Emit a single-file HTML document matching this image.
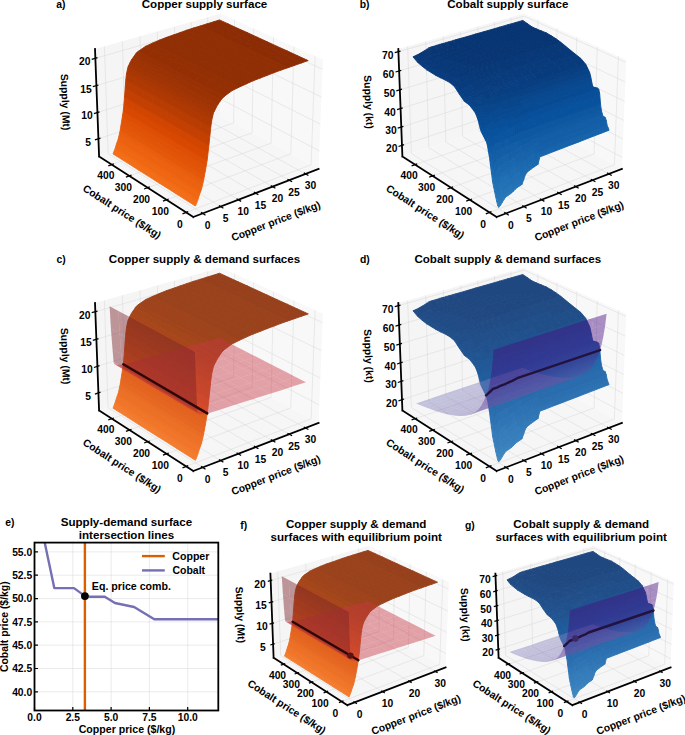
<!DOCTYPE html>
<html><head><meta charset="utf-8"><style>
html,body{margin:0;padding:0;background:#fff}
svg{display:block}
.gr{fill:none;stroke:#d2d2d2;stroke-width:4.3}
circle{fill:#000}
.ax{fill:none;stroke:#000;stroke-width:18;stroke-linecap:square}
.tk{fill:none;stroke:#000;stroke-width:13}
.tl{font-size:10.3px}
.al{font-size:10.4px}
text{font-family:"Liberation Sans",sans-serif;font-weight:bold;text-anchor:middle;fill:#000}
[class^=p]{fill-opacity:.45}
.eq{fill:none;stroke:#000;stroke-width:24;stroke-linecap:round;stroke-linejoin:round}
.p0{fill:#c73742}
.p1{fill:#b4313b}
.p2{fill:#a12c35}
.p3{fill:#8e272f}
.p4{fill:#7b2228}
.o0{fill:#f87f2c;stroke:#f87f2c}
.b0{fill:#5ba3d0;stroke:#5ba3d0}
.O0{fill:#f88b40;stroke:#f88b40}
.B0{fill:#6aabd4;stroke:#6aabd4}
.v0{fill:#b6b6d8;fill-opacity:.45}
.o1{fill:#f77b28;stroke:#f77b28}
.b1{fill:#57a0ce;stroke:#57a0ce}
.O1{fill:#f7873d;stroke:#f7873d}
.B1{fill:#67a9d2;stroke:#67a9d2}
.v1{fill:#b2b2d5;fill-opacity:.45}
.o2{fill:#f67824;stroke:#f67824}
.b2{fill:#539ecd;stroke:#539ecd}
.O2{fill:#f68539;stroke:#f68539}
.B2{fill:#63a7d1;stroke:#63a7d1}
.v2{fill:#aeadd3;fill-opacity:.45}
.o3{fill:#f57520;stroke:#f57520}
.b3{fill:#4f9bcb;stroke:#4f9bcb}
.O3{fill:#f58235;stroke:#f58235}
.B3{fill:#60a4cf;stroke:#60a4cf}
.v3{fill:#aba9d0;fill-opacity:.45}
.o4{fill:#f4711c;stroke:#f4711c}
.b4{fill:#4b98ca;stroke:#4b98ca}
.O4{fill:#f47e32;stroke:#f47e32}
.B4{fill:#5ca1ce;stroke:#5ca1ce}
.v4{fill:#a7a4ce;fill-opacity:.45}
.o5{fill:#f36e19;stroke:#f36e19}
.b5{fill:#4896c8;stroke:#4896c8}
.O5{fill:#f37c2f;stroke:#f37c2f}
.B5{fill:#59a0cd;stroke:#59a0cd}
.v5{fill:#a3a0cb;fill-opacity:.45}
.o6{fill:#f26b15;stroke:#f26b15}
.b6{fill:#4493c7;stroke:#4493c7}
.O6{fill:#f2792c;stroke:#f2792c}
.B6{fill:#569dcc;stroke:#569dcc}
.v6{fill:#9f9cc9;fill-opacity:.45}
.o7{fill:#f06712;stroke:#f06712}
.b7{fill:#4090c5;stroke:#4090c5}
.O7{fill:#f17529;stroke:#f17529}
.B7{fill:#529aca;stroke:#529aca}
.v7{fill:#9d99c7;fill-opacity:.45}
.o8{fill:#ee6410;stroke:#ee6410}
.b8{fill:#3d8dc4;stroke:#3d8dc4}
.O8{fill:#ef7327;stroke:#ef7327}
.B8{fill:#5098c9;stroke:#5098c9}
.v8{fill:#9995c6;fill-opacity:.45}
.o9{fill:#eb610f;stroke:#eb610f}
.b9{fill:#3a8ac2;stroke:#3a8ac2}
.O9{fill:#ec7026;stroke:#ec7026}
.B9{fill:#4d95c7;stroke:#4d95c7}
.v9{fill:#9591c4;fill-opacity:.45}
.o10{fill:#e95e0d;stroke:#e95e0d}
.b10{fill:#3787c0;stroke:#3787c0}
.O10{fill:#ea6d24;stroke:#ea6d24}
.B10{fill:#4a92c5;stroke:#4a92c5}
.v10{fill:#918ec2;fill-opacity:.45}
.o11{fill:#e75b0b;stroke:#e75b0b}
.b11{fill:#3484bf;stroke:#3484bf}
.O11{fill:#e86a22;stroke:#e86a22}
.B11{fill:#478fc4;stroke:#478fc4}
.v11{fill:#8e8ac0;fill-opacity:.45}
.o12{fill:#e4580a;stroke:#e4580a}
.b12{fill:#3181bd;stroke:#3181bd}
.O12{fill:#e66822;stroke:#e66822}
.B12{fill:#458dc3;stroke:#458dc3}
.v12{fill:#8a86bf;fill-opacity:.45}
.o13{fill:#e25508;stroke:#e25508}
.b13{fill:#2e7ebc;stroke:#2e7ebc}
.O13{fill:#e46520;stroke:#e46520}
.B13{fill:#428ac2;stroke:#428ac2}
.v13{fill:#8683bd;fill-opacity:.45}
.o14{fill:#e05206;stroke:#e05206}
.b14{fill:#2b7bba;stroke:#2b7bba}
.O14{fill:#e2621e;stroke:#e2621e}
.B14{fill:#3f87c0;stroke:#3f87c0}
.v14{fill:#827fbb;fill-opacity:.45}
.o15{fill:#de4e05;stroke:#de4e05}
.b15{fill:#2777b8;stroke:#2777b8}
.O15{fill:#e05f1d;stroke:#e05f1d}
.B15{fill:#3c84be;stroke:#3c84be}
.v15{fill:#7f7bb9;fill-opacity:.45}
.o16{fill:#db4b03;stroke:#db4b03}
.b16{fill:#2474b7;stroke:#2474b7}
.O16{fill:#de5c1b;stroke:#de5c1b}
.B16{fill:#3981bd;stroke:#3981bd}
.v16{fill:#7c75b6;fill-opacity:.45}
.o17{fill:#d94801;stroke:#d94801}
.b17{fill:#2171b5;stroke:#2171b5}
.O17{fill:#dc591a;stroke:#dc591a}
.B17{fill:#367ebc;stroke:#367ebc}
.v17{fill:#7970b3;fill-opacity:.45}
.o18{fill:#d64701;stroke:#d64701}
.b18{fill:#206fb4;stroke:#206fb4}
.O18{fill:#d9581a;stroke:#d9581a}
.B18{fill:#357cbb;stroke:#357cbb}
.v18{fill:#776ab0;fill-opacity:.45}
.o19{fill:#d14501;stroke:#d14501}
.b19{fill:#1d6cb1;stroke:#1d6cb1}
.O19{fill:#d5571a;stroke:#d5571a}
.B19{fill:#337ab8;stroke:#337ab8}
.v19{fill:#7465ad;fill-opacity:.45}
.o20{fill:#cd4401;stroke:#cd4401}
.b20{fill:#1b69af;stroke:#1b69af}
.O20{fill:#d1561a;stroke:#d1561a}
.B20{fill:#3177b6;stroke:#3177b6}
.v20{fill:#715faa;fill-opacity:.45}
.o21{fill:#c84202;stroke:#c84202}
.b21{fill:#1966ad;stroke:#1966ad}
.O21{fill:#cd541a;stroke:#cd541a}
.B21{fill:#2f74b4;stroke:#2f74b4}
.v21{fill:#6e5aa8;fill-opacity:.45}
.o22{fill:#c34002;stroke:#c34002}
.b22{fill:#1663aa;stroke:#1663aa}
.O22{fill:#c8521a;stroke:#c8521a}
.B22{fill:#2c72b2;stroke:#2c72b2}
.v22{fill:#6c54a5;fill-opacity:.45}
.o23{fill:#be3f02;stroke:#be3f02}
.b23{fill:#1460a8;stroke:#1460a8}
.O23{fill:#c4511a;stroke:#c4511a}
.B23{fill:#2b6fb0;stroke:#2b6fb0}
.v23{fill:#6950a3;fill-opacity:.45}
.o24{fill:#b93d02;stroke:#b93d02}
.b24{fill:#125da6;stroke:#125da6}
.O24{fill:#bf501a;stroke:#bf501a}
.B24{fill:#296cae;stroke:#296cae}
.v24{fill:#674ba0;fill-opacity:.45}
.o25{fill:#b53b02;stroke:#b53b02}
.b25{fill:#0f5aa3;stroke:#0f5aa3}
.O25{fill:#bc4e1a;stroke:#bc4e1a}
.B25{fill:#266aab;stroke:#266aab}
.v25{fill:#64459e;fill-opacity:.45}
.o26{fill:#b03903;stroke:#b03903}
.b26{fill:#0d57a1;stroke:#0d57a1}
.O26{fill:#b74c1b;stroke:#b74c1b}
.B26{fill:#2467aa;stroke:#2467aa}
.v26{fill:#61409b;fill-opacity:.45}
.o27{fill:#ab3803;stroke:#ab3803}
.b27{fill:#0a549e;stroke:#0a549e}
.O27{fill:#b24b1b;stroke:#b24b1b}
.B27{fill:#2264a7;stroke:#2264a7}
.v27{fill:#5e3b98;fill-opacity:.45}
.o28{fill:#a63603;stroke:#a63603}
.b28{fill:#08519c;stroke:#08519c}
.O28{fill:#ae491b;stroke:#ae491b}
.B28{fill:#2062a5;stroke:#2062a5}
.v28{fill:#5c3696;fill-opacity:.45}
.o29{fill:#a23503;stroke:#a23503}
.b29{fill:#084e98;stroke:#084e98}
.O29{fill:#aa481b;stroke:#aa481b}
.B29{fill:#205fa1;stroke:#205fa1}
.v29{fill:#593093;fill-opacity:.45}
.o30{fill:#9f3303;stroke:#9f3303}
.b30{fill:#084b93;stroke:#084b93}
.O30{fill:#a8461b;stroke:#a8461b}
.B30{fill:#205c9d;stroke:#205c9d}
.v30{fill:#562b91;fill-opacity:.45}
.o31{fill:#9b3203;stroke:#9b3203}
.b31{fill:#08488e;stroke:#08488e}
.O31{fill:#a4461b;stroke:#a4461b}
.B31{fill:#205998;stroke:#205998}
.v31{fill:#53268f;fill-opacity:.45}
.o32{fill:#973003;stroke:#973003}
.b32{fill:#08458a;stroke:#08458a}
.O32{fill:#a0441b;stroke:#a0441b}
.B32{fill:#205795;stroke:#205795}
.v32{fill:#51218c;fill-opacity:.45}
.o33{fill:#942f03;stroke:#942f03}
.b33{fill:#084285;stroke:#084285}
.O33{fill:#9e431b;stroke:#9e431b}
.B33{fill:#205490;stroke:#205490}
.v33{fill:#4e1c8a;fill-opacity:.45}
.o34{fill:#902e04;stroke:#902e04}
.b34{fill:#083e81;stroke:#083e81}
.O34{fill:#9a421c;stroke:#9a421c}
.B34{fill:#20508d;stroke:#20508d}
.v34{fill:#4c1788;fill-opacity:.45}
.o35{fill:#8c2c04;stroke:#8c2c04}
.b35{fill:#083b7c;stroke:#083b7c}
.O35{fill:#97401c;stroke:#97401c}
.B35{fill:#204e88;stroke:#204e88}
.v35{fill:#491285;fill-opacity:.45}
.o36{fill:#892b04;stroke:#892b04}
.b36{fill:#083877;stroke:#083877}
.O36{fill:#943f1c;stroke:#943f1c}
.B36{fill:#204b84;stroke:#204b84}
.v36{fill:#460d83;fill-opacity:.45}
.o37{fill:#852904;stroke:#852904}
.b37{fill:#083573;stroke:#083573}
.O37{fill:#903e1c;stroke:#903e1c}
.B37{fill:#204880;stroke:#204880}
.v37{fill:#440981;fill-opacity:.45}
.o38{fill:#812804;stroke:#812804}
.b38{fill:#08326e;stroke:#08326e}
.O38{fill:#8d3d1c;stroke:#8d3d1c}
.B38{fill:#20467c;stroke:#20467c}
.v38{fill:#41047f;fill-opacity:.45}
.o39{fill:#7f2704;stroke:#7f2704}
.b39{fill:#08306b;stroke:#08306b}
.O39{fill:#8b3c1c;stroke:#8b3c1c}
.B39{fill:#204479;stroke:#204479}
.v39{fill:#3f007d;fill-opacity:.45}
[class^=o],[class^=b],[class^=O],[class^=B]{stroke-width:9;stroke-linejoin:round}
</style></head><body>
<svg width="685" height="735" viewBox="0 0 685 735">
<rect width="685" height="735" fill="#fff"/>
<g transform="scale(.1)">
<path fill="#f8f8f8" d="M3186 1689l-982-531 4-1022 1021 462z"/>
<path fill="#f5f5f5" d="M991 1565l1213-407 4-1022-1258 354z"/>
<path fill="#f6f6f6" d="M1933 2170l1253-481-982-531-1213 407z"/>
<path class="gr" d="M2027 2134l-946-599-37-1071M2206 2065l-951-588-31-1064M2382 1997l-957-577-25-1057M2555 1931l-963-568-18-1049M2725 1866l-968-558-12-1042M2892 1802l-974-548-6-1035M3055 1739l-978-538 0-1028M3151 563l-40 1085-1250 476M2940 467l-32 1072-1242 459M2735 374l-24 1058-1234 445M2537 285l-16 1044-1227 431M2346 198l-9 1032-1219 416M984 1388l1221-399 988 520M974 1125l1232-386 997 503M964 856l1243-372 1007 486M953 583l1255-359 1017 468"/>
<path class="ax" d="M3186 1689l-1253 481M991 1565l942 605M991 1565l-41-1075"/>
<path class="tk" d="M2010 2123l45 29M2190 2055l44 27M2366 1987l45 27M2539 1921l45 27M2708 1856l46 26M2875 1792l46 26M3038 1729l46 26M1882 2116l-57 22M1687 1990l-58 22M1498 1869l-57 21M1315 1752l-56 20M1139 1639l-56 20M1005 1381l-56 18M995 1118l-56 18M985 850l-57 17M975 577l-58 17"/>
<path class="o35" d="M2222 262l66-20-93-43-65 21zM2156 283l66-21-92-42-65 20zM2090 304l66-21-91-43-66 21zM2316 305l65-20-93-43-66 20z"/>
<path class="o34" d="M2023 325l67-21-91-43-67 20z"/>
<path class="o35" d="M2250 327l66-22-94-43-66 21z"/>
<path class="o34" d="M1956 347l67-22-91-44-67 22z"/>
<path class="o35" d="M2183 348l67-21-94-44-66 21zM2411 349l66-21-96-43-65 20z"/>
<path class="o34" d="M1889 371l67-24-91-44-67 24zM2116 369l67-21-93-44-67 21z"/>
<path class="o35" d="M2345 371l66-22-95-44-66 22z"/>
<path class="o5" d="M1216 1593l8-20-86-54-8 20zM1224 1573l8-20-86-54-8 20z"/>
<path class="o6" d="M1232 1553l8-25-86-53-8 24z"/>
<path class="o7" d="M1240 1528l8-26-86-54-8 27z"/>
<path class="o34" d="M1820 395l69-24-91-44-68 24z"/>
<path class="o7" d="M1248 1502l8-26-86-53-8 25z"/>
<path class="o8" d="M1256 1476l9-21-86-53-9 21z"/>
<path class="o9" d="M1265 1455l8-28-87-53-7 28z"/>
<path class="o34" d="M2049 392l67-23-93-44-67 22z"/>
<path class="o9" d="M1273 1427l8-35-87-53-8 35z"/>
<path class="o10" d="M1281 1392l8-37-87-53-8 37z"/>
<path class="o35" d="M2278 392l67-21-95-44-67 21z"/>
<path class="o12" d="M1289 1355l7-45-87-52-7 44z"/>
<path class="o34" d="M1752 419l68-24-90-44-69 24z"/>
<path class="o35" d="M2508 394l66-21-97-45-66 21z"/>
<path class="o13" d="M1296 1310l8-46-87-52-8 46z"/>
<path class="o34" d="M1981 416l68-24-93-45-67 24z"/>
<path class="o14" d="M1304 1264l7-49-87-52-7 49z"/>
<path class="o34" d="M2211 414l67-22-95-44-67 21z"/>
<path class="o15" d="M1311 1215l8-50-87-51-8 49z"/>
<path class="o34" d="M1683 448l69-29-91-44-68 27z"/>
<path class="o35" d="M2441 416l67-22-97-45-66 22z"/>
<path class="o5" d="M1303 1648l8-20-87-55-8 20zM1311 1628l8-21-87-54-8 20z"/>
<path class="o6" d="M1319 1607l9-24-88-55-8 25z"/>
<path class="o17" d="M1319 1165l7-69-87-51-7 69z"/>
<path class="o7" d="M1328 1583l8-27-88-54-8 26z"/>
<path class="o34" d="M1913 441l68-25-92-45-69 24z"/>
<path class="o7" d="M1336 1556l8-26-88-54-8 26z"/>
<path class="o8" d="M1344 1530l8-21-87-54-9 21z"/>
<path class="o9" d="M1352 1509l9-28-88-54-8 28z"/>
<path class="o34" d="M2143 437l68-23-95-45-67 23z"/>
<path class="o9" d="M1361 1481l8-36-88-53-8 35z"/>
<path class="o19" d="M1326 1096l7-75-88-50-6 74z"/>
<path class="o34" d="M1613 478l70-30-90-46-70 30z"/>
<path class="o10" d="M1369 1445l7-37-87-53-8 37z"/>
<path class="o35" d="M2374 438l67-22-96-45-67 21z"/>
<path class="o12" d="M1376 1408l8-45-88-53-7 45z"/>
<path class="o34" d="M1844 465l69-24-93-46-68 24z"/>
<path class="o35" d="M2606 440l66-22-98-45-66 21z"/>
<path class="o22" d="M1333 1021l7-91-88-50-7 91z"/>
<path class="o13" d="M1384 1363l8-47-88-52-8 46z"/>
<path class="o34" d="M2075 462l68-25-94-45-68 24z"/>
<path class="o33" d="M1544 510l69-32-90-46-69 32z"/>
<path class="o14" d="M1392 1316l8-49-89-52-7 49z"/>
<path class="o34" d="M2307 460l67-22-96-46-67 22z"/>
<path class="o15" d="M1400 1267l8-50-89-52-8 50z"/>
<path class="o24" d="M1340 930l6-82-88-49-6 81z"/>
<path class="o34" d="M1775 494l69-29-92-46-69 29z"/>
<path class="o35" d="M2539 462l67-22-98-46-67 22z"/>
<path class="o5" d="M1391 1704l9-20-89-56-8 20zM1400 1684l8-21-89-56-8 21z"/>
<path class="o6" d="M1408 1663l8-25-88-55-9 24z"/>
<path class="o17" d="M1408 1217l7-70-89-51-7 69z"/>
<path class="o7" d="M1416 1638l9-27-89-55-8 27z"/>
<path class="o33" d="M1474 559l70-49-90-46-70 49z"/>
<path class="o34" d="M2007 487l68-25-94-46-68 25z"/>
<path class="o26" d="M1346 848l8-61-89-48-7 60z"/>
<path class="o7" d="M1425 1611l8-26-89-55-8 26z"/>
<path class="o8" d="M1433 1585l8-22-89-54-8 21z"/>
<path class="o9" d="M1441 1563l9-28-89-54-9 28z"/>
<path class="o34" d="M2239 483l68-23-96-46-68 23z"/>
<path class="o32" d="M1465 567l9-8-90-46-8 7z"/>
<path class="o27" d="M1354 787l8-39-89-48-8 39z"/>
<path class="o9" d="M1450 1535l8-35-89-55-8 36z"/>
<path class="o32" d="M1456 575l9-8-89-47-9 8z"/>
<path class="o19" d="M1415 1147l7-75-89-51-7 75z"/>
<path class="o32" d="M1447 583l9-8-89-47-9 8z"/>
<path class="o34" d="M1705 524l70-30-92-46-70 30z"/>
<path class="o32" d="M1439 596l8-13-89-47-8 13z"/>
<path class="o28" d="M1362 748l8-34-89-48-8 34z"/>
<path class="o10" d="M1458 1500l8-38-90-54-7 37z"/>
<path class="o31" d="M1430 608l9-12-89-47-9 12zM1421 621l9-13-89-47-9 13z"/>
<path class="o35" d="M2472 484l67-22-98-46-67 22z"/>
<path class="o31" d="M1413 633l8-12-89-47-8 12z"/>
<path class="o29" d="M1370 714l8-18-88-48-9 18zM1378 696l9-18-89-47-8 17z"/>
<path class="o31" d="M1404 646l9-13-89-47-9 12z"/>
<path class="o30" d="M1387 678l9-16-89-47-9 16zM1396 662l8-16-89-48-8 17z"/>
<path class="o12" d="M1466 1462l8-46-90-53-8 45z"/>
<path class="o34" d="M1937 512l70-25-94-46-69 24z"/>
<path class="o35" d="M2706 486l66-22-100-46-66 22z"/>
<path class="o22" d="M1422 1072l7-92-89-50-7 91z"/>
<path class="o13" d="M1474 1416l8-46-90-54-8 47z"/>
<path class="o34" d="M2171 508l68-25-96-46-68 25z"/>
<path class="o33" d="M1635 556l70-32-92-46-69 32z"/>
<path class="o14" d="M1482 1370l8-50-90-53-8 49z"/>
<path class="o34" d="M2405 506l67-22-98-46-67 22z"/>
<path class="o15" d="M1490 1320l8-50-90-53-8 50z"/>
<path class="o24" d="M1429 980l7-82-90-50-6 82z"/>
<path class="o34" d="M1868 540l69-28-93-47-69 29z"/>
<path class="o35" d="M2639 508l67-22-100-46-67 22z"/>
<path class="o5" d="M1481 1761l9-21-90-56-9 20zM1490 1740l8-21-90-56-8 21z"/>
<path class="o6" d="M1498 1719l9-24-91-57-8 25z"/>
<path class="o17" d="M1498 1270l7-71-90-52-7 70z"/>
<path class="o7" d="M1507 1695l8-28-90-56-9 27z"/>
<path class="o33" d="M1564 607l71-51-91-46-70 49z"/>
<path class="o34" d="M2102 533l69-25-96-46-68 25z"/>
<path class="o26" d="M1436 898l8-61-90-50-8 61z"/>
<path class="o7" d="M1515 1667l8-26-90-56-8 26z"/>
<path class="o8" d="M1523 1641l9-22-91-56-8 22z"/>
<path class="o9" d="M1532 1619l8-28-90-56-9 28z"/>
<path class="o34" d="M2336 530l69-24-98-46-68 23z"/>
<path class="o32" d="M1556 615l8-8-90-48-9 8z"/>
<path class="o27" d="M1444 837l8-40-90-49-8 39z"/>
<path class="o9" d="M1540 1591l9-36-91-55-8 35z"/>
<path class="o32" d="M1547 623l9-8-91-48-9 8z"/>
<path class="o19" d="M1505 1199l8-76-91-51-7 75z"/>
<path class="o32" d="M1538 631l9-8-91-48-9 8z"/>
<path class="o34" d="M1798 571l70-31-93-46-70 30z"/>
<path class="o32" d="M1529 644l9-13-91-48-8 13z"/>
<path class="o28" d="M1452 797l8-35-90-48-8 34z"/>
<path class="o10" d="M1549 1555l8-38-91-55-8 38z"/>
<path class="o31" d="M1521 656l8-12-90-48-9 12zM1512 669l9-13-91-48-9 13z"/>
<path class="o35" d="M2572 531l67-23-100-46-67 22z"/>
<path class="o31" d="M1503 681l9-12-91-48-8 12z"/>
<path class="o29" d="M1460 762l9-17-91-49-8 18zM1469 745l8-18-90-49-9 18z"/>
<path class="o31" d="M1495 694l8-13-90-48-9 13z"/>
<path class="o30" d="M1477 727l9-17-90-48-9 16zM1486 710l9-16-91-48-8 16z"/>
<path class="o12" d="M1557 1517l8-46-91-55-8 46z"/>
<path class="o34" d="M2033 559l69-26-95-46-70 25z"/>
<path class="o35" d="M2807 533l67-23-102-46-66 22z"/>
<path class="o22" d="M1513 1123l7-92-91-51-7 92z"/>
<path class="o13" d="M1565 1471l8-47-91-54-8 46z"/>
<path class="o34" d="M2268 556l68-26-97-47-68 25z"/>
<path class="o33" d="M1727 604l71-33-93-47-70 32z"/>
<path class="o14" d="M1573 1424l8-50-91-54-8 50z"/>
<path class="o34" d="M2504 554l68-23-100-47-67 22z"/>
<path class="o15" d="M1581 1374l8-50-91-54-8 50z"/>
<path class="o24" d="M1520 1031l7-83-91-50-7 82z"/>
<path class="o34" d="M1963 588l70-29-96-47-69 28z"/>
<path class="o35" d="M2740 556l67-23-101-47-67 22z"/>
<path class="o5" d="M1573 1819l8-21-91-58-9 21zM1581 1798l9-21-92-58-8 21z"/>
<path class="o6" d="M1590 1777l8-25-91-57-9 24z"/>
<path class="o17" d="M1589 1324l8-71-92-54-7 71z"/>
<path class="o7" d="M1598 1752l9-28-92-57-8 28z"/>
<path class="o33" d="M1657 655l70-51-92-48-71 51z"/>
<path class="o34" d="M2199 581l69-25-97-48-69 25z"/>
<path class="o26" d="M1527 948l8-61-91-50-8 61z"/>
<path class="o7" d="M1607 1724l8-26-92-57-8 26z"/>
<path class="o8" d="M1615 1698l9-22-92-57-9 22z"/>
<path class="o9" d="M1624 1676l8-29-92-56-8 28z"/>
<path class="o34" d="M2435 578l69-24-99-48-69 24z"/>
<path class="o32" d="M1648 663l9-8-93-48-8 8z"/>
<path class="o27" d="M1535 887l8-40-91-50-8 40z"/>
<path class="o9" d="M1632 1647l9-36-92-56-9 36z"/>
<path class="o32" d="M1639 671l9-8-92-48-9 8z"/>
<path class="o19" d="M1597 1253l8-77-92-53-8 76z"/>
<path class="o32" d="M1630 679l9-8-92-48-9 8z"/>
<path class="o34" d="M1892 619l71-31-95-48-70 31z"/>
<path class="o32" d="M1622 692l8-13-92-48-9 13z"/>
<path class="o28" d="M1543 847l9-35-92-50-8 35z"/>
<path class="o10" d="M1641 1611l8-38-92-56-8 38z"/>
<path class="o31" d="M1613 705l9-13-93-48-8 12zM1604 718l9-13-92-49-9 13z"/>
<path class="o35" d="M2673 579l67-23-101-48-67 23z"/>
<path class="o31" d="M1595 730l9-12-92-49-9 12z"/>
<path class="o29" d="M1552 812l8-18-91-49-9 17zM1560 794l9-18-92-49-8 18z"/>
<path class="o31" d="M1586 743l9-13-92-49-8 13z"/>
<path class="o30" d="M1569 776l9-16-92-50-9 17zM1578 760l8-17-91-49-9 16z"/>
<path class="o12" d="M1649 1573l9-46-93-56-8 46z"/>
<path class="o34" d="M2129 607l70-26-97-48-69 26z"/>
<path class="o35" d="M2910 581l67-23-103-48-67 23z"/>
<path class="o22" d="M1605 1176l7-93-92-52-7 92z"/>
<path class="o13" d="M1658 1527l8-48-93-55-8 47z"/>
<path class="o34" d="M2367 604l68-26-99-48-68 26z"/>
<path class="o33" d="M1822 653l70-34-94-48-71 33z"/>
<path class="o14" d="M1666 1479l8-50-93-55-8 50z"/>
<path class="o34" d="M2605 602l68-23-101-48-68 23z"/>
<path class="o15" d="M1674 1429l8-51-93-54-8 50z"/>
<path class="o24" d="M1612 1083l8-83-93-52-7 83z"/>
<path class="o34" d="M2059 636l70-29-96-48-70 29z"/>
<path class="o35" d="M2843 604l67-23-103-48-67 23z"/>
<path class="o5" d="M1666 1877l8-21-93-58-8 21zM1674 1856l9-21-93-58-9 21z"/>
<path class="o6" d="M1683 1835l9-25-94-58-8 25z"/>
<path class="o17" d="M1682 1378l8-71-93-54-8 71z"/>
<path class="o7" d="M1692 1810l8-28-93-58-9 28z"/>
<path class="o33" d="M1751 704l71-51-95-49-70 51z"/>
<path class="o34" d="M2297 629l70-25-99-48-69 25z"/>
<path class="o26" d="M1620 1000l8-62-93-51-8 61z"/>
<path class="o7" d="M1700 1782l9-27-94-57-8 26z"/>
<path class="o8" d="M1709 1755l9-22-94-57-9 22z"/>
<path class="o9" d="M1718 1733l8-28-94-58-8 29z"/>
<path class="o34" d="M2536 626l69-24-101-48-69 24z"/>
<path class="o32" d="M1742 712l9-8-94-49-9 8z"/>
<path class="o27" d="M1628 938l8-40-93-51-8 40z"/>
<path class="o9" d="M1726 1705l9-37-94-57-9 36z"/>
<path class="o32" d="M1733 720l9-8-94-49-9 8z"/>
<path class="o19" d="M1690 1307l8-78-93-53-8 77z"/>
<path class="o32" d="M1724 729l9-9-94-49-9 8z"/>
<path class="o34" d="M1989 668l70-32-96-48-71 31z"/>
<path class="o32" d="M1715 742l9-13-94-50-8 13z"/>
<path class="o28" d="M1636 898l9-36-93-50-9 35z"/>
<path class="o10" d="M1735 1668l8-38-94-57-8 38z"/>
<path class="o31" d="M1706 754l9-12-93-50-9 13zM1698 767l8-13-93-49-9 13z"/>
<path class="o35" d="M2776 627l67-23-103-48-67 23z"/>
<path class="o31" d="M1689 780l9-13-94-49-9 12z"/>
<path class="o29" d="M1645 862l9-18-94-50-8 18zM1654 844l8-18-93-50-9 18z"/>
<path class="o31" d="M1680 793l9-13-94-50-9 13z"/>
<path class="o30" d="M1662 826l9-16-93-50-9 16zM1671 810l9-17-94-50-8 17z"/>
<path class="o12" d="M1743 1630l9-47-94-56-9 46z"/>
<path class="o34" d="M2228 656l69-27-98-48-70 26z"/>
<path class="o35" d="M3015 629l67-23-105-48-67 23z"/>
<path class="o22" d="M1698 1229l8-93-94-53-7 93z"/>
<path class="o13" d="M1752 1583l8-47-94-57-8 48z"/>
<path class="o34" d="M2467 652l69-26-101-48-68 26z"/>
<path class="o33" d="M1918 702l71-34-97-49-70 34z"/>
<path class="o14" d="M1760 1536l9-51-95-56-8 50z"/>
<path class="o34" d="M2707 651l69-24-103-48-68 23z"/>
<path class="o15" d="M1769 1485l8-51-95-56-8 51z"/>
<path class="o24" d="M1706 1136l8-84-94-52-8 83z"/>
<path class="o34" d="M2157 686l71-30-99-49-70 29z"/>
<path class="o35" d="M2948 653l67-24-105-48-67 23z"/>
<path class="o5" d="M1760 1937l9-21-95-60-8 21zM1769 1916l9-21-95-60-9 21z"/>
<path class="o6" d="M1778 1895l9-26-95-59-9 25z"/>
<path class="o17" d="M1777 1434l8-72-95-55-8 71z"/>
<path class="o7" d="M1787 1869l8-28-95-59-8 28z"/>
<path class="o33" d="M1846 754l72-52-96-49-71 51z"/>
<path class="o34" d="M2398 679l69-27-100-48-70 25z"/>
<path class="o26" d="M1714 1052l8-63-94-51-8 62z"/>
<path class="o7" d="M1795 1841l9-27-95-59-9 27z"/>
<path class="o8" d="M1804 1814l9-22-95-59-9 22z"/>
<path class="o9" d="M1813 1792l9-29-96-58-8 28z"/>
<path class="o34" d="M2639 676l68-25-102-49-69 24z"/>
<path class="o32" d="M1837 762l9-8-95-50-9 8z"/>
<path class="o27" d="M1722 989l9-40-95-51-8 40z"/>
<path class="o9" d="M1822 1763l8-37-95-58-9 37z"/>
<path class="o32" d="M1828 770l9-8-95-50-9 8z"/>
<path class="o19" d="M1785 1362l9-78-96-55-8 78z"/>
<path class="o32" d="M1820 779l8-9-95-50-9 9z"/>
<path class="o34" d="M2086 718l71-32-98-50-70 32z"/>
<path class="o32" d="M1811 792l9-13-96-50-9 13z"/>
<path class="o28" d="M1731 949l9-35-95-52-9 36z"/>
<path class="o10" d="M1830 1726l9-38-96-58-8 38z"/>
<path class="o31" d="M1802 805l9-13-96-50-9 12zM1793 818l9-13-96-51-8 13z"/>
<path class="o35" d="M2880 677l68-24-105-49-67 23z"/>
<path class="o31" d="M1784 831l9-13-95-51-9 13z"/>
<path class="o29" d="M1740 914l8-19-94-51-9 18zM1748 895l9-18-95-51-8 18z"/>
<path class="o31" d="M1775 843l9-12-95-51-9 13z"/>
<path class="o30" d="M1757 877l9-17-95-50-9 16zM1766 860l9-17-95-50-9 17z"/>
<path class="o12" d="M1839 1688l9-47-96-58-9 47z"/>
<path class="o34" d="M2328 705l70-26-101-50-69 27z"/>
<path class="o22" d="M1794 1284l8-94-96-54-8 93z"/>
<path class="o13" d="M1848 1641l8-48-96-57-8 47z"/>
<path class="o34" d="M2569 702l70-26-103-50-69 26z"/>
<path class="o33" d="M2015 752l71-34-97-50-71 34z"/>
<path class="o14" d="M1856 1593l9-52-96-56-9 51z"/>
<path class="o34" d="M2812 700l68-23-104-50-69 24z"/>
<path class="o15" d="M1865 1541l8-51-96-56-8 51z"/>
<path class="o24" d="M1802 1190l8-85-96-53-8 84z"/>
<path class="o34" d="M2257 736l71-31-100-49-71 30z"/>
<path class="o5" d="M1856 1998l9-21-96-61-9 21zM1865 1977l9-22-96-60-9 21z"/>
<path class="o6" d="M1874 1955l9-26-96-60-9 26z"/>
<path class="o17" d="M1873 1490l9-73-97-55-8 72z"/>
<path class="o7" d="M1883 1929l9-28-97-60-8 28z"/>
<path class="o33" d="M1944 804l71-52-97-50-72 52z"/>
<path class="o34" d="M2500 729l69-27-102-50-69 27z"/>
<path class="o26" d="M1810 1105l8-63-96-53-8 63z"/>
<path class="o7" d="M1892 1901l9-27-97-60-9 27z"/>
<path class="o8" d="M1901 1874l9-22-97-60-9 22z"/>
<path class="o9" d="M1910 1852l8-30-96-59-9 29z"/>
<path class="o34" d="M2743 726l69-26-105-49-68 25z"/>
<path class="o32" d="M1935 813l9-9-98-50-9 8z"/>
<path class="o27" d="M1818 1042l9-40-96-53-9 40z"/>
<path class="o9" d="M1918 1822l9-37-97-59-8 37z"/>
<path class="o32" d="M1926 821l9-8-98-51-9 8z"/>
<path class="o19" d="M1882 1417l8-78-96-55-9 78z"/>
<path class="o32" d="M1917 830l9-9-98-51-8 9z"/>
<path class="o34" d="M2186 768l71-32-100-50-71 32z"/>
<path class="o32" d="M1908 843l9-13-97-51-9 13z"/>
<path class="o28" d="M1827 1002l9-36-96-52-9 35z"/>
<path class="o10" d="M1927 1785l9-39-97-58-9 38z"/>
<path class="o31" d="M1899 856l9-13-97-51-9 13zM1890 869l9-13-97-51-9 13zM1881 882l9-13-97-51-9 13z"/>
<path class="o29" d="M1836 966l9-19-97-52-8 19zM1845 947l9-18-97-52-9 18z"/>
<path class="o31" d="M1872 895l9-13-97-51-9 12z"/>
<path class="o30" d="M1854 929l9-17-97-52-9 17zM1863 912l9-17-97-52-9 17z"/>
<path class="o12" d="M1936 1746l9-47-97-58-9 47z"/>
<path class="o34" d="M2429 756l71-27-102-50-70 26z"/>
<path class="o22" d="M1890 1339l9-95-97-54-8 94z"/>
<path class="o13" d="M1945 1699l9-48-98-58-8 48z"/>
<path class="o34" d="M2673 753l70-27-104-50-70 26z"/>
<path class="o33" d="M2114 803l72-35-100-50-71 34z"/>
<path class="o14" d="M1954 1651l9-52-98-58-9 52z"/>
<path class="o15" d="M1963 1599l8-52-98-57-8 51z"/>
<path class="o24" d="M1899 1244l8-85-97-54-8 85z"/>
<path class="o34" d="M2359 787l70-31-101-51-71 31z"/>
<path class="o5" d="M1954 2060l9-22-98-61-9 21zM1963 2038l9-21-98-62-9 22z"/>
<path class="o6" d="M1972 2017l9-26-98-62-9 26z"/>
<path class="o17" d="M1971 1547l9-73-98-57-9 73z"/>
<path class="o7" d="M1981 1991l9-29-98-61-9 28z"/>
<path class="o33" d="M2042 856l72-53-99-51-71 52z"/>
<path class="o34" d="M2603 780l70-27-104-51-69 27z"/>
<path class="o26" d="M1907 1159l9-63-98-54-8 63z"/>
<path class="o7" d="M1990 1962l9-27-98-61-9 27z"/>
<path class="o8" d="M1999 1935l9-23-98-60-9 22z"/>
<path class="o9" d="M2008 1912l9-29-99-61-8 30z"/>
<path class="o32" d="M2033 865l9-9-98-52-9 9z"/>
<path class="o27" d="M1916 1096l9-41-98-53-9 40z"/>
<path class="o9" d="M2017 1883l9-37-99-61-9 37z"/>
<path class="o32" d="M2024 873l9-8-98-52-9 8z"/>
<path class="o19" d="M1980 1474l9-78-99-57-8 78z"/>
<path class="o32" d="M2015 882l9-9-98-52-9 9z"/>
<path class="o34" d="M2287 820l72-33-102-51-71 32z"/>
<path class="o32" d="M2006 895l9-13-98-52-9 13z"/>
<path class="o28" d="M1925 1055l9-36-98-53-9 36z"/>
<path class="o10" d="M2026 1846l9-40-99-60-9 39z"/>
<path class="o31" d="M1997 908l9-13-98-52-9 13zM1988 921l9-13-98-52-9 13zM1979 934l9-13-98-52-9 13z"/>
<path class="o29" d="M1934 1019l9-19-98-53-9 19zM1943 1000l9-18-98-53-9 18z"/>
<path class="o31" d="M1970 948l9-14-98-52-9 13z"/>
<path class="o30" d="M1952 982l9-17-98-53-9 17zM1961 965l9-17-98-53-9 17z"/>
<path class="o12" d="M2035 1806l9-47-99-60-9 47z"/>
<path class="o34" d="M2533 807l70-27-103-51-71 27z"/>
<path class="o22" d="M1989 1396l9-96-99-56-9 95z"/>
<path class="o13" d="M2044 1759l9-49-99-59-9 48z"/>
<path class="o33" d="M2215 855l72-35-101-52-72 35z"/>
<path class="o14" d="M2053 1710l9-52-99-59-9 52z"/>
<path class="o15" d="M2062 1658l9-52-100-59-8 52z"/>
<path class="o24" d="M1998 1300l9-86-100-55-8 85z"/>
<path class="o34" d="M2462 839l71-32-104-51-70 31z"/>
<path class="o17" d="M2071 1606l9-74-100-58-9 73z"/>
<path class="o33" d="M2143 908l72-53-101-52-72 53z"/>
<path class="o26" d="M2007 1214l9-64-100-54-9 63z"/>
<path class="o32" d="M2134 917l9-9-101-52-9 9z"/>
<path class="o27" d="M2016 1150l9-41-100-54-9 41z"/>
<path class="o32" d="M2125 926l9-9-101-52-9 8z"/>
<path class="o19" d="M2080 1532l9-79-100-57-9 78z"/>
<path class="o32" d="M2116 934l9-8-101-53-9 9z"/>
<path class="o34" d="M2390 872l72-33-103-52-72 33z"/>
<path class="o32" d="M2107 948l9-14-101-52-9 13z"/>
<path class="o28" d="M2025 1109l9-36-100-54-9 36z"/>
<path class="o31" d="M2098 961l9-13-101-53-9 13zM2088 974l10-13-101-53-9 13zM2079 988l9-14-100-53-9 13z"/>
<path class="o29" d="M2034 1073l9-19-100-54-9 19zM2043 1054l9-18-100-54-9 18z"/>
<path class="o31" d="M2070 1001l9-13-100-54-9 14z"/>
<path class="o30" d="M2052 1036l9-18-100-53-9 17zM2061 1018l9-17-100-53-9 17z"/>
<path class="o22" d="M2089 1453l10-96-101-57-9 96z"/>
<path class="o33" d="M2318 908l72-36-103-52-72 35z"/>
<path class="o24" d="M2099 1357l9-87-101-56-9 86z"/>
<path class="o33" d="M2245 962l73-54-103-53-72 53z"/>
<path class="o26" d="M2108 1270l9-64-101-56-9 64z"/>
<path class="o32" d="M2236 971l9-9-102-54-9 9z"/>
<path class="o27" d="M2117 1206l9-41-101-56-9 41z"/>
<path class="o32" d="M2227 979l9-8-102-54-9 9zM2218 988l9-9-102-53-9 8zM2209 1002l9-14-102-54-9 14z"/>
<path class="o28" d="M2126 1165l9-37-101-55-9 36z"/>
<path class="o31" d="M2200 1015l9-13-102-54-9 13zM2190 1028l10-13-102-54-10 13zM2181 1042l9-14-102-54-9 14z"/>
<path class="o29" d="M2135 1128l10-19-102-55-9 19zM2145 1109l9-19-102-54-9 18z"/>
<path class="o31" d="M2172 1055l9-13-102-54-9 13z"/>
<path class="o30" d="M2154 1090l9-17-102-55-9 18zM2163 1073l9-18-102-54-9 17z"/>

</g>
<text class="tl" x="207.6" y="229.2">0</text>
<text class="tl" x="225.5" y="222.2">5</text>
<text class="tl" x="243.2" y="215.4">10</text>
<text class="tl" x="260.5" y="208.6">15</text>
<text class="tl" x="277.4" y="202">20</text>
<text class="tl" x="294.1" y="195.5">25</text>
<text class="tl" x="310.4" y="189.2">30</text>
<text class="al" x="277.1" y="224.4" transform="rotate(-21 277.1 224.4)">Copper price ($/kg)</text>
<text class="tl" x="179.8" y="227.5">0</text>
<text class="tl" x="160.3" y="214.8">100</text>
<text class="tl" x="141.5" y="202.5">200</text>
<text class="tl" x="123.3" y="190.7">300</text>
<text class="tl" x="105.8" y="179.2">400</text>
<text class="al" x="120.1" y="214.7" transform="rotate(-327.3 120.1 214.7)">Cobalt price ($/kg)</text>
<text class="tl" x="88.1" y="145.7">5</text>
<text class="tl" x="87" y="119.4">10</text>
<text class="tl" x="85.9" y="92.6">15</text>
<text class="tl" x="84.7" y="65.3">20</text>
<text class="al" x="61.8" y="102.2" transform="rotate(-272.2 61.8 102.2)">Supply (Mt)</text>
<g transform="scale(.1)">
<path fill="#f8f8f8" d="M6219 1689l-982-531 4-1022 1021 462z"/>
<path fill="#f5f5f5" d="M4024 1565l1213-407 4-1022-1258 354z"/>
<path fill="#f6f6f6" d="M4966 2170l1253-481-982-531-1213 407z"/>
<path class="gr" d="M5060 2134l-946-599-37-1071M5239 2065l-951-588-31-1064M5415 1997l-957-577-25-1057M5588 1931l-963-568-18-1049M5758 1866l-968-558-12-1042M5925 1802l-974-548-6-1035M6088 1739l-978-538 0-1028M6184 563l-40 1085-1250 476M5973 467l-32 1072-1242 459M5768 374l-24 1058-1234 445M5570 285l-16 1044-1227 431M5379 198l-9 1032-1219 416M4020 1453l1217-402 986 524M4013 1271l1225-393 992 512M4006 1086l1233-384 999 501M3999 899l1241-375 1005 489M3991 709l1249-365 1013 476M3984 517l1257-356 1020 464"/>
<path class="ax" d="M6219 1689l-1253 481M4024 1565l942 605M4024 1565l-41-1075"/>
<path class="tk" d="M5043 2123l45 29M5223 2055l44 27M5399 1987l45 27M5572 1921l45 27M5741 1856l46 26M5908 1792l46 26M6071 1729l46 26M4915 2116l-57 22M4720 1990l-58 22M4531 1869l-57 21M4348 1752l-56 20M4172 1639l-56 20M4041 1446l-56 19M4034 1264l-57 18M4027 1079l-57 18M4020 892l-57 17M4013 703l-58 17M4005 511l-58 16"/>
<path class="b37" d="M5197 260l78-23-47-33-77 23zM5244 293l78-23-47-33-78 23zM5119 282l78-22-46-33-78 22zM5291 314l78-23-47-21-78 23zM5166 316l78-23-47-33-78 22zM5040 305l79-23-46-33-79 23zM5338 333l78-23-47-19-78 23zM5213 337l78-23-47-21-78 23zM5087 339l79-23-47-34-79 23zM4961 329l79-24-46-33-79 23zM5386 353l78-24-48-19-78 23zM5260 357l78-24-47-19-78 23zM5134 361l79-24-47-21-79 23zM5007 362l80-23-47-34-79 24zM4881 352l80-23-46-34-80 23zM5435 382l78-24-49-29-78 24zM5308 377l78-24-48-20-78 24zM5181 381l79-24-47-20-79 24zM5054 384l80-23-47-22-80 23zM4927 386l80-24-46-33-80 23zM4800 376l81-24-46-34-81 23zM5483 412l78-24-48-30-78 24zM5356 406l79-24-49-29-78 24zM5228 401l80-24-48-20-79 24zM5101 404l80-23-47-20-80 23zM4974 408l80-24-47-22-80 24zM4846 410l81-24-46-34-81 24zM4718 399l82-23-46-35-81 24zM5532 448l78-24-49-36-78 24zM5404 436l79-24-48-30-79 24zM5276 430l80-24-48-29-80 24zM5148 425l80-24-47-20-80 23zM5020 429l81-25-47-20-80 24zM4892 432l82-24-47-22-81 24zM4764 434l82-24-46-34-82 23zM4636 423l82-24-45-34-82 23z"/>
<path class="b36" d="M5581 489l78-25-49-40-78 24z"/>
<path class="b37" d="M5453 472l79-24-49-36-79 24zM4619 428l17-5-45-35-18 5zM5325 460l79-24-48-30-80 24zM5196 454l80-24-48-29-80 24zM5068 449l80-24-47-21-81 25zM4939 453l81-24-46-21-82 24zM4811 457l81-25-46-22-82 24zM4601 434l18-6-46-35-17 5zM4682 458l82-24-46-35-82 24zM4584 439l17-5-45-36-18 6z"/>
<path class="b36" d="M5630 530l79-24-50-42-78 25z"/>
<path class="b37" d="M4567 446l17-7-46-35-17 5z"/>
<path class="b36" d="M5502 513l79-24-49-41-79 24z"/>
<path class="b37" d="M4549 452l18-6-46-37-18 5zM4665 463l17-5-46-35-17 5zM5373 496l80-24-49-36-79 24zM4531 457l18-5-46-38-17 5zM5245 485l80-25-49-30-80 24zM4647 468l18-5-46-35-18 6zM5116 479l80-25-48-29-80 24zM4987 473l81-24-48-20-81 24zM4857 477l82-24-47-21-81 25zM4728 481l83-24-47-23-82 24zM4514 462l17-5-45-38-18 5zM4630 473l17-5-46-34-17 5z"/>
<path class="b36" d="M5680 570l79-24-50-40-79 24z"/>
<path class="b37" d="M4496 468l18-6-46-38-17 5zM4612 482l18-9-46-34-17 7z"/>
<path class="b36" d="M5551 555l79-25-49-41-79 24z"/>
<path class="b37" d="M4479 473l17-5-45-39-18 5zM4595 487l17-5-45-36-18 6z"/>
<path class="b36" d="M5422 538l80-25-49-41-80 24z"/>
<path class="b37" d="M4711 486l17-5-46-23-17 5zM4461 479l18-6-46-39-18 5zM4577 492l18-5-46-35-18 5zM5293 521l80-25-48-36-80 25zM4693 492l18-6-46-23-18 5zM5164 510l81-25-49-31-80 25zM4443 485l18-6-46-40-17 5zM4560 498l17-6-46-35-17 5zM5034 503l82-24-48-30-81 24zM4904 498l83-25-48-20-82 24zM4775 502l82-25-46-20-83 24zM4676 497l17-5-46-24-17 5z"/>
<path class="b35" d="M5731 610l78-25-50-39-79 24z"/>
<path class="b37" d="M4426 492l17-7-45-41-18 5zM4542 503l18-5-46-36-18 6zM4658 507l18-10-46-24-18 9z"/>
<path class="b36" d="M5601 596l79-26-50-40-79 25z"/>
<path class="b37" d="M4408 499l18-7-46-43-18 5zM4524 509l18-6-46-35-17 5zM4641 513l17-6-46-25-17 5z"/>
<path class="b36" d="M5472 580l79-25-49-42-80 25z"/>
<path class="b37" d="M4390 505l18-6-46-45-17 6zM4507 515l17-6-45-36-18 6zM4757 507l18-5-47-21-17 5z"/>
<path class="b36" d="M5342 562l80-24-49-42-80 25z"/>
<path class="b37" d="M4623 518l18-5-46-26-18 5zM4372 510l18-5-45-45-18 5zM5212 546l81-25-48-36-81 25zM4489 521l18-6-46-36-18 6zM4740 513l17-6-46-21-18 6zM4606 524l17-6-46-26-17 6zM5082 534l82-24-48-31-82 24z"/>
<path class="b35" d="M5781 670l78-25-50-60-78 25z"/>
<path class="b37" d="M4354 516l18-6-45-45-18 5zM4952 528l82-25-47-30-83 25zM4471 528l18-7-46-36-17 7zM4822 523l82-25-47-21-82 25zM4722 518l18-5-47-21-17 5zM4588 530l18-6-46-26-18 5z"/>
<path class="b35" d="M5651 635l80-25-51-40-79 26z"/>
<path class="b37" d="M4337 524l17-8-45-46-18 7zM4454 536l17-8-45-36-18 7z"/>
<path class="b30" d="M5848 887l78-26-9-45-78 25zM5858 898l78-26-10-11-78 26z"/>
<path class="b37" d="M4705 529l17-11-46-21-18 10z"/>
<path class="b24" d="M5955 1193l77-28-9-26-78 28z"/>
<path class="b34" d="M5790 691l79-25-10-21-78 25z"/>
<path class="b25" d="M5945 1167l78-28-10-39-78 28z"/>
<path class="b36" d="M5521 621l80-25-50-41-79 25z"/>
<path class="b37" d="M4570 535l18-5-46-27-18 6z"/>
<path class="b34" d="M5800 712l79-25-10-21-79 25z"/>
<path class="b31" d="M5839 841l78-25-9-46-79 25z"/>
<path class="b37" d="M4319 535l18-11-46-47-18 12z"/>
<path class="b24" d="M5965 1199l78-29-11-5-77 28z"/>
<path class="b37" d="M4436 542l18-6-46-37-18 6z"/>
<path class="b30" d="M5868 901l79-26-11-3-78 26z"/>
<path class="b33" d="M5810 734l79-26-10-21-79 25z"/>
<path class="b37" d="M4687 535l18-6-47-22-17 6z"/>
<path class="b26" d="M5935 1128l78-28-8-60-78 27z"/>
<path class="b32" d="M5829 795l79-25-10-41-78 26z"/>
<path class="b36" d="M5391 605l81-25-50-42-80 24z"/>
<path class="b33" d="M5820 755l78-26-9-21-79 26z"/>
<path class="b37" d="M4553 541l17-6-46-26-17 6z"/>
<path class="b22" d="M6004 1308l78-29-10-24-78 29z"/>
<path class="b37" d="M4301 547l18-12-46-46-17 11z"/>
<path class="b22" d="M6014 1332l77-30-9-23-78 29z"/>
<path class="b24" d="M5975 1204l78-29-10-5-78 29z"/>
<path class="b23" d="M5994 1284l78-29-9-48-78 29z"/>
<path class="b37" d="M4418 548l18-6-46-37-18 5z"/>
<path class="b30" d="M5879 903l78-26-10-2-79 26z"/>
<path class="b37" d="M4804 528l18-5-47-21-18 5z"/>
<path class="b36" d="M5261 588l81-26-49-41-81 25z"/>
<path class="b37" d="M4670 541l17-6-46-22-18 5z"/>
<path class="b24" d="M5985 1236l78-29-10-32-78 29z"/>
<path class="b37" d="M4283 558l18-11-45-47-18 11zM4535 548l18-7-46-26-18 6zM5131 571l81-25-48-36-82 24zM4400 553l18-5-46-38-18 6z"/>
<path class="b30" d="M5889 906l78-26-10-3-78 26z"/>
<path class="b37" d="M4265 569l18-11-45-47-18 11zM4787 534l17-6-47-21-17 6zM4652 546l18-5-47-23-17 6z"/>
<path class="b28" d="M5927 1067l78-27-8-101-78 26z"/>
<path class="b37" d="M5000 560l82-26-48-31-82 25zM4517 557l18-9-46-27-18 7z"/>
<path class="b35" d="M5701 696l80-26-50-60-80 25z"/>
<path class="b37" d="M4869 553l83-25-48-30-82 25zM4382 562l18-9-46-37-17 8zM4248 580l17-11-45-47-18 10z"/>
<path class="b30" d="M5900 909l78-27-11-2-78 26z"/>
<path class="b37" d="M4769 539l18-5-47-21-18 5zM4634 552l18-6-46-22-18 6zM4499 566l18-9-46-29-17 8z"/>
<path class="b35" d="M5571 661l80-26-50-39-80 25z"/>
<path class="b37" d="M4364 573l18-11-45-38-18 11z"/>
<path class="b36" d="M4230 590l18-10-46-48-18 11z"/>
<path class="b30" d="M5769 913l79-26-9-46-79 26zM5910 920l78-27-10-11-78 27zM5779 924l79-26-10-11-79 26z"/>
<path class="b29" d="M5919 965l78-26-9-46-78 27z"/>
<path class="b37" d="M4752 551l17-12-47-21-17 11z"/>
<path class="b24" d="M5876 1222l79-29-10-26-79 28z"/>
<path class="b37" d="M4617 558l17-6-46-22-18 5z"/>
<path class="b34" d="M5711 717l79-26-9-21-80 26z"/>
<path class="b37" d="M4482 572l17-6-45-30-18 6z"/>
<path class="b25" d="M5866 1195l79-28-10-39-78 27z"/>
<path class="b35" d="M5441 647l80-26-49-41-81 25z"/>
<path class="b37" d="M4347 584l17-11-45-38-18 12z"/>
<path class="b34" d="M5721 738l79-26-10-21-79 26z"/>
<path class="b31" d="M5760 867l79-26-10-46-79 26z"/>
<path class="b36" d="M4212 601l18-11-46-47-18 8z"/>
<path class="b24" d="M5886 1227l79-28-10-6-79 29z"/>
<path class="b30" d="M5789 927l79-26-10-3-79 26z"/>
<path class="b33" d="M5731 759l79-25-10-22-79 26z"/>
<path class="b37" d="M4734 557l18-6-47-22-18 6z"/>
<path class="b26" d="M5857 1155l78-27-8-61-79 27z"/>
<path class="b32" d="M5750 821l79-26-9-40-79 25z"/>
<path class="b37" d="M4599 564l18-6-47-23-17 6z"/>
<path class="b36" d="M5310 630l81-25-49-43-81 26z"/>
<path class="b33" d="M5741 780l79-25-10-21-79 25z"/>
<path class="b37" d="M4464 578l18-6-46-30-18 6z"/>
<path class="b22" d="M5925 1338l79-30-10-24-78 30z"/>
<path class="b36" d="M4329 596l18-12-46-37-18 11zM4194 612l18-11-46-50-18 9z"/>
<path class="b22" d="M5935 1362l79-30-10-24-79 30z"/>
<path class="b23" d="M5916 1314l78-30-9-48-79 29z"/>
<path class="b24" d="M5897 1233l78-29-10-5-79 28z"/>
<path class="b37" d="M4852 559l17-6-47-30-18 5z"/>
<path class="b30" d="M5800 930l79-27-11-2-79 26z"/>
<path class="b37" d="M4716 563l18-6-47-22-17 6z"/>
<path class="b36" d="M5179 613l82-25-49-42-81 25z"/>
<path class="b24" d="M5906 1265l79-29-10-32-78 29z"/>
<path class="b36" d="M4311 607l18-11-46-38-18 11z"/>
<path class="b37" d="M4581 571l18-7-46-23-18 7zM4446 584l18-6-46-30-18 5z"/>
<path class="b36" d="M4176 623l18-11-46-52-18 8z"/>
<path class="b37" d="M5048 596l83-25-49-37-82 26zM4834 564l18-5-48-31-17 6z"/>
<path class="b30" d="M5810 932l79-26-10-3-79 27z"/>
<path class="b37" d="M4699 569l17-6-46-22-18 5z"/>
<path class="b36" d="M4293 617l18-10-46-38-17 11z"/>
<path class="b37" d="M4563 581l18-10-46-23-18 9z"/>
<path class="b28" d="M5848 1094l79-27-8-102-79 27z"/>
<path class="b37" d="M4428 593l18-9-46-31-18 9zM4917 585l83-25-48-32-83 25z"/>
<path class="b35" d="M5622 722l79-26-50-61-80 26z"/>
<path class="b36" d="M4275 628l18-11-45-37-18 10z"/>
<path class="b37" d="M4816 569l18-5-47-30-18 5zM4545 591l18-10-46-24-18 9zM4681 575l18-6-47-23-18 6z"/>
<path class="b30" d="M5821 935l79-26-11-3-79 26z"/>
<path class="b36" d="M4410 604l18-11-46-31-18 11z"/>
<path class="b35" d="M5491 687l80-26-50-40-80 26z"/>
<path class="b36" d="M4257 639l18-11-45-38-18 11z"/>
<path class="b37" d="M4799 580l17-11-47-30-17 12z"/>
<path class="b30" d="M5690 939l79-26-9-46-80 26zM5831 946l79-26-10-11-79 26z"/>
<path class="b36" d="M4392 616l18-12-46-31-17 11z"/>
<path class="b37" d="M4528 597l17-6-46-25-17 6z"/>
<path class="b30" d="M5700 951l79-27-10-11-79 26z"/>
<path class="b29" d="M5840 992l79-27-9-45-79 26z"/>
<path class="b37" d="M4663 581l18-6-47-23-17 6z"/>
<path class="b24" d="M5797 1250l79-28-10-27-79 28z"/>
<path class="b34" d="M5631 743l80-26-10-21-79 26z"/>
<path class="b25" d="M5787 1223l79-28-9-40-79 28z"/>
<path class="b35" d="M5360 672l81-25-50-42-81 25z"/>
<path class="b36" d="M4239 651l18-12-45-38-18 11z"/>
<path class="b34" d="M5641 764l80-26-10-21-80 26z"/>
<path class="b31" d="M5680 893l80-26-10-46-79 26z"/>
<path class="b24" d="M5807 1256l79-29-10-5-79 28z"/>
<path class="b37" d="M4781 586l18-6-47-29-18 6z"/>
<path class="b36" d="M4374 628l18-12-45-32-18 12z"/>
<path class="b30" d="M5710 954l79-27-10-3-79 27z"/>
<path class="b33" d="M5651 785l80-26-10-21-80 26z"/>
<path class="b37" d="M4510 603l18-6-46-25-18 6zM4645 587l18-6-46-23-18 6z"/>
<path class="b26" d="M5778 1183l79-28-9-61-79 27z"/>
<path class="b32" d="M5671 847l79-26-9-41-80 26z"/>
<path class="b36" d="M5228 655l82-25-49-42-82 25z"/>
<path class="b33" d="M5661 806l80-26-10-21-80 26z"/>
<path class="b22" d="M5846 1368l79-30-9-24-79 30z"/>
<path class="b36" d="M4221 662l18-11-45-39-18 11z"/>
<path class="b37" d="M4899 590l18-5-48-32-17 6z"/>
<path class="b22" d="M5856 1393l79-31-10-24-79 30z"/>
<path class="b23" d="M5837 1344l79-30-10-49-79 29z"/>
<path class="b24" d="M5818 1262l79-29-11-6-79 29z"/>
<path class="b36" d="M4356 639l18-11-45-32-18 11z"/>
<path class="b37" d="M4763 592l18-6-47-29-18 6z"/>
<path class="b30" d="M5720 956l80-26-11-3-79 27z"/>
<path class="b24" d="M5827 1294l79-29-9-32-79 29z"/>
<path class="b37" d="M4492 609l18-6-46-25-18 6z"/>
<path class="b36" d="M5097 638l82-25-48-42-83 25z"/>
<path class="b37" d="M4628 595l17-8-46-23-18 7zM4882 596l17-6-47-31-18 5z"/>
<path class="b36" d="M4338 649l18-10-45-32-18 10z"/>
<path class="b37" d="M4746 598l17-6-47-29-17 6zM4965 621l83-25-48-36-83 25z"/>
<path class="b30" d="M5731 959l79-27-10-2-80 26z"/>
<path class="b37" d="M4610 605l18-10-47-24-18 10z"/>
<path class="b36" d="M4474 618l18-9-46-25-18 9z"/>
<path class="b28" d="M5769 1121l79-27-8-102-79 27z"/>
<path class="b36" d="M4320 660l18-11-45-32-18 11z"/>
<path class="b35" d="M5541 748l81-26-51-61-80 26z"/>
<path class="b37" d="M4864 601l18-5-48-32-18 5zM4728 604l18-6-47-29-18 6z"/>
<path class="b36" d="M4456 630l18-12-46-25-18 11z"/>
<path class="b37" d="M4592 616l18-11-47-24-18 10z"/>
<path class="b30" d="M5741 962l80-27-11-3-79 27z"/>
<path class="b36" d="M4303 672l17-12-45-32-18 11z"/>
<path class="b37" d="M4846 610l18-9-48-32-17 11z"/>
<path class="b35" d="M5410 713l81-26-50-40-81 25z"/>
<path class="b36" d="M4438 642l18-12-46-26-18 12z"/>
<path class="b37" d="M4574 622l18-6-47-25-17 6zM4710 610l18-6-47-29-18 6z"/>
<path class="b35" d="M4285 685l18-13-46-33-18 12z"/>
<path class="b30" d="M5751 973l80-27-10-11-80 27zM5609 965l81-26-10-46-80 26z"/>
<path class="b29" d="M5761 1019l79-27-9-46-80 27z"/>
<path class="b30" d="M5619 977l81-26-10-12-81 26z"/>
<path class="b24" d="M5717 1279l80-29-10-27-80 29z"/>
<path class="b34" d="M5551 769l80-26-9-21-81 26z"/>
<path class="b25" d="M5707 1252l80-29-9-40-80 28z"/>
<path class="b35" d="M5278 698l82-26-50-42-82 25z"/>
<path class="b37" d="M4829 616l17-6-47-30-18 6z"/>
<path class="b36" d="M4420 654l18-12-46-26-18 12z"/>
<path class="b34" d="M5561 790l80-26-10-21-80 26z"/>
<path class="b31" d="M5600 919l80-26-9-46-81 26z"/>
<path class="b24" d="M5727 1286l80-30-10-6-80 29z"/>
<path class="b35" d="M4267 698l18-13-46-34-18 11z"/>
<path class="b37" d="M4947 627l18-6-48-36-18 5zM4556 628l18-6-46-25-18 6zM4692 616l18-6-47-29-18 6z"/>
<path class="b30" d="M5630 980l80-26-10-3-81 26z"/>
<path class="b33" d="M5571 811l80-26-10-21-80 26z"/>
<path class="b26" d="M5698 1211l80-28-9-62-80 28z"/>
<path class="b32" d="M5590 873l81-26-10-41-80 26z"/>
<path class="b36" d="M5146 681l82-26-49-42-82 25z"/>
<path class="b22" d="M5767 1399l79-31-9-24-80 30z"/>
<path class="b33" d="M5581 832l80-26-10-21-80 26z"/>
<path class="b36" d="M4402 665l18-11-46-26-18 11z"/>
<path class="b37" d="M4811 622l18-6-48-30-18 6z"/>
<path class="b22" d="M5777 1424l79-31-10-25-79 31z"/>
<path class="b23" d="M5757 1374l80-30-10-50-80 30z"/>
<path class="b24" d="M5738 1292l80-30-11-6-80 30z"/>
<path class="b36" d="M4538 634l18-6-46-25-18 6z"/>
<path class="b37" d="M4675 623l17-7-47-29-17 8zM4930 632l17-5-48-37-17 6z"/>
<path class="b30" d="M5640 983l80-27-10-2-80 26z"/>
<path class="b24" d="M5747 1324l80-30-9-32-80 30z"/>
<path class="b36" d="M5014 664l83-26-49-42-83 25zM4384 675l18-10-46-26-18 10z"/>
<path class="b37" d="M4793 627l18-5-48-30-17 6zM4657 633l18-10-47-28-18 10z"/>
<path class="b36" d="M4520 643l18-9-46-25-18 9z"/>
<path class="b37" d="M4912 638l18-6-48-36-18 5z"/>
<path class="b36" d="M4366 687l18-12-46-26-18 11z"/>
<path class="b30" d="M5650 986l81-27-11-3-80 27z"/>
<path class="b28" d="M5689 1149l80-28-8-102-81 27z"/>
<path class="b35" d="M5460 774l81-26-50-61-81 26z"/>
<path class="b37" d="M4776 633l17-6-47-29-18 6zM4639 642l18-9-47-28-18 11z"/>
<path class="b36" d="M4502 655l18-12-46-25-18 12zM4348 699l18-12-46-27-17 12z"/>
<path class="b37" d="M4895 644l17-6-48-37-18 9z"/>
<path class="b30" d="M5661 989l80-27-10-3-81 27z"/>
<path class="b36" d="M4484 668l18-13-46-25-18 12z"/>
<path class="b37" d="M4758 639l18-6-48-29-18 6z"/>
<path class="b35" d="M5328 739l82-26-50-41-82 26zM4330 713l18-14-45-27-18 13z"/>
<path class="b36" d="M4621 649l18-7-47-26-18 6z"/>
<path class="b37" d="M4877 650l18-6-49-34-17 6z"/>
<path class="b30" d="M5671 1001l80-28-10-11-80 27zM5528 992l81-27-9-46-81 27z"/>
<path class="b29" d="M5680 1046l81-27-10-46-80 28z"/>
<path class="b30" d="M5538 1004l81-27-10-12-81 27z"/>
<path class="b36" d="M4996 669l18-5-49-43-18 6z"/>
<path class="b24" d="M5637 1308l80-29-10-27-80 29z"/>
<path class="b34" d="M5470 795l81-26-10-21-81 26z"/>
<path class="b36" d="M4466 680l18-12-46-26-18 12z"/>
<path class="b25" d="M5627 1281l80-29-9-41-81 29z"/>
<path class="b35" d="M4312 726l18-13-45-28-18 13zM5195 725l83-27-50-43-82 26z"/>
<path class="b37" d="M4740 645l18-6-48-29-18 6z"/>
<path class="b34" d="M5480 816l81-26-10-21-81 26z"/>
<path class="b24" d="M5647 1315l80-29-10-7-80 29z"/>
<path class="b36" d="M4603 655l18-6-47-27-18 6z"/>
<path class="b31" d="M5519 946l81-27-10-46-81 27z"/>
<path class="b30" d="M5549 1007l81-27-11-3-81 27z"/>
<path class="b33" d="M5489 838l82-27-10-21-81 26z"/>
<path class="b37" d="M4859 655l18-5-48-34-18 6z"/>
<path class="b36" d="M4448 691l18-11-46-26-18 11zM4978 675l18-6-49-42-17 5z"/>
<path class="b26" d="M5617 1240l81-29-9-62-81 28z"/>
<path class="b22" d="M5686 1430l81-31-10-25-81 30z"/>
<path class="b32" d="M5509 900l81-27-9-41-82 27z"/>
<path class="b36" d="M5063 707l83-26-49-43-83 26z"/>
<path class="b33" d="M5499 859l82-27-10-21-82 27z"/>
<path class="b22" d="M5696 1454l81-30-10-25-81 31z"/>
<path class="b23" d="M5676 1404l81-30-10-50-80 30z"/>
<path class="b24" d="M5657 1322l81-30-11-6-80 29z"/>
<path class="b37" d="M4722 652l18-7-48-29-17 7z"/>
<path class="b36" d="M4585 661l18-6-47-27-18 6zM4430 702l18-11-46-26-18 10z"/>
<path class="b24" d="M5667 1354l80-30-9-32-81 30z"/>
<path class="b30" d="M5559 1010l81-27-10-3-81 27z"/>
<path class="b37" d="M4841 661l18-6-48-33-18 5z"/>
<path class="b36" d="M4961 680l17-5-48-43-18 6z"/>
<path class="b37" d="M4704 660l18-8-47-29-18 10z"/>
<path class="b36" d="M4567 670l18-9-47-27-18 9zM4412 713l18-11-46-27-18 12z"/>
<path class="b30" d="M5569 1013l81-27-10-3-81 27z"/>
<path class="b37" d="M4823 666l18-5-48-34-17 6z"/>
<path class="b36" d="M4943 686l18-6-49-42-17 6z"/>
<path class="b28" d="M5608 1177l81-28-9-103-81 27z"/>
<path class="b35" d="M5378 800l82-26-50-61-82 26z"/>
<path class="b37" d="M4686 669l18-9-47-27-18 9z"/>
<path class="b36" d="M4549 682l18-12-47-27-18 12z"/>
<path class="b35" d="M4394 726l18-13-46-26-18 12z"/>
<path class="b30" d="M5579 1016l82-27-11-3-81 27z"/>
<path class="b37" d="M4806 672l17-6-47-33-18 6z"/>
<path class="b36" d="M5045 713l18-6-49-43-18 5zM4531 694l18-12-47-27-18 13zM4925 691l18-5-48-42-18 6z"/>
<path class="b35" d="M4376 740l18-14-46-27-18 14z"/>
<path class="b36" d="M4668 675l18-6-47-27-18 7z"/>
<path class="b35" d="M5245 765l83-26-50-41-83 27z"/>
<path class="b30" d="M5590 1028l81-27-10-12-82 27z"/>
<path class="b29" d="M5599 1073l81-27-9-45-81 27z"/>
<path class="b30" d="M5447 1019l81-27-9-46-82 27z"/>
<path class="b35" d="M4358 754l18-14-46-27-18 13z"/>
<path class="b30" d="M5457 1031l81-27-10-12-81 27z"/>
<path class="b36" d="M4513 706l18-12-47-26-18 12z"/>
<path class="b24" d="M5555 1338l82-30-10-27-82 29z"/>
<path class="b37" d="M4788 677l18-5-48-33-18 6z"/>
<path class="b34" d="M5388 822l82-27-10-21-82 26z"/>
<path class="b25" d="M5545 1310l82-29-10-41-81 28z"/>
<path class="b36" d="M5027 718l18-5-49-44-18 6z"/>
<path class="b35" d="M5112 751l83-26-49-44-83 26z"/>
<path class="b36" d="M4907 697l18-6-48-41-18 5zM4650 681l18-6-47-26-18 6z"/>
<path class="b24" d="M5566 1345l81-30-10-7-82 30z"/>
<path class="b34" d="M5398 843l82-27-10-21-82 27z"/>
<path class="b31" d="M5437 973l82-27-10-46-82 27z"/>
<path class="b36" d="M4495 717l18-11-47-26-18 11z"/>
<path class="b33" d="M5407 864l82-26-9-22-82 27z"/>
<path class="b30" d="M5467 1035l82-28-11-3-81 27z"/>
<path class="b22" d="M5605 1461l81-31-10-26-81 31z"/>
<path class="b26" d="M5536 1268l81-28-9-63-82 28z"/>
<path class="b37" d="M4770 684l18-7-48-32-18 7z"/>
<path class="b32" d="M5427 927l82-27-10-41-82 26z"/>
<path class="b33" d="M5417 885l82-26-10-21-82 26z"/>
<path class="b22" d="M5615 1486l81-32-10-24-81 31z"/>
<path class="b36" d="M5010 724l17-6-49-43-17 5zM4890 702l17-5-48-42-18 6z"/>
<path class="b23" d="M5595 1435l81-31-9-50-81 31z"/>
<path class="b36" d="M4632 687l18-6-47-26-18 6z"/>
<path class="b24" d="M5576 1352l81-30-10-7-81 30z"/>
<path class="b36" d="M4477 727l18-10-47-26-18 11z"/>
<path class="b24" d="M5586 1385l81-31-10-32-81 30z"/>
<path class="b30" d="M5477 1038l82-28-10-3-82 28z"/>
<path class="b36" d="M4752 691l18-7-48-32-18 8zM4992 729l18-5-49-44-18 6zM4614 695l18-8-47-26-18 9zM4872 708l18-6-49-41-18 5zM4459 739l18-12-47-25-18 11z"/>
<path class="b30" d="M5487 1041l82-28-10-3-82 28z"/>
<path class="b36" d="M4734 697l18-6-48-31-18 9z"/>
<path class="b28" d="M5526 1205l82-28-9-104-82 28z"/>
<path class="b36" d="M4596 707l18-12-47-25-18 12z"/>
<path class="b35" d="M4441 751l18-12-47-26-18 13zM5094 757l18-6-49-44-18 6z"/>
<path class="b34" d="M5295 827l83-27-50-61-83 26z"/>
<path class="b36" d="M4974 734l18-5-49-43-18 5zM4854 713l18-5-49-42-17 6z"/>
<path class="b30" d="M5498 1044l81-28-10-3-82 28z"/>
<path class="b36" d="M4578 719l18-12-47-25-18 12z"/>
<path class="b35" d="M4423 765l18-14-47-25-18 14z"/>
<path class="b36" d="M4716 703l18-6-48-28-18 6z"/>
<path class="b35" d="M5076 762l18-5-49-44-18 5z"/>
<path class="b36" d="M4956 740l18-6-49-43-18 6z"/>
<path class="b35" d="M5161 792l84-27-50-40-83 26z"/>
<path class="b36" d="M4836 719l18-6-48-41-18 5z"/>
<path class="b35" d="M4404 777l19-12-47-25-18 14z"/>
<path class="b36" d="M4560 731l18-12-47-25-18 12z"/>
<path class="b30" d="M5508 1056l82-28-11-12-81 28z"/>
<path class="b29" d="M5517 1101l82-28-9-45-82 28z"/>
<path class="b30" d="M5364 1046l83-27-10-46-83 27z"/>
<path class="b24" d="M5473 1367l82-29-10-28-82 29z"/>
<path class="b30" d="M5374 1058l83-27-10-12-83 27z"/>
<path class="b36" d="M4698 709l18-6-48-28-18 6z"/>
<path class="b34" d="M5305 848l83-26-10-22-83 27z"/>
<path class="b25" d="M5463 1339l82-29-9-42-82 29z"/>
<path class="b35" d="M5059 768l17-6-49-44-17 6z"/>
<path class="b24" d="M5484 1375l82-30-11-7-82 29z"/>
<path class="b36" d="M4938 745l18-5-49-43-17 5zM4818 725l18-6-48-42-18 7z"/>
<path class="b34" d="M5315 870l83-27-10-21-83 26z"/>
<path class="b31" d="M5354 1000l83-27-10-46-82 27z"/>
<path class="b36" d="M4542 742l18-11-47-25-18 11z"/>
<path class="b33" d="M5325 891l82-27-9-21-83 27z"/>
<path class="b30" d="M5384 1062l83-27-10-4-83 27z"/>
<path class="b22" d="M5523 1492l82-31-10-26-82 31z"/>
<path class="b26" d="M5454 1297l82-29-10-63-82 28z"/>
<path class="b36" d="M4680 715l18-6-48-28-18 6z"/>
<path class="b32" d="M5345 954l82-27-10-42-82 27z"/>
<path class="b22" d="M5533 1517l82-31-10-25-82 31z"/>
<path class="b33" d="M5335 912l82-27-10-21-82 27z"/>
<path class="b23" d="M5513 1466l82-31-9-50-82 30z"/>
<path class="b35" d="M5041 782l18-14-49-44-18 5z"/>
<path class="b24" d="M5494 1382l82-30-10-7-82 30z"/>
<path class="b36" d="M4524 752l18-10-47-25-18 10zM4800 731l18-6-48-41-18 7zM4921 751l17-6-48-43-18 6z"/>
<path class="b24" d="M5504 1415l82-30-10-33-82 30z"/>
<path class="b30" d="M5395 1065l82-27-10-3-83 27z"/>
<path class="b36" d="M4662 723l18-8-48-28-18 8z"/>
<path class="b35" d="M5023 789l18-7-49-53-18 5z"/>
<path class="b36" d="M4506 764l18-12-47-25-18 12z"/>
<path class="b35" d="M5144 798l17-6-49-41-18 6z"/>
<path class="b36" d="M4782 738l18-7-48-40-18 6zM4903 756l18-5-49-43-18 5z"/>
<path class="b30" d="M5405 1069l82-28-10-3-82 27z"/>
<path class="b36" d="M4644 735l18-12-48-28-18 12z"/>
<path class="b35" d="M4488 775l18-11-47-25-18 12z"/>
<path class="b28" d="M5444 1233l82-28-9-104-82 28z"/>
<path class="b34" d="M5211 854l84-27-50-62-84 27z"/>
<path class="b35" d="M5005 795l18-6-49-55-18 6zM5126 803l18-5-50-41-18 5z"/>
<path class="b36" d="M4764 744l18-6-48-41-18 6zM4885 762l18-6-49-43-18 6zM4626 746l18-11-48-28-18 12z"/>
<path class="b35" d="M4469 788l19-13-47-24-18 14z"/>
<path class="b30" d="M5415 1072l83-28-11-3-82 28z"/>
<path class="b35" d="M4988 802l17-7-49-55-18 5zM5108 809l18-6-50-41-17 6z"/>
<path class="b36" d="M4746 749l18-5-48-41-18 6zM4608 757l18-11-48-27-18 12zM4867 768l18-6-49-43-18 6z"/>
<path class="b35" d="M4451 800l18-12-46-23-19 12z"/>
<path class="b30" d="M5425 1084l83-28-10-12-83 28z"/>
<path class="b29" d="M5435 1129l82-28-9-45-83 28z"/>
<path class="b24" d="M5391 1397l82-30-10-28-82 29z"/>
<path class="b30" d="M5281 1073l83-27-10-46-83 27zM5291 1086l83-28-10-12-83 27z"/>
<path class="b34" d="M5221 875l84-27-10-21-84 27z"/>
<path class="b25" d="M5381 1368l82-29-9-42-83 29z"/>
<path class="b35" d="M4970 808l18-6-50-57-17 6z"/>
<path class="b24" d="M5401 1405l83-30-11-8-82 30z"/>
<path class="b35" d="M5091 822l17-13-49-41-18 14z"/>
<path class="b36" d="M4589 768l19-11-48-26-18 11z"/>
<path class="b34" d="M5231 897l84-27-10-22-84 27z"/>
<path class="b31" d="M5271 1027l83-27-9-46-84 27z"/>
<path class="b36" d="M4728 756l18-7-48-40-18 6zM4849 775l18-7-49-43-18 6z"/>
<path class="b33" d="M5241 918l84-27-10-21-84 27z"/>
<path class="b30" d="M5301 1090l83-28-10-4-83 28z"/>
<path class="b22" d="M5441 1523l82-31-10-26-82 31z"/>
<path class="b26" d="M5371 1326l83-29-10-64-83 29z"/>
<path class="b21" d="M5451 1549l82-32-10-25-82 31z"/>
<path class="b32" d="M5261 981l84-27-10-42-84 27z"/>
<path class="b33" d="M5251 939l84-27-10-21-84 27z"/>
<path class="b23" d="M5431 1497l82-31-9-51-83 31z"/>
<path class="b34" d="M5194 860l17-6-50-62-17 6z"/>
<path class="b36" d="M4571 779l18-11-47-26-18 10z"/>
<path class="b35" d="M5073 828l18-6-50-40-18 7z"/>
<path class="b24" d="M5411 1412l83-30-10-7-83 30z"/>
<path class="b35" d="M4952 815l18-7-49-57-18 5z"/>
<path class="b36" d="M4710 764l18-8-48-41-18 8zM4831 783l18-8-49-44-18 7z"/>
<path class="b24" d="M5421 1446l83-31-10-33-83 30z"/>
<path class="b30" d="M5311 1093l84-28-11-3-83 28z"/>
<path class="b36" d="M4553 789l18-10-47-27-18 12z"/>
<path class="b34" d="M5176 865l18-5-50-62-18 5z"/>
<path class="b35" d="M5055 835l18-7-50-39-18 6zM4934 821l18-6-49-59-18 6z"/>
<path class="b36" d="M4692 775l18-11-48-41-18 12zM4813 789l18-6-49-45-18 6z"/>
<path class="b30" d="M5322 1097l83-28-10-4-84 28z"/>
<path class="b24" d="M5373 1403l18-6-10-29-18 7z"/>
<path class="b35" d="M4535 800l18-11-47-25-18 11z"/>
<path class="b30" d="M5263 1079l18-6-10-46-17 6zM5274 1091l17-5-10-13-18 6z"/>
<path class="b34" d="M5204 881l17-6-10-21-17 6z"/>
<path class="b25" d="M5363 1375l18-7-10-42-18 6z"/>
<path class="b28" d="M5361 1262l83-29-9-104-83 28z"/>
<path class="b36" d="M4674 786l18-11-48-40-18 11z"/>
<path class="b35" d="M5037 841l18-6-50-40-17 7z"/>
<path class="b34" d="M5158 871l18-6-50-62-18 6z"/>
<path class="b24" d="M5383 1411l18-6-10-8-18 6z"/>
<path class="b35" d="M4916 830l18-9-49-59-18 6z"/>
<path class="b34" d="M5214 902l17-5-10-22-17 6z"/>
<path class="b31" d="M5254 1033l17-6-10-46-17 5z"/>
<path class="b36" d="M4795 795l18-6-49-45-18 5z"/>
<path class="b35" d="M4517 813l18-13-47-25-19 13z"/>
<path class="b33" d="M5224 924l17-6-10-21-17 5z"/>
<path class="b22" d="M5423 1530l18-7-10-26-18 7z"/>
<path class="b30" d="M5284 1096l17-6-10-4-17 5zM5332 1100l83-28-10-3-83 28z"/>
<path class="b24" d="M5356 1410l17-7-10-28-17 6z"/>
<path class="b21" d="M5433 1556l18-7-10-26-18 7z"/>
<path class="b30" d="M5246 1085l17-6-9-46-18 5z"/>
<path class="b26" d="M5353 1332l18-6-10-64-17 6z"/>
<path class="b30" d="M5256 1097l18-6-11-12-17 6z"/>
<path class="b32" d="M5244 986l17-5-10-42-17 6z"/>
<path class="b36" d="M4656 797l18-11-48-40-18 11z"/>
<path class="b33" d="M5234 945l17-6-10-21-17 6z"/>
<path class="b23" d="M5413 1504l18-7-10-51-18 7z"/>
<path class="b34" d="M5186 887l18-6-10-21-18 5z"/>
<path class="b25" d="M5346 1381l17-6-10-43-17 6z"/>
<path class="b24" d="M5394 1419l17-7-10-7-18 6z"/>
<path class="b34" d="M5141 880l17-9-50-62-17 13z"/>
<path class="b35" d="M5019 847l18-6-49-39-18 6zM4898 843l18-13-49-62-18 7z"/>
<path class="b24" d="M5366 1418l17-7-10-8-17 7z"/>
<path class="b34" d="M5196 908l18-6-10-21-18 6z"/>
<path class="b35" d="M4498 826l19-13-48-25-18 12z"/>
<path class="b31" d="M5236 1038l18-5-10-47-18 6z"/>
<path class="b24" d="M5403 1453l18-7-10-34-17 7z"/>
<path class="b36" d="M4777 802l18-7-49-46-18 7z"/>
<path class="b30" d="M5342 1112l83-28-10-12-83 28z"/>
<path class="b33" d="M5206 930l18-6-10-22-18 6z"/>
<path class="b22" d="M5406 1537l17-7-10-26-17 7z"/>
<path class="b30" d="M5294 1099l17-6-10-3-17 6z"/>
<path class="b29" d="M5352 1157l83-28-10-45-83 28z"/>
<path class="b30" d="M5266 1101l18-5-10-5-18 6z"/>
<path class="b36" d="M4637 808l19-11-48-40-19 11z"/>
<path class="b24" d="M5338 1416l18-6-10-29-18 6z"/>
<path class="b21" d="M5416 1562l17-6-10-26-17 7z"/>
<path class="b30" d="M5228 1090l18-5-10-47-18 6z"/>
<path class="b26" d="M5336 1338l17-6-9-64-18 6z"/>
<path class="b30" d="M5238 1103l18-6-10-12-18 5z"/>
<path class="b32" d="M5226 992l18-6-10-41-18 6z"/>
<path class="b23" d="M5396 1511l17-7-10-51-17 6z"/>
<path class="b33" d="M5216 951l18-6-10-21-18 6z"/>
<path class="b34" d="M5168 893l18-6-10-22-18 6zM5123 886l18-6-50-58-18 6z"/>
<path class="b25" d="M5328 1387l18-6-10-43-18 6z"/>
<path class="b35" d="M4880 857l18-14-49-68-18 8z"/>
<path class="b24" d="M5376 1425l18-6-11-8-17 7z"/>
<path class="b35" d="M5001 854l18-7-49-39-18 7z"/>
<path class="b20" d="M5352 1626l18-12-10-31-18 11zM5362 1655l18-12-10-29-18 12z"/>
<path class="b24" d="M5348 1424l18-6-10-8-18 6z"/>
<path class="b34" d="M5178 914l18-6-10-21-18 6z"/>
<path class="b24" d="M5320 1448l18-32-10-29-18 20zM5386 1459l17-6-9-34-18 6z"/>
<path class="b31" d="M5218 1044l18-6-10-46-18 6z"/>
<path class="b36" d="M4759 811l18-9-49-46-18 8z"/>
<path class="b21" d="M5370 1614l18-71-10-26-18 66z"/>
<path class="b36" d="M4619 819l18-11-48-40-18 11z"/>
<path class="b21" d="M5380 1643l18-74-10-26-18 71z"/>
<path class="b24" d="M5330 1468l18-44-10-8-18 32z"/>
<path class="b22" d="M5388 1543l18-6-10-26-18 6z"/>
<path class="b33" d="M5188 935l18-5-10-22-18 6z"/>
<path class="b30" d="M5304 1102l18-5-11-4-17 6zM5276 1105l18-6-10-3-18 5zM5248 1107l18-6-10-4-18 6z"/>
<path class="b21" d="M5342 1594l18-11-10-58-17 11zM5398 1569l18-7-10-25-18 6z"/>
<path class="b25" d="M5310 1407l18-20-10-43-18 12z"/>
<path class="b26" d="M5318 1344l18-6-10-64-18 6z"/>
<path class="b28" d="M5344 1268l17-6-9-105-18 6z"/>
<path class="b22" d="M5360 1583l18-66-10-51-18 59z"/>
<path class="b35" d="M4862 864l18-7-49-74-18 6z"/>
<path class="b32" d="M5208 998l18-6-10-41-18 6z"/>
<path class="b34" d="M5151 900l17-7-10-22-17 9z"/>
<path class="b23" d="M5378 1517l18-6-10-52-18 7z"/>
<path class="b33" d="M5198 957l18-6-10-21-18 5z"/>
<path class="b34" d="M5105 892l18-6-50-58-18 7z"/>
<path class="b23" d="M5313 1478l17-10-10-20-17 8z"/>
<path class="b20" d="M5345 1667l17-12-10-29-17 12zM5335 1638l17-12-10-32-17 11z"/>
<path class="b24" d="M5303 1456l17-8-10-41-17 7z"/>
<path class="b31" d="M5210 1084l18 6-10-46-17-3z"/>
<path class="b24" d="M5358 1432l18-7-10-7-18 6z"/>
<path class="b30" d="M5221 1101l17 2-10-13-18-6z"/>
<path class="b35" d="M4983 860l18-6-49-39-18 6z"/>
<path class="b23" d="M5340 1485l18-53-10-8-18 44z"/>
<path class="b36" d="M4740 822l19-11-49-47-18 11z"/>
<path class="b34" d="M5161 920l17-6-10-21-17 7z"/>
<path class="b35" d="M4601 829l18-10-48-40-18 10z"/>
<path class="b23" d="M5323 1495l17-10-10-17-17 10zM5368 1466l18-7-10-34-18 7z"/>
<path class="b22" d="M5333 1536l17-11-10-40-17 10z"/>
<path class="b23" d="M5350 1525l18-59-10-34-18 53z"/>
<path class="b31" d="M5201 1041l17 3-10-46-17 0z"/>
<path class="b21" d="M5325 1605l17-11-9-58-18 11z"/>
<path class="b25" d="M5293 1414l17-7-10-51-17 7z"/>
<path class="b30" d="M5314 1106l18-6-10-3-18 5zM5286 1108l18-6-10-3-18 6z"/>
<path class="b33" d="M5171 940l17-5-10-21-17 6z"/>
<path class="b30" d="M5258 1111l18-6-10-4-18 6zM5231 1111l17-4-10-4-17-2z"/>
<path class="b20" d="M5327 1679l18-12-10-29-18 12zM5317 1650l18-12-10-33-18 12z"/>
<path class="b26" d="M5300 1356l18-12-10-64-17 6z"/>
<path class="b35" d="M4844 871l18-7-49-75-18 6z"/>
<path class="b28" d="M5326 1274l18-6-10-105-17 6z"/>
<path class="b23" d="M5295 1487l18-9-10-22-18 8z"/>
<path class="b34" d="M5133 906l18-6-10-20-18 6zM5087 898l18-6-50-57-18 6z"/>
<path class="b24" d="M5285 1464l18-8-10-42-18 7z"/>
<path class="b33" d="M5181 960l17-3-10-22-17 5z"/>
<path class="b32" d="M5191 998l17 0-10-41-17 3z"/>
<path class="b35" d="M4965 869l18-9-49-39-18 9z"/>
<path class="b36" d="M4722 833l18-11-48-47-18 11z"/>
<path class="b35" d="M4583 840l18-11-48-40-18 11z"/>
<path class="b31" d="M5193 1089l17-5-9-43-18 5z"/>
<path class="b30" d="M5203 1106l18-5-11-17-17 5z"/>
<path class="b34" d="M5143 926l18-6-10-20-18 6z"/>
<path class="b23" d="M5305 1505l18-10-10-17-18 9z"/>
<path class="b22" d="M5315 1547l18-11-10-41-18 10z"/>
<path class="b21" d="M5307 1617l18-12-10-58-18 11z"/>
<path class="b30" d="M5324 1118l18-6-10-12-18 6z"/>
<path class="b19" d="M5309 1693l18-14-10-29-18 14z"/>
<path class="b29" d="M5334 1163l18-6-10-45-18 6z"/>
<path class="b20" d="M5299 1664l18-14-10-33-18 13z"/>
<path class="b25" d="M5275 1421l18-7-10-51-18 6z"/>
<path class="b30" d="M5296 1112l18-6-10-4-18 6zM5269 1114l17-6-10-3-18 6z"/>
<path class="b33" d="M5153 945l18-5-10-20-18 6z"/>
<path class="b30" d="M5241 1118l17-7-10-4-17 4z"/>
<path class="b32" d="M5183 1046l18-5-10-43-18 5z"/>
<path class="b26" d="M5283 1363l17-7-9-70-18 5z"/>
<path class="b23" d="M5277 1497l18-10-10-23-18 8z"/>
<path class="b35" d="M4826 878l18-7-49-76-18 7zM4947 881l18-12-49-39-18 13z"/>
<path class="b30" d="M5213 1117l18-6-10-10-18 5z"/>
<path class="b28" d="M5308 1280l18-6-9-105-18 6z"/>
<path class="b35" d="M4704 845l18-12-48-47-18 11z"/>
<path class="b34" d="M5115 912l18-6-10-20-18 6z"/>
<path class="b24" d="M5267 1472l18-8-10-43-18 7z"/>
<path class="b35" d="M4564 854l19-14-48-40-18 13z"/>
<path class="b34" d="M5069 904l18-6-50-57-18 6z"/>
<path class="b33" d="M5163 965l18-5-10-20-18 5z"/>
<path class="b32" d="M5173 1003l18-5-10-38-18 5z"/>
<path class="b22" d="M5297 1558l18-11-10-42-18 11z"/>
<path class="b23" d="M5287 1516l18-11-10-18-18 10z"/>
<path class="b21" d="M5289 1630l18-13-10-59-17 12z"/>
<path class="b34" d="M5125 931l18-5-10-20-18 6z"/>
<path class="b19" d="M5292 1706l17-13-10-29-17 13z"/>
<path class="b31" d="M5175 1094l18-5-10-43-18 5z"/>
<path class="b30" d="M5185 1111l18-5-10-17-18 5z"/>
<path class="b20" d="M5282 1677l17-13-10-34-17 12z"/>
<path class="b30" d="M5307 1124l17-6-10-12-18 6z"/>
<path class="b29" d="M5317 1169l17-6-10-45-17 6z"/>
<path class="b34" d="M4929 894l18-13-49-38-18 14z"/>
<path class="b25" d="M5257 1428l18-7-10-52-18 6z"/>
<path class="b30" d="M5251 1124l18-10-11-3-17 7zM5279 1118l17-6-10-4-17 6z"/>
<path class="b35" d="M4546 867l18-13-47-41-19 13zM4686 857l18-12-48-48-19 11z"/>
<path class="b33" d="M5135 951l18-6-10-19-18 5z"/>
<path class="b30" d="M5223 1124l18-6-10-7-18 6z"/>
<path class="b23" d="M5260 1507l17-10-10-25-17 9z"/>
<path class="b35" d="M4808 888l18-10-49-76-18 9z"/>
<path class="b32" d="M5165 1051l18-5-10-43-18 6z"/>
<path class="b26" d="M5265 1369l18-6-10-72-18 6z"/>
<path class="b17" d="M5220 1844l18-51-10-31-18 51z"/>
<path class="b28" d="M5291 1286l17-6-9-105-18 8z"/>
<path class="b17" d="M5203 1855l17-11-10-31-17 12z"/>
<path class="b24" d="M5250 1481l17-9-10-44-17 7z"/>
<path class="b34" d="M5097 918l18-6-10-20-18 6z"/>
<path class="b30" d="M5195 1123l18-6-10-11-18 5z"/>
<path class="b34" d="M5051 910l18-6-50-57-18 7z"/>
<path class="b22" d="M5280 1570l17-12-10-42-17 11z"/>
<path class="b21" d="M5272 1642l17-12-9-60-18 12z"/>
<path class="b23" d="M5270 1527l17-11-10-19-17 10z"/>
<path class="b18" d="M5210 1813l18-51-10-39-18 47z"/>
<path class="b19" d="M5274 1719l18-13-10-29-18 13z"/>
<path class="b33" d="M5145 971l18-6-10-20-18 6z"/>
<path class="b20" d="M5264 1690l18-13-10-35-18 12z"/>
<path class="b32" d="M5155 1009l18-6-10-38-18 6z"/>
<path class="b17" d="M5193 1825l17-12-10-43-17 12z"/>
<path class="b33" d="M5107 937l18-6-10-19-18 6z"/>
<path class="b30" d="M5167 1117l18-6-10-17-18 4z"/>
<path class="b31" d="M5157 1098l18-4-10-43-18 5z"/>
<path class="b34" d="M4911 901l18-7-49-37-18 7z"/>
<path class="b18" d="M5238 1793l18-49-10-30-18 48z"/>
<path class="b35" d="M4668 867l18-10-49-49-18 11z"/>
<path class="b30" d="M5289 1130l18-6-11-12-17 6z"/>
<path class="b29" d="M5299 1175l18-6-10-45-18 6z"/>
<path class="b30" d="M5261 1130l18-12-10-4-18 10z"/>
<path class="b35" d="M4790 900l18-12-49-77-19 11z"/>
<path class="b30" d="M5233 1130l18-6-10-6-18 6z"/>
<path class="b19" d="M5256 1744l18-25-10-29-18 24zM5228 1762l18-48-10-37-18 46z"/>
<path class="b25" d="M5240 1435l17-7-10-53-17 6z"/>
<path class="b23" d="M5242 1517l18-10-10-26-18 8z"/>
<path class="b19" d="M5246 1714l18-24-10-36-18 23z"/>
<path class="b16" d="M5185 1867l18-12-10-30-18 12z"/>
<path class="b33" d="M5117 957l18-6-10-20-18 6z"/>
<path class="b30" d="M5205 1130l18-6-10-7-18 6z"/>
<path class="b21" d="M5254 1654l18-12-10-60-18 12z"/>
<path class="b22" d="M5262 1582l18-12-10-43-18 11z"/>
<path class="b32" d="M5147 1056l18-5-10-42-18 5z"/>
<path class="b26" d="M5247 1375l18-6-10-72-17 6z"/>
<path class="b19" d="M5200 1770l18-47-10-62-18 47z"/>
<path class="b24" d="M5232 1489l18-8-10-46-18 7z"/>
<path class="b22" d="M5252 1538l18-11-10-20-18 10z"/>
<path class="b28" d="M5273 1291l18-5-10-103-18 7z"/>
<path class="b34" d="M5079 924l18-6-10-20-18 6zM5033 916l18-6-50-56-18 6z"/>
<path class="b30" d="M5177 1128l18-5-10-12-18 6z"/>
<path class="b17" d="M5175 1837l18-12-10-43-18 11z"/>
<path class="b18" d="M5183 1782l17-12-10-62-17 12z"/>
<path class="b33" d="M5127 977l18-6-10-20-18 6z"/>
<path class="b32" d="M5137 1014l18-5-10-38-18 6z"/>
<path class="b33" d="M5089 943l18-6-10-19-18 6z"/>
<path class="b20" d="M5218 1723l18-46-10-60-18 44z"/>
<path class="b35" d="M4649 877l19-10-49-48-18 10z"/>
<path class="b20" d="M5236 1677l18-23-10-60-18 23z"/>
<path class="b30" d="M5271 1143l18-13-10-12-18 12z"/>
<path class="b35" d="M4772 911l18-11-50-78-18 11z"/>
<path class="b34" d="M4893 908l18-7-49-37-18 7z"/>
<path class="b30" d="M5149 1122l18-5-10-19-18 5z"/>
<path class="b31" d="M5139 1103l18-5-10-42-18 5z"/>
<path class="b29" d="M5281 1183l18-8-10-45-18 13z"/>
<path class="b30" d="M5243 1137l18-7-10-6-18 6z"/>
<path class="b16" d="M5167 1879l18-12-10-30-18 12z"/>
<path class="b23" d="M5224 1527l18-10-10-28-18 8z"/>
<path class="b30" d="M5215 1136l18-6-10-6-18 6z"/>
<path class="b22" d="M5244 1594l18-12-10-44-18 12z"/>
<path class="b25" d="M5222 1442l18-7-10-54-18 6z"/>
<path class="b33" d="M5099 963l18-6-10-20-18 6z"/>
<path class="b22" d="M5234 1550l18-12-10-21-18 10z"/>
<path class="b30" d="M5187 1136l18-6-10-7-18 5z"/>
<path class="b17" d="M5157 1849l18-12-10-44-18 13z"/>
<path class="b18" d="M5165 1793l18-11-10-62-18 12z"/>
<path class="b24" d="M5214 1497l18-8-10-47-18 7z"/>
<path class="b26" d="M5230 1381l17-6-9-72-18 5z"/>
<path class="b32" d="M5129 1061l18-5-10-42-18 5z"/>
<path class="b20" d="M5190 1708l18-47-10-51-18 43z"/>
<path class="b34" d="M5015 925l18-9-50-56-18 9z"/>
<path class="b28" d="M5255 1297l18-6-10-101-17 6z"/>
<path class="b34" d="M5061 930l18-6-10-20-18 6z"/>
<path class="b30" d="M5159 1134l18-6-10-11-18 5z"/>
<path class="b20" d="M5173 1720l17-12-10-55-17 11z"/>
<path class="b33" d="M5109 982l18-5-10-20-18 6z"/>
<path class="b35" d="M4631 894l18-17-48-48-18 11z"/>
<path class="b32" d="M5119 1019l18-5-10-37-18 5z"/>
<path class="b35" d="M4753 923l19-12-50-78-18 12z"/>
<path class="b16" d="M5149 1897l18-18-10-30-18 18z"/>
<path class="b22" d="M5226 1617l18-23-10-44-18 20z"/>
<path class="b30" d="M5253 1150l18-7-10-13-18 7z"/>
<path class="b21" d="M5208 1661l18-44-10-47-18 40z"/>
<path class="b23" d="M5206 1544l18-17-10-30-18 14z"/>
<path class="b33" d="M5071 949l18-6-10-19-18 6z"/>
<path class="b34" d="M4875 916l18-8-49-37-18 7z"/>
<path class="b22" d="M5216 1570l18-20-10-23-18 17z"/>
<path class="b29" d="M5263 1190l18-7-10-40-18 7z"/>
<path class="b21" d="M5180 1653l18-43-10-33-18 34z"/>
<path class="b17" d="M5139 1867l18-18-10-43-18 17z"/>
<path class="b30" d="M5132 1127l17-5-10-19-18 5z"/>
<path class="b31" d="M5121 1108l18-5-10-42-18 5z"/>
<path class="b30" d="M5225 1143l18-6-10-7-18 6z"/>
<path class="b18" d="M5147 1806l18-13-10-61-18 13z"/>
<path class="b22" d="M5198 1610l18-40-10-26-18 33z"/>
<path class="b30" d="M5198 1143l17-7-10-6-18 6z"/>
<path class="b25" d="M5204 1449l18-7-10-55-18 6z"/>
<path class="b23" d="M5196 1511l18-14-10-48-18 11z"/>
<path class="b33" d="M5081 968l18-5-10-20-18 6z"/>
<path class="b34" d="M4997 936l18-11-50-56-18 12z"/>
<path class="b35" d="M4613 918l18-24-48-54-19 14z"/>
<path class="b22" d="M5188 1577l18-33-10-33-18 22z"/>
<path class="b30" d="M5170 1142l17-6-10-8-18 6z"/>
<path class="b21" d="M5163 1664l17-11-10-42-17 11z"/>
<path class="b16" d="M5131 1914l18-17-10-30-18 17z"/>
<path class="b26" d="M5212 1387l18-6-10-73-18 6z"/>
<path class="b19" d="M5155 1732l18-12-10-56-18 11z"/>
<path class="b32" d="M5111 1066l18-5-10-42-18 6z"/>
<path class="b34" d="M5043 936l18-6-10-20-18 6z"/>
<path class="b28" d="M5238 1303l17-6-9-101-18 6z"/>
<path class="b22" d="M5170 1611l18-34-10-44-18 21z"/>
<path class="b34" d="M4735 935l18-12-49-78-18 12z"/>
<path class="b30" d="M5142 1140l17-6-10-12-17 5z"/>
<path class="b17" d="M5121 1884l18-17-10-44-18 16z"/>
<path class="b33" d="M5091 988l18-6-10-19-18 5z"/>
<path class="b32" d="M5101 1025l18-6-10-37-18 6z"/>
<path class="b34" d="M4595 944l18-26-49-64-18 13z"/>
<path class="b30" d="M5236 1156l17-6-10-13-18 6z"/>
<path class="b34" d="M4857 925l18-9-49-38-18 10z"/>
<path class="b18" d="M5129 1823l18-17-10-61-18 18z"/>
<path class="b33" d="M5053 955l18-6-10-19-18 6z"/>
<path class="b23" d="M5178 1533l18-22-10-51-18 15z"/>
<path class="b16" d="M5113 1932l18-18-10-30-18 18z"/>
<path class="b29" d="M5246 1196l17-6-10-40-17 6z"/>
<path class="b30" d="M5208 1150l17-7-10-7-17 7z"/>
<path class="b22" d="M5153 1622l17-11-10-57-17 9z"/>
<path class="b30" d="M5114 1132l18-5-11-19-17 4z"/>
<path class="b31" d="M5104 1112l17-4-10-42-18 5z"/>
<path class="b34" d="M4979 946l18-10-50-55-18 13z"/>
<path class="b25" d="M5186 1460l18-11-10-56-18 10z"/>
<path class="b20" d="M5145 1675l18-11-10-42-18 11z"/>
<path class="b30" d="M5180 1149l18-6-11-7-17 6z"/>
<path class="b19" d="M5137 1745l18-13-10-57-18 13z"/>
<path class="b16" d="M5103 1902l18-18-10-45-18 16z"/>
<path class="b33" d="M5063 974l18-6-10-19-18 6z"/>
<path class="b30" d="M5152 1148l18-6-11-8-17 6z"/>
<path class="b34" d="M4717 945l18-10-49-78-18 10zM5025 944l18-8-10-20-18 9z"/>
<path class="b18" d="M5111 1839l18-16-10-60-18 16z"/>
<path class="b26" d="M5194 1393l18-6-10-73-18 5z"/>
<path class="b32" d="M5093 1071l18-5-10-41-18 5z"/>
<path class="b28" d="M5220 1308l18-5-10-101-18 6z"/>
<path class="b23" d="M5160 1554l18-21-10-58-18 12z"/>
<path class="b30" d="M5124 1146l18-6-10-13-18 5z"/>
<path class="b15" d="M5095 1945l18-13-10-30-18 13z"/>
<path class="b34" d="M4839 937l18-12-49-37-18 12z"/>
<path class="b33" d="M5073 993l18-5-10-20-18 6z"/>
<path class="b32" d="M5083 1030l18-5-10-37-18 5z"/>
<path class="b30" d="M5218 1163l18-7-11-13-17 7z"/>
<path class="b33" d="M5035 963l18-8-10-19-18 8z"/>
<path class="b19" d="M5119 1763l18-18-10-57-18 17z"/>
<path class="b21" d="M5135 1633l18-11-10-59-18 10z"/>
<path class="b24" d="M5168 1475l18-15-10-57-18 9z"/>
<path class="b16" d="M5085 1915l18-13-10-47-18 14z"/>
<path class="b20" d="M5127 1688l18-13-10-42-18 13z"/>
<path class="b29" d="M5228 1202l18-6-10-40-18 7z"/>
<path class="b34" d="M4961 953l18-7-50-52-18 7z"/>
<path class="b30" d="M5190 1156l18-6-10-7-18 6zM5096 1139l18-7-10-20-18 8z"/>
<path class="b31" d="M5086 1120l18-8-11-41-17 7z"/>
<path class="b17" d="M5093 1855l18-16-10-60-18 16z"/>
<path class="b30" d="M5162 1155l18-6-10-7-18 6z"/>
<path class="b34" d="M4699 957l18-12-49-78-19 10z"/>
<path class="b23" d="M5143 1563l17-9-10-67-18 9z"/>
<path class="b33" d="M5045 982l18-8-10-19-18 8z"/>
<path class="b34" d="M5007 954l18-10-10-19-18 11z"/>
<path class="b30" d="M5134 1154l18-6-10-8-18 6z"/>
<path class="b26" d="M5176 1403l18-10-10-74-18 15z"/>
<path class="b15" d="M5077 1957l18-12-10-30-18 13z"/>
<path class="b34" d="M4821 948l18-11-49-37-18 11z"/>
<path class="b32" d="M5076 1078l17-7-10-41-18 8z"/>
<path class="b28" d="M5202 1314l18-6-10-100-18 7z"/>
<path class="b19" d="M5101 1779l18-16-10-58-18 15z"/>
<path class="b30" d="M5106 1154l18-8-10-14-18 7z"/>
<path class="b20" d="M5109 1705l18-17-10-42-18 16z"/>
<path class="b33" d="M5055 1001l18-8-10-19-18 8z"/>
<path class="b16" d="M5067 1928l18-13-10-46-18 13z"/>
<path class="b33" d="M5017 972l18-9-10-19-18 10z"/>
<path class="b21" d="M5117 1646l18-13-10-60-18 11z"/>
<path class="b24" d="M5150 1487l18-12-10-63-18 7z"/>
<path class="b32" d="M5065 1038l18-8-10-37-18 8z"/>
<path class="b30" d="M5200 1170l18-7-10-13-18 6z"/>
<path class="b17" d="M5075 1869l18-14-10-60-18 14z"/>
<path class="b34" d="M4680 973l19-16-50-80-18 17zM4943 960l18-7-50-52-18 7z"/>
<path class="b29" d="M5210 1208l18-6-10-39-18 7z"/>
<path class="b30" d="M5172 1163l18-7-10-7-18 6z"/>
<path class="b31" d="M5068 1124l18-4-10-42-18 6z"/>
<path class="b30" d="M5078 1145l18-6-10-19-18 4z"/>
<path class="b34" d="M4989 964l18-10-10-18-18 10z"/>
<path class="b26" d="M5158 1412l18-9-10-69-18 14z"/>
<path class="b23" d="M5125 1573l18-10-11-67-17 8z"/>
<path class="b30" d="M5144 1162l18-7-10-7-18 6z"/>
<path class="b33" d="M5027 990l18-8-10-19-18 9z"/>
<path class="b15" d="M5059 1969l18-12-10-29-18 12z"/>
<path class="b19" d="M5083 1795l18-16-10-59-18 15z"/>
<path class="b34" d="M4802 960l19-12-49-37-19 12z"/>
<path class="b30" d="M5116 1163l18-9-10-8-18 8z"/>
<path class="b20" d="M5091 1720l18-15-10-43-18 13z"/>
<path class="b34" d="M4662 994l18-21-49-79-18 24z"/>
<path class="b32" d="M5058 1084l18-6-11-40-18 8z"/>
<path class="b16" d="M5049 1940l18-12-10-46-18 11z"/>
<path class="b21" d="M5099 1662l18-16-10-62-18 14z"/>
<path class="b28" d="M5184 1319l18-5-10-99-18 6z"/>
<path class="b30" d="M5088 1163l18-9-10-15-18 6z"/>
<path class="b17" d="M5057 1882l18-13-10-60-18 14z"/>
<path class="b33" d="M4999 981l18-9-10-18-18 10zM5037 1009l18-8-10-19-18 8z"/>
<path class="b24" d="M5132 1496l18-9-10-68-18 8z"/>
<path class="b32" d="M5047 1046l18-8-10-37-18 8z"/>
<path class="b30" d="M5182 1177l18-7-10-14-18 7z"/>
<path class="b33" d="M4644 1014l18-20-49-76-18 26z"/>
<path class="b15" d="M5041 1992l18-23-10-29-18 23z"/>
<path class="b34" d="M4925 969l18-9-50-52-18 8z"/>
<path class="b18" d="M5065 1809l18-14-10-60-18 14z"/>
<path class="b29" d="M5192 1215l18-7-10-38-18 7z"/>
<path class="b30" d="M5154 1170l18-7-10-8-18 7z"/>
<path class="b14" d="M5023 2023l18-31-10-29-18 33z"/>
<path class="b34" d="M4784 971l18-11-49-37-18 12z"/>
<path class="b23" d="M5107 1584l18-11-10-69-18 12z"/>
<path class="b34" d="M4971 971l18-7-10-18-18 7z"/>
<path class="b14" d="M5005 2054l18-31-10-27-18 35z"/>
<path class="b26" d="M5140 1419l18-7-10-64-18 5z"/>
<path class="b20" d="M5073 1735l18-15-10-45-18 12z"/>
<path class="b33" d="M5009 999l18-9-10-18-18 9z"/>
<path class="b16" d="M5031 1963l18-23-10-47-18 22z"/>
<path class="b30" d="M5060 1152l18-7-10-21-18 4zM5126 1171l18-9-10-8-18 9z"/>
<path class="b31" d="M5050 1128l18-4-10-40-19 5z"/>
<path class="b30" d="M5098 1174l18-11-10-9-18 9z"/>
<path class="b15" d="M4995 2031l18-35-10-48-18 37z"/>
<path class="b13" d="M4987 2075l18-21-10-23-18 25z"/>
<path class="b21" d="M5081 1675l18-13-10-64-18 9z"/>
<path class="b15" d="M5013 1996l18-33-10-48-18 33z"/>
<path class="b17" d="M5039 1893l18-11-10-59-18 12z"/>
<path class="b14" d="M4977 2056l18-25-10-46-18 28z"/>
<path class="b28" d="M5166 1334l18-15-10-98-18 11z"/>
<path class="b32" d="M5039 1089l19-5-11-38-18 7z"/>
<path class="b30" d="M5070 1173l18-10-10-18-18 7z"/>
<path class="b33" d="M5019 1018l18-9-10-19-18 9zM4981 988l18-7-10-17-18 7z"/>
<path class="b24" d="M5115 1504l17-8-10-69-18 8z"/>
<path class="b18" d="M5047 1823l18-14-10-60-18 14z"/>
<path class="b32" d="M5029 1053l18-7-10-37-18 9z"/>
<path class="b30" d="M5164 1183l18-6-10-14-18 7z"/>
<path class="b34" d="M4907 978l18-9-50-53-18 9z"/>
<path class="b20" d="M5055 1749l18-14-10-48-18 15z"/>
<path class="b23" d="M5089 1598l18-14-10-68-18 12z"/>
<path class="b34" d="M4766 981l18-10-49-36-18 10z"/>
<path class="b15" d="M4967 2013l18-28-10-48-18 33z"/>
<path class="b29" d="M5174 1221l18-6-10-38-18 6z"/>
<path class="b30" d="M5136 1180l18-10-10-8-18 9zM5108 1184l18-13-10-8-18 11z"/>
<path class="b17" d="M5021 1915l18-22-10-58-18 21z"/>
<path class="b16" d="M4985 1985l18-37-10-55-18 44z"/>
<path class="b33" d="M4953 978l18-7-10-18-18 7zM4991 1005l18-6-10-18-18 7z"/>
<path class="b30" d="M5080 1185l18-11-10-11-18 10z"/>
<path class="b26" d="M5122 1427l18-8-10-66-18 7z"/>
<path class="b21" d="M5063 1687l18-12-10-68-18 9z"/>
<path class="b30" d="M5042 1159l18-7-10-24-18 7z"/>
<path class="b28" d="M5148 1348l18-14-10-102-18 15z"/>
<path class="b16" d="M5003 1948l18-33-10-59-18 37z"/>
<path class="b31" d="M5032 1135l18-7-11-39-18 7z"/>
<path class="b32" d="M5021 1096l18-7-10-36-18 8z"/>
<path class="b30" d="M5052 1180l18-7-10-21-18 7z"/>
<path class="b18" d="M5029 1835l18-12-10-60-18 11z"/>
<path class="b33" d="M5001 1025l18-7-10-19-18 6z"/>
<path class="b24" d="M5097 1516l18-12-11-69-18 11z"/>
<path class="b33" d="M4963 995l18-7-10-17-18 7z"/>
<path class="b19" d="M5037 1763l18-14-10-47-18 14z"/>
<path class="b32" d="M5011 1061l18-8-10-35-18 7z"/>
<path class="b16" d="M4957 1970l18-33-10-55-18 39z"/>
<path class="b34" d="M4888 989l19-11-50-53-18 12z"/>
<path class="b30" d="M5146 1196l18-13-10-13-18 10z"/>
<path class="b34" d="M4748 992l18-11-49-36-18 12z"/>
<path class="b22" d="M5071 1607l18-9-10-70-19 6z"/>
<path class="b30" d="M5090 1198l18-14-10-10-18 11zM5118 1195l18-15-10-9-18 13z"/>
<path class="b29" d="M5156 1232l18-11-10-38-18 13z"/>
<path class="b17" d="M4975 1937l18-44-10-60-18 49z"/>
<path class="b21" d="M5045 1702l18-15-10-71-18 13z"/>
<path class="b30" d="M5062 1193l18-8-10-12-18 7z"/>
<path class="b27" d="M5130 1353l18-5-10-101-18 14z"/>
<path class="b33" d="M4935 986l18-8-10-18-18 9zM4973 1012l18-7-10-17-18 7z"/>
<path class="b26" d="M5104 1435l18-8-10-67-18 8z"/>
<path class="b18" d="M5011 1856l18-21-10-61-18 20z"/>
<path class="b30" d="M5024 1166l18-7-10-24-19 6z"/>
<path class="b31" d="M5013 1141l19-6-11-39-18 7z"/>
<path class="b17" d="M4993 1893l18-37-10-62-18 39z"/>
<path class="b19" d="M5019 1774l18-11-10-47-18 10z"/>
<path class="b24" d="M5079 1528l18-12-11-70-18 10z"/>
<path class="b29" d="M5128 1214l18-18-10-16-18 15z"/>
<path class="b31" d="M5003 1103l18-7-10-35-18 7z"/>
<path class="b30" d="M5034 1188l18-8-10-21-18 7z"/>
<path class="b17" d="M4947 1921l18-39-10-53-18 42z"/>
<path class="b33" d="M4729 1009l19-17-49-35-19 16zM4983 1032l18-7-10-20-18 7z"/>
<path class="b29" d="M5100 1210l18-15-10-11-18 14z"/>
<path class="b33" d="M4945 1003l18-8-10-17-18 8z"/>
<path class="b34" d="M4870 999l18-10-49-52-18 11z"/>
<path class="b29" d="M5138 1247l18-15-10-36-18 18z"/>
<path class="b32" d="M4993 1068l18-7-10-36-18 7z"/>
<path class="b29" d="M5072 1206l18-8-10-13-18 8z"/>
<path class="b21" d="M5027 1716l18-14-10-73-19 13z"/>
<path class="b22" d="M5053 1616l18-9-11-73-18 5z"/>
<path class="b18" d="M4965 1882l18-49-10-52-18 48z"/>
<path class="b27" d="M5112 1360l18-7-10-92-18 9z"/>
<path class="b33" d="M4917 996l18-10-10-17-18 9z"/>
<path class="b30" d="M5044 1201l18-8-10-13-18 8z"/>
<path class="b26" d="M5086 1446l18-11-10-67-18 11z"/>
<path class="b33" d="M4711 1030l18-21-49-36-18 21zM4955 1020l18-8-10-17-18 8z"/>
<path class="b29" d="M5110 1231l18-17-10-19-18 15z"/>
<path class="b19" d="M5001 1794l18-20-10-48-18 17z"/>
<path class="b30" d="M5005 1175l19-9-11-25-18 9z"/>
<path class="b31" d="M4995 1150l18-9-10-38-18 9z"/>
<path class="b29" d="M5120 1261l18-14-10-33-18 17z"/>
<path class="b19" d="M4983 1833l18-39-10-51-18 38z"/>
<path class="b29" d="M5082 1219l18-9-10-12-18 8z"/>
<path class="b24" d="M5060 1534l19-6-11-72-18 4z"/>
<path class="b33" d="M4852 1011l18-12-49-51-19 12z"/>
<path class="b31" d="M4985 1112l18-9-10-35-18 9z"/>
<path class="b30" d="M5016 1197l18-9-10-22-19 9z"/>
<path class="b18" d="M4937 1871l18-42-11-66-18 58z"/>
<path class="b33" d="M4927 1013l18-10-10-17-18 10zM4965 1041l18-9-10-20-18 8zM4693 1050l18-20-49-36-18 20z"/>
<path class="b21" d="M5009 1726l18-10-11-74-18 8z"/>
<path class="b32" d="M4975 1077l18-9-10-36-18 9z"/>
<path class="b29" d="M5054 1214l18-8-10-13-18 8z"/>
<path class="b22" d="M5035 1629l18-13-11-77-18 13z"/>
<path class="b33" d="M4898 1005l19-9-10-18-19 11z"/>
<path class="b25" d="M5068 1456l18-10-10-67-18 10z"/>
<path class="b29" d="M5092 1240l18-9-10-21-18 9z"/>
<path class="b27" d="M5094 1368l18-8-10-90-18 8z"/>
<path class="b29" d="M5026 1210l18-9-10-13-18 9z"/>
<path class="b33" d="M4937 1030l18-10-10-17-18 10z"/>
<path class="b30" d="M4987 1186l18-11-10-25-18 9z"/>
<path class="b29" d="M5102 1270l18-9-10-30-18 9z"/>
<path class="b31" d="M4977 1159l18-9-10-38-18 10z"/>
<path class="b19" d="M4955 1829l18-48-11-80-18 62z"/>
<path class="b33" d="M4834 1023l18-12-50-51-18 11z"/>
<path class="b31" d="M4967 1122l18-10-10-35-18 10z"/>
<path class="b30" d="M4997 1207l19-10-11-22-18 11z"/>
<path class="b29" d="M5064 1227l18-8-10-13-18 8z"/>
<path class="b33" d="M4908 1022l19-9-10-17-19 9zM4947 1052l18-11-10-21-18 10z"/>
<path class="b20" d="M4991 1743l18-17-11-76-18 11z"/>
<path class="b22" d="M5016 1642l19-13-11-77-18 14z"/>
<path class="b24" d="M5042 1539l18-5-10-74-18 4z"/>
<path class="b32" d="M4957 1087l18-10-10-36-18 11z"/>
<path class="b29" d="M5036 1224l18-10-10-13-18 9z"/>
<path class="b20" d="M4973 1781l18-38-11-82-18 40z"/>
<path class="b33" d="M4880 1015l18-10-10-16-18 10z"/>
<path class="b29" d="M5007 1221l19-11-10-13-19 10z"/>
<path class="b27" d="M5076 1379l18-11-10-90-18 11z"/>
<path class="b29" d="M5074 1249l18-9-10-21-18 8z"/>
<path class="b33" d="M4918 1039l19-9-10-17-19 9z"/>
<path class="b25" d="M5050 1460l18-4-10-67-18 2z"/>
<path class="b19" d="M4926 1821l18-58-10-86-18 63z"/>
<path class="b29" d="M5084 1278l18-8-10-30-18 9z"/>
<path class="b30" d="M4969 1192l18-6-10-27-18 6z"/>
<path class="b33" d="M4815 1032l19-9-50-52-18 10z"/>
<path class="b31" d="M4959 1165l18-6-10-37-18 6z"/>
<path class="b29" d="M5046 1237l18-10-10-13-18 10z"/>
<path class="b31" d="M4949 1128l18-6-10-35-18 7z"/>
<path class="b33" d="M4890 1031l18-9-10-17-18 10z"/>
<path class="b30" d="M4979 1214l18-7-10-21-18 6z"/>
<path class="b32" d="M4929 1060l18-8-10-22-19 9z"/>
<path class="b22" d="M4998 1650l18-8-10-76-18 6z"/>
<path class="b32" d="M4939 1094l18-7-10-35-18 8z"/>
<path class="b24" d="M5024 1552l18-13-10-75-18 12z"/>
<path class="b29" d="M5018 1235l18-11-10-14-19 11z"/>
<path class="b33" d="M4862 1027l18-12-10-16-18 12z"/>
<path class="b27" d="M5058 1389l18-10-10-90-18 15z"/>
<path class="b29" d="M5056 1260l18-11-10-22-18 10zM4989 1228l18-7-10-14-18 7z"/>
<path class="b33" d="M4900 1048l18-9-10-17-18 9z"/>
<path class="b28" d="M5066 1289l18-11-10-29-18 11z"/>
<path class="b33" d="M4797 1042l18-10-49-51-18 11z"/>
<path class="b26" d="M5032 1464l18-4-10-69-18 3z"/>
<path class="b21" d="M4944 1763l18-62-10-86-18 62z"/>
<path class="b30" d="M4951 1199l18-7-10-27-18 6z"/>
<path class="b31" d="M4941 1171l18-6-10-37-18 7z"/>
<path class="b29" d="M5028 1249l18-12-10-13-18 11z"/>
<path class="b33" d="M4872 1043l18-12-10-16-18 12z"/>
<path class="b24" d="M5006 1566l18-14-10-76-18 13z"/>
<path class="b32" d="M4910 1069l19-9-11-21-18 9z"/>
<path class="b31" d="M4931 1135l18-7-10-34-19 8z"/>
<path class="b30" d="M4961 1221l18-7-10-22-18 7z"/>
<path class="b22" d="M4980 1661l18-11-10-78-18 5z"/>
<path class="b32" d="M4920 1102l19-8-10-34-19 9z"/>
<path class="b33" d="M4844 1039l18-12-10-16-18 12z"/>
<path class="b29" d="M4999 1242l19-7-11-14-18 7zM5038 1273l18-13-10-23-18 12z"/>
<path class="b27" d="M5040 1391l18-2-10-85-18 6z"/>
<path class="b33" d="M4779 1060l18-18-49-50-19 17zM4882 1059l18-11-10-17-18 12z"/>
<path class="b22" d="M4962 1701l18-40-10-84-18 38z"/>
<path class="b28" d="M5048 1304l18-15-10-29-18 13z"/>
<path class="b29" d="M4971 1236l18-8-10-14-18 7z"/>
<path class="b33" d="M4854 1055l18-12-10-16-18 12z"/>
<path class="b30" d="M4933 1210l18-11-10-28-18 11z"/>
<path class="b29" d="M5009 1257l19-8-10-14-19 7z"/>
<path class="b21" d="M4916 1740l18-63-11-86-18 67z"/>
<path class="b26" d="M5014 1476l18-12-10-70-18 11z"/>
<path class="b31" d="M4923 1182l18-11-10-36-19 11z"/>
<path class="b32" d="M4892 1081l18-12-10-21-18 11z"/>
<path class="b24" d="M4988 1572l18-6-10-77-18 5z"/>
<path class="b33" d="M4761 1086l18-26-50-51-18 21z"/>
<path class="b31" d="M4912 1146l19-11-11-33-18 12z"/>
<path class="b30" d="M4943 1232l18-11-10-22-18 11z"/>
<path class="b32" d="M4902 1114l18-12-10-33-18 12z"/>
<path class="b33" d="M4825 1048l19-9-10-16-19 9z"/>
<path class="b29" d="M4981 1250l18-8-10-14-18 8zM5020 1280l18-7-10-24-19 8z"/>
<path class="b32" d="M4864 1071l18-12-10-16-18 12zM4742 1112l19-26-50-56-18 20z"/>
<path class="b28" d="M5030 1310l18-6-10-31-18 7z"/>
<path class="b29" d="M4953 1247l18-11-10-15-18 11z"/>
<path class="b27" d="M5022 1394l18-3-10-81-18 6z"/>
<path class="b33" d="M4835 1063l19-8-10-16-19 9z"/>
<path class="b30" d="M4914 1223l19-13-10-28-19 12z"/>
<path class="b25" d="M4996 1489l18-13-10-71-18 14z"/>
<path class="b30" d="M4904 1194l19-12-11-36-18 12z"/>
<path class="b32" d="M4874 1094l18-13-10-22-18 12z"/>
<path class="b31" d="M4894 1158l18-12-10-32-18 12z"/>
<path class="b29" d="M4991 1265l18-8-10-15-18 8zM4925 1244l18-12-10-22-19 13z"/>
<path class="b32" d="M4884 1126l18-12-10-33-18 13z"/>
<path class="b33" d="M4807 1057l18-9-10-16-18 10z"/>
<path class="b23" d="M4934 1677l18-62-11-86-18 62z"/>
<path class="b24" d="M4970 1577l18-5-10-78-19 1z"/>
<path class="b29" d="M4963 1262l18-12-10-14-18 11z"/>
<path class="b32" d="M4845 1079l19-8-10-16-19 8z"/>
<path class="b29" d="M5001 1288l19-8-11-23-18 8zM4935 1259l18-12-10-15-18 12z"/>
<path class="b28" d="M5012 1316l18-6-10-30-19 8z"/>
<path class="b27" d="M5004 1405l18-11-10-78-19 16z"/>
<path class="b30" d="M4896 1229l18-6-10-29-18 6z"/>
<path class="b33" d="M4817 1072l18-9-10-15-18 9z"/>
<path class="b30" d="M4886 1200l18-6-10-36-18 7z"/>
<path class="b25" d="M4978 1494l18-5-10-70-19 4z"/>
<path class="b24" d="M4952 1615l18-38-11-82-18 34z"/>
<path class="b32" d="M4855 1102l19-8-10-23-19 8z"/>
<path class="b31" d="M4876 1165l18-7-10-32-18 8z"/>
<path class="b29" d="M4973 1276l18-11-10-15-18 12z"/>
<path class="b33" d="M4789 1075l18-18-10-15-18 18z"/>
<path class="b32" d="M4866 1134l18-8-10-32-19 8z"/>
<path class="b29" d="M4906 1250l19-6-11-21-18 6z"/>
<path class="b23" d="M4905 1658l18-67-10-74-18 59z"/>
<path class="b29" d="M4945 1274l18-12-10-15-18 12z"/>
<path class="b32" d="M4827 1087l18-8-10-16-18 9zM4771 1101l18-26-10-15-18 26z"/>
<path class="b29" d="M4983 1300l18-12-10-23-18 11z"/>
<path class="b27" d="M4986 1419l18-14-11-73-18 16z"/>
<path class="b29" d="M4916 1266l19-7-10-15-19 6z"/>
<path class="b32" d="M4799 1090l18-18-10-15-18 18z"/>
<path class="b28" d="M4993 1332l19-16-11-28-18 12z"/>
<path class="b32" d="M4752 1127l19-26-10-15-19 26z"/>
<path class="b29" d="M4955 1289l18-13-10-14-18 12z"/>
<path class="b32" d="M4837 1110l18-8-10-23-18 8z"/>
<path class="b30" d="M4878 1235l18-6-10-29-18 5zM4868 1205l18-5-10-35-19 5z"/>
<path class="b31" d="M4857 1170l19-5-10-31-19 6z"/>
<path class="b32" d="M4847 1140l19-6-11-32-18 8zM4780 1116l19-26-10-15-18 26z"/>
<path class="b25" d="M4959 1495l19-1-11-71-18 0z"/>
<path class="b29" d="M4888 1257l18-7-10-21-18 6zM4813 1319l18-42-10-37-18 50zM4926 1281l19-7-10-15-19 7z"/>
<path class="b24" d="M4923 1591l18-62-10-71-18 59z"/>
<path class="b32" d="M4809 1106l18-19-10-15-18 18z"/>
<path class="b28" d="M4823 1339l19-39-11-23-18 42z"/>
<path class="b32" d="M4762 1149l18-33-9-15-19 26z"/>
<path class="b28" d="M4965 1313l18-13-10-24-18 13z"/>
<path class="b29" d="M4803 1290l18-50-10-39-18 49z"/>
<path class="b28" d="M4975 1348l18-16-10-32-18 13z"/>
<path class="b27" d="M4967 1423l19-4-11-71-18 6z"/>
<path class="b29" d="M4842 1300l18-36-11-33-18 46z"/>
<path class="b30" d="M4860 1264l18-29-10-30-19 26z"/>
<path class="b32" d="M4791 1140l18-34-10-16-19 26z"/>
<path class="b29" d="M4898 1273l18-7-10-16-18 7z"/>
<path class="b30" d="M4831 1277l18-46-10-34-18 43z"/>
<path class="b31" d="M4773 1179l18-39-11-24-18 33z"/>
<path class="b30" d="M4793 1250l18-49-10-31-18 39z"/>
<path class="b32" d="M4819 1133l18-23-10-23-18 19z"/>
<path class="b28" d="M4834 1360l18-41-10-19-19 39z"/>
<path class="b24" d="M4895 1576l18-59-11-67-18 65z"/>
<path class="b30" d="M4849 1231l19-26-11-35-18 27z"/>
<path class="b31" d="M4783 1209l18-39-10-30-18 39z"/>
<path class="b25" d="M4941 1529l18-34-10-72-18 35z"/>
<path class="b31" d="M4839 1197l18-27-10-30-18 23zM4829 1163l18-23-10-30-18 23z"/>
<path class="b29" d="M4870 1281l18-24-10-22-18 29zM4937 1296l18-7-10-15-19 7z"/>
<path class="b30" d="M4821 1240l18-43-10-34-18 38z"/>
<path class="b31" d="M4801 1170l18-37-10-27-18 34z"/>
<path class="b29" d="M4852 1319l18-38-10-17-18 36z"/>
<path class="b31" d="M4811 1201l18-38-10-30-18 37z"/>
<path class="b28" d="M4844 1380l18-42-10-19-18 41z"/>
<path class="b29" d="M4908 1289l18-8-10-15-18 7z"/>
<path class="b28" d="M4947 1319l18-6-10-24-18 7z"/>
<path class="b29" d="M4880 1298l18-25-10-16-18 24z"/>
<path class="b28" d="M4957 1354l18-6-10-35-18 6zM4862 1338l18-40-10-17-18 38z"/>
<path class="b27" d="M4854 1401l18-44-10-19-18 42zM4949 1423l18 0-10-69-18 4z"/>
<path class="b26" d="M4913 1517l18-59-11-66-18 58z"/>
<path class="b29" d="M4918 1305l19-9-11-15-18 8z"/>
<path class="b26" d="M4884 1515l18-65-10-49-18 52z"/>
<path class="b29" d="M4890 1315l18-26-10-16-18 25z"/>
<path class="b28" d="M4872 1357l18-42-10-17-18 40z"/>
<path class="b27" d="M4864 1419l18-41-10-21-18 44zM4931 1458l18-35-10-65-19 34z"/>
<path class="b26" d="M4874 1453l18-52-10-23-18 41z"/>
<path class="b28" d="M4928 1327l19-8-10-23-19 9zM4882 1378l18-44-10-19-18 42zM4939 1358l18-4-10-35-19 8zM4900 1334l18-29-10-16-18 26z"/>
<path class="b27" d="M4902 1450l18-58-10-36-18 45zM4892 1401l18-45-10-22-18 44z"/>
<path class="b28" d="M4910 1356l18-29-10-22-18 29zM4920 1392l19-34-11-31-18 29z"/>

</g>
<text class="tl" x="510.9" y="229.2">0</text>
<text class="tl" x="528.8" y="222.2">5</text>
<text class="tl" x="546.5" y="215.4">10</text>
<text class="tl" x="563.8" y="208.6">15</text>
<text class="tl" x="580.7" y="202">20</text>
<text class="tl" x="597.4" y="195.5">25</text>
<text class="tl" x="613.7" y="189.2">30</text>
<text class="al" x="580.4" y="224.4" transform="rotate(-21 580.4 224.4)">Copper price ($/kg)</text>
<text class="tl" x="483.1" y="227.5">0</text>
<text class="tl" x="463.6" y="214.8">100</text>
<text class="tl" x="444.8" y="202.5">200</text>
<text class="tl" x="426.6" y="190.7">300</text>
<text class="tl" x="409.1" y="179.2">400</text>
<text class="al" x="423.4" y="214.7" transform="rotate(-327.3 423.4 214.7)">Cobalt price ($/kg)</text>
<text class="tl" x="391.7" y="152.2">20</text>
<text class="tl" x="390.9" y="134">30</text>
<text class="tl" x="390.1" y="115.5">40</text>
<text class="tl" x="389.4" y="96.8">50</text>
<text class="tl" x="388.6" y="77.8">60</text>
<text class="tl" x="387.8" y="58.6">70</text>
<text class="al" x="365.1" y="102.2" transform="rotate(-272.2 365.1 102.2)">Supply (kt)</text>
<g transform="scale(.1)">
<path fill="#f8f8f8" d="M3186 4229l-982-531 4-1022 1021 462z"/>
<path fill="#f5f5f5" d="M991 4106l1213-408 4-1022-1258 354z"/>
<path fill="#f6f6f6" d="M1933 4710l1253-481-982-531-1213 408z"/>
<path class="gr" d="M2027 4674l-946-599-37-1071M2206 4605l-951-588-31-1064M2382 4538l-957-578-25-1056M2555 4471l-963-567-18-1049M2725 4406l-968-557-12-1042M2892 4342l-974-548-6-1034M3055 4279l-978-538 0-1028M3151 3103l-40 1086-1250 475M2940 3007l-32 1072-1242 460M2735 2915l-24 1058-1234 444M2537 2825l-16 1045-1227 430M2346 2739l-9 1031-1219 417M984 3929l1221-399 988 520M974 3663l1232-385 997 503M964 3393l1243-373 1007 486M953 3117l1255-359 1017 468"/>
<path class="ax" d="M3186 4229l-1253 481M991 4106l942 604M991 4106l-41-1076"/>
<path class="tk" d="M2010 4664l45 28M2190 4595l44 28M2366 4528l45 27M2539 4461l45 27M2708 4396l46 27M2875 4333l46 25M3038 4270l46 25M1882 4656l-57 22M1687 4531l-58 21M1498 4410l-57 20M1315 4293l-56 20M1139 4180l-56 19M1005 3922l-56 19M995 3657l-56 18M985 3386l-57 17M975 3111l-58 16"/>
<path class="O35" d="M2222 2795l66-20-93-43-65 21zM2157 2816l65-21-92-42-65 20zM2090 2837l67-21-92-43-66 21zM2316 2839l66-21-94-43-66 20z"/>
<path class="O34" d="M2023 2858l67-21-91-43-67 20z"/>
<path class="O35" d="M2250 2860l66-21-94-44-65 21z"/>
<path class="O34" d="M1956 2880l67-22-91-44-67 23z"/>
<path class="O35" d="M2183 2881l67-21-93-44-67 21zM2411 2883l66-22-95-43-66 21z"/>
<path class="O34" d="M1889 2904l67-24-91-43-67 23zM2116 2902l67-21-93-44-67 21z"/>
<path class="O5" d="M1216 4136l8-20-86-54-8 20z"/>
<path class="O35" d="M2345 2904l66-21-95-44-66 21z"/>
<path class="O5" d="M1224 4116l8-21-86-54-8 21z"/>
<path class="O6" d="M1232 4095l8-24-86-54-8 24z"/>
<path class="O7" d="M1240 4071l8-27-86-54-8 27zM1248 4044l8-26-86-54-8 26z"/>
<path class="O34" d="M1820 2928l69-24-91-44-68 24z"/>
<path class="O8" d="M1256 4018l9-22-86-53-9 21z"/>
<path class="O9" d="M1265 3996l8-28-86-53-8 28zM1273 3968l8-35-87-53-7 35z"/>
<path class="O34" d="M2049 2925l67-23-93-44-67 22z"/>
<path class="O10" d="M1281 3933l8-38-87-52-8 37z"/>
<path class="O35" d="M2278 2925l67-21-95-44-67 21z"/>
<path class="O12" d="M1289 3895l7-45-87-52-7 45z"/>
<path class="O34" d="M1752 2953l68-25-90-44-69 24z"/>
<path class="O35" d="M2508 2927l66-21-97-45-66 22z"/>
<path class="O13" d="M1296 3850l8-46-87-52-8 46z"/>
<path class="O34" d="M1981 2949l68-24-93-45-67 24z"/>
<path class="O14" d="M1304 3804l7-50-87-51-7 49z"/>
<path class="O34" d="M2211 2947l67-22-95-44-67 21z"/>
<path class="O15" d="M1311 3754l8-50-87-51-8 50z"/>
<path class="O34" d="M1683 2981l69-28-91-45-68 28z"/>
<path class="O5" d="M1303 4191l8-21-87-54-8 20z"/>
<path class="O35" d="M2441 2949l67-22-97-44-66 21z"/>
<path class="O5" d="M1311 4170l8-20-87-55-8 21z"/>
<path class="O6" d="M1319 4150l9-25-88-54-8 24z"/>
<path class="O7" d="M1328 4125l8-27-88-54-8 27z"/>
<path class="O17" d="M1319 3704l7-70-87-50-7 69z"/>
<path class="O7" d="M1336 4098l8-26-88-54-8 26z"/>
<path class="O34" d="M1913 2974l68-25-92-45-69 24z"/>
<path class="O8" d="M1344 4072l8-22-87-54-9 22z"/>
<path class="O9" d="M1352 4050l9-28-88-54-8 28zM1361 4022l8-36-88-53-8 35z"/>
<path class="O34" d="M2143 2970l68-23-95-45-67 23z"/>
<path class="O19" d="M1326 3634l7-76-88-50-6 76z"/>
<path class="O10" d="M1369 3986l7-37-87-54-8 38z"/>
<path class="O34" d="M1613 3011l70-30-90-45-70 29z"/>
<path class="O35" d="M2374 2971l67-22-96-45-67 21z"/>
<path class="O12" d="M1376 3949l8-46-88-53-7 45z"/>
<path class="O34" d="M1844 2998l69-24-93-46-68 25z"/>
<path class="O35" d="M2606 2973l66-22-98-45-66 21z"/>
<path class="O13" d="M1384 3903l8-47-88-52-8 46z"/>
<path class="O22" d="M1333 3558l6-91-88-50-6 91z"/>
<path class="O34" d="M2075 2995l68-25-94-45-68 24z"/>
<path class="O14" d="M1392 3856l8-50-89-52-7 50z"/>
<path class="O33" d="M1543 3043l70-32-90-46-69 32z"/>
<path class="O34" d="M2307 2993l67-22-96-46-67 22z"/>
<path class="O15" d="M1400 3806l7-50-88-52-8 50z"/>
<path class="O24" d="M1339 3467l7-83-88-49-7 82z"/>
<path class="O34" d="M1775 3027l69-29-92-45-69 28z"/>
<path class="O5" d="M1391 4247l9-21-89-56-8 21z"/>
<path class="O35" d="M2539 2995l67-22-98-46-67 22z"/>
<path class="O5" d="M1400 4226l8-21-89-55-8 20z"/>
<path class="O6" d="M1408 4205l8-24-88-56-9 25z"/>
<path class="O7" d="M1416 4181l9-28-89-55-8 27z"/>
<path class="O17" d="M1407 3756l8-70-89-52-7 70z"/>
<path class="O33" d="M1473 3093l70-50-89-46-70 49z"/>
<path class="O7" d="M1425 4153l8-26-89-55-8 26z"/>
<path class="O34" d="M2007 3020l68-25-94-46-68 25z"/>
<path class="O26" d="M1346 3384l8-61-89-49-7 61z"/>
<path class="O8" d="M1433 4127l8-22-89-55-8 22z"/>
<path class="O9" d="M1441 4105l9-28-89-55-9 28zM1450 4077l8-36-89-55-8 36z"/>
<path class="O34" d="M2239 3016l68-23-96-46-68 23z"/>
<path class="O27" d="M1354 3323l8-40-89-48-8 39z"/>
<path class="O32" d="M1465 3101l8-8-89-47-9 8z"/>
<path class="O19" d="M1415 3686l7-77-89-51-7 76z"/>
<path class="O32" d="M1456 3109l9-8-90-47-8 8zM1447 3117l9-8-89-47-9 8z"/>
<path class="O10" d="M1458 4041l8-38-90-54-7 37z"/>
<path class="O34" d="M1705 3057l70-30-92-46-70 30z"/>
<path class="O32" d="M1439 3130l8-13-89-47-9 13z"/>
<path class="O28" d="M1362 3283l8-35-89-48-8 35z"/>
<path class="O31" d="M1430 3142l9-12-90-47-8 12zM1421 3155l9-13-89-47-9 13zM1413 3168l8-13-89-47-8 12z"/>
<path class="O35" d="M2472 3017l67-22-98-46-67 22z"/>
<path class="O29" d="M1370 3248l8-17-88-48-9 17zM1378 3231l9-18-89-48-8 18z"/>
<path class="O31" d="M1404 3180l9-12-89-48-9 13z"/>
<path class="O30" d="M1387 3213l8-16-88-48-9 16zM1395 3197l9-17-89-47-8 16z"/>
<path class="O12" d="M1466 4003l8-46-90-54-8 46z"/>
<path class="O34" d="M1937 3045l70-25-94-46-69 24z"/>
<path class="O35" d="M2706 3019l66-22-100-46-66 22z"/>
<path class="O13" d="M1474 3957l8-47-90-54-8 47z"/>
<path class="O22" d="M1422 3609l7-92-90-50-6 91z"/>
<path class="O34" d="M2171 3041l68-25-96-46-68 25z"/>
<path class="O14" d="M1482 3910l8-51-90-53-8 50z"/>
<path class="O33" d="M1635 3090l70-33-92-46-70 32z"/>
<path class="O34" d="M2405 3039l67-22-98-46-67 22z"/>
<path class="O15" d="M1490 3859l8-50-91-53-7 50z"/>
<path class="O24" d="M1429 3517l7-83-90-50-7 83z"/>
<path class="O34" d="M1868 3074l69-29-93-47-69 29z"/>
<path class="O5" d="M1481 4304l9-21-90-57-9 21z"/>
<path class="O35" d="M2639 3041l67-22-100-46-67 22z"/>
<path class="O5" d="M1490 4283l8-21-90-57-8 21z"/>
<path class="O6" d="M1498 4262l9-25-91-56-8 24z"/>
<path class="O7" d="M1507 4237l8-28-90-56-9 28z"/>
<path class="O17" d="M1498 3809l7-71-90-52-8 70z"/>
<path class="O33" d="M1564 3140l71-50-92-47-70 50z"/>
<path class="O7" d="M1515 4209l8-26-90-56-8 26z"/>
<path class="O34" d="M2102 3067l69-26-96-46-68 25z"/>
<path class="O26" d="M1436 3434l8-62-90-49-8 61z"/>
<path class="O8" d="M1523 4183l9-22-91-56-8 22z"/>
<path class="O9" d="M1532 4161l8-29-90-55-9 28zM1540 4132l9-36-91-55-8 36z"/>
<path class="O34" d="M2337 3063l68-24-98-46-68 23z"/>
<path class="O27" d="M1444 3372l8-40-90-49-8 40z"/>
<path class="O32" d="M1556 3148l8-8-91-47-8 8z"/>
<path class="O19" d="M1505 3738l8-77-91-52-7 77z"/>
<path class="O32" d="M1547 3157l9-9-91-47-9 8zM1538 3165l9-8-91-48-9 8z"/>
<path class="O10" d="M1549 4096l8-38-91-55-8 38z"/>
<path class="O34" d="M1798 3105l70-31-93-47-70 30z"/>
<path class="O32" d="M1529 3178l9-13-91-48-8 13z"/>
<path class="O28" d="M1452 3332l8-35-90-49-8 35z"/>
<path class="O31" d="M1521 3190l8-12-90-48-9 12zM1512 3203l9-13-91-48-9 13zM1503 3216l9-13-91-48-8 13z"/>
<path class="O35" d="M2572 3064l67-23-100-46-67 22z"/>
<path class="O29" d="M1460 3297l9-18-91-48-8 17zM1469 3279l8-18-90-48-9 18z"/>
<path class="O31" d="M1494 3228l9-12-90-48-9 12z"/>
<path class="O30" d="M1477 3261l9-16-91-48-8 16zM1486 3245l8-17-90-48-9 17z"/>
<path class="O12" d="M1557 4058l8-47-91-54-8 46z"/>
<path class="O34" d="M2033 3092l69-25-95-47-70 25z"/>
<path class="O35" d="M2807 3066l67-23-102-46-66 22z"/>
<path class="O13" d="M1565 4011l8-47-91-54-8 47z"/>
<path class="O22" d="M1513 3661l7-93-91-51-7 92z"/>
<path class="O34" d="M2268 3089l69-26-98-47-68 25z"/>
<path class="O14" d="M1573 3964l8-51-91-54-8 51z"/>
<path class="O33" d="M1727 3138l71-33-93-48-70 33z"/>
<path class="O34" d="M2504 3087l68-23-100-47-67 22z"/>
<path class="O15" d="M1581 3913l8-50-91-54-8 50z"/>
<path class="O24" d="M1520 3568l7-83-91-51-7 83z"/>
<path class="O34" d="M1963 3121l70-29-96-47-69 29z"/>
<path class="O5" d="M1573 4362l8-22-91-57-9 21z"/>
<path class="O35" d="M2740 3089l67-23-101-47-67 22z"/>
<path class="O5" d="M1581 4340l9-21-92-57-8 21z"/>
<path class="O6" d="M1590 4319l8-25-91-57-9 25z"/>
<path class="O7" d="M1598 4294l9-28-92-57-8 28z"/>
<path class="O17" d="M1589 3863l8-72-92-53-7 71z"/>
<path class="O33" d="M1657 3188l70-50-92-48-71 50z"/>
<path class="O7" d="M1607 4266l8-27-92-56-8 26z"/>
<path class="O34" d="M2199 3114l69-25-97-48-69 26z"/>
<path class="O26" d="M1527 3485l8-63-91-50-8 62z"/>
<path class="O8" d="M1615 4239l9-22-92-56-9 22z"/>
<path class="O9" d="M1624 4217l8-28-92-57-8 29zM1632 4189l9-37-92-56-9 36z"/>
<path class="O34" d="M2436 3111l68-24-99-48-68 24z"/>
<path class="O27" d="M1535 3422l8-40-91-50-8 40z"/>
<path class="O32" d="M1648 3197l9-9-93-48-8 8z"/>
<path class="O19" d="M1597 3791l8-77-92-53-8 77z"/>
<path class="O32" d="M1639 3205l9-8-92-49-9 9zM1630 3213l9-8-92-48-9 8z"/>
<path class="O10" d="M1641 4152l8-38-92-56-8 38z"/>
<path class="O34" d="M1892 3153l71-32-95-47-70 31z"/>
<path class="O32" d="M1621 3226l9-13-92-48-9 13z"/>
<path class="O28" d="M1543 3382l9-35-92-50-8 35z"/>
<path class="O31" d="M1613 3239l8-13-92-48-8 12zM1604 3252l9-13-92-49-9 13zM1595 3264l9-12-92-49-9 13z"/>
<path class="O35" d="M2673 3111l67-22-101-48-67 23z"/>
<path class="O29" d="M1552 3347l8-18-91-50-9 18zM1560 3329l9-18-92-50-8 18z"/>
<path class="O31" d="M1586 3277l9-13-92-48-9 12z"/>
<path class="O30" d="M1569 3311l9-17-92-49-9 16zM1578 3294l8-17-92-49-8 17z"/>
<path class="O12" d="M1649 4114l9-47-93-56-8 47z"/>
<path class="O34" d="M2129 3140l70-26-97-47-69 25z"/>
<path class="O35" d="M2911 3114l66-23-103-48-67 23z"/>
<path class="O13" d="M1658 4067l8-48-93-55-8 47z"/>
<path class="O22" d="M1605 3714l7-94-92-52-7 93z"/>
<path class="O34" d="M2367 3137l69-26-99-48-69 26z"/>
<path class="O14" d="M1666 4019l8-51-93-55-8 51z"/>
<path class="O33" d="M1822 3186l70-33-94-48-71 33z"/>
<path class="O34" d="M2605 3135l68-24-101-47-68 23z"/>
<path class="O15" d="M1674 3968l8-51-93-54-8 50z"/>
<path class="O24" d="M1612 3620l8-84-93-51-7 83z"/>
<path class="O34" d="M2059 3170l70-30-96-48-70 29z"/>
<path class="O5" d="M1666 4420l8-21-93-59-8 22z"/>
<path class="O35" d="M2843 3137l68-23-104-48-67 23z"/>
<path class="O5" d="M1674 4399l9-21-93-59-9 21z"/>
<path class="O6" d="M1683 4378l9-26-94-58-8 25z"/>
<path class="O7" d="M1692 4352l8-28-93-58-9 28z"/>
<path class="O17" d="M1682 3917l8-72-93-54-8 72z"/>
<path class="O33" d="M1751 3237l71-51-95-48-70 50z"/>
<path class="O7" d="M1700 4324l9-27-94-58-8 27z"/>
<path class="O34" d="M2297 3162l70-25-99-48-69 25z"/>
<path class="O26" d="M1620 3536l8-63-93-51-8 63z"/>
<path class="O8" d="M1709 4297l9-22-94-58-9 22z"/>
<path class="O9" d="M1718 4275l8-29-94-57-8 28zM1726 4246l9-37-94-57-9 37z"/>
<path class="O34" d="M2536 3159l69-24-101-48-68 24z"/>
<path class="O27" d="M1628 3473l8-40-93-51-8 40z"/>
<path class="O32" d="M1742 3246l9-9-94-49-9 9z"/>
<path class="O19" d="M1690 3845l8-78-93-53-8 77z"/>
<path class="O32" d="M1733 3254l9-8-94-49-9 8zM1724 3262l9-8-94-49-9 8z"/>
<path class="O10" d="M1735 4209l8-39-94-56-8 38z"/>
<path class="O34" d="M1989 3201l70-31-96-49-71 32z"/>
<path class="O32" d="M1715 3275l9-13-94-49-9 13z"/>
<path class="O28" d="M1636 3433l9-36-93-50-9 35z"/>
<path class="O31" d="M1706 3288l9-13-94-49-8 13zM1698 3301l8-13-93-49-9 13zM1689 3314l9-13-94-49-9 12z"/>
<path class="O35" d="M2776 3160l67-23-103-48-67 22z"/>
<path class="O29" d="M1645 3397l8-18-93-50-8 18zM1653 3379l9-18-93-50-9 18z"/>
<path class="O31" d="M1680 3327l9-13-94-50-9 13z"/>
<path class="O30" d="M1662 3361l9-17-93-50-9 17zM1671 3344l9-17-94-50-8 17z"/>
<path class="O12" d="M1743 4170l9-47-94-56-9 47z"/>
<path class="O34" d="M2228 3189l69-27-98-48-70 26z"/>
<path class="O35" d="M3016 3162l67-23-106-48-66 23z"/>
<path class="O13" d="M1752 4123l8-47-94-57-8 48z"/>
<path class="O22" d="M1698 3767l8-94-94-53-7 94z"/>
<path class="O34" d="M2467 3185l69-26-100-48-69 26z"/>
<path class="O14" d="M1760 4076l9-52-95-56-8 51z"/>
<path class="O33" d="M1918 3235l71-34-97-48-70 33z"/>
<path class="O34" d="M2708 3183l68-23-103-49-68 24z"/>
<path class="O15" d="M1769 4024l8-51-95-56-8 51z"/>
<path class="O24" d="M1706 3673l8-85-94-52-8 84z"/>
<path class="O34" d="M2157 3219l71-30-99-49-70 30z"/>
<path class="O5" d="M1760 4480l9-21-95-60-8 21z"/>
<path class="O35" d="M2948 3186l68-24-105-48-68 23z"/>
<path class="O5" d="M1769 4459l9-22-95-59-9 21z"/>
<path class="O6" d="M1778 4437l9-25-95-60-9 26z"/>
<path class="O7" d="M1787 4412l8-29-95-59-8 28z"/>
<path class="O17" d="M1777 3973l8-73-95-55-8 72z"/>
<path class="O33" d="M1846 3287l72-52-96-49-71 51z"/>
<path class="O7" d="M1795 4383l9-27-95-59-9 27z"/>
<path class="O34" d="M2398 3212l69-27-100-48-70 25z"/>
<path class="O26" d="M1714 3588l8-63-94-52-8 63z"/>
<path class="O8" d="M1804 4356l9-22-95-59-9 22z"/>
<path class="O9" d="M1813 4334l9-30-96-58-8 29zM1822 4304l8-37-95-58-9 37z"/>
<path class="O34" d="M2639 3208l69-25-103-48-69 24z"/>
<path class="O27" d="M1722 3525l9-41-95-51-8 40z"/>
<path class="O32" d="M1837 3296l9-9-95-50-9 9z"/>
<path class="O19" d="M1785 3900l9-78-96-55-8 78z"/>
<path class="O32" d="M1828 3304l9-8-95-50-9 8zM1819 3313l9-9-95-50-9 8z"/>
<path class="O10" d="M1830 4267l9-39-96-58-8 39z"/>
<path class="O34" d="M2086 3251l71-32-98-49-70 31z"/>
<path class="O32" d="M1811 3326l8-13-95-51-9 13z"/>
<path class="O28" d="M1731 3484l9-36-95-51-9 36z"/>
<path class="O31" d="M1802 3339l9-13-96-51-9 13zM1793 3352l9-13-96-51-8 13zM1784 3365l9-13-95-51-9 13z"/>
<path class="O35" d="M2880 3209l68-23-105-49-67 23z"/>
<path class="O29" d="M1740 3448l8-18-95-51-8 18zM1748 3430l9-18-95-51-9 18z"/>
<path class="O31" d="M1775 3378l9-13-95-51-9 13z"/>
<path class="O30" d="M1757 3412l9-17-95-51-9 17zM1766 3395l9-17-95-51-9 17z"/>
<path class="O12" d="M1839 4228l9-47-96-58-9 47z"/>
<path class="O34" d="M2328 3238l70-26-101-50-69 27z"/>
<path class="O13" d="M1848 4181l8-48-96-57-8 47z"/>
<path class="O22" d="M1794 3822l8-96-96-53-8 94z"/>
<path class="O34" d="M2569 3235l70-27-103-49-69 26z"/>
<path class="O14" d="M1856 4133l9-52-96-57-9 52z"/>
<path class="O33" d="M2015 3285l71-34-97-50-71 34z"/>
<path class="O34" d="M2812 3233l68-24-104-49-68 23z"/>
<path class="O15" d="M1865 4081l8-52-96-56-8 51z"/>
<path class="O24" d="M1802 3726l8-85-96-53-8 85z"/>
<path class="O34" d="M2257 3269l71-31-100-49-71 30z"/>
<path class="O5" d="M1856 4541l9-22-96-60-9 21zM1865 4519l9-21-96-61-9 22z"/>
<path class="O6" d="M1874 4498l9-26-96-60-9 25z"/>
<path class="O7" d="M1883 4472l9-29-97-60-8 29z"/>
<path class="O17" d="M1873 4029l9-73-97-56-8 73z"/>
<path class="O33" d="M1943 3338l72-53-97-50-72 52z"/>
<path class="O7" d="M1892 4443l9-27-97-60-9 27z"/>
<path class="O34" d="M2500 3262l69-27-102-50-69 27z"/>
<path class="O26" d="M1810 3641l8-63-96-53-8 63z"/>
<path class="O8" d="M1901 4416l9-23-97-59-9 22z"/>
<path class="O9" d="M1910 4393l8-29-96-60-9 30zM1918 4364l9-37-97-60-8 37z"/>
<path class="O34" d="M2743 3259l69-26-104-50-69 25z"/>
<path class="O27" d="M1818 3578l9-41-96-53-9 41z"/>
<path class="O32" d="M1935 3346l8-8-97-51-9 9z"/>
<path class="O19" d="M1882 3956l8-79-96-55-9 78z"/>
<path class="O32" d="M1926 3355l9-9-98-50-9 8zM1917 3363l9-8-98-51-9 9z"/>
<path class="O10" d="M1927 4327l9-40-97-59-9 39z"/>
<path class="O34" d="M2186 3301l71-32-100-50-71 32z"/>
<path class="O32" d="M1908 3377l9-14-98-50-8 13z"/>
<path class="O28" d="M1827 3537l9-37-96-52-9 36z"/>
<path class="O31" d="M1899 3390l9-13-97-51-9 13zM1890 3403l9-13-97-51-9 13zM1881 3416l9-13-97-51-9 13z"/>
<path class="O29" d="M1836 3500l9-18-97-52-8 18zM1845 3482l9-18-97-52-9 18z"/>
<path class="O31" d="M1872 3429l9-13-97-51-9 13z"/>
<path class="O30" d="M1854 3464l9-18-97-51-9 17zM1863 3446l9-17-97-51-9 17z"/>
<path class="O12" d="M1936 4287l9-48-97-58-9 47z"/>
<path class="O34" d="M2429 3289l71-27-102-50-70 26z"/>
<path class="O13" d="M1945 4239l9-48-98-58-8 48z"/>
<path class="O22" d="M1890 3877l9-96-97-55-8 96z"/>
<path class="O34" d="M2674 3285l69-26-104-51-70 27z"/>
<path class="O14" d="M1954 4191l9-52-98-58-9 52z"/>
<path class="O33" d="M2114 3336l72-35-100-50-71 34z"/>
<path class="O15" d="M1963 4139l8-53-98-57-8 52z"/>
<path class="O24" d="M1899 3781l8-86-97-54-8 85z"/>
<path class="O34" d="M2359 3320l70-31-101-51-71 31z"/>
<path class="O5" d="M1954 4603l9-22-98-62-9 22zM1963 4581l9-22-98-61-9 21z"/>
<path class="O6" d="M1972 4559l9-26-98-61-9 26z"/>
<path class="O7" d="M1981 4533l9-29-98-61-9 29z"/>
<path class="O17" d="M1971 4086l9-73-98-57-9 73z"/>
<path class="O33" d="M2042 3389l72-53-99-51-72 53z"/>
<path class="O7" d="M1990 4504l9-27-98-61-9 27z"/>
<path class="O34" d="M2604 3313l70-28-105-50-69 27z"/>
<path class="O26" d="M1907 3695l9-64-98-53-8 63z"/>
<path class="O8" d="M1999 4477l9-23-98-61-9 23z"/>
<path class="O9" d="M2008 4454l9-30-99-60-8 29zM2017 4424l9-37-99-60-9 37z"/>
<path class="O27" d="M1916 3631l9-41-98-53-9 41z"/>
<path class="O32" d="M2033 3398l9-9-99-51-8 8z"/>
<path class="O19" d="M1980 4013l9-80-99-56-8 79z"/>
<path class="O32" d="M2024 3407l9-9-98-52-9 9zM2015 3415l9-8-98-52-9 8z"/>
<path class="O10" d="M2026 4387l9-40-99-60-9 40z"/>
<path class="O34" d="M2287 3353l72-33-102-51-71 32z"/>
<path class="O32" d="M2006 3429l9-14-98-52-9 14z"/>
<path class="O28" d="M1925 3590l9-37-98-53-9 37z"/>
<path class="O31" d="M1997 3442l9-13-98-52-9 13zM1988 3455l9-13-98-52-9 13zM1979 3468l9-13-98-52-9 13z"/>
<path class="O29" d="M1934 3553l9-18-98-53-9 18zM1943 3535l9-19-98-52-9 18z"/>
<path class="O31" d="M1970 3482l9-14-98-52-9 13z"/>
<path class="O30" d="M1952 3516l9-17-98-53-9 18zM1961 3499l9-17-98-53-9 17z"/>
<path class="O12" d="M2035 4347l9-48-99-60-9 48z"/>
<path class="O34" d="M2533 3340l71-27-104-51-71 27z"/>
<path class="O13" d="M2044 4299l9-49-99-59-9 48z"/>
<path class="O22" d="M1989 3933l9-96-99-56-9 96z"/>
<path class="O14" d="M2053 4250l9-53-99-58-9 52z"/>
<path class="O33" d="M2215 3388l72-35-101-52-72 35z"/>
<path class="O15" d="M2062 4197l9-52-100-59-8 53z"/>
<path class="O24" d="M1998 3837l9-87-100-55-8 86z"/>
<path class="O34" d="M2462 3371l71-31-104-51-70 31z"/>
<path class="O17" d="M2071 4145l9-74-100-58-9 73z"/>
<path class="O33" d="M2143 3442l72-54-101-52-72 53z"/>
<path class="O26" d="M2007 3750l9-64-100-55-9 64z"/>
<path class="O27" d="M2016 3686l9-42-100-54-9 41z"/>
<path class="O32" d="M2134 3451l9-9-101-53-9 9z"/>
<path class="O19" d="M2080 4071l9-80-100-58-9 80z"/>
<path class="O32" d="M2125 3459l9-8-101-53-9 9zM2116 3468l9-9-101-52-9 8z"/>
<path class="O34" d="M2390 3405l72-34-103-51-72 33z"/>
<path class="O32" d="M2107 3481l9-13-101-53-9 14z"/>
<path class="O28" d="M2025 3644l9-37-100-54-9 37z"/>
<path class="O31" d="M2098 3495l9-14-101-52-9 13zM2088 3508l10-13-101-53-9 13zM2079 3522l9-14-100-53-9 13z"/>
<path class="O29" d="M2034 3607l9-18-100-54-9 18zM2043 3589l9-19-100-54-9 19z"/>
<path class="O31" d="M2070 3535l9-13-100-54-9 14z"/>
<path class="O30" d="M2052 3570l9-18-100-53-9 17zM2061 3552l9-17-100-53-9 17z"/>
<path class="O22" d="M2089 3991l10-98-101-56-9 96z"/>
<path class="O33" d="M2318 3441l72-36-103-52-72 35z"/>
<path class="O24" d="M2099 3893l9-87-101-56-9 87z"/>
<path class="O33" d="M2245 3495l73-54-103-53-72 54z"/>
<path class="O26" d="M2108 3806l9-65-101-55-9 64z"/>
<path class="O27" d="M2117 3741l9-41-101-56-9 42z"/>
<path class="O32" d="M2236 3504l9-9-102-53-9 9zM2227 3513l9-9-102-53-9 8zM2218 3522l9-9-102-54-9 9zM2209 3535l9-13-102-54-9 13z"/>
<path class="O28" d="M2126 3700l9-38-101-55-9 37z"/>
<path class="O31" d="M2200 3549l9-14-102-54-9 14zM2191 3562l9-13-102-54-10 13zM2181 3576l10-14-103-54-9 14z"/>
<path class="O29" d="M2135 3662l10-19-102-54-9 18zM2145 3643l9-19-102-54-9 19z"/>
<path class="O31" d="M2172 3589l9-13-102-54-9 13z"/>
<path class="O30" d="M2154 3624l9-17-102-55-9 18zM2163 3607l9-18-102-54-9 17z"/>
<path class="p0" d="M2168 3457l115-32-90-47-115 32z"/>
<path class="p0" d="M2051 3490l117-33-90-47-117 33z"/>
<path class="p0" d="M2259 3505l116-33-92-47-115 32z"/>
<path class="p0" d="M1932 3524l119-34-90-47-118 33z"/>
<path class="p0" d="M2142 3539l117-34-91-48-117 33z"/>
<path class="p0" d="M2352 3553l116-34-93-47-116 33z"/>
<path class="p0" d="M1813 3558l119-34-89-48-119 33z"/>
<path class="p0" d="M2023 3573l119-34-91-49-119 34z"/>
<path class="p0" d="M2234 3588l118-35-93-48-117 34z"/>
<path class="p0" d="M2446 3602l117-34-95-49-116 34z"/>
<path class="p0" d="M1691 3592l122-34-89-49-121 34z"/>
<path class="p0" d="M1903 3607l120-34-91-49-119 34z"/>
<path class="p0" d="M2115 3622l119-34-92-49-119 34z"/>
<path class="p0" d="M2328 3637l118-35-94-49-118 35z"/>
<path class="p0" d="M2542 3652l117-35-96-49-117 34z"/>
<path class="p0" d="M1568 3627l123-35-88-49-123 34z"/>
<path class="p0" d="M1781 3642l122-35-90-49-122 34z"/>
<path class="p0" d="M1995 3657l120-35-92-49-120 34z"/>
<path class="p0" d="M2209 3673l119-36-94-49-119 34z"/>
<path class="p0" d="M2424 3688l118-36-96-50-118 35z"/>
<path class="p0" d="M1443 3662l125-35-88-50-124 35z"/>
<path class="p0" d="M2639 3703l117-35-97-51-117 35z"/>
<path class="p0" d="M1657 3678l124-36-90-50-123 35z"/>
<path class="p0" d="M1872 3693l123-36-92-50-122 35z"/>
<path class="p0" d="M2088 3708l121-35-94-51-120 35z"/>
<path class="p0" d="M2304 3724l120-36-96-51-119 36z"/>
<path class="p0" d="M1317 3698l126-36-87-50-126 35z"/>
<path class="p0" d="M2521 3739l118-36-97-51-118 36z"/>
<path class="p0" d="M1532 3714l125-36-89-51-125 35z"/>
<path class="p0" d="M2738 3755l118-37-100-50-117 35z"/>
<path class="p0" d="M1748 3729l124-36-91-51-124 36z"/>
<path class="p0" d="M1965 3745l123-37-93-51-123 36z"/>
<path class="p0" d="M1245 3699l72-1-87-51-72 1z"/>
<path class="p0" d="M2183 3760l121-36-95-51-121 35z"/>
<path class="p0" d="M2401 3776l120-37-97-51-120 36z"/>
<path class="p0" d="M1406 3750l126-36-89-52-126 36z"/>
<path class="p0" d="M1229 3691l16 8-87-51-16-8z"/>
<path class="p0" d="M2619 3791l119-36-99-52-118 36z"/>
<path class="p1" d="M1223 3671l6 20-87-51-6-20z"/>
<path class="p0" d="M1623 3766l125-37-91-51-125 36z"/>
<path class="p0" d="M2839 3807l117-37-100-52-118 37z"/>
<path class="p0" d="M1841 3781l124-36-93-52-124 36z"/>
<path class="p4" d="M1212 3543l11 128-87-51-11-127z"/>
<path class="p0" d="M2060 3797l123-37-95-52-123 37z"/>
<path class="p0" d="M1334 3752l72-2-89-52-72 1z"/>
<path class="p0" d="M2279 3813l122-37-97-52-121 36z"/>
<path class="p0" d="M2499 3829l120-38-98-52-120 37z"/>
<path class="p0" d="M1496 3803l127-37-91-52-126 36z"/>
<path class="p0" d="M1317 3743l17 9-89-53-16-8z"/>
<path class="p0" d="M2720 3845l119-38-101-52-119 36z"/>
<path class="p1" d="M1311 3723l6 20-88-52-6-20z"/>
<path class="p0" d="M1715 3819l126-38-93-52-125 37z"/>
<path class="p4" d="M1197 3337l15 206-87-50-16-205z"/>
<path class="p0" d="M2941 3861l118-38-103-53-117 37z"/>
<path class="p0" d="M1935 3835l125-38-95-52-124 36z"/>
<path class="p4" d="M1301 3594l10 129-88-52-11-128z"/>
<path class="p0" d="M2156 3851l123-38-96-53-123 37z"/>
<path class="p0" d="M1424 3804l72-1-90-53-72 2z"/>
<path class="p0" d="M2377 3866l122-37-98-53-122 37z"/>
<path class="p0" d="M2599 3883l121-38-101-54-120 38z"/>
<path class="p0" d="M1587 3856l128-37-92-53-127 37z"/>
<path class="p0" d="M1407 3796l17 8-90-52-17-9z"/>
<path class="p0" d="M2822 3899l119-38-102-54-119 38z"/>
<path class="p1" d="M1401 3776l6 20-90-53-6-20z"/>
<path class="p0" d="M1809 3872l126-37-94-54-126 38z"/>
<path class="p4" d="M1184 3109l13 228-88-49-13-226z"/>
<path class="p4" d="M1287 3386l14 208-89-51-15-206z"/>
<path class="p0" d="M2031 3889l125-38-96-54-125 38z"/>
<path class="p4" d="M1391 3646l10 130-90-53-10-129z"/>
<path class="p0" d="M2253 3905l124-39-98-53-123 38z"/>
<path class="p0" d="M1515 3858l72-2-91-53-72 1z"/>
<path class="p0" d="M2477 3921l122-38-100-54-122 37z"/>
<path class="p0" d="M2701 3937l121-38-102-54-121 38z"/>
<path class="p0" d="M1680 3911l129-39-94-53-128 37z"/>
<path class="p0" d="M1499 3850l16 8-91-54-17-8z"/>
<path class="p1" d="M1493 3830l6 20-92-54-6-20z"/>
<path class="p0" d="M1904 3927l127-38-96-54-126 37z"/>
<path class="p4" d="M1274 3158l13 228-90-49-13-228z"/>
<path class="p4" d="M1378 3437l13 209-90-52-14-208z"/>
<path class="p0" d="M2128 3944l125-39-97-54-125 38z"/>
<path class="p4" d="M1483 3699l10 131-92-54-10-130z"/>
<path class="p0" d="M2352 3960l125-39-100-55-124 39z"/>
<path class="p0" d="M1608 3913l72-2-93-55-72 2z"/>
<path class="p0" d="M2578 3976l123-39-102-54-122 38z"/>
<path class="p0" d="M1775 3966l129-39-95-55-129 39z"/>
<path class="p0" d="M1592 3905l16 8-93-55-16-8z"/>
<path class="p1" d="M1586 3884l6 21-93-55-6-20z"/>
<path class="p0" d="M2001 3983l127-39-97-55-127 38z"/>
<path class="p4" d="M1366 3207l12 230-91-51-13-228z"/>
<path class="p4" d="M1470 3489l13 210-92-53-13-209z"/>
<path class="p0" d="M2227 3999l125-39-99-55-125 39z"/>
<path class="p4" d="M1576 3753l10 131-93-54-10-131z"/>
<path class="p0" d="M2453 4016l125-40-101-55-125 39z"/>
<path class="p0" d="M1703 3969l72-3-95-55-72 2z"/>
<path class="p0" d="M1872 4023l129-40-97-56-129 39z"/>
<path class="p0" d="M1686 3960l17 9-95-56-16-8z"/>
<path class="p1" d="M1680 3940l6 20-94-55-6-21z"/>
<path class="p0" d="M2099 4039l128-40-99-55-127 39z"/>
<path class="p4" d="M1459 3257l11 232-92-52-12-230z"/>
<path class="p4" d="M1564 3541l12 212-93-54-13-210z"/>
<path class="p0" d="M2327 4056l126-40-101-56-125 39z"/>
<path class="p4" d="M1671 3808l9 132-94-56-10-131z"/>
<path class="p0" d="M1799 4025l73-2-97-57-72 3z"/>
<path class="p0" d="M1970 4080l129-41-98-56-129 40z"/>
<path class="p0" d="M1782 4017l17 8-96-56-17-9z"/>
<path class="p1" d="M1777 3996l5 21-96-57-6-20z"/>
<path class="p0" d="M2199 4097l128-41-100-57-128 40z"/>
<path class="p4" d="M1554 3308l10 233-94-52-11-232z"/>
<path class="p4" d="M1660 3594l11 214-95-55-12-212z"/>
<path class="p4" d="M1768 3863l9 133-97-56-9-132z"/>
<path class="p0" d="M1897 4083l73-3-98-57-73 2z"/>
<path class="p0" d="M2069 4138l130-41-100-58-129 41z"/>
<path class="p0" d="M1880 4075l17 8-98-58-17-8z"/>
<path class="p1" d="M1875 4054l5 21-98-58-5-21z"/>
<path class="p4" d="M1650 3359l10 235-96-53-10-233z"/>
<path class="p4" d="M1757 3649l11 214-97-55-11-214z"/>
<path class="p4" d="M1866 3920l9 134-98-58-9-133z"/>
<path class="p0" d="M1996 4142l73-4-99-58-73 3z"/>
<path class="p0" d="M1980 4133l16 9-99-59-17-8z"/>
<path class="p1" d="M1974 4113l6 20-100-58-5-21z"/>
<path class="p4" d="M1748 3412l9 237-97-55-10-235z"/>
<path class="p4" d="M1856 3704l10 216-98-57-11-214z"/>
<path class="p4" d="M1966 3978l8 135-99-59-9-134z"/>
<path class="p4" d="M1848 3466l8 238-99-55-9-237z"/>
<path class="p4" d="M1957 3760l9 218-100-58-10-216z"/>
<path class="p4" d="M1949 3520l8 240-101-56-8-238z"/><path class="eq" style="stroke:#2e0808" d="M2073 4134l-840-491"/>
</g>
<text class="tl" x="207.6" y="483.3">0</text>
<text class="tl" x="225.5" y="476.3">5</text>
<text class="tl" x="243.2" y="469.4">10</text>
<text class="tl" x="260.5" y="462.7">15</text>
<text class="tl" x="277.4" y="456.1">20</text>
<text class="tl" x="294.1" y="449.6">25</text>
<text class="tl" x="310.4" y="443.2">30</text>
<text class="al" x="277.1" y="478.4" transform="rotate(-21 277.1 478.4)">Copper price ($/kg)</text>
<text class="tl" x="179.8" y="481.6">0</text>
<text class="tl" x="160.3" y="468.9">100</text>
<text class="tl" x="141.5" y="456.6">200</text>
<text class="tl" x="123.3" y="444.7">300</text>
<text class="tl" x="105.8" y="433.3">400</text>
<text class="al" x="120.1" y="468.8" transform="rotate(-327.3 120.1 468.8)">Cobalt price ($/kg)</text>
<text class="tl" x="88.1" y="399.8">5</text>
<text class="tl" x="87" y="373.3">10</text>
<text class="tl" x="85.9" y="346.2">15</text>
<text class="tl" x="84.7" y="318.6">20</text>
<text class="al" x="61.8" y="356.2" transform="rotate(-272.2 61.8 356.2)">Supply (Mt)</text>
<g transform="scale(.1)">
<path fill="#f8f8f8" d="M6219 4229l-982-531 4-1022 1021 462z"/>
<path fill="#f5f5f5" d="M4024 4106l1213-408 4-1022-1258 354z"/>
<path fill="#f6f6f6" d="M4966 4710l1253-481-982-531-1213 408z"/>
<path class="gr" d="M5060 4674l-946-599-37-1071M5239 4605l-951-588-31-1064M5415 4538l-957-578-25-1056M5588 4471l-963-567-18-1049M5758 4406l-968-557-12-1042M5925 4342l-974-548-6-1034M6088 4279l-978-538 0-1028M6184 3103l-40 1086-1250 475M5973 3007l-32 1072-1242 460M5768 2915l-24 1058-1234 444M5570 2825l-16 1045-1227 430M5379 2739l-9 1031-1219 417M4020 3997l1217-402 986 524M4013 3814l1225-393 992 512M4006 3628l1233-384 999 501M3999 3440l1241-374 1005 488M3991 3250l1249-365 1013 476M3984 3057l1257-356 1020 464"/>
<path class="ax" d="M6219 4229l-1253 481M4024 4106l942 604M4024 4106l-41-1076"/>
<path class="tk" d="M5043 4664l45 28M5223 4595l44 28M5399 4528l45 27M5572 4461l45 27M5741 4396l46 27M5908 4333l46 25M6071 4270l46 25M4915 4656l-57 22M4720 4531l-58 21M4531 4410l-57 20M4348 4293l-56 20M4172 4180l-56 19M4041 3990l-56 19M4034 3807l-56 18M4027 3622l-57 18M4020 3434l-57 17M4013 3244l-58 17M4005 3051l-58 16"/>
<path class="B37" d="M5197 2800l78-23-47-32-77 22zM5244 2833l78-23-47-33-78 23zM5119 2823l78-23-46-33-78 22zM5291 2854l78-23-47-21-78 23zM5166 2856l78-23-47-33-78 23zM5040 2846l79-23-46-34-79 23zM5338 2874l78-24-47-19-78 23zM5213 2878l78-24-47-21-78 23zM5087 2879l79-23-47-33-79 23zM4961 2869l79-23-46-34-79 23zM5386 2893l78-23-48-20-78 24zM5260 2897l78-23-47-20-78 24zM5134 2901l79-23-47-22-79 23zM5007 2903l80-24-47-33-79 23zM4881 2892l80-23-46-34-80 23zM5435 2922l78-24-49-28-78 23zM5308 2917l78-24-48-19-78 23zM5181 2921l79-24-47-19-79 23zM5054 2925l80-24-47-22-80 24zM4927 2926l80-23-46-34-80 23zM4800 2916l81-24-46-34-81 23zM5483 2953l78-24-48-31-78 24zM5356 2946l79-24-49-29-78 24zM5228 2941l80-24-48-20-79 24zM5101 2945l80-24-47-20-80 24zM4974 2949l80-24-47-22-80 23zM4846 2950l81-24-46-34-81 24zM4718 2940l82-24-46-35-81 24zM5532 2988l78-24-49-35-78 24zM5404 2977l79-24-48-31-79 24zM5276 2970l80-24-48-29-80 24zM5148 2965l80-24-47-20-80 24zM5020 2969l81-24-47-20-80 24zM4892 2973l82-24-47-23-81 24zM4764 2974l82-24-46-34-82 24zM4636 2964l82-24-45-35-82 24z"/>
<path class="B36" d="M5581 3029l78-24-49-41-78 24z"/>
<path class="B37" d="M5453 3012l79-24-49-35-79 24zM4619 2969l17-5-45-35-18 5zM5325 3001l79-24-48-31-80 24zM5196 2994l80-24-48-29-80 24zM5068 2989l80-24-47-20-81 24zM4939 2993l81-24-46-20-82 24zM4811 2997l81-24-46-23-82 24zM4601 2974l18-5-46-35-17 5zM4682 2998l82-24-46-34-82 24zM4584 2979l17-5-45-35-18 5z"/>
<path class="B36" d="M5630 3071l79-25-50-41-78 24z"/>
<path class="B37" d="M4566 2987l18-8-46-35-17 5z"/>
<path class="B36" d="M5502 3054l79-25-49-41-79 24z"/>
<path class="B37" d="M4549 2992l17-5-45-38-18 5zM4665 3003l17-5-46-34-17 5zM5373 3037l80-25-49-35-79 24zM4531 2997l18-5-46-38-17 5zM5245 3025l80-24-49-31-80 24zM4647 3009l18-6-46-34-18 5zM5116 3019l80-25-48-29-80 24zM4987 3014l81-25-48-20-81 24zM4857 3018l82-25-47-20-81 24zM4728 3022l83-25-47-23-82 24zM4514 3003l17-6-45-38-18 5zM4630 3014l17-5-46-35-17 5z"/>
<path class="B36" d="M5680 3111l79-25-50-40-79 25z"/>
<path class="B37" d="M4496 3008l18-5-46-39-17 5zM4612 3022l18-8-46-35-18 8z"/>
<path class="B36" d="M5551 3095l79-24-49-42-79 25z"/>
<path class="B37" d="M4479 3014l17-6-45-39-18 5zM4595 3027l17-5-46-35-17 5z"/>
<path class="B36" d="M5422 3078l80-24-49-42-80 25z"/>
<path class="B37" d="M4711 3027l17-5-46-24-17 5zM4461 3019l18-5-46-40-18 5zM4577 3033l18-6-46-35-18 5zM5293 3061l80-24-48-36-80 24zM4693 3032l18-5-46-24-18 6zM5164 3050l81-25-49-31-80 25zM4443 3025l18-6-46-40-17 5zM4560 3038l17-5-46-36-17 6zM5034 3044l82-25-48-30-81 25zM4904 3039l83-25-48-21-82 25zM4775 3042l82-24-46-21-83 25zM4676 3037l17-5-46-23-17 5z"/>
<path class="B35" d="M5731 3151l78-26-50-39-79 25z"/>
<path class="B37" d="M4426 3032l17-7-45-41-18 6zM4542 3044l18-6-46-35-18 5zM4658 3047l18-10-46-23-18 8z"/>
<path class="B36" d="M5601 3136l79-25-50-40-79 24z"/>
<path class="B37" d="M4408 3040l18-8-46-42-18 5zM4524 3049l18-5-46-36-17 6z"/>
<path class="B36" d="M5472 3120l79-25-49-41-80 24z"/>
<path class="B37" d="M4641 3053l17-6-46-25-17 5zM4390 3045l18-5-46-45-17 5zM4507 3055l17-6-45-35-18 5zM4757 3048l18-6-47-20-17 5z"/>
<path class="B36" d="M5342 3103l80-25-49-41-80 24z"/>
<path class="B37" d="M4623 3059l18-6-46-26-18 6zM4372 3051l18-6-45-45-18 5zM5212 3086l81-25-48-36-81 25zM4489 3061l18-6-46-36-18 6zM4740 3053l17-5-46-21-18 5zM4606 3064l17-5-46-26-17 5z"/>
<path class="B35" d="M5781 3211l78-25-50-61-78 26z"/>
<path class="B37" d="M5082 3075l82-25-48-31-82 25zM4354 3056l18-5-45-46-18 5zM4952 3069l82-25-47-30-83 25zM4471 3069l18-8-46-36-17 7zM4822 3063l82-24-47-21-82 24zM4722 3058l18-5-47-21-17 5zM4588 3070l18-6-46-26-18 6z"/>
<path class="B35" d="M5651 3176l80-25-51-40-79 25z"/>
<path class="B37" d="M4337 3064l17-8-45-46-18 8zM4454 3077l17-8-45-37-18 8z"/>
<path class="B30" d="M5848 3429l78-26-9-46-78 26zM5858 3440l78-26-10-11-78 26z"/>
<path class="B24" d="M5955 3736l77-28-9-26-78 28z"/>
<path class="B37" d="M4705 3069l17-11-46-21-18 10z"/>
<path class="B25" d="M5945 3710l78-28-10-39-78 27z"/>
<path class="B34" d="M5790 3232l79-25-10-21-78 25z"/>
<path class="B36" d="M5521 3162l80-26-50-41-79 25z"/>
<path class="B37" d="M4570 3076l18-6-46-26-18 5z"/>
<path class="B34" d="M5800 3253l79-25-10-21-79 25z"/>
<path class="B31" d="M5839 3383l78-26-9-46-79 26z"/>
<path class="B24" d="M5965 3741l78-28-11-5-77 28z"/>
<path class="B37" d="M4319 3076l18-12-46-46-18 11z"/>
<path class="B30" d="M5868 3442l79-26-11-2-78 26z"/>
<path class="B37" d="M4436 3082l18-5-46-37-18 5z"/>
<path class="B33" d="M5810 3275l79-26-10-21-79 25z"/>
<path class="B37" d="M4687 3075l18-6-47-22-17 6z"/>
<path class="B26" d="M5935 3670l78-27-8-61-78 27z"/>
<path class="B32" d="M5829 3337l79-26-10-41-78 26z"/>
<path class="B33" d="M5820 3296l78-26-9-21-79 26z"/>
<path class="B36" d="M5391 3145l81-25-50-42-80 25z"/>
<path class="B22" d="M6004 3851l77-29-9-24-78 29z"/>
<path class="B37" d="M4553 3082l17-6-46-27-17 6zM4301 3087l18-11-46-47-17 11z"/>
<path class="B22" d="M6014 3875l77-29-10-24-77 29z"/>
<path class="B24" d="M5975 3747l78-29-10-5-78 28z"/>
<path class="B23" d="M5994 3827l78-29-9-49-78 29z"/>
<path class="B37" d="M4418 3088l18-6-46-37-18 6z"/>
<path class="B30" d="M5879 3445l78-26-10-3-79 26z"/>
<path class="B37" d="M4804 3069l18-6-47-21-18 6z"/>
<path class="B24" d="M5985 3778l78-29-10-31-78 29z"/>
<path class="B36" d="M5261 3128l81-25-49-42-81 25z"/>
<path class="B37" d="M4670 3081l17-6-46-22-18 6zM4283 3099l18-12-45-47-18 12zM4535 3089l18-7-46-27-18 6zM5131 3111l81-25-48-36-82 25zM4400 3094l18-6-46-37-18 5z"/>
<path class="B30" d="M5889 3448l78-27-10-2-78 26z"/>
<path class="B37" d="M4265 3110l18-11-45-47-18 10zM4787 3074l17-5-47-21-17 5zM4652 3087l18-6-47-22-17 5z"/>
<path class="B28" d="M5927 3609l78-27-8-102-78 27z"/>
<path class="B35" d="M5701 3237l80-26-50-60-80 25z"/>
<path class="B37" d="M5000 3100l82-25-48-31-82 25zM4517 3097l18-8-46-28-18 8zM4869 3094l83-25-48-30-82 24zM4382 3102l18-8-46-38-17 8zM4248 3120l17-10-45-48-18 11z"/>
<path class="B30" d="M5900 3450l78-26-11-3-78 27z"/>
<path class="B37" d="M4769 3079l18-5-47-21-18 5zM4634 3093l18-6-46-23-18 6zM4499 3107l18-10-46-28-17 8z"/>
<path class="B35" d="M5571 3202l80-26-50-40-80 26z"/>
<path class="B37" d="M4364 3113l18-11-45-38-18 12z"/>
<path class="B36" d="M4230 3131l18-11-46-47-18 10z"/>
<path class="B30" d="M5769 3454l79-25-9-46-79 25zM5910 3461l78-26-10-11-78 26zM5779 3466l79-26-10-11-79 25z"/>
<path class="B29" d="M5919 3507l78-27-9-45-78 26z"/>
<path class="B37" d="M4752 3092l17-13-47-21-17 11z"/>
<path class="B24" d="M5876 3764l79-28-10-26-79 28z"/>
<path class="B37" d="M4617 3099l17-6-46-23-18 6z"/>
<path class="B25" d="M5866 3738l79-28-10-40-78 28z"/>
<path class="B34" d="M5711 3258l79-26-9-21-80 26z"/>
<path class="B37" d="M4482 3113l17-6-45-30-18 5z"/>
<path class="B35" d="M5441 3187l80-25-49-42-81 25z"/>
<path class="B34" d="M5721 3279l79-26-10-21-79 26z"/>
<path class="B37" d="M4347 3125l17-12-45-37-18 11z"/>
<path class="B31" d="M5760 3408l79-25-10-46-79 25z"/>
<path class="B24" d="M5886 3770l79-29-10-5-79 28z"/>
<path class="B36" d="M4212 3141l18-10-46-48-18 9z"/>
<path class="B30" d="M5789 3469l79-27-10-2-79 26z"/>
<path class="B33" d="M5731 3300l79-25-10-22-79 26z"/>
<path class="B37" d="M4734 3098l18-6-47-23-18 6z"/>
<path class="B26" d="M5857 3698l78-28-8-61-79 27z"/>
<path class="B32" d="M5750 3362l79-25-9-41-79 25z"/>
<path class="B33" d="M5741 3321l79-25-10-21-79 25z"/>
<path class="B36" d="M5310 3170l81-25-49-42-81 25z"/>
<path class="B37" d="M4599 3105l18-6-47-23-17 6z"/>
<path class="B22" d="M5925 3881l79-30-10-24-78 30z"/>
<path class="B37" d="M4464 3118l18-5-46-31-18 6z"/>
<path class="B36" d="M4329 3136l18-11-46-38-18 12z"/>
<path class="B22" d="M5935 3906l79-31-10-24-79 30z"/>
<path class="B36" d="M4194 3152l18-11-46-49-18 8z"/>
<path class="B23" d="M5916 3857l78-30-9-49-79 30z"/>
<path class="B24" d="M5897 3776l78-29-10-6-79 29z"/>
<path class="B37" d="M4852 3099l17-5-47-31-18 6z"/>
<path class="B30" d="M5800 3471l79-26-11-3-79 27z"/>
<path class="B37" d="M4716 3103l18-5-47-23-17 6z"/>
<path class="B24" d="M5906 3808l79-30-10-31-78 29z"/>
<path class="B36" d="M5179 3153l82-25-49-42-81 25zM4311 3147l18-11-46-37-18 11z"/>
<path class="B37" d="M4581 3112l18-7-46-23-18 7zM4446 3125l18-7-46-30-18 6z"/>
<path class="B36" d="M4176 3163l18-11-46-52-18 8z"/>
<path class="B37" d="M5048 3136l83-25-49-36-82 25zM4834 3104l18-5-48-30-17 5z"/>
<path class="B30" d="M5810 3474l79-26-10-3-79 26z"/>
<path class="B37" d="M4699 3109l17-6-46-22-18 6z"/>
<path class="B36" d="M4293 3158l18-11-46-37-17 10z"/>
<path class="B37" d="M4563 3121l18-9-46-23-18 8z"/>
<path class="B28" d="M5848 3636l79-27-8-102-79 27z"/>
<path class="B37" d="M4428 3133l18-8-46-31-18 8z"/>
<path class="B35" d="M5622 3263l79-26-50-61-80 26z"/>
<path class="B37" d="M4917 3125l83-25-48-31-83 25z"/>
<path class="B36" d="M4275 3168l18-10-45-38-18 11z"/>
<path class="B37" d="M4816 3110l18-6-47-30-18 5z"/>
<path class="B30" d="M5821 3477l79-27-11-2-79 26z"/>
<path class="B37" d="M4545 3131l18-10-46-24-18 10zM4681 3115l18-6-47-22-18 6z"/>
<path class="B36" d="M4410 3145l18-12-46-31-18 11z"/>
<path class="B35" d="M5491 3227l80-25-50-40-80 25z"/>
<path class="B36" d="M4257 3180l18-12-45-37-18 10z"/>
<path class="B37" d="M4799 3121l17-11-47-31-17 13z"/>
<path class="B30" d="M5831 3488l79-27-10-11-79 27zM5689 3481l80-27-9-46-80 27zM5700 3492l79-26-10-12-80 27z"/>
<path class="B29" d="M5840 3534l79-27-9-46-79 27z"/>
<path class="B36" d="M4392 3157l18-12-46-32-17 12z"/>
<path class="B37" d="M4528 3137l17-6-46-24-17 6z"/>
<path class="B24" d="M5797 3793l79-29-10-26-79 28z"/>
<path class="B37" d="M4663 3122l18-7-47-22-17 6z"/>
<path class="B25" d="M5787 3766l79-28-9-40-79 28z"/>
<path class="B34" d="M5631 3284l80-26-10-21-79 26z"/>
<path class="B35" d="M5360 3213l81-26-50-42-81 25z"/>
<path class="B36" d="M4239 3192l18-12-45-39-18 11z"/>
<path class="B34" d="M5641 3305l80-26-10-21-80 26z"/>
<path class="B24" d="M5807 3799l79-29-10-6-79 29z"/>
<path class="B31" d="M5680 3435l80-27-10-46-79 26z"/>
<path class="B37" d="M4781 3127l18-6-47-29-18 6z"/>
<path class="B36" d="M4374 3168l18-11-45-32-18 11z"/>
<path class="B30" d="M5710 3495l79-26-10-3-79 26z"/>
<path class="B33" d="M5651 3326l80-26-10-21-80 26z"/>
<path class="B37" d="M4510 3143l18-6-46-24-18 5z"/>
<path class="B26" d="M5778 3726l79-28-9-62-79 28z"/>
<path class="B37" d="M4645 3128l18-6-46-23-18 6z"/>
<path class="B32" d="M5671 3388l79-26-9-41-80 26z"/>
<path class="B22" d="M5846 3911l79-30-9-24-80 30z"/>
<path class="B36" d="M5228 3196l82-26-49-42-82 25z"/>
<path class="B33" d="M5661 3347l80-26-10-21-80 26z"/>
<path class="B36" d="M4221 3203l18-11-45-40-18 11z"/>
<path class="B37" d="M4899 3131l18-6-48-31-17 5z"/>
<path class="B22" d="M5856 3936l79-30-10-25-79 30z"/>
<path class="B23" d="M5836 3887l80-30-10-49-79 29z"/>
<path class="B24" d="M5818 3805l79-29-11-6-79 29z"/>
<path class="B36" d="M4356 3179l18-11-45-32-18 11z"/>
<path class="B37" d="M4763 3132l18-5-47-29-18 5z"/>
<path class="B30" d="M5720 3498l80-27-11-2-79 26z"/>
<path class="B24" d="M5827 3837l79-29-9-32-79 29z"/>
<path class="B37" d="M4492 3150l18-7-46-25-18 7z"/>
<path class="B36" d="M5097 3179l82-26-48-42-83 25z"/>
<path class="B37" d="M4628 3135l17-7-46-23-18 7zM4882 3136l17-5-47-32-18 5z"/>
<path class="B36" d="M4338 3190l18-11-45-32-18 11z"/>
<path class="B37" d="M4746 3138l17-6-47-29-17 6zM4965 3162l83-26-48-36-83 25z"/>
<path class="B30" d="M5731 3501l79-27-10-3-80 27z"/>
<path class="B37" d="M4610 3145l18-10-47-23-18 9z"/>
<path class="B36" d="M4474 3158l18-8-46-25-18 8z"/>
<path class="B28" d="M5769 3664l79-28-8-102-80 27z"/>
<path class="B36" d="M4320 3201l18-11-45-32-18 10z"/>
<path class="B35" d="M5541 3289l81-26-51-61-80 25z"/>
<path class="B37" d="M4864 3141l18-5-48-32-18 6zM4728 3144l18-6-47-29-18 6z"/>
<path class="B36" d="M4456 3170l18-12-46-25-18 12z"/>
<path class="B37" d="M4592 3156l18-11-47-24-18 10z"/>
<path class="B30" d="M5741 3504l80-27-11-3-79 27z"/>
<path class="B36" d="M4303 3213l17-12-45-33-18 12z"/>
<path class="B37" d="M4846 3151l18-10-48-31-17 11z"/>
<path class="B35" d="M5410 3253l81-26-50-40-81 26z"/>
<path class="B36" d="M4438 3182l18-12-46-25-18 12z"/>
<path class="B37" d="M4574 3162l18-6-47-25-17 6zM4710 3150l18-6-47-29-18 7z"/>
<path class="B35" d="M4285 3226l18-13-46-33-18 12z"/>
<path class="B30" d="M5751 3515l80-27-10-11-80 27zM5609 3507l80-26-9-46-80 26z"/>
<path class="B29" d="M5760 3561l80-27-9-46-80 27z"/>
<path class="B30" d="M5619 3519l81-27-11-11-80 26z"/>
<path class="B24" d="M5717 3822l80-29-10-27-80 28z"/>
<path class="B25" d="M5707 3794l80-28-9-40-80 28z"/>
<path class="B34" d="M5551 3310l80-26-9-21-81 26z"/>
<path class="B35" d="M5278 3239l82-26-50-43-82 26z"/>
<path class="B37" d="M4829 3156l17-5-47-30-18 6z"/>
<path class="B36" d="M4420 3194l18-12-46-25-18 11z"/>
<path class="B24" d="M5727 3828l80-29-10-6-80 29z"/>
<path class="B34" d="M5561 3331l80-26-10-21-80 26z"/>
<path class="B31" d="M5600 3461l80-26-9-47-81 27z"/>
<path class="B35" d="M4267 3238l18-12-46-34-18 11z"/>
<path class="B37" d="M4947 3167l18-5-48-37-18 6zM4556 3168l18-6-46-25-18 6z"/>
<path class="B30" d="M5630 3522l80-27-10-3-81 27z"/>
<path class="B37" d="M4692 3156l18-6-47-28-18 6z"/>
<path class="B33" d="M5571 3352l80-26-10-21-80 26z"/>
<path class="B26" d="M5698 3754l80-28-9-62-80 27z"/>
<path class="B22" d="M5767 3942l79-31-10-24-79 30z"/>
<path class="B32" d="M5590 3415l81-27-10-41-80 27z"/>
<path class="B36" d="M5146 3222l82-26-49-43-82 26z"/>
<path class="B33" d="M5581 3374l80-27-10-21-80 26z"/>
<path class="B36" d="M4402 3205l18-11-46-26-18 11z"/>
<path class="B22" d="M5777 3967l79-31-10-25-79 31z"/>
<path class="B37" d="M4811 3162l18-6-48-29-18 5z"/>
<path class="B23" d="M5757 3917l79-30-9-50-80 30z"/>
<path class="B24" d="M5738 3835l80-30-11-6-80 29z"/>
<path class="B36" d="M4538 3175l18-7-46-25-18 7z"/>
<path class="B37" d="M4675 3163l17-7-47-28-17 7zM4930 3173l17-6-48-36-17 5z"/>
<path class="B24" d="M5747 3867l80-30-9-32-80 30z"/>
<path class="B30" d="M5640 3525l80-27-10-3-80 27z"/>
<path class="B36" d="M5014 3204l83-25-49-43-83 26zM4384 3216l18-11-46-26-18 11z"/>
<path class="B37" d="M4793 3168l18-6-48-30-17 6zM4657 3173l18-10-47-28-18 10z"/>
<path class="B36" d="M4520 3184l18-9-46-25-18 8z"/>
<path class="B37" d="M4912 3178l18-5-48-37-18 5z"/>
<path class="B36" d="M4366 3227l18-11-46-26-18 11z"/>
<path class="B30" d="M5650 3528l81-27-11-3-80 27z"/>
<path class="B28" d="M5689 3691l80-27-9-103-80 27z"/>
<path class="B35" d="M5460 3315l81-26-50-62-81 26z"/>
<path class="B37" d="M4776 3174l17-6-47-30-18 6zM4639 3183l18-10-47-28-18 11z"/>
<path class="B36" d="M4502 3196l18-12-46-26-18 12zM4348 3240l18-13-46-26-17 12z"/>
<path class="B37" d="M4895 3184l17-6-48-37-18 10z"/>
<path class="B30" d="M5661 3531l80-27-10-3-81 27z"/>
<path class="B36" d="M4484 3208l18-12-46-26-18 12z"/>
<path class="B35" d="M5328 3280l82-27-50-40-82 26z"/>
<path class="B37" d="M4758 3179l18-5-48-30-18 6z"/>
<path class="B35" d="M4330 3253l18-13-45-27-18 13z"/>
<path class="B36" d="M4621 3189l18-6-47-27-18 6z"/>
<path class="B30" d="M5671 3542l80-27-10-11-80 27z"/>
<path class="B37" d="M4877 3190l18-6-49-33-17 5z"/>
<path class="B30" d="M5528 3533l81-26-9-46-81 26z"/>
<path class="B29" d="M5680 3588l80-27-9-46-80 27z"/>
<path class="B30" d="M5538 3545l81-26-10-12-81 26z"/>
<path class="B24" d="M5637 3851l80-29-10-28-80 29z"/>
<path class="B36" d="M4996 3210l18-6-49-42-18 5z"/>
<path class="B25" d="M5627 3823l80-29-9-40-81 28z"/>
<path class="B34" d="M5470 3336l81-26-10-21-81 26z"/>
<path class="B36" d="M4466 3220l18-12-46-26-18 12z"/>
<path class="B35" d="M4312 3266l18-13-45-27-18 12zM5195 3265l83-26-50-43-82 26z"/>
<path class="B24" d="M5647 3858l80-30-10-6-80 29z"/>
<path class="B34" d="M5480 3357l81-26-10-21-81 26z"/>
<path class="B37" d="M4740 3185l18-6-48-29-18 6z"/>
<path class="B31" d="M5519 3487l81-26-10-46-81 26z"/>
<path class="B36" d="M4603 3195l18-6-47-27-18 6z"/>
<path class="B30" d="M5549 3549l81-27-11-3-81 26z"/>
<path class="B33" d="M5489 3379l82-27-10-21-81 26z"/>
<path class="B37" d="M4859 3196l18-6-48-34-18 6z"/>
<path class="B22" d="M5686 3973l81-31-10-25-81 30z"/>
<path class="B26" d="M5617 3782l81-28-9-63-81 28z"/>
<path class="B36" d="M4448 3231l18-11-46-26-18 11zM4978 3215l18-5-49-43-17 6z"/>
<path class="B32" d="M5509 3441l81-26-9-41-82 26z"/>
<path class="B36" d="M5063 3248l83-26-49-43-83 25z"/>
<path class="B33" d="M5499 3400l82-26-10-22-82 27z"/>
<path class="B22" d="M5696 3998l81-31-10-25-81 31z"/>
<path class="B23" d="M5676 3947l81-30-10-50-80 30z"/>
<path class="B24" d="M5657 3864l81-29-11-7-80 30z"/>
<path class="B37" d="M4722 3192l18-7-48-29-17 7z"/>
<path class="B36" d="M4585 3201l18-6-47-27-18 7z"/>
<path class="B24" d="M5667 3897l80-30-9-32-81 29z"/>
<path class="B30" d="M5559 3552l81-27-10-3-81 27z"/>
<path class="B36" d="M4430 3242l18-11-46-26-18 11z"/>
<path class="B37" d="M4841 3201l18-5-48-34-18 6z"/>
<path class="B36" d="M4961 3221l17-6-48-42-18 5z"/>
<path class="B37" d="M4704 3201l18-9-47-29-18 10z"/>
<path class="B36" d="M4567 3210l18-9-47-26-18 9zM4412 3254l18-12-46-26-18 11z"/>
<path class="B30" d="M5569 3555l81-27-10-3-81 27z"/>
<path class="B37" d="M4823 3207l18-6-48-33-17 6z"/>
<path class="B28" d="M5608 3719l81-28-9-103-81 27z"/>
<path class="B36" d="M4943 3226l18-5-49-43-17 6z"/>
<path class="B35" d="M5378 3341l82-26-50-62-82 27z"/>
<path class="B37" d="M4686 3209l18-8-47-28-18 10z"/>
<path class="B36" d="M4549 3222l18-12-47-26-18 12z"/>
<path class="B35" d="M4394 3267l18-13-46-27-18 13z"/>
<path class="B30" d="M5579 3558l82-27-11-3-81 27z"/>
<path class="B37" d="M4806 3212l17-5-47-33-18 5z"/>
<path class="B36" d="M5045 3253l18-5-49-44-18 6zM4531 3234l18-12-47-26-18 12zM4925 3232l18-6-48-42-18 6z"/>
<path class="B35" d="M4376 3281l18-14-46-27-18 13z"/>
<path class="B36" d="M4668 3215l18-6-47-26-18 6z"/>
<path class="B35" d="M5245 3306l83-26-50-41-83 26z"/>
<path class="B30" d="M5590 3570l81-28-10-11-82 27z"/>
<path class="B29" d="M5599 3615l81-27-9-46-81 28z"/>
<path class="B30" d="M5447 3560l81-27-9-46-82 27z"/>
<path class="B24" d="M5555 3880l82-29-10-28-82 29z"/>
<path class="B30" d="M5457 3572l81-27-10-12-81 27z"/>
<path class="B35" d="M4358 3294l18-13-46-28-18 13z"/>
<path class="B36" d="M4513 3246l18-12-47-26-18 12z"/>
<path class="B37" d="M4788 3218l18-6-48-33-18 6z"/>
<path class="B25" d="M5545 3852l82-29-10-41-81 29z"/>
<path class="B34" d="M5388 3363l82-27-10-21-82 26z"/>
<path class="B36" d="M5027 3259l18-6-49-43-18 5z"/>
<path class="B35" d="M5112 3292l83-27-49-43-83 26z"/>
<path class="B36" d="M4907 3237l18-5-48-42-18 6zM4650 3221l18-6-47-26-18 6z"/>
<path class="B24" d="M5565 3887l82-29-10-7-82 29z"/>
<path class="B34" d="M5398 3384l82-27-10-21-82 27z"/>
<path class="B31" d="M5437 3514l82-27-10-46-82 27z"/>
<path class="B30" d="M5467 3576l82-27-11-4-81 27z"/>
<path class="B36" d="M4495 3257l18-11-47-26-18 11z"/>
<path class="B33" d="M5407 3405l82-26-9-22-82 27z"/>
<path class="B22" d="M5605 4004l81-31-10-26-81 31z"/>
<path class="B26" d="M5536 3811l81-29-9-63-82 28z"/>
<path class="B32" d="M5427 3468l82-27-10-41-82 27z"/>
<path class="B37" d="M4770 3224l18-6-48-33-18 7z"/>
<path class="B22" d="M5615 4029l81-31-10-25-81 31z"/>
<path class="B33" d="M5417 3427l82-27-10-21-82 26z"/>
<path class="B23" d="M5595 3978l81-31-9-50-81 30z"/>
<path class="B36" d="M5010 3264l17-5-49-44-17 6zM4890 3243l17-6-48-41-18 5z"/>
<path class="B24" d="M5576 3894l81-30-10-6-82 29z"/>
<path class="B36" d="M4632 3227l18-6-47-26-18 6zM4477 3268l18-11-47-26-18 11z"/>
<path class="B24" d="M5586 3927l81-30-10-33-81 30z"/>
<path class="B30" d="M5477 3579l82-27-10-3-82 27z"/>
<path class="B36" d="M4752 3231l18-7-48-32-18 9zM4992 3269l18-5-49-43-18 5zM4614 3236l18-9-47-26-18 9zM4872 3248l18-5-49-42-18 6zM4459 3280l18-12-47-26-18 12z"/>
<path class="B30" d="M5487 3583l82-28-10-3-82 27z"/>
<path class="B36" d="M4734 3238l18-7-48-30-18 8z"/>
<path class="B28" d="M5526 3747l82-28-9-104-82 28z"/>
<path class="B36" d="M4596 3248l18-12-47-26-18 12z"/>
<path class="B34" d="M5295 3368l83-27-50-61-83 26z"/>
<path class="B35" d="M4441 3292l18-12-47-26-18 13zM5094 3297l18-5-49-44-18 5z"/>
<path class="B36" d="M4974 3275l18-6-49-43-18 6zM4854 3254l18-6-49-41-17 5z"/>
<path class="B30" d="M5498 3586l81-28-10-3-82 28z"/>
<path class="B36" d="M4578 3259l18-11-47-26-18 12z"/>
<path class="B35" d="M4423 3305l18-13-47-25-18 14z"/>
<path class="B36" d="M4716 3244l18-6-48-29-18 6z"/>
<path class="B35" d="M5076 3303l18-6-49-44-18 6zM5161 3333l84-27-50-41-83 27z"/>
<path class="B36" d="M4956 3280l18-5-49-43-18 5zM4836 3259l18-5-48-42-18 6z"/>
<path class="B35" d="M4404 3318l19-13-47-24-18 13z"/>
<path class="B36" d="M4560 3271l18-12-47-25-18 12z"/>
<path class="B30" d="M5508 3597l82-27-11-12-81 28z"/>
<path class="B24" d="M5473 3910l82-30-10-28-82 29z"/>
<path class="B29" d="M5517 3643l82-28-9-45-82 27z"/>
<path class="B30" d="M5364 3587l83-27-10-46-83 27zM5374 3600l83-28-10-12-83 27z"/>
<path class="B36" d="M4698 3250l18-6-48-29-18 6z"/>
<path class="B25" d="M5463 3881l82-29-9-41-82 28z"/>
<path class="B34" d="M5305 3389l83-26-10-22-83 27z"/>
<path class="B35" d="M5059 3309l17-6-49-44-17 5z"/>
<path class="B24" d="M5484 3917l81-30-10-7-82 30z"/>
<path class="B36" d="M4938 3286l18-6-49-43-17 6z"/>
<path class="B34" d="M5315 3411l83-27-10-21-83 26z"/>
<path class="B36" d="M4818 3265l18-6-48-41-18 6z"/>
<path class="B31" d="M5354 3541l83-27-10-46-82 27z"/>
<path class="B36" d="M4542 3282l18-11-47-25-18 11z"/>
<path class="B30" d="M5384 3604l83-28-10-4-83 28z"/>
<path class="B33" d="M5325 3432l82-27-9-21-83 27z"/>
<path class="B22" d="M5523 4035l82-31-10-26-82 31z"/>
<path class="B26" d="M5454 3839l82-28-10-64-82 28z"/>
<path class="B22" d="M5533 4060l82-31-10-25-82 31z"/>
<path class="B32" d="M5345 3495l82-27-10-41-82 26z"/>
<path class="B36" d="M4680 3256l18-6-48-29-18 6z"/>
<path class="B33" d="M5335 3453l82-26-10-22-82 27z"/>
<path class="B23" d="M5513 4009l82-31-9-51-82 31z"/>
<path class="B24" d="M5494 3925l82-31-11-7-81 30z"/>
<path class="B35" d="M5041 3323l18-14-49-45-18 5z"/>
<path class="B36" d="M4524 3293l18-11-47-25-18 11zM4800 3272l18-7-48-41-18 7zM4921 3291l17-5-48-43-18 5z"/>
<path class="B24" d="M5504 3958l82-31-10-33-82 31z"/>
<path class="B30" d="M5395 3607l82-28-10-3-83 28z"/>
<path class="B36" d="M4662 3264l18-8-48-29-18 9z"/>
<path class="B35" d="M5023 3329l18-6-49-54-18 6z"/>
<path class="B36" d="M4506 3304l18-11-47-25-18 12z"/>
<path class="B35" d="M5144 3338l17-5-49-41-18 5z"/>
<path class="B36" d="M4782 3278l18-6-48-41-18 7zM4903 3297l18-6-49-43-18 6z"/>
<path class="B30" d="M5405 3610l82-27-10-4-82 28z"/>
<path class="B36" d="M4644 3275l18-11-48-28-18 12z"/>
<path class="B35" d="M4488 3316l18-12-47-24-18 12z"/>
<path class="B28" d="M5444 3775l82-28-9-104-82 28z"/>
<path class="B34" d="M5211 3395l84-27-50-62-84 27z"/>
<path class="B35" d="M5005 3336l18-7-49-54-18 5zM5126 3344l18-6-50-41-18 6z"/>
<path class="B36" d="M4764 3284l18-6-48-40-18 6zM4885 3302l18-5-49-43-18 5zM4626 3286l18-11-48-27-18 11z"/>
<path class="B35" d="M4469 3329l19-13-47-24-18 13z"/>
<path class="B30" d="M5415 3614l83-28-11-3-82 27z"/>
<path class="B35" d="M4988 3342l17-6-49-56-18 6zM5108 3350l18-6-50-41-17 6z"/>
<path class="B36" d="M4746 3290l18-6-48-40-18 6zM4608 3298l18-12-48-27-18 12zM4867 3309l18-7-49-43-18 6z"/>
<path class="B35" d="M4451 3340l18-11-46-24-19 13z"/>
<path class="B30" d="M5425 3625l83-28-10-11-83 28z"/>
<path class="B24" d="M5391 3940l82-30-10-29-82 30z"/>
<path class="B29" d="M5435 3671l82-28-9-46-83 28z"/>
<path class="B30" d="M5281 3615l83-28-10-46-83 27zM5291 3627l83-27-10-13-83 28z"/>
<path class="B25" d="M5381 3911l82-30-9-42-83 29z"/>
<path class="B34" d="M5221 3416l84-27-10-21-84 27z"/>
<path class="B24" d="M5401 3948l83-31-11-7-82 30z"/>
<path class="B35" d="M4970 3349l18-7-50-56-17 5zM5091 3363l17-13-49-41-18 14z"/>
<path class="B36" d="M4589 3309l19-11-48-27-18 11z"/>
<path class="B34" d="M5231 3438l84-27-10-22-84 27z"/>
<path class="B31" d="M5271 3568l83-27-9-46-84 27z"/>
<path class="B36" d="M4728 3296l18-6-48-40-18 6zM4849 3316l18-7-49-44-18 7z"/>
<path class="B22" d="M5441 4067l82-32-10-26-82 31z"/>
<path class="B33" d="M5241 3459l84-27-10-21-84 27z"/>
<path class="B30" d="M5301 3631l83-27-10-4-83 27z"/>
<path class="B21" d="M5451 4092l82-32-10-25-82 32z"/>
<path class="B26" d="M5371 3868l83-29-10-64-83 29z"/>
<path class="B32" d="M5261 3522l84-27-10-42-84 28z"/>
<path class="B23" d="M5431 4040l82-31-9-51-83 31z"/>
<path class="B33" d="M5251 3481l84-28-10-21-84 27z"/>
<path class="B24" d="M5411 3955l83-30-10-8-83 31z"/>
<path class="B34" d="M5194 3401l17-6-50-62-17 5z"/>
<path class="B36" d="M4571 3319l18-10-47-27-18 11z"/>
<path class="B35" d="M5073 3369l18-6-50-40-18 6zM4952 3355l18-6-49-58-18 6z"/>
<path class="B36" d="M4710 3304l18-8-48-40-18 8z"/>
<path class="B24" d="M5421 3989l83-31-10-33-83 30z"/>
<path class="B36" d="M4831 3323l18-7-49-44-18 6z"/>
<path class="B30" d="M5311 3635l84-28-11-3-83 27z"/>
<path class="B36" d="M4553 3330l18-11-47-26-18 11z"/>
<path class="B34" d="M5176 3406l18-5-50-63-18 6z"/>
<path class="B35" d="M5055 3375l18-6-50-40-18 7zM4934 3362l18-7-49-58-18 5z"/>
<path class="B36" d="M4692 3315l18-11-48-40-18 11zM4813 3329l18-6-49-45-18 6z"/>
<path class="B24" d="M5373 3946l18-6-10-29-18 6z"/>
<path class="B30" d="M5322 3638l83-28-10-3-84 28zM5263 3620l18-5-10-47-17 6zM5274 3633l17-6-10-12-18 5z"/>
<path class="B35" d="M4535 3341l18-11-47-26-18 12z"/>
<path class="B25" d="M5363 3917l18-6-10-43-18 7z"/>
<path class="B28" d="M5361 3804l83-29-9-104-83 28z"/>
<path class="B34" d="M5204 3422l17-6-10-21-17 6z"/>
<path class="B36" d="M4674 3326l18-11-48-40-18 11z"/>
<path class="B24" d="M5383 3954l18-6-10-8-18 6z"/>
<path class="B35" d="M5037 3382l18-7-50-39-17 6z"/>
<path class="B34" d="M5158 3412l18-6-50-62-18 6z"/>
<path class="B35" d="M4916 3371l18-9-49-60-18 7z"/>
<path class="B34" d="M5214 3443l17-5-10-22-17 6z"/>
<path class="B31" d="M5254 3574l17-6-10-46-17 6z"/>
<path class="B36" d="M4795 3336l18-7-49-45-18 6z"/>
<path class="B22" d="M5423 4073l18-6-10-27-18 7z"/>
<path class="B35" d="M4517 3354l18-13-47-25-19 13z"/>
<path class="B33" d="M5224 3465l17-6-10-21-17 5z"/>
<path class="B30" d="M5284 3637l17-6-10-4-17 6z"/>
<path class="B24" d="M5356 3953l17-7-10-29-17 6z"/>
<path class="B21" d="M5433 4099l18-7-10-25-18 6z"/>
<path class="B30" d="M5332 3642l83-28-10-4-83 28z"/>
<path class="B26" d="M5353 3875l18-7-10-64-17 6z"/>
<path class="B30" d="M5246 3626l17-6-9-46-18 6zM5256 3639l18-6-11-13-17 6z"/>
<path class="B23" d="M5413 4047l18-7-10-51-18 6z"/>
<path class="B32" d="M5244 3528l17-6-10-41-17 5z"/>
<path class="B25" d="M5346 3923l17-6-10-42-17 6z"/>
<path class="B36" d="M4656 3338l18-12-48-40-18 12z"/>
<path class="B33" d="M5234 3486l17-5-10-22-17 6z"/>
<path class="B34" d="M5186 3428l18-6-10-21-18 5z"/>
<path class="B24" d="M5393 3962l18-7-10-7-18 6z"/>
<path class="B34" d="M5141 3421l17-9-50-62-17 13z"/>
<path class="B35" d="M5019 3388l18-6-49-40-18 7z"/>
<path class="B24" d="M5366 3961l17-7-10-8-17 7z"/>
<path class="B35" d="M4898 3384l18-13-49-62-18 7z"/>
<path class="B34" d="M5196 3449l18-6-10-21-18 6z"/>
<path class="B35" d="M4498 3367l19-13-48-25-18 11z"/>
<path class="B24" d="M5403 3995l18-6-10-34-18 7z"/>
<path class="B31" d="M5236 3580l18-6-10-46-18 6z"/>
<path class="B36" d="M4777 3343l18-7-49-46-18 6z"/>
<path class="B22" d="M5406 4080l17-7-10-26-17 7z"/>
<path class="B30" d="M5342 3653l83-28-10-11-83 28zM5294 3641l17-6-10-4-17 6z"/>
<path class="B33" d="M5206 3471l18-6-10-22-18 6z"/>
<path class="B29" d="M5352 3699l83-28-10-46-83 28z"/>
<path class="B30" d="M5266 3643l18-6-10-4-18 6z"/>
<path class="B24" d="M5338 3959l18-6-10-30-18 7z"/>
<path class="B21" d="M5416 4105l17-6-10-26-17 7z"/>
<path class="B36" d="M4637 3349l19-11-48-40-19 11z"/>
<path class="B26" d="M5336 3881l17-6-9-65-18 6z"/>
<path class="B30" d="M5228 3632l18-6-10-46-18 6zM5238 3645l18-6-10-13-18 6z"/>
<path class="B23" d="M5396 4054l17-7-10-52-17 7z"/>
<path class="B32" d="M5226 3534l18-6-10-42-18 6z"/>
<path class="B25" d="M5328 3930l18-7-10-42-18 6z"/>
<path class="B33" d="M5216 3492l18-6-10-21-18 6z"/>
<path class="B34" d="M5168 3433l18-5-10-22-18 6zM5123 3427l18-6-50-58-18 6z"/>
<path class="B24" d="M5376 3968l17-6-10-8-17 7z"/>
<path class="B35" d="M4880 3397l18-13-49-68-18 7z"/>
<path class="B20" d="M5352 4170l18-12-10-32-18 11zM5362 4198l18-12-10-28-18 12z"/>
<path class="B35" d="M5001 3395l18-7-49-39-18 6z"/>
<path class="B24" d="M5348 3967l18-6-10-8-18 6z"/>
<path class="B34" d="M5178 3455l18-6-10-21-18 5z"/>
<path class="B24" d="M5320 3991l18-32-10-29-18 20zM5386 4002l17-7-10-33-17 6z"/>
<path class="B21" d="M5370 4158l18-71-10-27-18 66z"/>
<path class="B31" d="M5218 3586l18-6-10-46-18 5z"/>
<path class="B36" d="M4759 3352l18-9-49-47-18 8z"/>
<path class="B21" d="M5380 4186l18-74-10-25-18 71z"/>
<path class="B22" d="M5388 4087l18-7-10-26-18 6z"/>
<path class="B24" d="M5330 4011l18-44-10-8-18 32z"/>
<path class="B36" d="M4619 3359l18-10-48-40-18 10z"/>
<path class="B30" d="M5304 3644l18-6-11-3-17 6zM5276 3647l18-6-10-4-18 6z"/>
<path class="B33" d="M5188 3476l18-5-10-22-18 6z"/>
<path class="B30" d="M5248 3649l18-6-10-4-18 6z"/>
<path class="B21" d="M5342 4137l18-11-10-58-17 11zM5398 4112l18-7-10-25-18 7z"/>
<path class="B25" d="M5310 3950l18-20-10-43-18 12z"/>
<path class="B26" d="M5318 3887l18-6-10-65-18 6z"/>
<path class="B22" d="M5360 4126l18-66-10-51-18 59z"/>
<path class="B28" d="M5344 3810l17-6-9-105-18 6z"/>
<path class="B23" d="M5378 4060l18-6-10-52-18 7z"/>
<path class="B20" d="M5345 4210l17-12-10-28-17 11z"/>
<path class="B35" d="M4862 3404l18-7-49-74-18 6z"/>
<path class="B23" d="M5313 4020l17-9-10-20-17 8z"/>
<path class="B20" d="M5335 4181l17-11-10-33-17 12z"/>
<path class="B32" d="M5208 3539l18-5-10-42-18 6z"/>
<path class="B34" d="M5151 3441l17-8-10-21-17 9z"/>
<path class="B24" d="M5303 3999l17-8-10-41-17 7z"/>
<path class="B33" d="M5198 3498l18-6-10-21-18 5z"/>
<path class="B34" d="M5105 3433l18-6-50-58-18 6z"/>
<path class="B24" d="M5358 3975l18-7-10-7-18 6z"/>
<path class="B31" d="M5210 3625l18 7-10-46-17-4z"/>
<path class="B30" d="M5221 3642l17 3-10-13-18-7z"/>
<path class="B35" d="M4983 3401l18-6-49-40-18 7z"/>
<path class="B23" d="M5340 4028l18-53-10-8-18 44z"/>
<path class="B34" d="M5161 3461l17-6-10-22-17 8z"/>
<path class="B36" d="M4740 3362l19-10-49-48-18 11z"/>
<path class="B23" d="M5323 4038l17-10-10-17-17 9zM5368 4009l18-7-10-34-18 7z"/>
<path class="B35" d="M4601 3369l18-10-48-40-18 11z"/>
<path class="B22" d="M5333 4079l17-11-10-40-17 10z"/>
<path class="B23" d="M5350 4068l18-59-10-34-18 53z"/>
<path class="B21" d="M5325 4149l17-12-9-58-18 11z"/>
<path class="B25" d="M5293 3957l17-7-10-51-17 6z"/>
<path class="B31" d="M5201 3582l17 4-10-47-17 0z"/>
<path class="B30" d="M5314 3648l18-6-10-4-18 6zM5286 3650l18-6-10-3-18 6zM5258 3652l18-5-10-4-18 6z"/>
<path class="B33" d="M5171 3481l17-5-10-21-17 6z"/>
<path class="B20" d="M5327 4223l18-13-10-29-18 13zM5317 4194l18-13-10-32-18 12z"/>
<path class="B30" d="M5231 3653l17-4-10-4-17-3z"/>
<path class="B26" d="M5300 3899l18-12-10-65-17 6z"/>
<path class="B23" d="M5295 4030l18-10-10-21-18 8z"/>
<path class="B28" d="M5326 3816l18-6-10-105-17 6z"/>
<path class="B35" d="M4844 3411l18-7-49-75-18 7z"/>
<path class="B34" d="M5133 3447l18-6-10-20-18 6z"/>
<path class="B24" d="M5285 4007l18-8-10-42-18 7z"/>
<path class="B34" d="M5087 3439l18-6-50-58-18 7z"/>
<path class="B32" d="M5191 3539l17 0-10-41-17 3z"/>
<path class="B33" d="M5181 3501l17-3-10-22-17 5z"/>
<path class="B35" d="M4965 3410l18-9-49-39-18 9z"/>
<path class="B36" d="M4722 3373l18-11-48-47-18 11z"/>
<path class="B35" d="M4583 3381l18-12-48-39-18 11z"/>
<path class="B23" d="M5305 4048l18-10-10-18-18 10z"/>
<path class="B22" d="M5315 4090l18-11-10-41-18 10z"/>
<path class="B30" d="M5203 3648l18-6-11-17-17 5z"/>
<path class="B31" d="M5193 3630l17-5-9-43-18 5z"/>
<path class="B34" d="M5143 3467l18-6-10-20-18 6z"/>
<path class="B21" d="M5307 4161l18-12-10-59-18 11z"/>
<path class="B19" d="M5309 4236l18-13-10-29-18 13z"/>
<path class="B30" d="M5324 3659l18-6-10-11-18 6z"/>
<path class="B20" d="M5299 4207l18-13-10-33-18 12z"/>
<path class="B29" d="M5334 3705l18-6-10-46-18 6z"/>
<path class="B25" d="M5275 3964l18-7-10-52-18 6z"/>
<path class="B30" d="M5296 3653l18-5-10-4-18 6zM5269 3656l17-6-10-3-18 5zM5241 3659l17-7-10-3-17 4z"/>
<path class="B33" d="M5153 3487l18-6-10-20-18 6z"/>
<path class="B32" d="M5183 3587l18-5-10-43-18 6z"/>
<path class="B26" d="M5283 3905l17-6-9-71-18 6z"/>
<path class="B23" d="M5277 4039l18-9-10-23-18 8z"/>
<path class="B35" d="M4826 3419l18-8-49-75-18 7zM4947 3422l18-12-49-39-18 13z"/>
<path class="B28" d="M5308 3822l18-6-9-105-18 6z"/>
<path class="B24" d="M5267 4015l18-8-10-43-18 7z"/>
<path class="B30" d="M5213 3658l18-5-10-11-18 6z"/>
<path class="B34" d="M5115 3453l18-6-10-20-18 6z"/>
<path class="B35" d="M4704 3386l18-13-48-47-18 12z"/>
<path class="B34" d="M5069 3445l18-6-50-57-18 6z"/>
<path class="B35" d="M4564 3395l19-14-48-40-18 13z"/>
<path class="B33" d="M5163 3506l18-5-10-20-18 6z"/>
<path class="B22" d="M5297 4101l18-11-10-42-18 11z"/>
<path class="B23" d="M5287 4059l18-11-10-18-18 9z"/>
<path class="B32" d="M5173 3545l18-6-10-38-18 5z"/>
<path class="B21" d="M5289 4173l18-12-10-60-17 12z"/>
<path class="B19" d="M5292 4250l17-14-10-29-17 13z"/>
<path class="B20" d="M5282 4220l17-13-10-34-17 12z"/>
<path class="B34" d="M5125 3472l18-5-10-20-18 6z"/>
<path class="B30" d="M5185 3653l18-5-10-18-18 5z"/>
<path class="B31" d="M5175 3635l18-5-10-43-18 5z"/>
<path class="B30" d="M5307 3665l17-6-10-11-18 5z"/>
<path class="B29" d="M5317 3711l17-6-10-46-17 6z"/>
<path class="B25" d="M5257 3971l18-7-10-53-18 6z"/>
<path class="B34" d="M4929 3435l18-13-49-38-18 13z"/>
<path class="B30" d="M5251 3665l18-9-11-4-17 7zM5279 3659l17-6-10-3-17 6z"/>
<path class="B23" d="M5260 4049l17-10-10-24-17 9z"/>
<path class="B30" d="M5223 3665l18-6-10-6-18 5z"/>
<path class="B33" d="M5135 3492l18-5-10-20-18 5z"/>
<path class="B35" d="M4546 3408l18-13-47-41-19 13zM4686 3397l18-11-48-48-19 11z"/>
<path class="B17" d="M5220 4388l18-52-10-30-18 51z"/>
<path class="B26" d="M5265 3911l18-6-10-71-18 5z"/>
<path class="B35" d="M4808 3429l18-10-49-76-18 9z"/>
<path class="B32" d="M5165 3592l18-5-10-42-18 5z"/>
<path class="B17" d="M5203 4400l17-12-10-31-18 12z"/>
<path class="B24" d="M5250 4024l17-9-10-44-17 7z"/>
<path class="B28" d="M5291 3828l17-6-9-105-18 8z"/>
<path class="B30" d="M5195 3664l18-6-10-10-18 5z"/>
<path class="B22" d="M5280 4113l17-12-10-42-17 11z"/>
<path class="B21" d="M5272 4185l17-12-9-60-18 12z"/>
<path class="B34" d="M5097 3459l18-6-10-20-18 6z"/>
<path class="B18" d="M5210 4357l18-51-10-40-18 48z"/>
<path class="B23" d="M5270 4070l17-11-10-20-17 10z"/>
<path class="B34" d="M5051 3451l18-6-50-57-18 7z"/>
<path class="B19" d="M5274 4263l18-13-10-30-18 13z"/>
<path class="B20" d="M5264 4233l18-13-10-35-18 13z"/>
<path class="B17" d="M5192 4369l18-12-10-43-17 11z"/>
<path class="B33" d="M5145 3512l18-6-10-19-18 5z"/>
<path class="B32" d="M5155 3550l18-5-10-39-18 6z"/>
<path class="B33" d="M5107 3478l18-6-10-19-18 6z"/>
<path class="B30" d="M5167 3658l18-5-10-18-18 5z"/>
<path class="B31" d="M5157 3640l18-5-10-43-18 5z"/>
<path class="B18" d="M5238 4336l18-49-10-29-18 48z"/>
<path class="B34" d="M4911 3442l18-7-49-38-18 7z"/>
<path class="B30" d="M5289 3671l18-6-11-12-17 6z"/>
<path class="B19" d="M5256 4287l18-24-10-30-18 25zM5228 4306l18-48-10-37-18 45z"/>
<path class="B35" d="M4668 3407l18-10-49-48-18 10z"/>
<path class="B29" d="M5299 3717l18-6-10-46-18 6z"/>
<path class="B25" d="M5240 3978l17-7-10-54-17 7z"/>
<path class="B23" d="M5242 4059l18-10-10-25-18 8z"/>
<path class="B30" d="M5261 3672l18-13-10-3-18 9zM5233 3672l18-7-10-6-18 6z"/>
<path class="B16" d="M5185 4412l18-12-11-31-17 12z"/>
<path class="B19" d="M5246 4258l18-25-10-35-18 23z"/>
<path class="B35" d="M4790 3441l18-12-49-77-19 10z"/>
<path class="B21" d="M5254 4198l18-13-10-60-18 12z"/>
<path class="B30" d="M5205 3671l18-6-10-7-18 6z"/>
<path class="B33" d="M5117 3498l18-6-10-20-18 6z"/>
<path class="B22" d="M5262 4125l18-12-10-43-18 11z"/>
<path class="B19" d="M5200 4314l18-48-10-61-18 47z"/>
<path class="B26" d="M5247 3917l18-6-10-72-17 6z"/>
<path class="B24" d="M5232 4032l18-8-10-46-18 7z"/>
<path class="B22" d="M5252 4081l18-11-10-21-18 10z"/>
<path class="B32" d="M5147 3597l18-5-10-42-18 5z"/>
<path class="B17" d="M5175 4381l17-12-9-44-18 12z"/>
<path class="B28" d="M5273 3834l18-6-10-103-18 6z"/>
<path class="B18" d="M5183 4325l17-11-10-62-17 12z"/>
<path class="B34" d="M5079 3465l18-6-10-20-18 6z"/>
<path class="B30" d="M5177 3670l18-6-10-11-18 5z"/>
<path class="B34" d="M5033 3457l18-6-50-56-18 6z"/>
<path class="B33" d="M5127 3518l18-6-10-20-18 6z"/>
<path class="B32" d="M5137 3555l18-5-10-38-18 6z"/>
<path class="B20" d="M5218 4266l18-45-10-61-18 45zM5236 4221l18-23-10-61-18 23z"/>
<path class="B33" d="M5089 3484l18-6-10-19-18 6z"/>
<path class="B30" d="M5271 3685l18-14-10-12-18 13z"/>
<path class="B35" d="M4649 3418l19-11-49-48-18 10z"/>
<path class="B16" d="M5167 4424l18-12-10-31-18 12z"/>
<path class="B30" d="M5149 3663l18-5-10-18-18 5z"/>
<path class="B31" d="M5139 3645l18-5-10-43-18 5z"/>
<path class="B35" d="M4772 3452l18-11-50-79-18 11z"/>
<path class="B34" d="M4893 3449l18-7-49-38-18 7z"/>
<path class="B23" d="M5224 4069l18-10-10-27-18 8z"/>
<path class="B29" d="M5281 3725l18-8-10-46-18 14z"/>
<path class="B30" d="M5243 3678l18-6-10-7-18 7z"/>
<path class="B22" d="M5244 4137l18-12-10-44-18 12z"/>
<path class="B25" d="M5222 3985l18-7-10-54-18 5z"/>
<path class="B30" d="M5215 3678l18-6-10-7-18 6z"/>
<path class="B22" d="M5234 4093l18-12-10-22-18 10z"/>
<path class="B17" d="M5157 4393l18-12-10-44-18 12z"/>
<path class="B18" d="M5165 4337l18-12-10-61-18 12z"/>
<path class="B33" d="M5099 3504l18-6-10-20-18 6z"/>
<path class="B30" d="M5187 3677l18-6-10-7-18 6z"/>
<path class="B24" d="M5214 4040l18-8-10-47-18 6z"/>
<path class="B20" d="M5190 4252l18-47-10-52-18 43z"/>
<path class="B26" d="M5230 3924l17-7-9-72-18 5z"/>
<path class="B32" d="M5129 3602l18-5-10-42-18 6z"/>
<path class="B28" d="M5255 3839l18-5-10-103-17 7z"/>
<path class="B34" d="M5015 3466l18-9-50-56-18 9zM5061 3470l18-5-10-20-18 6z"/>
<path class="B30" d="M5159 3676l18-6-10-12-18 5z"/>
<path class="B20" d="M5173 4264l17-12-10-56-17 11z"/>
<path class="B16" d="M5149 4441l18-17-10-31-18 18z"/>
<path class="B33" d="M5109 3523l18-5-10-20-18 6z"/>
<path class="B35" d="M4631 3434l18-16-48-49-18 12z"/>
<path class="B22" d="M5226 4160l18-23-10-44-18 20z"/>
<path class="B32" d="M5119 3561l18-6-10-37-18 5z"/>
<path class="B21" d="M5208 4205l18-45-10-47-18 40z"/>
<path class="B35" d="M4753 3464l19-12-50-79-18 13z"/>
<path class="B23" d="M5206 4087l18-18-10-29-18 14z"/>
<path class="B30" d="M5253 3691l18-6-10-13-18 6z"/>
<path class="B33" d="M5071 3490l18-6-10-19-18 5z"/>
<path class="B22" d="M5216 4113l18-20-10-24-18 18z"/>
<path class="B17" d="M5139 4411l18-18-10-44-18 18z"/>
<path class="B21" d="M5180 4196l18-43-10-33-18 35z"/>
<path class="B34" d="M4875 3456l18-7-49-38-18 8z"/>
<path class="B29" d="M5263 3731l18-6-10-40-18 6z"/>
<path class="B30" d="M5132 3668l17-5-10-18-18 4z"/>
<path class="B31" d="M5121 3649l18-4-10-43-18 5z"/>
<path class="B30" d="M5225 3685l18-7-10-6-18 6z"/>
<path class="B18" d="M5147 4349l18-12-10-61-18 13z"/>
<path class="B22" d="M5198 4153l18-40-10-26-18 33z"/>
<path class="B25" d="M5204 3991l18-6-10-56-18 6z"/>
<path class="B30" d="M5198 3684l17-6-10-7-18 6z"/>
<path class="B23" d="M5196 4054l18-14-10-49-18 12z"/>
<path class="B22" d="M5188 4120l18-33-10-33-18 22z"/>
<path class="B21" d="M5163 4207l17-11-10-41-17 11z"/>
<path class="B16" d="M5131 4459l18-18-10-30-18 18z"/>
<path class="B33" d="M5081 3509l18-5-10-20-18 6z"/>
<path class="B30" d="M5170 3683l17-6-10-7-18 6z"/>
<path class="B34" d="M4997 3477l18-11-50-56-18 12z"/>
<path class="B35" d="M4613 3459l18-25-48-53-19 14z"/>
<path class="B19" d="M5155 4276l18-12-10-57-18 12z"/>
<path class="B26" d="M5212 3929l18-5-10-74-18 6z"/>
<path class="B32" d="M5111 3607l18-5-10-41-18 5z"/>
<path class="B22" d="M5170 4155l18-35-10-44-18 21z"/>
<path class="B28" d="M5238 3845l17-6-9-101-18 6z"/>
<path class="B34" d="M5043 3476l18-6-10-19-18 6z"/>
<path class="B17" d="M5121 4429l18-18-10-44-18 16z"/>
<path class="B34" d="M4735 3476l18-12-49-78-18 11z"/>
<path class="B30" d="M5142 3681l17-5-10-13-17 5z"/>
<path class="B33" d="M5091 3529l18-6-10-19-18 5z"/>
<path class="B18" d="M5129 4367l18-18-10-60-18 18z"/>
<path class="B32" d="M5101 3566l18-5-10-38-18 6z"/>
<path class="B30" d="M5236 3698l17-7-10-13-18 7z"/>
<path class="B34" d="M4595 3485l18-26-49-64-18 13zM4857 3466l18-10-49-37-18 10z"/>
<path class="B16" d="M5113 4476l18-17-10-30-18 17z"/>
<path class="B23" d="M5178 4076l18-22-10-51-18 14z"/>
<path class="B33" d="M5053 3496l18-6-10-20-18 6z"/>
<path class="B29" d="M5246 3738l17-7-10-40-17 7z"/>
<path class="B22" d="M5153 4166l17-11-10-58-17 10z"/>
<path class="B30" d="M5208 3691l17-6-10-7-17 6z"/>
<path class="B25" d="M5186 4003l18-12-10-56-18 10z"/>
<path class="B30" d="M5114 3674l18-6-11-19-17 5z"/>
<path class="B20" d="M5145 4219l18-12-10-41-18 10z"/>
<path class="B31" d="M5104 3654l17-5-10-42-18 5z"/>
<path class="B34" d="M4979 3487l18-10-50-55-18 13z"/>
<path class="B16" d="M5103 4446l18-17-10-46-18 16z"/>
<path class="B19" d="M5137 4289l18-13-10-57-18 12z"/>
<path class="B30" d="M5180 3691l18-7-11-7-17 6z"/>
<path class="B33" d="M5063 3515l18-6-10-19-18 6z"/>
<path class="B30" d="M5152 3689l18-6-11-7-17 5z"/>
<path class="B18" d="M5111 4383l18-16-10-60-18 16z"/>
<path class="B34" d="M4717 3486l18-10-49-79-18 10z"/>
<path class="B26" d="M5194 3935l18-6-10-73-18 5z"/>
<path class="B34" d="M5025 3485l18-9-10-19-18 9z"/>
<path class="B23" d="M5160 4097l18-21-10-59-18 13z"/>
<path class="B28" d="M5220 3850l18-5-10-101-18 6z"/>
<path class="B32" d="M5093 3612l18-5-10-41-18 5z"/>
<path class="B15" d="M5095 4489l18-13-10-30-18 14z"/>
<path class="B30" d="M5124 3687l18-6-10-13-18 6z"/>
<path class="B34" d="M4839 3478l18-12-49-37-18 12z"/>
<path class="B33" d="M5073 3534l18-5-10-20-18 6z"/>
<path class="B30" d="M5218 3705l18-7-11-13-17 6z"/>
<path class="B32" d="M5083 3571l18-5-10-37-18 5z"/>
<path class="B16" d="M5085 4460l18-14-10-47-18 14z"/>
<path class="B19" d="M5119 4307l18-18-10-58-18 18z"/>
<path class="B21" d="M5135 4176l18-10-10-59-18 9z"/>
<path class="B33" d="M5035 3504l18-8-10-20-18 9z"/>
<path class="B24" d="M5168 4017l18-14-10-58-18 10z"/>
<path class="B20" d="M5127 4231l18-12-10-43-18 13z"/>
<path class="B29" d="M5228 3744l18-6-10-40-18 7z"/>
<path class="B34" d="M4961 3494l18-7-50-52-18 7z"/>
<path class="B17" d="M5093 4399l18-16-10-60-18 16z"/>
<path class="B30" d="M5190 3698l18-7-10-7-18 7zM5096 3680l18-6-10-20-18 7z"/>
<path class="B31" d="M5086 3661l18-7-11-42-17 7z"/>
<path class="B30" d="M5162 3697l18-6-10-8-18 6z"/>
<path class="B34" d="M4699 3498l18-12-49-79-19 11z"/>
<path class="B23" d="M5143 4107l17-10-10-67-18 9z"/>
<path class="B33" d="M5045 3523l18-8-10-19-18 8z"/>
<path class="B15" d="M5077 4501l18-12-10-29-18 12z"/>
<path class="B34" d="M5007 3495l18-10-10-19-18 11z"/>
<path class="B26" d="M5176 3945l18-10-10-74-18 15z"/>
<path class="B30" d="M5134 3695l18-6-10-8-18 6z"/>
<path class="B19" d="M5101 4323l18-16-10-58-18 15z"/>
<path class="B34" d="M4821 3489l18-11-49-37-18 11z"/>
<path class="B32" d="M5076 3619l17-7-10-41-18 8z"/>
<path class="B28" d="M5202 3856l18-6-10-100-18 6z"/>
<path class="B30" d="M5106 3696l18-9-10-13-18 6z"/>
<path class="B20" d="M5109 4249l18-18-10-42-18 16z"/>
<path class="B16" d="M5067 4472l18-12-10-47-18 13z"/>
<path class="B21" d="M5117 4189l18-13-10-60-18 11z"/>
<path class="B17" d="M5075 4413l18-14-10-60-18 14z"/>
<path class="B33" d="M5055 3542l18-8-10-19-18 8z"/>
<path class="B24" d="M5150 4030l18-13-10-62-18 7z"/>
<path class="B33" d="M5017 3513l18-9-10-19-18 10z"/>
<path class="B30" d="M5200 3712l18-7-10-14-18 7z"/>
<path class="B32" d="M5065 3579l18-8-10-37-18 8z"/>
<path class="B34" d="M4680 3515l19-17-50-80-18 16z"/>
<path class="B29" d="M5210 3750l18-6-10-39-18 7z"/>
<path class="B34" d="M4943 3501l18-7-50-52-18 7z"/>
<path class="B30" d="M5172 3705l18-7-10-7-18 6zM5078 3687l18-7-10-19-18 5z"/>
<path class="B31" d="M5068 3666l18-5-10-42-18 6z"/>
<path class="B15" d="M5059 4513l18-12-10-29-18 12z"/>
<path class="B26" d="M5158 3955l18-10-10-69-18 14z"/>
<path class="B23" d="M5125 4116l18-9-11-68-17 8z"/>
<path class="B19" d="M5083 4339l18-16-10-59-18 15z"/>
<path class="B34" d="M4989 3505l18-10-10-18-18 10z"/>
<path class="B30" d="M5144 3703l18-6-10-8-18 6z"/>
<path class="B33" d="M5027 3531l18-8-10-19-18 9z"/>
<path class="B20" d="M5091 4264l18-15-10-44-18 13z"/>
<path class="B34" d="M4802 3501l19-12-49-37-19 12z"/>
<path class="B30" d="M5116 3704l18-9-10-8-18 9z"/>
<path class="B16" d="M5049 4484l18-12-10-46-18 11z"/>
<path class="B34" d="M4662 3535l18-20-49-81-18 25z"/>
<path class="B32" d="M5058 3625l18-6-11-40-18 8z"/>
<path class="B21" d="M5099 4205l18-16-10-62-18 14z"/>
<path class="B17" d="M5057 4426l18-13-10-60-18 14z"/>
<path class="B28" d="M5184 3861l18-5-10-100-18 7z"/>
<path class="B30" d="M5088 3705l18-9-10-16-18 7z"/>
<path class="B24" d="M5132 4039l18-9-10-68-18 8z"/>
<path class="B33" d="M5037 3550l18-8-10-19-18 8zM4999 3522l18-9-10-18-18 10z"/>
<path class="B15" d="M5041 4537l18-24-10-29-18 24z"/>
<path class="B32" d="M5047 3587l18-8-10-37-18 8z"/>
<path class="B30" d="M5182 3718l18-6-10-14-18 7z"/>
<path class="B33" d="M4644 3555l18-20-49-76-18 26z"/>
<path class="B18" d="M5065 4353l18-14-10-60-18 14z"/>
<path class="B34" d="M4925 3509l18-8-50-52-18 7z"/>
<path class="B14" d="M5023 4568l18-31-10-29-18 33z"/>
<path class="B29" d="M5192 3756l18-6-10-38-18 6z"/>
<path class="B14" d="M5005 4598l18-30-10-27-18 34z"/>
<path class="B23" d="M5107 4127l18-11-10-69-18 12z"/>
<path class="B20" d="M5073 4279l18-15-10-46-18 13z"/>
<path class="B16" d="M5031 4508l18-24-10-47-18 22z"/>
<path class="B30" d="M5154 3711l18-6-10-8-18 6z"/>
<path class="B26" d="M5140 3962l18-7-10-65-18 5z"/>
<path class="B34" d="M4784 3512l18-11-49-37-18 12zM4971 3512l18-7-10-18-18 7z"/>
<path class="B33" d="M5009 3540l18-9-10-18-18 9z"/>
<path class="B30" d="M5126 3713l18-10-10-8-18 9zM5060 3693l18-6-10-21-18 3z"/>
<path class="B31" d="M5050 3669l18-3-10-41-19 5z"/>
<path class="B13" d="M4987 4619l18-21-10-23-18 25z"/>
<path class="B15" d="M4995 4575l18-34-10-49-18 37z"/>
<path class="B30" d="M5098 3716l18-12-10-8-18 9z"/>
<path class="B21" d="M5081 4218l18-13-10-64-18 9z"/>
<path class="B15" d="M5013 4541l18-33-10-49-18 33z"/>
<path class="B14" d="M4977 4600l18-25-10-46-18 28z"/>
<path class="B17" d="M5039 4437l18-11-10-59-18 11z"/>
<path class="B28" d="M5166 3876l18-15-10-98-18 11z"/>
<path class="B32" d="M5039 3630l19-5-11-38-18 8z"/>
<path class="B30" d="M5070 3715l18-10-10-18-18 6z"/>
<path class="B33" d="M5019 3559l18-9-10-19-18 9z"/>
<path class="B18" d="M5047 4367l18-14-10-60-18 14z"/>
<path class="B33" d="M4981 3529l18-7-10-17-18 7z"/>
<path class="B24" d="M5115 4047l17-8-10-69-18 7z"/>
<path class="B32" d="M5029 3595l18-8-10-37-18 9z"/>
<path class="B20" d="M5055 4293l18-14-10-48-18 14z"/>
<path class="B30" d="M5164 3725l18-7-10-13-18 6z"/>
<path class="B23" d="M5089 4141l18-14-10-68-18 12z"/>
<path class="B15" d="M4967 4557l18-28-10-48-18 33z"/>
<path class="B34" d="M4907 3519l18-10-50-53-18 10z"/>
<path class="B16" d="M4985 4529l18-37-10-55-18 44z"/>
<path class="B17" d="M5021 4459l18-22-10-59-18 22z"/>
<path class="B34" d="M4766 3522l18-10-49-36-18 10z"/>
<path class="B29" d="M5174 3763l18-7-10-38-18 7z"/>
<path class="B30" d="M5136 3722l18-11-10-8-18 10zM5108 3726l18-13-10-9-18 12zM5080 3727l18-11-10-11-18 10z"/>
<path class="B26" d="M5122 3970l18-8-10-67-18 8z"/>
<path class="B33" d="M4953 3519l18-7-10-18-18 7zM4991 3547l18-7-10-18-18 7z"/>
<path class="B21" d="M5063 4231l18-13-10-68-18 9z"/>
<path class="B16" d="M5003 4492l18-33-10-59-18 37z"/>
<path class="B28" d="M5148 3890l18-14-10-102-18 15z"/>
<path class="B30" d="M5042 3700l18-7-10-24-18 7z"/>
<path class="B31" d="M5032 3676l18-7-11-39-18 7z"/>
<path class="B18" d="M5029 4378l18-11-10-60-18 11z"/>
<path class="B32" d="M5021 3637l18-7-10-35-18 7z"/>
<path class="B30" d="M5052 3722l18-7-10-22-18 7z"/>
<path class="B19" d="M5037 4307l18-14-10-48-18 15z"/>
<path class="B24" d="M5097 4059l18-12-11-70-18 11z"/>
<path class="B33" d="M5001 3566l18-7-10-19-18 7z"/>
<path class="B16" d="M4957 4514l18-33-10-55-18 39z"/>
<path class="B33" d="M4963 3536l18-7-10-17-18 7z"/>
<path class="B32" d="M5011 3602l18-7-10-36-18 7z"/>
<path class="B30" d="M5146 3738l18-13-10-14-18 11z"/>
<path class="B34" d="M4888 3530l19-11-50-53-18 12z"/>
<path class="B22" d="M5071 4150l18-9-10-70-19 6z"/>
<path class="B34" d="M4748 3533l18-11-49-36-18 12z"/>
<path class="B30" d="M5090 3740l18-14-10-10-18 11zM5118 3737l18-15-10-9-18 13z"/>
<path class="B17" d="M4975 4481l18-44-10-60-18 49z"/>
<path class="B29" d="M5156 3774l18-11-10-38-18 13z"/>
<path class="B21" d="M5045 4245l18-14-10-72-18 13z"/>
<path class="B27" d="M5130 3895l18-5-10-101-18 14z"/>
<path class="B30" d="M5062 3735l18-8-10-12-18 7z"/>
<path class="B26" d="M5104 3977l18-7-10-67-18 7z"/>
<path class="B33" d="M4935 3527l18-8-10-18-18 8z"/>
<path class="B18" d="M5011 4400l18-22-10-60-18 20z"/>
<path class="B33" d="M4973 3553l18-6-10-18-18 7z"/>
<path class="B30" d="M5024 3708l18-8-10-24-19 7z"/>
<path class="B31" d="M5013 3683l19-7-11-39-18 8z"/>
<path class="B17" d="M4993 4437l18-37-10-62-18 39z"/>
<path class="B19" d="M5019 4318l18-11-10-47-18 10z"/>
<path class="B24" d="M5079 4071l18-12-11-71-18 11z"/>
<path class="B17" d="M4947 4465l18-39-10-53-18 42z"/>
<path class="B29" d="M5128 3756l18-18-10-16-18 15z"/>
<path class="B31" d="M5003 3645l18-8-10-35-18 7z"/>
<path class="B30" d="M5034 3730l18-8-10-22-18 8z"/>
<path class="B33" d="M4729 3550l19-17-49-35-19 17z"/>
<path class="B29" d="M5100 3752l18-15-10-11-18 14z"/>
<path class="B33" d="M4983 3573l18-7-10-19-18 6zM4945 3544l18-8-10-17-18 8z"/>
<path class="B34" d="M4870 3540l18-10-49-52-18 11z"/>
<path class="B29" d="M5138 3789l18-15-10-36-18 18z"/>
<path class="B32" d="M4993 3609l18-7-10-36-18 7z"/>
<path class="B21" d="M5027 4260l18-15-10-73-19 14z"/>
<path class="B29" d="M5072 3748l18-8-10-13-18 8z"/>
<path class="B22" d="M5053 4159l18-9-11-73-18 5z"/>
<path class="B18" d="M4965 4426l18-49-10-52-18 48z"/>
<path class="B27" d="M5112 3903l18-8-10-92-18 9z"/>
<path class="B30" d="M5044 3743l18-8-10-13-18 8z"/>
<path class="B26" d="M5086 3988l18-11-10-67-18 11z"/>
<path class="B33" d="M4917 3537l18-10-10-18-18 10z"/>
<path class="B19" d="M5001 4338l18-20-10-48-18 16z"/>
<path class="B33" d="M4711 3571l18-21-49-35-18 20zM4955 3561l18-8-10-17-18 8z"/>
<path class="B29" d="M5110 3773l18-17-10-19-18 15z"/>
<path class="B30" d="M5005 3717l19-9-11-25-18 8z"/>
<path class="B31" d="M4995 3691l18-8-10-38-18 9z"/>
<path class="B19" d="M4983 4377l18-39-10-52-18 39z"/>
<path class="B29" d="M5120 3803l18-14-10-33-18 17z"/>
<path class="B24" d="M5060 4077l19-6-11-72-18 4z"/>
<path class="B18" d="M4937 4415l18-42-11-67-18 59z"/>
<path class="B29" d="M5082 3761l18-9-10-12-18 8z"/>
<path class="B33" d="M4852 3552l18-12-49-51-19 12z"/>
<path class="B30" d="M5016 3739l18-9-10-22-19 9z"/>
<path class="B31" d="M4985 3654l18-9-10-36-18 9z"/>
<path class="B33" d="M4927 3554l18-10-10-17-18 10z"/>
<path class="B21" d="M5009 4270l18-10-11-74-18 7z"/>
<path class="B33" d="M4965 3583l18-10-10-20-18 8zM4693 3591l18-20-49-36-18 20z"/>
<path class="B32" d="M4975 3618l18-9-10-36-18 10z"/>
<path class="B22" d="M5035 4172l18-13-11-77-18 13z"/>
<path class="B29" d="M5054 3756l18-8-10-13-18 8z"/>
<path class="B25" d="M5068 3999l18-11-10-67-18 10z"/>
<path class="B33" d="M4898 3546l19-9-10-18-19 11z"/>
<path class="B29" d="M5092 3782l18-9-10-21-18 9z"/>
<path class="B27" d="M5094 3910l18-7-10-91-18 8z"/>
<path class="B29" d="M5026 3752l18-9-10-13-18 9z"/>
<path class="B33" d="M4937 3571l18-10-10-17-18 10z"/>
<path class="B30" d="M4987 3727l18-10-10-26-18 10z"/>
<path class="B29" d="M5102 3812l18-9-10-30-18 9z"/>
<path class="B19" d="M4955 4373l18-48-11-81-18 62z"/>
<path class="B31" d="M4977 3701l18-10-10-37-18 9z"/>
<path class="B33" d="M4834 3564l18-12-50-51-18 11z"/>
<path class="B29" d="M5064 3769l18-8-10-13-18 8z"/>
<path class="B30" d="M4997 3749l19-10-11-22-18 10z"/>
<path class="B31" d="M4967 3663l18-9-10-36-18 10z"/>
<path class="B20" d="M4991 4286l18-16-11-77-18 11z"/>
<path class="B33" d="M4908 3563l19-9-10-17-19 9z"/>
<path class="B22" d="M5016 4186l19-14-11-77-18 14z"/>
<path class="B33" d="M4947 3593l18-10-10-22-18 10z"/>
<path class="B24" d="M5042 4082l18-5-10-74-18 4z"/>
<path class="B32" d="M4957 3628l18-10-10-35-18 10z"/>
<path class="B29" d="M5036 3765l18-9-10-13-18 9z"/>
<path class="B20" d="M4973 4325l18-39-11-82-18 40z"/>
<path class="B33" d="M4880 3556l18-10-10-16-18 10z"/>
<path class="B27" d="M5076 3921l18-11-10-90-18 11z"/>
<path class="B29" d="M5007 3763l19-11-10-13-19 10zM5074 3791l18-9-10-21-18 8z"/>
<path class="B25" d="M5050 4003l18-4-10-68-18 3z"/>
<path class="B33" d="M4918 3580l19-9-10-17-19 9z"/>
<path class="B19" d="M4926 4365l18-59-10-85-18 62z"/>
<path class="B29" d="M5084 3820l18-8-10-30-18 9z"/>
<path class="B30" d="M4969 3734l18-7-10-26-18 5z"/>
<path class="B33" d="M4815 3573l19-9-50-52-18 10z"/>
<path class="B31" d="M4959 3706l18-5-10-38-18 6z"/>
<path class="B29" d="M5046 3779l18-10-10-13-18 9z"/>
<path class="B30" d="M4979 3756l18-7-10-22-18 7z"/>
<path class="B22" d="M4998 4193l18-7-10-77-18 6z"/>
<path class="B31" d="M4949 3669l18-6-10-35-18 7z"/>
<path class="B33" d="M4890 3572l18-9-10-17-18 10z"/>
<path class="B32" d="M4929 3602l18-9-10-22-19 9z"/>
<path class="B24" d="M5024 4095l18-13-10-75-18 11z"/>
<path class="B32" d="M4939 3635l18-7-10-35-18 9z"/>
<path class="B29" d="M5018 3777l18-12-10-13-19 11z"/>
<path class="B33" d="M4862 3568l18-12-10-16-18 12z"/>
<path class="B27" d="M5058 3931l18-10-10-90-18 15z"/>
<path class="B29" d="M5056 3802l18-11-10-22-18 10zM4989 3770l18-7-10-14-18 7z"/>
<path class="B33" d="M4900 3589l18-9-10-17-18 9z"/>
<path class="B28" d="M5066 3831l18-11-10-29-18 11z"/>
<path class="B33" d="M4797 3583l18-10-49-51-18 11z"/>
<path class="B21" d="M4944 4306l18-62-10-86-18 63z"/>
<path class="B26" d="M5032 4007l18-4-10-69-18 2z"/>
<path class="B30" d="M4951 3740l18-6-10-28-18 6z"/>
<path class="B29" d="M5028 3791l18-12-10-14-18 12z"/>
<path class="B31" d="M4941 3712l18-6-10-37-18 7z"/>
<path class="B33" d="M4872 3584l18-12-10-16-18 12z"/>
<path class="B24" d="M5006 4109l18-14-10-77-18 13z"/>
<path class="B32" d="M4910 3610l19-8-11-22-18 9z"/>
<path class="B30" d="M4961 3763l18-7-10-22-18 6z"/>
<path class="B31" d="M4931 3676l18-7-10-34-19 8z"/>
<path class="B22" d="M4980 4204l18-11-10-78-18 4z"/>
<path class="B32" d="M4920 3643l19-8-10-33-19 8z"/>
<path class="B29" d="M4999 3784l19-7-11-14-18 7z"/>
<path class="B33" d="M4844 3580l18-12-10-16-18 12z"/>
<path class="B29" d="M5038 3814l18-12-10-23-18 12z"/>
<path class="B27" d="M5040 3934l18-3-10-85-18 6z"/>
<path class="B22" d="M4962 4244l18-40-10-85-18 39z"/>
<path class="B33" d="M4779 3601l18-18-49-50-19 17zM4882 3600l18-11-10-17-18 12z"/>
<path class="B28" d="M5048 3846l18-15-10-29-18 12z"/>
<path class="B29" d="M4971 3778l18-8-10-14-18 7z"/>
<path class="B33" d="M4854 3596l18-12-10-16-18 12z"/>
<path class="B21" d="M4916 4283l18-62-11-87-18 67z"/>
<path class="B30" d="M4933 3752l18-12-10-28-18 11z"/>
<path class="B29" d="M5009 3799l19-8-10-14-19 7z"/>
<path class="B26" d="M5014 4018l18-11-10-71-18 12z"/>
<path class="B31" d="M4923 3723l18-11-10-36-19 11z"/>
<path class="B24" d="M4988 4115l18-6-10-78-18 5z"/>
<path class="B32" d="M4892 3623l18-13-10-21-18 11z"/>
<path class="B33" d="M4761 3627l18-26-50-51-18 21z"/>
<path class="B31" d="M4912 3687l19-11-11-33-18 12z"/>
<path class="B30" d="M4943 3774l18-11-10-23-18 12z"/>
<path class="B32" d="M4902 3655l18-12-10-33-18 13z"/>
<path class="B33" d="M4825 3589l19-9-10-16-19 9z"/>
<path class="B29" d="M4981 3792l18-8-10-14-18 8zM5020 3822l18-8-10-23-19 8z"/>
<path class="B32" d="M4864 3612l18-12-10-16-18 12zM4742 3653l19-26-50-56-18 20z"/>
<path class="B28" d="M5030 3852l18-6-10-32-18 8z"/>
<path class="B29" d="M4953 3789l18-11-10-15-18 11z"/>
<path class="B27" d="M5022 3936l18-2-10-82-18 6z"/>
<path class="B25" d="M4996 4031l18-13-10-70-18 14z"/>
<path class="B30" d="M4915 3764l18-12-10-29-19 12z"/>
<path class="B33" d="M4835 3605l19-9-10-16-19 9z"/>
<path class="B30" d="M4904 3735l19-12-11-36-18 13z"/>
<path class="B32" d="M4874 3635l18-12-10-23-18 12z"/>
<path class="B29" d="M4991 3807l18-8-10-15-18 8z"/>
<path class="B31" d="M4894 3700l18-13-10-32-18 13z"/>
<path class="B29" d="M4925 3785l18-11-10-22-18 12z"/>
<path class="B32" d="M4884 3668l18-13-10-32-18 12z"/>
<path class="B23" d="M4934 4221l18-63-11-87-18 63z"/>
<path class="B33" d="M4807 3598l18-9-10-16-18 10z"/>
<path class="B24" d="M4970 4119l18-4-10-79-19 2z"/>
<path class="B29" d="M4963 3803l18-11-10-14-18 11z"/>
<path class="B32" d="M4845 3620l19-8-10-16-19 9z"/>
<path class="B29" d="M5001 3829l19-7-11-23-18 8zM4935 3800l18-11-10-15-18 11z"/>
<path class="B28" d="M5012 3858l18-6-10-30-19 7z"/>
<path class="B27" d="M5004 3948l18-12-10-78-19 16z"/>
<path class="B30" d="M4896 3771l19-7-11-29-18 7z"/>
<path class="B24" d="M4952 4158l18-39-11-81-18 33z"/>
<path class="B25" d="M4978 4036l18-5-10-69-19 4z"/>
<path class="B33" d="M4817 3613l18-8-10-16-18 9z"/>
<path class="B30" d="M4886 3742l18-7-10-35-18 7z"/>
<path class="B32" d="M4855 3644l19-9-10-23-19 8z"/>
<path class="B29" d="M4973 3818l18-11-10-15-18 11z"/>
<path class="B31" d="M4876 3707l18-7-10-32-18 7z"/>
<path class="B33" d="M4789 3617l18-19-10-15-18 18z"/>
<path class="B23" d="M4905 4201l18-67-10-75-18 60z"/>
<path class="B32" d="M4866 3675l18-7-10-33-19 9z"/>
<path class="B29" d="M4906 3792l19-7-10-21-19 7zM4945 3815l18-12-10-14-18 11z"/>
<path class="B32" d="M4827 3629l18-9-10-15-18 8z"/>
<path class="B29" d="M4983 3841l18-12-10-22-18 11z"/>
<path class="B32" d="M4771 3642l18-25-10-16-18 26z"/>
<path class="B27" d="M4986 3962l18-14-11-74-18 17z"/>
<path class="B29" d="M4916 3807l19-7-10-15-19 7z"/>
<path class="B28" d="M4993 3874l19-16-11-29-18 12z"/>
<path class="B32" d="M4799 3632l18-19-10-15-18 19zM4752 3669l19-27-10-15-19 26z"/>
<path class="B29" d="M4955 3831l18-13-10-15-18 12z"/>
<path class="B30" d="M4878 3777l18-6-10-29-18 5z"/>
<path class="B32" d="M4837 3651l18-7-10-24-18 9z"/>
<path class="B30" d="M4868 3747l18-5-10-35-19 5z"/>
<path class="B31" d="M4857 3712l19-5-10-32-19 6z"/>
<path class="B32" d="M4847 3681l19-6-11-31-18 7z"/>
<path class="B25" d="M4959 4038l19-2-11-70-18-1z"/>
<path class="B32" d="M4781 3657l18-25-10-15-18 25z"/>
<path class="B29" d="M4888 3799l18-7-10-21-18 6zM4813 3861l18-42-10-38-18 51z"/>
<path class="B24" d="M4923 4134l18-63-10-71-18 59z"/>
<path class="B29" d="M4926 3823l19-8-10-15-19 7z"/>
<path class="B32" d="M4809 3647l18-18-10-16-18 19z"/>
<path class="B28" d="M4823 3881l19-39-11-23-18 42zM4965 3854l18-13-10-23-18 13z"/>
<path class="B32" d="M4762 3690l19-33-10-15-19 27z"/>
<path class="B29" d="M4803 3832l18-51-10-38-18 48z"/>
<path class="B28" d="M4975 3891l18-17-10-33-18 13z"/>
<path class="B27" d="M4967 3966l19-4-11-71-18 5z"/>
<path class="B29" d="M4842 3842l18-36-11-34-18 47z"/>
<path class="B30" d="M4860 3806l18-29-10-30-19 25z"/>
<path class="B29" d="M4898 3815l18-8-10-15-18 7z"/>
<path class="B32" d="M4791 3682l18-35-10-15-18 25z"/>
<path class="B30" d="M4831 3819l18-47-10-34-18 43zM4793 3791l18-48-10-32-18 39z"/>
<path class="B31" d="M4773 3720l18-38-10-25-19 33z"/>
<path class="B24" d="M4895 4119l18-60-11-66-18 64z"/>
<path class="B28" d="M4834 3902l18-41-10-19-19 39z"/>
<path class="B32" d="M4819 3675l18-24-10-22-18 18z"/>
<path class="B30" d="M4849 3772l19-25-11-35-18 26z"/>
<path class="B31" d="M4783 3750l18-39-10-29-18 38z"/>
<path class="B25" d="M4941 4071l18-33-10-73-18 35z"/>
<path class="B31" d="M4839 3738l18-26-10-31-18 24z"/>
<path class="B29" d="M4870 3823l18-24-10-22-18 29zM4937 3838l18-7-10-16-19 8z"/>
<path class="B31" d="M4829 3705l18-24-10-30-18 24z"/>
<path class="B30" d="M4821 3781l18-43-10-33-18 38z"/>
<path class="B29" d="M4852 3861l18-38-10-17-18 36z"/>
<path class="B31" d="M4801 3711l18-36-10-28-18 35zM4811 3743l18-38-10-30-18 36z"/>
<path class="B28" d="M4844 3922l18-42-10-19-18 41z"/>
<path class="B29" d="M4908 3831l18-8-10-16-18 8z"/>
<path class="B28" d="M4947 3861l18-7-10-23-18 7z"/>
<path class="B29" d="M4880 3840l18-25-10-16-18 24z"/>
<path class="B28" d="M4957 3896l18-5-10-37-18 7zM4862 3880l18-40-10-17-18 38z"/>
<path class="B27" d="M4854 3943l18-44-10-19-18 42zM4949 3965l18 1-10-70-18 4z"/>
<path class="B26" d="M4913 4059l18-59-11-66-18 59zM4884 4057l18-64-10-50-18 52z"/>
<path class="B29" d="M4918 3847l19-9-11-15-18 8zM4890 3857l18-26-10-16-18 25z"/>
<path class="B28" d="M4872 3899l18-42-10-17-18 40z"/>
<path class="B27" d="M4864 3961l18-41-10-21-18 44zM4931 4000l18-35-10-65-19 34z"/>
<path class="B26" d="M4874 3995l18-52-10-23-18 41z"/>
<path class="B28" d="M4928 3869l19-8-10-23-19 9zM4882 3920l18-44-10-19-18 42zM4939 3900l18-4-10-35-19 8zM4900 3876l18-29-10-16-18 26z"/>
<path class="B27" d="M4902 3993l18-59-10-36-18 45zM4892 3943l18-45-10-22-18 44z"/>
<path class="B28" d="M4910 3898l18-29-10-22-18 29zM4920 3934l19-34-11-31-18 29z"/>
<path class="v13" d="M5143 3736l127-42-45-16-127 42z"/>
<path class="v13" d="M5188 3752l127-43-45-15-127 42z"/>
<path class="v13" d="M5014 3780l129-44-45-16-128 43z"/>
<path class="v14" d="M5234 3767l127-44-46-14-127 43z"/>
<path class="v13" d="M5059 3795l129-43-45-16-129 44z"/>
<path class="v14" d="M5280 3780l127-43-46-14-127 44z"/>
<path class="v13" d="M4884 3823l130-43-44-17-130 44z"/>
<path class="v14" d="M5105 3810l129-43-46-15-129 43z"/>
<path class="v15" d="M5326 3793l128-44-47-12-127 43z"/>
<path class="v13" d="M4929 3840l130-45-45-15-130 43z"/>
<path class="v14" d="M5150 3824l130-44-46-13-129 43z"/>
<path class="v13" d="M4752 3868l132-45-44-16-132 44z"/>
<path class="v15" d="M5373 3804l128-44-47-11-128 44z"/>
<path class="v14" d="M4974 3855l131-45-46-15-130 45z"/>
<path class="v15" d="M5196 3837l130-44-46-13-130 44z"/>
<path class="v13" d="M4796 3884l133-44-45-17-132 45z"/>
<path class="v16" d="M5420 3813l128-44-47-9-128 44z"/>
<path class="v14" d="M5019 3869l131-45-45-14-131 45z"/>
<path class="v13" d="M4618 3913l134-45-44-17-134 45z"/>
<path class="v15" d="M5243 3849l130-45-47-11-130 44z"/>
<path class="v14" d="M4841 3900l133-45-45-15-133 44z"/>
<path class="v16" d="M5468 3821l128-45-48-7-128 44z"/>
<path class="v15" d="M5065 3882l131-45-46-13-131 45z"/>
<path class="v13" d="M4662 3930l134-46-44-16-134 45z"/>
<path class="v16" d="M5290 3858l130-45-47-9-130 45z"/>
<path class="v14" d="M4886 3914l133-45-45-14-133 45z"/>
<path class="v13" d="M4482 3959l136-46-44-17-136 45z"/>
<path class="v17" d="M5516 3825l129-45-49-4-128 45z"/>
<path class="v15" d="M5111 3894l132-45-47-12-131 45z"/>
<path class="v14" d="M4706 3945l135-45-45-16-134 46z"/>
<path class="v16" d="M5337 3866l131-45-48-8-130 45z"/>
<path class="v15" d="M4932 3928l133-46-46-13-133 45z"/>
<path class="v13" d="M4526 3976l136-46-44-17-136 46z"/>
<path class="v16" d="M5158 3904l132-46-47-9-132 45z"/>
<path class="v18" d="M5565 3825l129-45-49 0-129 45z"/>
<path class="v14" d="M4751 3960l135-46-45-14-135 45z"/>
<path class="v13" d="M4344 4005l138-46-44-18-137 46z"/>
<path class="v17" d="M5385 3870l131-45-48-4-131 45z"/>
<path class="v15" d="M4978 3940l133-46-46-12-133 46z"/>
<path class="v14" d="M4570 3992l136-47-44-15-136 46z"/>
<path class="v16" d="M5205 3912l132-46-47-8-132 46z"/>
<path class="v15" d="M4797 3974l135-46-46-14-135 46z"/>
<path class="v19" d="M5614 3821l129-45-49 4-129 45z"/>
<path class="v13" d="M4388 4022l138-46-44-17-138 46z"/>
<path class="v16" d="M5024 3950l134-46-47-10-133 46z"/>
<path class="v18" d="M5434 3871l131-46-49 0-131 45z"/>
<path class="v14" d="M4615 4007l136-47-45-15-136 47z"/>
<path class="v13" d="M4204 4052l140-47-43-18-140 47z"/>
<path class="v17" d="M5253 3916l132-46-48-4-132 46z"/>
<path class="v15" d="M4842 3986l136-46-46-12-135 46z"/>
<path class="v14" d="M4432 4039l138-47-44-16-138 46z"/>
<path class="v20" d="M5664 3810l130-46-51 12-129 45z"/>
<path class="v16" d="M5071 3958l134-46-47-8-134 46z"/>
<path class="v15" d="M4660 4021l137-47-46-14-136 47z"/>
<path class="v19" d="M5483 3867l131-46-49 4-131 46z"/>
<path class="v13" d="M4248 4070l140-48-44-17-140 47z"/>
<path class="v16" d="M4888 3997l136-47-46-10-136 46z"/>
<path class="v18" d="M5301 3917l133-46-49-1-132 46z"/>
<path class="v14" d="M4476 4054l139-47-45-15-138 47z"/>
<path class="v21" d="M5715 3787l130-45-51 22-130 46z"/>
<path class="v17" d="M5118 3963l135-47-48-4-134 46z"/>
<path class="v15" d="M4705 4034l137-48-45-12-137 47z"/>
<path class="v14" d="M4291 4086l141-47-44-17-140 48z"/>
<path class="v20" d="M5532 3856l132-46-50 11-131 46z"/>
<path class="v16" d="M4935 4005l136-47-47-8-136 47z"/>
<path class="v15" d="M4521 4069l139-48-45-14-139 47z"/>
<path class="v19" d="M5350 3914l133-47-49 4-133 46z"/>
<path class="v22" d="M5724 3781l130-45-9 6-130 45z"/>
<path class="v22" d="M5734 3774l130-46-10 8-130 45z"/>
<path class="v16" d="M4751 4045l137-48-46-11-137 48z"/>
<path class="v18" d="M5166 3964l135-47-48-1-135 47z"/>
<path class="v14" d="M4335 4102l141-48-44-15-141 47z"/>
<path class="v23" d="M5743 3765l131-45-10 8-130 46z"/>
<path class="v23" d="M5753 3756l130-45-9 9-131 45z"/>
<path class="v21" d="M5583 3833l132-46-51 23-132 46z"/>
<path class="v17" d="M4982 4010l136-47-47-5-136 47z"/>
<path class="v15" d="M4566 4082l139-48-45-13-139 48z"/>
<path class="v24" d="M5763 3746l130-45-10 10-130 45z"/>
<path class="v20" d="M5399 3903l133-47-49 11-133 47z"/>
<path class="v24" d="M5772 3735l131-45-10 11-130 45z"/>
<path class="v16" d="M4797 4053l138-48-47-8-137 48z"/>
<path class="v15" d="M4380 4117l141-48-45-15-141 48z"/>
<path class="v19" d="M5214 3961l136-47-49 3-135 47z"/>
<path class="v22" d="M5592 3827l132-46-9 6-132 46z"/>
<path class="v25" d="M5782 3723l131-46-10 13-131 45z"/>
<path class="v22" d="M5602 3820l132-46-10 7-132 46z"/>
<path class="v16" d="M4611 4093l140-48-46-11-139 48z"/>
<path class="v25" d="M5792 3709l131-46-10 14-131 46z"/>
<path class="v18" d="M5029 4012l137-48-48-1-136 47z"/>
<path class="v23" d="M5611 3812l132-47-9 9-132 46z"/>
<path class="v26" d="M5802 3693l131-45-10 15-131 46z"/>
<path class="v23" d="M5621 3802l132-46-10 9-132 47z"/>
<path class="v21" d="M5449 3880l134-47-51 23-133 47z"/>
<path class="v17" d="M4844 4058l138-48-47-5-138 48z"/>
<path class="v15" d="M4424 4130l142-48-45-13-141 48z"/>
<path class="v27" d="M5812 3675l131-45-10 18-131 45z"/>
<path class="v24" d="M5630 3792l133-46-10 10-132 46z"/>
<path class="v20" d="M5263 3950l136-47-49 11-136 47z"/>
<path class="v24" d="M5640 3781l132-46-9 11-133 46z"/>
<path class="v28" d="M5822 3656l131-46-10 20-131 45z"/>
<path class="v16" d="M4657 4102l140-49-46-8-140 48z"/>
<path class="v19" d="M5077 4009l137-48-48 3-137 48z"/>
<path class="v22" d="M5458 3874l134-47-9 6-134 47z"/>
<path class="v25" d="M5649 3769l133-46-10 12-132 46z"/>
<path class="v28" d="M5832 3633l132-45-11 22-131 46z"/>
<path class="v22" d="M5467 3867l135-47-10 7-134 47z"/>
<path class="v16" d="M4469 4142l142-49-45-11-142 48z"/>
<path class="v25" d="M5659 3755l133-46-10 14-133 46z"/>
<path class="v18" d="M4891 4060l138-48-47-2-138 48z"/>
<path class="v23" d="M5477 3858l134-46-9 8-135 47z"/>
<path class="v29" d="M5842 3612l132-45-10 21-132 45z"/>
<path class="v26" d="M5669 3739l133-46-10 16-133 46z"/>
<path class="v23" d="M5486 3849l135-47-10 10-134 46z"/>
<path class="v21" d="M5313 3928l136-48-50 23-136 47z"/>
<path class="v30" d="M5852 3592l132-45-10 20-132 45z"/>
<path class="v17" d="M4703 4107l141-49-47-5-140 49z"/>
<path class="v27" d="M5679 3721l133-46-10 18-133 46z"/>
<path class="v24" d="M5496 3839l134-47-9 10-135 47z"/>
<path class="v20" d="M5126 3998l137-48-49 11-137 48z"/>
<path class="v31" d="M5863 3568l132-45-11 24-132 45z"/>
<path class="v24" d="M5505 3828l135-47-10 11-134 47z"/>
<path class="v28" d="M5689 3702l133-46-10 19-133 46z"/>
<path class="v16" d="M4515 4151l142-49-46-9-142 49z"/>
<path class="v19" d="M4938 4057l139-48-48 3-138 48z"/>
<path class="v22" d="M5322 3921l136-47-9 6-136 48z"/>
<path class="v25" d="M5515 3815l134-46-9 12-135 47z"/>
<path class="v32" d="M5873 3530l133-45-11 38-132 45z"/>
<path class="v28" d="M5699 3679l133-46-10 23-133 46z"/>
<path class="v22" d="M5331 3914l136-47-9 7-136 47z"/>
<path class="v25" d="M5524 3801l135-46-10 14-134 46z"/>
<path class="v18" d="M4750 4110l141-50-47-2-141 49z"/>
<path class="v23" d="M5340 3906l137-48-10 9-136 47z"/>
<path class="v29" d="M5709 3657l133-45-10 21-133 46z"/>
<path class="v34" d="M5884 3486l133-44-11 43-133 45z"/>
<path class="v26" d="M5534 3786l135-47-10 16-135 46z"/>
<path class="v23" d="M5350 3897l136-48-9 9-137 48z"/>
<path class="v21" d="M5175 3976l138-48-50 22-137 48z"/>
<path class="v30" d="M5719 3638l133-46-10 20-133 45z"/>
<path class="v17" d="M4561 4157l142-50-46-5-142 49z"/>
<path class="v27" d="M5544 3768l135-47-10 18-135 47z"/>
<path class="v24" d="M5359 3887l137-48-10 10-136 48z"/>
<path class="v20" d="M4986 4047l140-49-49 11-139 48z"/>
<path class="v35" d="M5896 3433l132-44-11 53-133 44z"/>
<path class="v31" d="M5729 3613l134-45-11 24-133 46z"/>
<path class="v24" d="M5369 3875l136-47-9 11-137 48z"/>
<path class="v28" d="M5553 3748l136-46-10 19-135 47z"/>
<path class="v19" d="M4797 4107l141-50-47 3-141 50z"/>
<path class="v22" d="M5184 3970l138-49-9 7-138 48z"/>
<path class="v25" d="M5378 3863l137-48-10 13-136 47z"/>
<path class="v32" d="M5739 3575l134-45-10 38-134 45z"/>
<path class="v28" d="M5563 3726l136-47-10 23-136 46z"/>
<path class="v36" d="M5907 3369l133-44-12 64-132 44z"/>
<path class="v22" d="M5193 3962l138-48-9 7-138 49z"/>
<path class="v25" d="M5387 3849l137-48-9 14-137 48z"/>
<path class="v18" d="M4607 4159l143-49-47-3-142 50z"/>
<path class="v23" d="M5202 3954l138-48-9 8-138 48z"/>
<path class="v29" d="M5573 3704l136-47-10 22-136 47z"/>
<path class="v34" d="M5750 3531l134-45-11 44-134 45z"/>
<path class="v26" d="M5397 3833l137-47-10 15-137 48z"/>
<path class="v23" d="M5211 3945l139-48-10 9-138 48z"/>
<path class="v21" d="M5035 4025l140-49-49 22-140 49z"/>
<path class="v30" d="M5583 3684l136-46-10 19-136 47z"/>
<path class="v36" d="M5919 3287l134-43-13 81-133 44z"/>
<path class="v27" d="M5407 3815l137-47-10 18-137 47z"/>
<path class="v24" d="M5221 3935l138-48-9 10-139 48z"/>
<path class="v20" d="M4845 4096l141-49-48 10-141 50z"/>
<path class="v35" d="M5761 3478l135-45-12 53-134 45z"/>
<path class="v31" d="M5593 3659l136-46-10 25-136 46z"/>
<path class="v24" d="M5230 3924l139-49-10 12-138 48z"/>
<path class="v28" d="M5416 3795l137-47-9 20-137 47z"/>
<path class="v19" d="M4654 4157l143-50-47 3-143 49z"/>
<path class="v22" d="M5044 4019l140-49-9 6-140 49z"/>
<path class="v25" d="M5239 3911l139-48-9 12-139 49z"/>
<path class="v32" d="M5603 3621l136-46-10 38-136 46z"/>
<path class="v28" d="M5426 3773l137-47-10 22-137 47z"/>
<path class="v36" d="M5772 3413l135-44-11 64-135 45z"/>
<path class="v22" d="M5053 4011l140-49-9 8-140 49z"/>
<path class="v36" d="M5932 3180l134-43-13 107-134 43z"/>
<path class="v25" d="M5249 3897l138-48-9 14-139 48z"/>
<path class="v23" d="M5062 4003l140-49-9 8-140 49z"/>
<path class="v29" d="M5436 3751l137-47-10 22-137 47z"/>
<path class="v34" d="M5614 3577l136-46-11 44-136 46z"/>
<path class="v26" d="M5258 3881l139-48-10 16-138 48z"/>
<path class="v23" d="M5071 3994l140-49-9 9-140 49z"/>
<path class="v21" d="M4893 4075l142-50-49 22-141 49z"/>
<path class="v30" d="M5445 3731l138-47-10 20-137 47z"/>
<path class="v36" d="M5784 3331l135-44-12 82-135 44z"/>
<path class="v27" d="M5267 3863l140-48-10 18-139 48z"/>
<path class="v24" d="M5080 3984l141-49-10 10-140 49z"/>
<path class="v20" d="M4701 4147l144-51-48 11-143 50z"/>
<path class="v35" d="M5624 3524l137-46-11 53-136 46z"/>
<path class="v31" d="M5455 3706l138-47-10 25-138 47z"/>
<path class="v24" d="M5089 3972l141-48-9 11-141 49z"/>
<path class="v28" d="M5277 3843l139-48-9 20-140 48z"/>
<path class="v22" d="M4902 4068l142-49-9 6-142 50z"/>
<path class="v25" d="M5098 3960l141-49-9 13-141 48z"/>
<path class="v32" d="M5465 3668l138-47-10 38-138 47z"/>
<path class="v28" d="M5286 3821l140-48-10 22-139 48z"/>
<path class="v36" d="M5635 3458l137-45-11 65-137 46z"/>
<path class="v22" d="M4911 4061l142-50-9 8-142 49z"/>
<path class="v36" d="M5796 3223l136-43-13 107-135 44z"/>
<path class="v25" d="M5108 3946l141-49-10 14-141 49z"/>
<path class="v23" d="M4919 4053l143-50-9 8-142 50z"/>
<path class="v29" d="M5296 3799l140-48-10 22-140 48z"/>
<path class="v34" d="M5475 3624l139-47-11 44-138 47z"/>
<path class="v26" d="M5117 3930l141-49-9 16-141 49z"/>
<path class="v23" d="M4928 4044l143-50-9 9-143 50z"/>
<path class="v21" d="M4748 4125l145-50-48 21-144 51z"/>
<path class="v30" d="M5305 3779l140-48-9 20-140 48z"/>
<path class="v36" d="M5646 3376l138-45-12 82-137 45z"/>
<path class="v27" d="M5126 3912l141-49-9 18-141 49z"/>
<path class="v24" d="M4937 4033l143-49-9 10-143 50z"/>
<path class="v35" d="M5485 3570l139-46-10 53-139 47z"/>
<path class="v31" d="M5315 3754l140-48-10 25-140 48z"/>
<path class="v24" d="M4946 4022l143-50-9 12-143 49z"/>
<path class="v28" d="M5135 3892l142-49-10 20-141 49z"/>
<path class="v22" d="M4757 4119l145-51-9 7-145 50z"/>
<path class="v25" d="M4956 4009l142-49-9 12-143 50z"/>
<path class="v32" d="M5325 3716l140-48-10 38-140 48z"/>
<path class="v28" d="M5145 3869l141-48-9 22-142 49z"/>
<path class="v36" d="M5496 3504l139-46-11 66-139 46z"/>
<path class="v22" d="M4766 4111l145-50-9 7-145 51z"/>
<path class="v36" d="M5658 3268l138-45-12 108-138 45z"/>
<path class="v25" d="M4965 3995l143-49-10 14-142 49z"/>
<path class="v23" d="M4775 4103l144-50-8 8-145 50z"/>
<path class="v29" d="M5154 3847l142-48-10 22-141 48z"/>
<path class="v34" d="M5335 3671l140-47-10 44-140 48z"/>
<path class="v26" d="M4974 3979l143-49-9 16-143 49z"/>
<path class="v23" d="M4784 4094l144-50-9 9-144 50z"/>
<path class="v30" d="M5164 3827l141-48-9 20-142 48z"/>
<path class="v36" d="M5507 3421l139-45-11 82-139 46z"/>
<path class="v27" d="M4983 3962l143-50-9 18-143 49z"/>
<path class="v24" d="M4793 4084l144-51-9 11-144 50z"/>
<path class="v35" d="M5345 3617l140-47-10 54-140 47z"/>
<path class="v31" d="M5173 3802l142-48-10 25-141 48z"/>
<path class="v24" d="M4802 4072l144-50-9 11-144 51z"/>
<path class="v28" d="M4992 3941l143-49-9 20-143 50z"/>
<path class="v25" d="M4810 4060l146-51-10 13-144 50z"/>
<path class="v32" d="M5182 3764l143-48-10 38-142 48z"/>
<path class="v28" d="M5001 3918l144-49-10 23-143 49z"/>
<path class="v36" d="M5355 3551l141-47-11 66-140 47z"/>
<path class="v36" d="M5518 3312l140-44-12 108-139 45z"/>
<path class="v25" d="M4819 4046l146-51-9 14-146 51z"/>
<path class="v29" d="M5010 3896l144-49-9 22-144 49z"/>
<path class="v34" d="M5192 3719l143-48-10 45-143 48z"/>
<path class="v26" d="M4828 4030l146-51-9 16-146 51z"/>
<path class="v30" d="M5019 3876l145-49-10 20-144 49z"/>
<path class="v36" d="M5365 3467l142-46-11 83-141 47z"/>
<path class="v27" d="M4837 4012l146-50-9 17-146 51z"/>
<path class="v35" d="M5202 3665l143-48-10 54-143 48z"/>
<path class="v31" d="M5029 3851l144-49-9 25-145 49z"/>
<path class="v28" d="M4846 3992l146-51-9 21-146 50z"/>
<path class="v32" d="M5038 3813l144-49-9 38-144 49z"/>
<path class="v28" d="M4855 3969l146-51-9 23-146 51z"/>
<path class="v36" d="M5211 3598l144-47-10 66-143 48z"/>
<path class="v36" d="M5376 3358l142-46-11 109-142 46z"/>
<path class="v29" d="M4864 3946l146-50-9 22-146 51z"/>
<path class="v34" d="M5047 3768l145-49-10 45-144 49z"/>
<path class="v30" d="M4873 3926l146-50-9 20-146 50z"/>
<path class="v36" d="M5221 3514l144-47-10 84-144 47z"/>
<path class="v35" d="M5056 3713l146-48-10 54-145 49z"/>
<path class="v31" d="M4882 3901l147-50-10 25-146 50z"/>
<path class="v32" d="M4891 3862l147-49-9 38-147 50z"/>
<path class="v36" d="M5066 3646l145-48-9 67-146 48z"/>
<path class="v36" d="M5231 3404l145-46-11 109-144 47z"/>
<path class="v34" d="M4900 3817l147-49-9 45-147 49z"/>
<path class="v36" d="M5075 3562l146-48-10 84-145 48z"/>
<path class="v35" d="M4909 3762l147-49-9 55-147 49z"/>
<path class="v36" d="M4918 3695l148-49-10 67-147 49z"/>
<path class="v36" d="M5084 3451l147-47-10 110-146 48z"/>
<path class="v36" d="M4927 3610l148-48-9 84-148 49z"/>
<path class="v36" d="M4935 3499l149-48-9 111-148 48z"/><path class="eq" style="stroke:#24123e" d="M4860 3955l36-34 33-32 47-16 28-15 12-5 35-12 25-13 46-19 50-27 829-281"/>
</g>
<text class="tl" x="510.9" y="483.3">0</text>
<text class="tl" x="528.8" y="476.3">5</text>
<text class="tl" x="546.5" y="469.4">10</text>
<text class="tl" x="563.8" y="462.7">15</text>
<text class="tl" x="580.7" y="456.1">20</text>
<text class="tl" x="597.4" y="449.6">25</text>
<text class="tl" x="613.7" y="443.2">30</text>
<text class="al" x="580.4" y="478.4" transform="rotate(-21 580.4 478.4)">Copper price ($/kg)</text>
<text class="tl" x="483.1" y="481.6">0</text>
<text class="tl" x="463.6" y="468.9">100</text>
<text class="tl" x="444.8" y="456.6">200</text>
<text class="tl" x="426.6" y="444.7">300</text>
<text class="tl" x="409.1" y="433.3">400</text>
<text class="al" x="423.4" y="468.8" transform="rotate(-327.3 423.4 468.8)">Cobalt price ($/kg)</text>
<text class="tl" x="391.7" y="406.6">20</text>
<text class="tl" x="390.9" y="388.3">30</text>
<text class="tl" x="390.2" y="369.8">40</text>
<text class="tl" x="389.4" y="351">50</text>
<text class="tl" x="388.6" y="331.9">60</text>
<text class="tl" x="387.8" y="312.7">70</text>
<text class="al" x="365.1" y="356.2" transform="rotate(-272.2 365.1 356.2)">Supply (kt)</text>
<g transform="scale(.1)">
<path fill="#f8f8f8" d="M4456 6675l-770-416 4-801 799 362z"/>
<path fill="#f5f5f5" d="M2736 6578l950-319 4-801-986 278z"/>
<path fill="#f6f6f6" d="M3474 7052l982-377-770-416-950 319z"/>
<path class="gr" d="M3547 7023l-740-469-30-839M3826 6916l-750-452-19-828M4095 6813l-759-436-9-817M4354 6714l-767-422 0-805M4428 5792l-31 851-979 372M4263 5717l-25 840-973 360M4103 5645l-19 829-967 348M3948 5575l-13 818-961 337M3798 5507l-8 808-954 327M2731 6441l956-312 774 407M2723 6233l965-302 781 394M2715 6021l974-292 789 381M2707 5805l983-281 796 367"/>
<path class="ax" d="M4456 6675l-982 377M2736 6578l738 474M2736 6578l-32-842"/>
<path class="tk" d="M3535 7015l34 22M3813 6908l35 22M4082 6806l35 20M4340 6707l36 19M3435 7009l-46 17M3281 6911l-45 17M3133 6816l-44 16M2990 6725l-44 15M2852 6636l-44 15M2747 6436l-44 14M2740 6228l-45 14M2732 6016l-45 13M2723 5800l-45 13"/>
<path class="O35" d="M3701 5553l51-16-72-33-51 16zM3649 5569l52-16-72-33-52 16zM3597 5586l52-17-72-33-52 16zM3774 5587l52-16-74-34-51 16z"/>
<path class="O34" d="M3545 5602l52-16-72-34-52 16z"/>
<path class="O35" d="M3722 5604l52-17-73-34-52 16z"/>
<path class="O34" d="M3492 5620l53-18-72-34-52 17z"/>
<path class="O35" d="M3670 5620l52-16-73-35-52 17zM3849 5621l51-16-74-34-52 16z"/>
<path class="O34" d="M3439 5639l53-19-71-35-53 19zM3618 5637l52-17-73-34-52 16z"/>
<path class="O5" d="M2912 6603l7-16-68-42-6 16z"/>
<path class="O35" d="M3797 5638l52-17-75-34-52 17z"/>
<path class="O5" d="M2919 6587l6-16-67-42-7 16z"/>
<path class="O6" d="M2925 6571l7-19-68-42-6 19z"/>
<path class="O7" d="M2932 6552l6-21-68-42-6 21zM2938 6531l6-21-67-41-7 20z"/>
<path class="O34" d="M3386 5657l53-18-71-35-53 19z"/>
<path class="O8" d="M2944 6510l7-16-68-42-6 17z"/>
<path class="O9" d="M2951 6494l6-22-68-42-6 22zM2957 6472l6-28-68-41-6 27z"/>
<path class="O34" d="M3565 5655l53-18-73-35-53 18z"/>
<path class="O10" d="M2963 6444l6-29-68-41-6 29z"/>
<path class="O35" d="M3745 5655l52-17-75-34-52 16z"/>
<path class="O12" d="M2969 6415l6-36-68-41-6 36z"/>
<path class="O34" d="M3332 5676l54-19-71-34-54 18z"/>
<path class="O35" d="M3924 5657l52-17-76-35-51 16z"/>
<path class="O13" d="M2975 6379l6-36-68-41-6 36z"/>
<path class="O34" d="M3512 5674l53-19-73-35-53 19z"/>
<path class="O14" d="M2981 6343l6-39-68-40-6 38z"/>
<path class="O34" d="M3692 5672l53-17-75-35-52 17z"/>
<path class="O15" d="M2987 6304l6-39-68-40-6 39z"/>
<path class="O34" d="M3278 5699l54-23-71-35-54 22z"/>
<path class="O5" d="M2980 6646l7-16-68-43-7 16z"/>
<path class="O35" d="M3872 5674l52-17-75-36-52 17z"/>
<path class="O5" d="M2987 6630l6-16-68-43-6 16z"/>
<path class="O6" d="M2993 6614l7-19-68-43-7 19z"/>
<path class="O17" d="M2993 6265l6-55-69-40-5 55z"/>
<path class="O7" d="M3000 6595l6-22-68-42-6 21zM3006 6573l7-20-69-43-6 21z"/>
<path class="O34" d="M3458 5693l54-19-73-35-53 18z"/>
<path class="O8" d="M3013 6553l6-17-68-42-7 16z"/>
<path class="O9" d="M3019 6536l7-22-69-42-6 22zM3026 6514l6-28-69-42-6 28z"/>
<path class="O34" d="M3639 5690l53-18-74-35-53 18z"/>
<path class="O19" d="M2999 6210l5-59-69-39-5 58z"/>
<path class="O10" d="M3032 6486l6-30-69-41-6 29z"/>
<path class="O34" d="M3224 5722l54-23-71-36-54 23z"/>
<path class="O35" d="M3820 5691l52-17-75-36-52 17z"/>
<path class="O12" d="M3038 6456l6-35-69-42-6 36z"/>
<path class="O34" d="M3404 5712l54-19-72-36-54 19z"/>
<path class="O35" d="M4001 5692l52-17-77-35-52 17z"/>
<path class="O13" d="M3044 6421l6-37-69-41-6 36z"/>
<path class="O22" d="M3004 6151l5-72-69-39-5 72z"/>
<path class="O34" d="M3585 5710l54-20-74-35-53 19z"/>
<path class="O14" d="M3050 6384l6-39-69-41-6 39z"/>
<path class="O33" d="M3169 5747l55-25-71-36-54 25z"/>
<path class="O34" d="M3767 5708l53-17-75-36-53 17z"/>
<path class="O15" d="M3056 6345l6-39-69-41-6 39z"/>
<path class="O24" d="M3009 6079l6-65-70-38-5 64z"/>
<path class="O34" d="M3350 5735l54-23-72-36-54 23z"/>
<path class="O5" d="M3050 6690l6-16-69-44-7 16z"/>
<path class="O35" d="M3949 5709l52-17-77-35-52 17z"/>
<path class="O5" d="M3056 6674l7-17-70-43-6 16z"/>
<path class="O6" d="M3063 6657l6-19-69-43-7 19z"/>
<path class="O17" d="M3062 6306l6-56-69-40-6 55z"/>
<path class="O7" d="M3069 6638l7-22-70-43-6 22z"/>
<path class="O33" d="M3114 5786l55-39-70-36-55 39z"/>
<path class="O7" d="M3076 6616l6-20-69-43-7 20z"/>
<path class="O34" d="M3532 5729l53-19-73-36-54 19z"/>
<path class="O26" d="M3015 6014l5-48-69-38-6 48z"/>
<path class="O8" d="M3082 6596l7-17-70-43-6 17z"/>
<path class="O9" d="M3089 6579l7-22-70-43-7 22zM3096 6557l6-29-70-42-6 28z"/>
<path class="O34" d="M3714 5726l53-18-75-36-53 18z"/>
<path class="O27" d="M3020 5966l7-30-70-38-6 30z"/>
<path class="O32" d="M3107 5793l7-7-70-36-7 6z"/>
<path class="O19" d="M3068 6250l6-59-70-40-5 59z"/>
<path class="O32" d="M3100 5799l7-6-70-37-6 6zM3094 5805l6-6-69-37-7 7z"/>
<path class="O10" d="M3102 6528l6-29-70-43-6 30z"/>
<path class="O34" d="M3295 5759l55-24-72-36-54 23z"/>
<path class="O32" d="M3087 5815l7-10-70-36-7 9z"/>
<path class="O28" d="M3027 5936l6-28-69-37-7 27z"/>
<path class="O31" d="M3080 5825l7-10-70-37-7 10zM3073 5835l7-10-70-37-6 10zM3067 5845l6-10-69-37-7 10z"/>
<path class="O35" d="M3897 5727l52-18-77-35-52 17z"/>
<path class="O29" d="M3033 5908l7-14-70-37-6 14zM3040 5894l6-14-69-37-7 14z"/>
<path class="O31" d="M3060 5855l7-10-70-37-7 9z"/>
<path class="O30" d="M3046 5880l7-13-70-37-6 13zM3053 5867l7-12-70-38-7 13z"/>
<path class="O12" d="M3108 6499l6-36-70-42-6 35z"/>
<path class="O34" d="M3478 5749l54-20-74-36-54 19z"/>
<path class="O35" d="M4080 5728l52-17-79-36-52 17z"/>
<path class="O13" d="M3114 6463l7-37-71-42-6 37z"/>
<path class="O22" d="M3074 6191l5-73-70-39-5 72z"/>
<path class="O34" d="M3660 5746l54-20-75-36-54 20z"/>
<path class="O14" d="M3121 6426l6-39-71-42-6 39z"/>
<path class="O33" d="M3240 5784l55-25-71-37-55 25z"/>
<path class="O34" d="M3844 5744l53-17-77-36-53 17z"/>
<path class="O15" d="M3127 6387l6-40-71-41-6 39z"/>
<path class="O24" d="M3079 6118l6-65-70-39-6 65z"/>
<path class="O34" d="M3423 5771l55-22-74-37-54 23z"/>
<path class="O5" d="M3120 6734l7-16-71-44-6 16z"/>
<path class="O35" d="M4027 5746l53-18-79-36-52 17z"/>
<path class="O5" d="M3127 6718l7-16-71-45-7 17z"/>
<path class="O6" d="M3134 6702l6-20-71-44-6 19z"/>
<path class="O17" d="M3133 6347l6-56-71-41-6 56z"/>
<path class="O7" d="M3140 6682l7-22-71-44-7 22z"/>
<path class="O33" d="M3185 5823l55-39-71-37-55 39z"/>
<path class="O7" d="M3147 6660l6-20-71-44-6 20z"/>
<path class="O34" d="M3606 5766l54-20-75-36-53 19z"/>
<path class="O26" d="M3085 6053l6-48-71-39-5 48z"/>
<path class="O8" d="M3153 6640l7-17-71-44-7 17z"/>
<path class="O9" d="M3160 6623l7-23-71-43-7 22zM3167 6600l6-28-71-44-6 29z"/>
<path class="O34" d="M3790 5763l54-19-77-36-53 18z"/>
<path class="O27" d="M3091 6005l6-31-70-38-7 30z"/>
<path class="O32" d="M3178 5830l7-7-71-37-7 7z"/>
<path class="O19" d="M3139 6291l6-60-71-40-6 59z"/>
<path class="O32" d="M3172 5836l6-6-71-37-7 6zM3165 5843l7-7-72-37-6 6z"/>
<path class="O10" d="M3173 6572l6-30-71-43-6 29z"/>
<path class="O34" d="M3368 5795l55-24-73-36-55 24z"/>
<path class="O32" d="M3158 5853l7-10-71-38-7 10z"/>
<path class="O28" d="M3097 5974l7-28-71-38-6 28z"/>
<path class="O31" d="M3151 5863l7-10-71-38-7 10zM3144 5872l7-9-71-38-7 10zM3137 5882l7-10-71-37-6 10z"/>
<path class="O35" d="M3975 5764l52-18-78-37-52 18z"/>
<path class="O29" d="M3104 5946l6-14-70-38-7 14zM3110 5932l7-14-71-38-6 14z"/>
<path class="O31" d="M3131 5892l6-10-70-37-7 10z"/>
<path class="O30" d="M3117 5918l7-13-71-38-7 13zM3124 5905l7-13-71-37-7 12z"/>
<path class="O12" d="M3179 6542l7-37-72-42-6 36z"/>
<path class="O34" d="M3552 5785l54-19-74-37-54 20z"/>
<path class="O35" d="M4159 5765l52-18-79-36-52 17z"/>
<path class="O13" d="M3186 6505l6-37-71-42-7 37z"/>
<path class="O22" d="M3145 6231l5-73-71-40-5 73z"/>
<path class="O34" d="M3737 5783l53-20-76-37-54 20z"/>
<path class="O14" d="M3192 6468l6-39-71-42-6 39z"/>
<path class="O33" d="M3313 5821l55-26-73-36-55 25z"/>
<path class="O34" d="M3921 5781l54-17-78-37-53 17z"/>
<path class="O15" d="M3198 6429l7-40-72-42-6 40z"/>
<path class="O24" d="M3150 6158l6-65-71-40-6 65z"/>
<path class="O34" d="M3497 5809l55-24-74-36-55 22z"/>
<path class="O5" d="M3192 6780l7-17-72-45-7 16z"/>
<path class="O35" d="M4107 5783l52-18-79-37-53 18z"/>
<path class="O5" d="M3199 6763l6-16-71-45-7 16z"/>
<path class="O6" d="M3205 6747l7-20-72-45-6 20z"/>
<path class="O17" d="M3205 6389l6-56-72-42-6 56z"/>
<path class="O7" d="M3212 6727l7-22-72-45-7 22z"/>
<path class="O33" d="M3258 5861l55-40-73-37-55 39z"/>
<path class="O7" d="M3219 6705l6-21-72-44-6 20z"/>
<path class="O34" d="M3682 5803l55-20-77-37-54 20z"/>
<path class="O26" d="M3156 6093l6-49-71-39-6 48z"/>
<path class="O8" d="M3225 6684l7-17-72-44-7 17z"/>
<path class="O9" d="M3232 6667l7-23-72-44-7 23zM3239 6644l6-28-72-44-6 28z"/>
<path class="O34" d="M3868 5800l53-19-77-37-54 19z"/>
<path class="O27" d="M3162 6044l7-31-72-39-6 31z"/>
<path class="O32" d="M3251 5868l7-7-73-38-7 7z"/>
<path class="O19" d="M3211 6333l6-61-72-41-6 60z"/>
<path class="O32" d="M3244 5874l7-6-73-38-6 6zM3237 5881l7-7-72-38-7 7z"/>
<path class="O10" d="M3245 6616l7-30-73-44-6 30z"/>
<path class="O34" d="M3442 5833l55-24-74-38-55 24z"/>
<path class="O32" d="M3230 5891l7-10-72-38-7 10z"/>
<path class="O28" d="M3169 6013l6-28-71-39-7 28z"/>
<path class="O31" d="M3223 5901l7-10-72-38-7 10zM3216 5911l7-10-72-38-7 9zM3209 5921l7-10-72-39-7 10z"/>
<path class="O35" d="M4054 5801l53-18-80-37-52 18z"/>
<path class="O29" d="M3175 5985l7-14-72-39-6 14zM3182 5971l7-14-72-39-7 14z"/>
<path class="O31" d="M3203 5931l6-10-72-39-6 10z"/>
<path class="O30" d="M3189 5957l7-13-72-39-7 13zM3196 5944l7-13-72-39-7 13z"/>
<path class="O12" d="M3252 6586l6-37-72-44-7 37z"/>
<path class="O34" d="M3628 5823l54-20-76-37-54 19z"/>
<path class="O35" d="M4240 5803l52-19-81-37-52 18z"/>
<path class="O13" d="M3258 6549l7-37-73-44-6 37z"/>
<path class="O22" d="M3217 6272l6-73-73-41-5 73z"/>
<path class="O34" d="M3814 5821l54-21-78-37-53 20z"/>
<path class="O14" d="M3265 6512l6-40-73-43-6 39z"/>
<path class="O33" d="M3387 5859l55-26-74-38-55 26z"/>
<path class="O34" d="M4000 5819l54-18-79-37-54 17z"/>
<path class="O15" d="M3271 6472l7-40-73-43-7 40z"/>
<path class="O24" d="M3223 6199l6-66-73-40-6 65z"/>
<path class="O34" d="M3573 5846l55-23-76-38-55 24z"/>
<path class="O5" d="M3265 6826l7-17-73-46-7 17z"/>
<path class="O35" d="M4187 5821l53-18-81-38-52 18z"/>
<path class="O5" d="M3272 6809l6-17-73-45-6 16z"/>
<path class="O6" d="M3278 6792l7-19-73-46-7 20z"/>
<path class="O17" d="M3278 6432l6-57-73-42-6 56z"/>
<path class="O7" d="M3285 6773l7-22-73-46-7 22z"/>
<path class="O33" d="M3331 5899l56-40-74-38-55 40z"/>
<path class="O7" d="M3292 6751l7-22-74-45-6 21z"/>
<path class="O34" d="M3760 5841l54-20-77-38-55 20z"/>
<path class="O26" d="M3229 6133l6-49-73-40-6 49z"/>
<path class="O8" d="M3299 6729l6-17-73-45-7 17z"/>
<path class="O9" d="M3305 6712l7-23-73-45-7 23zM3312 6689l7-28-74-45-6 28z"/>
<path class="O34" d="M3947 5838l53-19-79-38-53 19z"/>
<path class="O27" d="M3235 6084l7-31-73-40-7 31z"/>
<path class="O32" d="M3324 5906l7-7-73-38-7 7z"/>
<path class="O19" d="M3284 6375l6-61-73-42-6 61z"/>
<path class="O32" d="M3317 5913l7-7-73-38-7 6zM3310 5919l7-6-73-39-7 7z"/>
<path class="O10" d="M3319 6661l7-31-74-44-7 30z"/>
<path class="O34" d="M3518 5871l55-25-76-37-55 24z"/>
<path class="O32" d="M3304 5929l6-10-73-38-7 10z"/>
<path class="O28" d="M3242 6053l6-28-73-40-6 28z"/>
<path class="O31" d="M3297 5939l7-10-74-38-7 10zM3290 5949l7-10-74-38-7 10zM3283 5960l7-11-74-38-7 10z"/>
<path class="O35" d="M4134 5839l53-18-80-38-53 18z"/>
<path class="O29" d="M3248 6025l7-15-73-39-7 14zM3255 6010l7-14-73-39-7 14z"/>
<path class="O31" d="M3276 5970l7-10-74-39-6 10z"/>
<path class="O30" d="M3262 5996l7-13-73-39-7 13zM3269 5983l7-13-73-39-7 13z"/>
<path class="O12" d="M3326 6630l6-37-74-44-6 37z"/>
<path class="O34" d="M3705 5861l55-20-78-38-54 20z"/>
<path class="O35" d="M4322 5841l53-19-83-38-52 19z"/>
<path class="O13" d="M3332 6593l7-37-74-44-7 37z"/>
<path class="O22" d="M3290 6314l6-74-73-41-6 73z"/>
<path class="O34" d="M3893 5859l54-21-79-38-54 21z"/>
<path class="O14" d="M3339 6556l6-40-74-44-6 40z"/>
<path class="O33" d="M3462 5898l56-27-76-38-55 26z"/>
<path class="O34" d="M4081 5857l53-18-80-38-54 18z"/>
<path class="O15" d="M3345 6516l7-41-74-43-7 40z"/>
<path class="O24" d="M3296 6240l7-66-74-41-6 66z"/>
<path class="O34" d="M3650 5885l55-24-77-38-55 23z"/>
<path class="O5" d="M3339 6873l7-17-74-47-7 17z"/>
<path class="O35" d="M4269 5859l53-18-82-38-53 18z"/>
<path class="O5" d="M3346 6856l7-17-75-47-6 17z"/>
<path class="O6" d="M3353 6839l6-20-74-46-7 19z"/>
<path class="O17" d="M3352 6475l6-57-74-43-6 57z"/>
<path class="O7" d="M3359 6819l7-22-74-46-7 22z"/>
<path class="O33" d="M3406 5939l56-41-75-39-56 40z"/>
<path class="O7" d="M3366 6797l7-21-74-47-7 22z"/>
<path class="O34" d="M3838 5879l55-20-79-38-54 20z"/>
<path class="O26" d="M3303 6174l6-49-74-41-6 49z"/>
<path class="O8" d="M3373 6776l7-18-75-46-6 17z"/>
<path class="O9" d="M3380 6758l7-23-75-46-7 23zM3387 6735l7-29-75-45-7 28z"/>
<path class="O34" d="M4027 5877l54-20-81-38-53 19z"/>
<path class="O27" d="M3309 6125l7-32-74-40-7 31z"/>
<path class="O32" d="M3399 5945l7-6-75-40-7 7z"/>
<path class="O19" d="M3358 6418l7-61-75-43-6 61z"/>
<path class="O32" d="M3392 5952l7-7-75-39-7 7zM3385 5958l7-6-75-39-7 6z"/>
<path class="O10" d="M3394 6706l6-31-74-45-7 31z"/>
<path class="O34" d="M3594 5910l56-25-77-39-55 25z"/>
<path class="O32" d="M3378 5969l7-11-75-39-6 10z"/>
<path class="O28" d="M3316 6093l7-28-75-40-6 28z"/>
<path class="O31" d="M3371 5979l7-10-74-40-7 10zM3364 5989l7-10-74-40-7 10zM3357 5999l7-10-74-40-7 11z"/>
<path class="O35" d="M4216 5878l53-19-82-38-53 18z"/>
<path class="O29" d="M3323 6065l7-15-75-40-7 15zM3330 6050l6-14-74-40-7 14z"/>
<path class="O31" d="M3350 6009l7-10-74-39-7 10z"/>
<path class="O30" d="M3336 6036l7-13-74-40-7 13zM3343 6023l7-14-74-39-7 13z"/>
<path class="O12" d="M3400 6675l7-37-75-45-6 37z"/>
<path class="O34" d="M3783 5900l55-21-78-38-55 20z"/>
<path class="O13" d="M3407 6638l7-37-75-45-7 37z"/>
<path class="O22" d="M3365 6357l6-74-75-43-6 74z"/>
<path class="O34" d="M3973 5898l54-21-80-39-54 21z"/>
<path class="O14" d="M3414 6601l7-41-76-44-6 40z"/>
<path class="O33" d="M3539 5937l55-27-76-39-56 27z"/>
<path class="O34" d="M4163 5896l53-18-82-39-53 18z"/>
<path class="O15" d="M3421 6560l6-41-75-44-7 41z"/>
<path class="O24" d="M3371 6283l7-67-75-42-7 66z"/>
<path class="O34" d="M3728 5924l55-24-78-39-55 24z"/>
<path class="O5" d="M3414 6920l7-17-75-47-7 17zM3421 6903l7-17-75-47-7 17z"/>
<path class="O6" d="M3428 6886l7-20-76-47-6 20z"/>
<path class="O17" d="M3427 6519l7-57-76-44-6 57z"/>
<path class="O7" d="M3435 6866l7-22-76-47-7 22z"/>
<path class="O33" d="M3482 5978l57-41-77-39-56 41z"/>
<path class="O7" d="M3442 6844l7-22-76-46-7 21z"/>
<path class="O34" d="M3918 5919l55-21-80-39-55 20z"/>
<path class="O26" d="M3378 6216l6-50-75-41-6 49z"/>
<path class="O8" d="M3449 6822l7-17-76-47-7 18z"/>
<path class="O9" d="M3456 6805l7-23-76-47-7 23zM3463 6782l7-30-76-46-7 29z"/>
<path class="O34" d="M4109 5916l54-20-82-39-54 20z"/>
<path class="O27" d="M3384 6166l7-32-75-41-7 32z"/>
<path class="O32" d="M3475 5985l7-7-76-39-7 6z"/>
<path class="O19" d="M3434 6462l7-62-76-43-7 61z"/>
<path class="O32" d="M3468 5992l7-7-76-40-7 7zM3461 5998l7-6-76-40-7 6z"/>
<path class="O10" d="M3470 6752l7-30-77-47-6 31z"/>
<path class="O34" d="M3672 5950l56-26-78-39-56 25z"/>
<path class="O32" d="M3454 6009l7-11-76-40-7 11z"/>
<path class="O28" d="M3391 6134l7-28-75-41-7 28z"/>
<path class="O31" d="M3447 6019l7-10-76-40-7 10zM3440 6029l7-10-76-40-7 10zM3433 6039l7-10-76-40-7 10z"/>
<path class="O29" d="M3398 6106l7-15-75-41-7 15zM3405 6091l7-14-76-41-6 14z"/>
<path class="O31" d="M3426 6050l7-11-76-40-7 10z"/>
<path class="O30" d="M3412 6077l7-14-76-40-7 13zM3419 6063l7-13-76-41-7 14z"/>
<path class="O12" d="M3477 6722l7-38-77-46-7 37z"/>
<path class="O34" d="M3863 5940l55-21-80-40-55 21z"/>
<path class="O13" d="M3484 6684l6-38-76-45-7 37z"/>
<path class="O22" d="M3441 6400l6-75-76-42-6 74z"/>
<path class="O34" d="M4054 5937l55-21-82-39-54 21z"/>
<path class="O14" d="M3490 6646l7-41-76-45-7 41z"/>
<path class="O33" d="M3616 5977l56-27-78-40-55 27z"/>
<path class="O15" d="M3497 6605l7-41-77-45-6 41z"/>
<path class="O24" d="M3447 6325l7-67-76-42-7 67z"/>
<path class="O34" d="M3808 5964l55-24-80-40-55 24z"/>
<path class="O5" d="M3491 6969l7-17-77-49-7 17zM3498 6952l7-18-77-48-7 17z"/>
<path class="O6" d="M3505 6934l7-20-77-48-7 20z"/>
<path class="O17" d="M3504 6564l7-57-77-45-7 57z"/>
<path class="O7" d="M3512 6914l7-22-77-48-7 22z"/>
<path class="O33" d="M3560 6019l56-42-77-40-57 41z"/>
<path class="O7" d="M3519 6892l7-22-77-48-7 22z"/>
<path class="O34" d="M3999 5959l55-22-81-39-55 21z"/>
<path class="O26" d="M3454 6258l7-50-77-42-6 50z"/>
<path class="O8" d="M3526 6870l7-18-77-47-7 17z"/>
<path class="O9" d="M3533 6852l7-23-77-47-7 23zM3540 6829l7-29-77-48-7 30z"/>
<path class="O27" d="M3461 6208l7-32-77-42-7 32z"/>
<path class="O32" d="M3553 6025l7-6-78-41-7 7z"/>
<path class="O19" d="M3511 6507l7-63-77-44-7 62z"/>
<path class="O32" d="M3546 6032l7-7-78-40-7 7zM3539 6039l7-7-78-40-7 6z"/>
<path class="O10" d="M3547 6800l7-32-77-46-7 30z"/>
<path class="O34" d="M3752 5990l56-26-80-40-56 26z"/>
<path class="O32" d="M3532 6049l7-10-78-41-7 11z"/>
<path class="O28" d="M3468 6176l7-29-77-41-7 28z"/>
<path class="O31" d="M3524 6060l8-11-78-40-7 10zM3517 6070l7-10-77-41-7 10zM3510 6080l7-10-77-41-7 10z"/>
<path class="O29" d="M3475 6147l7-14-77-42-7 15zM3482 6133l7-15-77-41-7 14z"/>
<path class="O31" d="M3503 6091l7-11-77-41-7 11z"/>
<path class="O30" d="M3489 6118l7-14-77-41-7 14zM3496 6104l7-13-77-41-7 13z"/>
<path class="O12" d="M3554 6768l7-37-77-47-7 38z"/>
<path class="O34" d="M3944 5980l55-21-81-40-55 21z"/>
<path class="O13" d="M3561 6731l7-38-78-47-6 38z"/>
<path class="O22" d="M3518 6444l7-75-78-44-6 75z"/>
<path class="O14" d="M3568 6693l7-42-78-46-7 41z"/>
<path class="O33" d="M3695 6018l57-28-80-40-56 27z"/>
<path class="O15" d="M3575 6651l7-41-78-46-7 41z"/>
<path class="O24" d="M3525 6369l7-68-78-43-7 67z"/>
<path class="O34" d="M3888 6005l56-25-81-40-55 24z"/>
<path class="O17" d="M3582 6610l8-58-79-45-7 57z"/>
<path class="O33" d="M3639 6060l56-42-79-41-56 42z"/>
<path class="O26" d="M3532 6301l7-50-78-43-7 50z"/>
<path class="O27" d="M3539 6251l7-33-78-42-7 32z"/>
<path class="O32" d="M3632 6067l7-7-79-41-7 6z"/>
<path class="O19" d="M3590 6552l7-63-79-45-7 63z"/>
<path class="O32" d="M3624 6073l8-6-79-42-7 7zM3617 6080l7-7-78-41-7 7z"/>
<path class="O34" d="M3832 6031l56-26-80-41-56 26z"/>
<path class="O32" d="M3610 6091l7-11-78-41-7 10z"/>
<path class="O28" d="M3546 6218l7-29-78-42-7 29z"/>
<path class="O31" d="M3603 6101l7-10-78-42-8 11zM3596 6112l7-11-79-41-7 10zM3589 6122l7-10-79-42-7 10z"/>
<path class="O29" d="M3553 6189l7-14-78-42-7 14zM3560 6175l7-15-78-42-7 15z"/>
<path class="O31" d="M3582 6133l7-11-79-42-7 11z"/>
<path class="O30" d="M3567 6160l8-14-79-42-7 14zM3575 6146l7-13-79-42-7 13z"/>
<path class="O22" d="M3597 6489l7-76-79-44-7 75z"/>
<path class="O33" d="M3776 6059l56-28-80-41-57 28z"/>
<path class="O24" d="M3604 6413l7-68-79-44-7 68z"/>
<path class="O33" d="M3719 6102l57-43-81-41-56 42z"/>
<path class="O26" d="M3611 6345l7-51-79-43-7 50z"/>
<path class="O27" d="M3618 6294l7-32-79-44-7 33z"/>
<path class="O32" d="M3712 6108l7-6-80-42-7 7zM3705 6115l7-7-80-41-8 6zM3697 6122l8-7-81-42-7 7zM3690 6133l7-11-80-42-7 11z"/>
<path class="O28" d="M3625 6262l8-30-80-43-7 29z"/>
<path class="O31" d="M3683 6143l7-10-80-42-7 10zM3676 6154l7-11-80-42-7 11zM3669 6165l7-11-80-42-7 10z"/>
<path class="O29" d="M3633 6232l7-14-80-43-7 14zM3640 6218l7-15-80-43-7 15z"/>
<path class="O31" d="M3662 6175l7-10-80-43-7 11z"/>
<path class="O30" d="M3647 6203l7-14-79-43-8 14zM3654 6189l8-14-80-42-7 13z"/>
<path class="p0" d="M3658 6071l90-25-70-37-90 26z"/>
<path class="p0" d="M3566 6097l92-26-70-36-92 25z"/>
<path class="p0" d="M3730 6109l90-26-72-37-90 25z"/>
<path class="p0" d="M3474 6124l92-27-70-37-92 26z"/>
<path class="p0" d="M3638 6135l92-26-72-38-92 26z"/>
<path class="p0" d="M3802 6147l91-27-73-37-90 26z"/>
<path class="p0" d="M3380 6150l94-26-70-38-94 26z"/>
<path class="p0" d="M3545 6162l93-27-72-38-92 27z"/>
<path class="p0" d="M3710 6173l92-26-72-38-92 26z"/>
<path class="p0" d="M3876 6185l91-27-74-38-91 27z"/>
<path class="p0" d="M3285 6177l95-27-70-38-95 27z"/>
<path class="p0" d="M3451 6189l94-27-71-38-94 26z"/>
<path class="p0" d="M3617 6201l93-28-72-38-93 27z"/>
<path class="p0" d="M3784 6212l92-27-74-38-92 26z"/>
<path class="p0" d="M3951 6224l92-27-76-39-91 27z"/>
<path class="p0" d="M3188 6205l97-28-70-38-96 27z"/>
<path class="p0" d="M3355 6216l96-27-71-39-95 27z"/>
<path class="p0" d="M3522 6228l95-27-72-39-94 27z"/>
<path class="p0" d="M3690 6240l94-28-74-39-93 28z"/>
<path class="p0" d="M3859 6252l92-28-75-39-92 27z"/>
<path class="p0" d="M3091 6232l97-27-69-39-97 27z"/>
<path class="p0" d="M4028 6264l91-28-76-39-92 27z"/>
<path class="p0" d="M3258 6244l97-28-70-39-97 28z"/>
<path class="p0" d="M3427 6256l95-28-71-39-96 27z"/>
<path class="p0" d="M3595 6268l95-28-73-39-95 27z"/>
<path class="p0" d="M3765 6280l94-28-75-40-94 28z"/>
<path class="p0" d="M2992 6260l99-28-69-39-99 27z"/>
<path class="p0" d="M3935 6292l93-28-77-40-92 28z"/>
<path class="p0" d="M3160 6272l98-28-70-39-97 27z"/>
<path class="p0" d="M4105 6304l92-28-78-40-91 28z"/>
<path class="p0" d="M3330 6284l97-28-72-40-97 28z"/>
<path class="p0" d="M3499 6297l96-29-73-40-95 28z"/>
<path class="p0" d="M2936 6261l56-1-69-40-56 1z"/>
<path class="p0" d="M3670 6309l95-29-75-40-95 28z"/>
<path class="p0" d="M3841 6321l94-29-76-40-94 28z"/>
<path class="p0" d="M3061 6301l99-29-69-40-99 28z"/>
<path class="p0" d="M2923 6255l13 6-69-40-12-7z"/>
<path class="p0" d="M4012 6333l93-29-77-40-93 28z"/>
<path class="p1" d="M2918 6239l5 16-68-41-5-15z"/>
<path class="p0" d="M3231 6313l99-29-72-40-98 28z"/>
<path class="p0" d="M4184 6346l92-29-79-41-92 28z"/>
<path class="p0" d="M3402 6325l97-28-72-41-97 28z"/>
<path class="p4" d="M2909 6139l9 100-68-40-9-100z"/>
<path class="p0" d="M3573 6338l97-29-75-41-96 29z"/>
<path class="p0" d="M3005 6302l56-1-69-41-56 1z"/>
<path class="p0" d="M3745 6350l96-29-76-41-95 29z"/>
<path class="p0" d="M3918 6362l94-29-77-41-94 29z"/>
<path class="p0" d="M3132 6342l99-29-71-41-99 29z"/>
<path class="p0" d="M2992 6295l13 7-69-41-13-6z"/>
<path class="p0" d="M4090 6375l94-29-79-42-93 29z"/>
<path class="p1" d="M2987 6280l5 15-69-40-5-16z"/>
<path class="p0" d="M3303 6355l99-30-72-41-99 29z"/>
<path class="p4" d="M2898 5977l11 162-68-40-12-160z"/>
<path class="p0" d="M4264 6387l92-29-80-41-92 29z"/>
<path class="p0" d="M3476 6367l97-29-74-41-97 28z"/>
<path class="p4" d="M2979 6179l8 101-69-41-9-100z"/>
<path class="p0" d="M3649 6380l96-30-75-41-97 29z"/>
<path class="p0" d="M3075 6344l57-2-71-41-56 1z"/>
<path class="p0" d="M3822 6392l96-30-77-41-96 29z"/>
<path class="p0" d="M3996 6405l94-30-78-42-94 29z"/>
<path class="p0" d="M3203 6384l100-29-72-42-99 29z"/>
<path class="p0" d="M3062 6337l13 7-70-42-13-7z"/>
<path class="p0" d="M4170 6417l94-30-80-41-94 29z"/>
<path class="p1" d="M3058 6321l4 16-70-42-5-15z"/>
<path class="p0" d="M3377 6397l99-30-74-42-99 30z"/>
<path class="p4" d="M2888 5799l10 178-69-38-11-177z"/>
<path class="p4" d="M2968 6016l11 163-70-40-11-162z"/>
<path class="p0" d="M3551 6409l98-29-76-42-97 29z"/>
<path class="p4" d="M3050 6220l8 101-71-41-8-101z"/>
<path class="p0" d="M3725 6422l97-30-77-42-96 30z"/>
<path class="p0" d="M3147 6386l56-2-71-42-57 2z"/>
<path class="p0" d="M3900 6435l96-30-78-43-96 30z"/>
<path class="p0" d="M4076 6447l94-30-80-42-94 30z"/>
<path class="p0" d="M3276 6427l101-30-74-42-100 29z"/>
<path class="p0" d="M3134 6379l13 7-72-42-13-7z"/>
<path class="p1" d="M3129 6363l5 16-72-42-4-16z"/>
<path class="p0" d="M3451 6440l100-31-75-42-99 30z"/>
<path class="p4" d="M2958 5837l10 179-70-39-10-178z"/>
<path class="p4" d="M3039 6056l11 164-71-41-11-163z"/>
<path class="p0" d="M3627 6452l98-30-76-42-98 29z"/>
<path class="p4" d="M3122 6261l7 102-71-42-8-101z"/>
<path class="p0" d="M3803 6465l97-30-78-43-97 30z"/>
<path class="p0" d="M3220 6429l56-2-73-43-56 2z"/>
<path class="p0" d="M3979 6478l97-31-80-42-96 30z"/>
<path class="p0" d="M3351 6470l100-30-74-43-101 30z"/>
<path class="p0" d="M3207 6422l13 7-73-43-13-7z"/>
<path class="p1" d="M3202 6406l5 16-73-43-5-16z"/>
<path class="p0" d="M3527 6483l100-31-76-43-100 31z"/>
<path class="p4" d="M3030 5876l9 180-71-40-10-179z"/>
<path class="p4" d="M3111 6096l11 165-72-41-11-164z"/>
<path class="p0" d="M3704 6496l99-31-78-43-98 30z"/>
<path class="p4" d="M3195 6303l7 103-73-43-7-102z"/>
<path class="p0" d="M3882 6509l97-31-79-43-97 30z"/>
<path class="p0" d="M3294 6472l57-2-75-43-56 2z"/>
<path class="p0" d="M3426 6515l101-32-76-43-100 30z"/>
<path class="p0" d="M3281 6466l13 6-74-43-13-7z"/>
<path class="p1" d="M3276 6450l5 16-74-44-5-16z"/>
<path class="p0" d="M3604 6528l100-32-77-44-100 31z"/>
<path class="p4" d="M3103 5915l8 181-72-40-9-180z"/>
<path class="p4" d="M3185 6137l10 166-73-42-11-165z"/>
<path class="p0" d="M3783 6541l99-32-79-44-99 31z"/>
<path class="p4" d="M3269 6346l7 104-74-44-7-103z"/>
<path class="p0" d="M3369 6517l57-2-75-45-57 2z"/>
<path class="p0" d="M3503 6559l101-31-77-45-101 32z"/>
<path class="p0" d="M3356 6510l13 7-75-45-13-6z"/>
<path class="p1" d="M3352 6494l4 16-75-44-5-16z"/>
<path class="p0" d="M3683 6573l100-32-79-45-100 32z"/>
<path class="p4" d="M3177 5955l8 182-74-41-8-181z"/>
<path class="p4" d="M3260 6179l9 167-74-43-10-166z"/>
<path class="p4" d="M3345 6390l7 104-76-44-7-104z"/>
<path class="p0" d="M3446 6562l57-3-77-44-57 2z"/>
<path class="p0" d="M3581 6605l102-32-79-45-101 31z"/>
<path class="p0" d="M3433 6555l13 7-77-45-13-7z"/>
<path class="p1" d="M3428 6539l5 16-77-45-4-16z"/>
<path class="p4" d="M3252 5995l8 184-75-42-8-182z"/>
<path class="p4" d="M3336 6222l9 168-76-44-9-167z"/>
<path class="p4" d="M3422 6434l6 105-76-45-7-104z"/>
<path class="p0" d="M3524 6608l57-3-78-46-57 3z"/>
<path class="p0" d="M3511 6601l13 7-78-46-13-7z"/>
<path class="p1" d="M3506 6585l5 16-78-46-5-16z"/>
<path class="p4" d="M3329 6036l7 186-76-43-8-184z"/>
<path class="p4" d="M3414 6265l8 169-77-44-9-168z"/>
<path class="p4" d="M3500 6479l6 106-78-46-6-105z"/>
<path class="p4" d="M3407 6078l7 187-78-43-7-186z"/>
<path class="p4" d="M3493 6309l7 170-78-45-8-169z"/>
<path class="p4" d="M3487 6121l6 188-79-44-7-187z"/><path class="eq" style="stroke:#2e0808" d="M3584 6602l-658-385"/><circle cx="3504" cy="6556" r="32" style="fill:#5a1212"/>
</g>
<text class="tl" x="359.7" y="718.2">0</text>
<text class="tl" x="387.5" y="707.3">10</text>
<text class="tl" x="414.4" y="696.8">20</text>
<text class="tl" x="440.2" y="686.7">30</text>
<text class="al" x="417.2" y="718" transform="rotate(-21 417.2 718)">Copper price ($/kg)</text>
<text class="tl" x="335.4" y="716.7">0</text>
<text class="tl" x="320.2" y="706.7">100</text>
<text class="tl" x="305.5" y="697.1">200</text>
<text class="tl" x="291.3" y="687.7">300</text>
<text class="tl" x="277.5" y="678.7">400</text>
<text class="al" x="284.8" y="709.8" transform="rotate(-327.3 284.8 709.8)">Cobalt price ($/kg)</text>
<text class="tl" x="262.8" y="651">5</text>
<text class="tl" x="261.9" y="630.2">10</text>
<text class="tl" x="261" y="609">15</text>
<text class="tl" x="260" y="587.5">20</text>
<text class="al" x="236.7" y="614.9" transform="rotate(-272.2 236.7 614.9)">Supply (Mt)</text>
<g transform="scale(.1)">
<path fill="#f8f8f8" d="M6706 6675l-770-416 4-801 799 362z"/>
<path fill="#f5f5f5" d="M4986 6578l950-319 4-801-986 278z"/>
<path fill="#f6f6f6" d="M5724 7052l982-377-770-416-950 319z"/>
<path class="gr" d="M5798 7023l-741-469-29-839M6076 6916l-750-452-19-828M6345 6813l-759-436-9-817M6604 6714l-767-422 0-805M6678 5792l-31 851-979 372M6513 5717l-25 840-973 360M6353 5645l-19 829-967 348M6198 5575l-13 818-961 337M6048 5507l-8 808-954 327M4983 6493l954-315 772 411M4978 6350l959-308 778 402M4972 6205l966-301 783 392M4966 6058l973-294 787 383M4961 5909l978-286 793 373M4955 5759l985-279 798 363"/>
<path class="ax" d="M6706 6675l-982 377M4986 6578l738 474M4986 6578l-32-842"/>
<path class="tk" d="M5785 7015l35 22M6063 6908l36 22M6332 6806l35 20M6590 6707l36 19M5685 7009l-46 17M5531 6911l-45 17M5383 6816l-44 16M5240 6725l-44 15M5102 6636l-44 15M4999 6488l-43 14M4994 6345l-44 14M4989 6200l-45 14M4983 6053l-45 14M4977 5904l-45 14M4972 5754l-46 13"/>
<path class="B37" d="M5905 5557l61-18-36-25-61 17zM5942 5583l61-18-37-26-61 18zM5844 5575l61-18-36-26-61 18zM5979 5600l61-18-37-17-61 18zM5881 5601l61-18-37-26-61 18zM5782 5593l62-18-36-26-62 18zM6016 5615l61-18-37-15-61 18zM5917 5618l62-18-37-17-61 18zM5819 5619l62-18-37-26-62 18zM5720 5611l62-18-36-26-62 18zM6054 5630l61-18-38-15-61 18zM5955 5633l61-18-37-15-62 18zM5856 5636l61-18-36-17-62 18zM5757 5638l62-19-37-26-62 18zM5657 5630l63-19-36-26-63 18zM6091 5653l61-19-37-22-61 18zM5992 5649l62-19-38-15-61 18zM5893 5652l62-19-38-15-61 18zM5793 5655l63-19-37-17-62 19zM5694 5656l63-18-37-27-63 19zM5594 5648l63-18-36-27-63 18zM6129 5677l62-19-39-24-61 19zM6030 5672l61-19-37-23-62 19zM5930 5668l62-19-37-16-62 19zM5830 5671l63-19-37-16-63 19zM5730 5674l63-19-36-17-63 18zM5630 5675l64-19-37-26-63 18zM5530 5667l64-19-36-27-64 19zM6168 5705l61-19-38-28-62 19zM6068 5696l61-19-38-24-61 19zM5967 5691l63-19-38-23-62 19zM5867 5687l63-19-37-16-63 19zM5767 5690l63-19-37-16-63 19zM5667 5693l63-19-36-18-64 19zM5566 5694l64-19-36-27-64 19zM5466 5685l64-18-36-27-64 18z"/>
<path class="B36" d="M6206 5737l61-19-38-32-61 19z"/>
<path class="B37" d="M6106 5723l62-18-39-28-61 19zM5452 5689l14-4-36-27-13 4zM6005 5715l63-19-38-24-63 19zM5905 5710l62-19-37-23-63 19zM5804 5706l63-19-37-16-63 19zM5703 5709l64-19-37-16-63 19zM5603 5712l64-19-37-18-64 19zM5439 5693l13-4-35-27-14 4zM5502 5713l64-19-36-27-64 18zM5425 5697l14-4-36-27-14 4z"/>
<path class="B36" d="M6245 5769l61-19-39-32-61 19z"/>
<path class="B37" d="M5411 5704l14-7-36-27-13 4z"/>
<path class="B36" d="M6144 5756l62-19-38-32-62 18z"/>
<path class="B37" d="M5398 5708l13-4-35-30-14 4zM5488 5717l14-4-36-28-14 4zM6043 5743l63-20-38-27-63 19zM5384 5712l14-4-36-30-14 4zM5942 5734l63-19-38-24-62 19zM5475 5721l13-4-36-28-13 4zM5841 5729l64-19-38-23-63 19zM5740 5725l64-19-37-16-64 19zM5639 5728l64-19-36-16-64 19zM5538 5731l65-19-37-18-64 19zM5370 5716l14-4-36-30-14 4zM5461 5725l14-4-36-28-14 4z"/>
<path class="B36" d="M6284 5801l61-20-39-31-61 19z"/>
<path class="B37" d="M5356 5720l14-4-36-30-13 4zM5447 5731l14-6-36-28-14 7z"/>
<path class="B36" d="M6183 5788l62-19-39-32-62 19z"/>
<path class="B37" d="M5342 5725l14-5-35-30-14 4zM5434 5735l13-4-36-27-13 4z"/>
<path class="B36" d="M6082 5775l62-19-38-33-63 20z"/>
<path class="B37" d="M5524 5735l14-4-36-18-14 4zM5329 5729l13-4-35-31-14 4zM5420 5740l14-5-36-27-14 4zM5981 5762l62-19-38-28-63 19zM5511 5739l13-4-36-18-13 4zM5879 5753l63-19-37-24-64 19zM5315 5734l14-5-36-31-14 4zM5406 5744l14-4-36-28-14 4zM5778 5748l63-19-37-23-64 19zM5676 5744l64-19-37-16-64 19zM5575 5747l64-19-36-16-65 19zM5497 5743l14-4-36-18-14 4z"/>
<path class="B35" d="M6323 5832l62-20-40-31-61 20z"/>
<path class="B37" d="M5301 5739l14-5-36-32-14 4zM5392 5748l14-4-36-28-14 4zM5483 5751l14-8-36-18-14 6z"/>
<path class="B36" d="M6222 5821l62-20-39-32-62 19z"/>
<path class="B37" d="M5287 5745l14-6-36-33-14 4zM5378 5753l14-5-36-28-14 5z"/>
<path class="B36" d="M6120 5808l63-20-39-32-62 19z"/>
<path class="B37" d="M5470 5755l13-4-36-20-13 4zM5273 5749l14-4-36-35-14 4zM5364 5757l14-4-36-28-13 4zM5561 5751l14-4-37-16-14 4z"/>
<path class="B36" d="M6019 5795l63-20-39-32-62 19z"/>
<path class="B37" d="M5456 5760l14-5-36-20-14 5zM5259 5754l14-5-36-35-13 4zM5917 5781l64-19-39-28-63 19zM5351 5762l13-5-35-28-14 5zM5547 5755l14-4-37-16-13 4zM5442 5764l14-4-36-20-14 4zM5815 5773l64-20-38-24-63 19z"/>
<path class="B35" d="M6362 5879l62-20-39-47-62 20z"/>
<path class="B37" d="M5245 5758l14-4-35-36-14 4zM5713 5768l65-20-38-23-64 19zM5337 5768l14-6-36-28-14 5zM5611 5764l65-20-37-16-64 19zM5533 5760l14-5-36-16-14 4zM5428 5769l14-5-36-20-14 4z"/>
<path class="B35" d="M6261 5852l62-20-39-31-62 20z"/>
<path class="B37" d="M5231 5764l14-6-35-36-14 6zM5323 5774l14-6-36-29-14 6z"/>
<path class="B30" d="M6415 6049l61-20-7-36-61 20zM6423 6058l61-20-8-9-61 20z"/>
<path class="B37" d="M5520 5768l13-8-36-17-14 8z"/>
<path class="B24" d="M6499 6289l61-22-8-20-61 22z"/>
<path class="B34" d="M6370 5896l62-20-8-17-62 20z"/>
<path class="B25" d="M6491 6269l61-22-7-31-61 22z"/>
<path class="B36" d="M6159 5840l63-19-39-33-63 20z"/>
<path class="B37" d="M5414 5773l14-4-36-21-14 5z"/>
<path class="B34" d="M6378 5912l61-20-7-16-62 20z"/>
<path class="B31" d="M6408 6013l61-20-7-36-61 20z"/>
<path class="B37" d="M5217 5773l14-9-35-36-14 9z"/>
<path class="B24" d="M6507 6293l61-22-8-4-61 22z"/>
<path class="B37" d="M5309 5778l14-4-36-29-14 4z"/>
<path class="B30" d="M6431 6060l61-21-8-1-61 20z"/>
<path class="B33" d="M6386 5929l61-20-8-17-61 20z"/>
<path class="B37" d="M5506 5773l14-5-37-17-13 4z"/>
<path class="B26" d="M6484 6238l61-22-7-47-61 21z"/>
<path class="B32" d="M6401 5977l61-20-7-32-62 20z"/>
<path class="B36" d="M6057 5828l63-20-38-33-63 20z"/>
<path class="B33" d="M6393 5945l62-20-8-16-61 20z"/>
<path class="B22" d="M6537 6379l61-23-8-19-60 24z"/>
<path class="B37" d="M5400 5778l14-5-36-20-14 4zM5203 5782l14-9-35-36-14 9z"/>
<path class="B22" d="M6545 6398l61-23-8-19-61 23z"/>
<path class="B24" d="M6515 6298l61-23-8-4-61 22z"/>
<path class="B23" d="M6530 6361l60-24-7-37-61 22z"/>
<path class="B37" d="M5295 5783l14-5-36-29-14 5z"/>
<path class="B30" d="M6439 6062l62-21-9-2-61 21z"/>
<path class="B37" d="M5598 5768l13-4-36-17-14 4z"/>
<path class="B36" d="M5955 5814l64-19-38-33-64 19z"/>
<path class="B37" d="M5492 5777l14-4-36-18-14 5z"/>
<path class="B24" d="M6522 6322l61-22-7-25-61 23z"/>
<path class="B37" d="M5189 5791l14-9-35-36-14 8zM5387 5783l13-5-36-21-13 5zM5853 5801l64-20-38-28-64 20zM5281 5787l14-4-36-29-14 4z"/>
<path class="B30" d="M6447 6064l62-21-8-2-62 21z"/>
<path class="B37" d="M5175 5800l14-9-35-37-14 9zM5584 5772l14-4-37-17-14 4zM5478 5782l14-5-36-17-14 4z"/>
<path class="B28" d="M6477 6190l61-21-6-80-61 21z"/>
<path class="B37" d="M5751 5792l64-19-37-25-65 20zM5373 5790l14-7-36-21-14 6z"/>
<path class="B35" d="M6300 5899l62-20-39-47-62 20z"/>
<path class="B37" d="M5648 5787l65-19-37-24-65 20zM5267 5794l14-7-36-29-14 6zM5161 5808l14-8-35-37-14 8z"/>
<path class="B30" d="M6456 6066l61-21-8-2-62 21z"/>
<path class="B37" d="M5570 5776l14-4-37-17-14 5zM5464 5787l14-5-36-18-14 5zM5359 5798l14-8-36-22-14 6z"/>
<path class="B35" d="M6199 5872l62-20-39-31-63 19z"/>
<path class="B37" d="M5253 5803l14-9-36-30-14 9z"/>
<path class="B36" d="M5147 5816l14-8-35-37-14 8z"/>
<path class="B30" d="M6353 6069l62-20-7-36-62 20zM6464 6075l61-21-8-9-61 21zM6361 6078l62-20-8-9-62 20z"/>
<path class="B29" d="M6471 6110l61-21-7-35-61 21z"/>
<path class="B37" d="M5556 5786l14-10-37-16-13 8z"/>
<path class="B24" d="M6437 6311l62-22-8-20-61 22z"/>
<path class="B37" d="M5450 5791l14-4-36-18-14 4z"/>
<path class="B34" d="M6308 5916l62-20-8-17-62 20z"/>
<path class="B25" d="M6430 6291l61-22-7-31-62 21z"/>
<path class="B37" d="M5345 5802l14-4-36-24-14 4z"/>
<path class="B35" d="M6096 5861l63-21-39-32-63 20z"/>
<path class="B37" d="M5239 5812l14-9-36-30-14 9z"/>
<path class="B34" d="M6316 5932l62-20-8-16-62 20z"/>
<path class="B31" d="M6346 6033l62-20-7-36-62 20z"/>
<path class="B36" d="M5133 5825l14-9-35-37-14 7z"/>
<path class="B24" d="M6445 6316l62-23-8-4-62 22z"/>
<path class="B30" d="M6369 6080l62-20-8-2-62 20z"/>
<path class="B33" d="M6324 5949l62-20-8-17-62 20z"/>
<path class="B37" d="M5542 5790l14-4-36-18-14 5z"/>
<path class="B26" d="M6422 6259l62-21-7-48-62 21z"/>
<path class="B32" d="M6339 5997l62-20-8-32-62 20z"/>
<path class="B37" d="M5437 5796l13-5-36-18-14 5z"/>
<path class="B36" d="M5994 5847l63-19-38-33-64 19z"/>
<path class="B33" d="M6331 5965l62-20-7-16-62 20z"/>
<path class="B37" d="M5331 5807l14-5-36-24-14 5z"/>
<path class="B22" d="M6476 6403l61-24-7-18-62 23z"/>
<path class="B36" d="M5225 5821l14-9-36-30-14 9zM5119 5833l14-8-35-39-14 6z"/>
<path class="B22" d="M6484 6422l61-24-8-19-61 24z"/>
<path class="B23" d="M6468 6384l62-23-8-39-61 23z"/>
<path class="B24" d="M6453 6320l62-22-8-5-62 23z"/>
<path class="B37" d="M5635 5792l13-5-37-23-13 4z"/>
<path class="B30" d="M6377 6083l62-21-8-2-62 20z"/>
<path class="B37" d="M5529 5795l13-5-36-17-14 4z"/>
<path class="B24" d="M6461 6345l61-23-7-24-62 22z"/>
<path class="B36" d="M5891 5834l64-20-38-33-64 20zM5211 5829l14-8-36-30-14 9z"/>
<path class="B37" d="M5423 5801l14-5-37-18-13 5zM5317 5812l14-5-36-24-14 4z"/>
<path class="B36" d="M5105 5842l14-9-35-41-14 7z"/>
<path class="B37" d="M5789 5821l64-20-38-28-64 19zM5621 5796l14-4-37-24-14 4z"/>
<path class="B30" d="M6386 6085l61-21-8-2-62 21z"/>
<path class="B37" d="M5515 5800l14-5-37-18-14 5z"/>
<path class="B36" d="M5197 5837l14-8-36-29-14 8z"/>
<path class="B37" d="M5409 5809l14-8-36-18-14 7z"/>
<path class="B28" d="M6415 6211l62-21-6-80-62 21z"/>
<path class="B37" d="M5303 5818l14-6-36-25-14 7zM5686 5812l65-20-38-24-65 19z"/>
<path class="B35" d="M6238 5919l62-20-39-47-62 20z"/>
<path class="B36" d="M5183 5846l14-9-36-29-14 8z"/>
<path class="B37" d="M5607 5800l14-4-37-24-14 4zM5395 5817l14-8-36-19-14 8zM5501 5804l14-4-37-18-14 5z"/>
<path class="B30" d="M6394 6087l62-21-9-2-61 21z"/>
<path class="B36" d="M5289 5827l14-9-36-24-14 9z"/>
<path class="B35" d="M6135 5892l64-20-40-32-63 21z"/>
<path class="B36" d="M5169 5855l14-9-36-30-14 9z"/>
<path class="B37" d="M5593 5809l14-9-37-24-14 10z"/>
<path class="B30" d="M6291 6090l62-21-7-36-62 21zM6402 6096l62-21-8-9-62 21zM6299 6099l62-21-8-9-62 21z"/>
<path class="B36" d="M5275 5837l14-10-36-24-14 9z"/>
<path class="B37" d="M5381 5821l14-4-36-19-14 4z"/>
<path class="B29" d="M6409 6131l62-21-7-35-62 21z"/>
<path class="B37" d="M5487 5809l14-5-37-17-14 4z"/>
<path class="B24" d="M6375 6334l62-23-7-20-63 22z"/>
<path class="B34" d="M6246 5936l62-20-8-17-62 20z"/>
<path class="B25" d="M6367 6313l63-22-8-32-62 22z"/>
<path class="B35" d="M6033 5881l63-20-39-33-63 19z"/>
<path class="B36" d="M5155 5864l14-9-36-30-14 8z"/>
<path class="B34" d="M6253 5953l63-21-8-16-62 20z"/>
<path class="B31" d="M6284 6054l62-21-7-36-63 21z"/>
<path class="B24" d="M6383 6339l62-23-8-5-62 23z"/>
<path class="B37" d="M5579 5813l14-4-37-23-14 4z"/>
<path class="B36" d="M5261 5846l14-9-36-25-14 9z"/>
<path class="B30" d="M6307 6101l62-21-8-2-62 21z"/>
<path class="B33" d="M6261 5969l63-20-8-17-63 21z"/>
<path class="B37" d="M5367 5826l14-5-36-19-14 5zM5473 5814l14-5-37-18-13 5z"/>
<path class="B26" d="M6360 6281l62-22-7-48-62 22z"/>
<path class="B32" d="M6276 6018l63-21-8-32-62 21z"/>
<path class="B36" d="M5930 5867l64-20-39-33-64 20z"/>
<path class="B33" d="M6269 5986l62-21-7-16-63 20z"/>
<path class="B22" d="M6414 6427l62-24-8-19-62 23z"/>
<path class="B36" d="M5141 5873l14-9-36-31-14 9z"/>
<path class="B37" d="M5672 5816l14-4-38-25-13 5z"/>
<path class="B22" d="M6422 6446l62-24-8-19-62 24z"/>
<path class="B23" d="M6406 6407l62-23-7-39-62 23z"/>
<path class="B24" d="M6391 6343l62-23-8-4-62 23z"/>
<path class="B36" d="M5247 5854l14-8-36-25-14 8z"/>
<path class="B37" d="M5566 5818l13-5-37-23-13 5z"/>
<path class="B30" d="M6315 6103l62-20-8-3-62 21z"/>
<path class="B24" d="M6399 6368l62-23-8-25-62 23z"/>
<path class="B37" d="M5353 5831l14-5-36-19-14 5z"/>
<path class="B36" d="M5827 5854l64-20-38-33-64 20z"/>
<path class="B37" d="M5459 5820l14-6-36-18-14 5zM5658 5820l14-4-37-24-14 4z"/>
<path class="B36" d="M5233 5863l14-9-36-25-14 8z"/>
<path class="B37" d="M5552 5822l14-4-37-23-14 5zM5724 5841l65-20-38-29-65 20z"/>
<path class="B30" d="M6323 6106l63-21-9-2-62 20z"/>
<path class="B37" d="M5445 5828l14-8-36-19-14 8z"/>
<path class="B36" d="M5339 5838l14-7-36-19-14 6z"/>
<path class="B28" d="M6353 6233l62-22-6-80-62 21z"/>
<path class="B36" d="M5219 5871l14-8-36-26-14 9z"/>
<path class="B35" d="M6175 5940l63-21-39-47-64 20z"/>
<path class="B37" d="M5644 5825l14-5-37-24-14 4zM5538 5827l14-5-37-22-14 4z"/>
<path class="B36" d="M5325 5847l14-9-36-20-14 9z"/>
<path class="B37" d="M5431 5836l14-8-36-19-14 8z"/>
<path class="B30" d="M6331 6108l63-21-8-2-63 21z"/>
<path class="B36" d="M5205 5881l14-10-36-25-14 9z"/>
<path class="B37" d="M5631 5832l13-7-37-25-14 9z"/>
<path class="B35" d="M6072 5912l63-20-39-31-63 20z"/>
<path class="B36" d="M5311 5857l14-10-36-20-14 10z"/>
<path class="B37" d="M5417 5841l14-5-36-19-14 4zM5524 5832l14-5-37-23-14 5z"/>
<path class="B35" d="M5190 5891l15-10-36-26-14 9z"/>
<path class="B30" d="M6339 6117l63-21-8-9-63 21zM6228 6110l63-20-7-36-63 20z"/>
<path class="B29" d="M6347 6152l62-21-7-35-63 21z"/>
<path class="B30" d="M6236 6120l63-21-8-9-63 20z"/>
<path class="B24" d="M6313 6356l62-22-8-21-62 22z"/>
<path class="B34" d="M6182 5956l64-20-8-17-63 21z"/>
<path class="B25" d="M6305 6335l62-22-7-32-63 22z"/>
<path class="B35" d="M5969 5901l64-20-39-34-64 20z"/>
<path class="B37" d="M5617 5836l14-4-38-23-14 4z"/>
<path class="B36" d="M5297 5866l14-9-36-20-14 9z"/>
<path class="B34" d="M6190 5973l63-20-7-17-64 20z"/>
<path class="B24" d="M6321 6362l62-23-8-5-62 22z"/>
<path class="B31" d="M6221 6074l63-20-8-36-63 20z"/>
<path class="B35" d="M5176 5901l14-10-35-27-14 9z"/>
<path class="B37" d="M5710 5845l14-4-38-29-14 4zM5403 5846l14-5-36-20-14 5zM5510 5836l14-4-37-23-14 5z"/>
<path class="B30" d="M6244 6122l63-21-8-2-63 21z"/>
<path class="B33" d="M6198 5990l63-21-8-16-63 20z"/>
<path class="B26" d="M6297 6303l63-22-7-48-63 21z"/>
<path class="B32" d="M6213 6038l63-20-7-32-63 20z"/>
<path class="B22" d="M6351 6450l63-23-8-20-62 24z"/>
<path class="B36" d="M5865 5888l65-21-39-33-64 20z"/>
<path class="B33" d="M6206 6006l63-20-8-17-63 21z"/>
<path class="B36" d="M5283 5875l14-9-36-20-14 8z"/>
<path class="B22" d="M6359 6470l63-24-8-19-63 23z"/>
<path class="B37" d="M5603 5841l14-5-38-23-13 5z"/>
<path class="B23" d="M6344 6431l62-24-7-39-63 24z"/>
<path class="B24" d="M6329 6366l62-23-8-4-62 23z"/>
<path class="B36" d="M5389 5851l14-5-36-20-14 5z"/>
<path class="B37" d="M5496 5842l14-6-37-22-14 6zM5696 5849l14-4-38-29-14 4z"/>
<path class="B30" d="M6252 6124l63-21-8-2-63 21z"/>
<path class="B24" d="M6336 6392l63-24-8-25-62 23z"/>
<path class="B36" d="M5762 5874l65-20-38-33-65 20zM5269 5883l14-8-36-21-14 9z"/>
<path class="B37" d="M5589 5845l14-4-37-23-14 4zM5482 5850l14-8-37-22-14 8z"/>
<path class="B36" d="M5375 5858l14-7-36-20-14 7z"/>
<path class="B37" d="M5682 5853l14-4-38-29-14 5z"/>
<path class="B36" d="M5254 5892l15-9-36-20-14 8z"/>
<path class="B30" d="M6260 6127l63-21-8-3-63 21z"/>
<path class="B28" d="M6290 6254l63-21-6-81-63 22z"/>
<path class="B35" d="M6111 5960l64-20-40-48-63 20z"/>
<path class="B37" d="M5575 5850l14-5-37-23-14 5zM5468 5857l14-7-37-22-14 8z"/>
<path class="B36" d="M5361 5867l14-9-36-20-14 9zM5240 5902l14-10-35-21-14 10z"/>
<path class="B37" d="M5668 5858l14-5-38-28-13 7z"/>
<path class="B30" d="M6268 6129l63-21-8-2-63 21z"/>
<path class="B36" d="M5347 5877l14-10-36-20-14 10z"/>
<path class="B37" d="M5561 5855l14-5-37-23-14 5z"/>
<path class="B35" d="M6008 5933l64-21-39-31-64 20zM5226 5912l14-10-35-21-15 10z"/>
<path class="B36" d="M5454 5862l14-5-37-21-14 5z"/>
<path class="B37" d="M5654 5863l14-5-37-26-14 4z"/>
<path class="B30" d="M6276 6138l63-21-8-9-63 21zM6165 6131l63-21-7-36-64 21z"/>
<path class="B29" d="M6284 6174l63-22-8-35-63 21z"/>
<path class="B30" d="M6173 6141l63-21-8-10-63 21z"/>
<path class="B24" d="M6250 6379l63-23-8-21-63 23z"/>
<path class="B36" d="M5748 5878l14-4-38-33-14 4z"/>
<path class="B34" d="M6119 5977l63-21-7-16-64 20z"/>
<path class="B25" d="M6242 6358l63-23-8-32-63 22z"/>
<path class="B36" d="M5333 5886l14-9-36-20-14 9z"/>
<path class="B35" d="M5212 5922l14-10-36-21-14 10zM5904 5922l65-21-39-34-65 21z"/>
<path class="B37" d="M5547 5859l14-4-37-23-14 4z"/>
<path class="B34" d="M6127 5994l63-21-8-17-63 21z"/>
<path class="B24" d="M6258 6385l63-23-8-6-63 23z"/>
<path class="B31" d="M6157 6095l64-21-8-36-63 21z"/>
<path class="B36" d="M5440 5867l14-5-37-21-14 5z"/>
<path class="B30" d="M6181 6143l63-21-8-2-63 21z"/>
<path class="B33" d="M6134 6010l64-20-8-17-63 21z"/>
<path class="B37" d="M5640 5867l14-4-37-27-14 5z"/>
<path class="B36" d="M5319 5895l14-9-36-20-14 9z"/>
<path class="B26" d="M6234 6325l63-22-7-49-63 22z"/>
<path class="B22" d="M6288 6474l63-24-7-19-63 24z"/>
<path class="B36" d="M5734 5883l14-5-38-33-14 4z"/>
<path class="B32" d="M6150 6059l63-21-7-32-64 21z"/>
<path class="B36" d="M5800 5908l65-20-38-34-65 20z"/>
<path class="B33" d="M6142 6027l64-21-8-16-64 20z"/>
<path class="B22" d="M6296 6494l63-24-8-20-63 24z"/>
<path class="B23" d="M6281 6455l63-24-8-39-63 23z"/>
<path class="B24" d="M6266 6390l63-24-8-4-63 23z"/>
<path class="B37" d="M5533 5864l14-5-37-23-14 6z"/>
<path class="B36" d="M5426 5872l14-5-37-21-14 5z"/>
<path class="B24" d="M6273 6415l63-23-7-26-63 24z"/>
<path class="B36" d="M5305 5904l14-9-36-20-14 8z"/>
<path class="B30" d="M6189 6146l63-22-8-2-63 21z"/>
<path class="B37" d="M5627 5871l13-4-37-26-14 4z"/>
<path class="B36" d="M5720 5887l14-4-38-34-14 4z"/>
<path class="B37" d="M5519 5871l14-7-37-22-14 8z"/>
<path class="B36" d="M5412 5879l14-7-37-21-14 7zM5291 5913l14-9-36-21-15 9z"/>
<path class="B30" d="M6197 6148l63-21-8-3-63 22z"/>
<path class="B37" d="M5613 5876l14-5-38-26-14 5z"/>
<path class="B36" d="M5706 5891l14-4-38-34-14 5z"/>
<path class="B28" d="M6227 6276l63-22-6-80-64 21z"/>
<path class="B35" d="M6047 5981l64-21-39-48-64 21z"/>
<path class="B37" d="M5505 5878l14-7-37-21-14 7z"/>
<path class="B36" d="M5398 5888l14-9-37-21-14 9z"/>
<path class="B35" d="M5276 5923l15-10-37-21-14 10z"/>
<path class="B30" d="M6205 6150l63-21-8-2-63 21z"/>
<path class="B37" d="M5599 5880l14-4-38-26-14 5z"/>
<path class="B36" d="M5786 5912l14-4-38-34-14 4zM5384 5897l14-9-37-21-14 10zM5692 5895l14-4-38-33-14 5z"/>
<path class="B35" d="M5262 5934l14-11-36-21-14 10z"/>
<path class="B36" d="M5491 5883l14-5-37-21-14 5z"/>
<path class="B35" d="M5943 5954l65-21-39-32-65 21z"/>
<path class="B30" d="M6213 6160l63-22-8-9-63 21z"/>
<path class="B29" d="M6220 6195l64-21-8-36-63 22z"/>
<path class="B30" d="M6101 6152l64-21-8-36-64 21z"/>
<path class="B35" d="M5248 5944l14-10-36-22-14 10z"/>
<path class="B30" d="M6109 6162l64-21-8-10-64 21z"/>
<path class="B24" d="M6186 6402l64-23-8-21-64 22z"/>
<path class="B36" d="M5369 5907l15-10-37-20-14 9z"/>
<path class="B37" d="M5585 5885l14-5-38-25-14 4z"/>
<path class="B34" d="M6055 5998l64-21-8-17-64 21z"/>
<path class="B25" d="M6178 6380l64-22-8-33-63 23z"/>
<path class="B36" d="M5772 5917l14-5-38-34-14 5z"/>
<path class="B35" d="M5838 5943l66-21-39-34-65 20z"/>
<path class="B36" d="M5678 5900l14-5-38-32-14 4zM5477 5887l14-4-37-21-14 5z"/>
<path class="B24" d="M6194 6408l64-23-8-6-64 23z"/>
<path class="B34" d="M6062 6014l65-20-8-17-64 21z"/>
<path class="B31" d="M6093 6116l64-21-7-36-64 21z"/>
<path class="B36" d="M5355 5916l14-9-36-21-14 9z"/>
<path class="B33" d="M6070 6031l64-21-7-16-65 20z"/>
<path class="B30" d="M6117 6165l64-22-8-2-64 21z"/>
<path class="B22" d="M6225 6499l63-25-7-19-64 24z"/>
<path class="B26" d="M6171 6348l63-23-7-49-64 22z"/>
<path class="B37" d="M5571 5890l14-5-38-26-14 5z"/>
<path class="B32" d="M6086 6080l64-21-8-32-64 21z"/>
<path class="B33" d="M6078 6048l64-21-8-17-64 21z"/>
<path class="B22" d="M6233 6518l63-24-8-20-63 25z"/>
<path class="B36" d="M5758 5921l14-4-38-34-14 4zM5664 5904l14-4-38-33-13 4z"/>
<path class="B23" d="M6217 6479l64-24-8-40-63 24z"/>
<path class="B36" d="M5463 5892l14-5-37-20-14 5z"/>
<path class="B24" d="M6202 6413l64-23-8-5-64 23z"/>
<path class="B36" d="M5341 5924l14-8-36-21-14 9z"/>
<path class="B24" d="M6210 6439l63-24-7-25-64 23z"/>
<path class="B30" d="M6125 6167l64-21-8-3-64 22z"/>
<path class="B36" d="M5557 5895l14-5-38-26-14 7zM5745 5925l13-4-38-34-14 4zM5449 5899l14-7-37-20-14 7zM5651 5908l13-4-37-33-14 5zM5327 5933l14-9-36-20-14 9z"/>
<path class="B30" d="M6133 6170l64-22-8-2-64 21z"/>
<path class="B36" d="M5542 5900l15-5-38-24-14 7z"/>
<path class="B28" d="M6163 6298l64-22-7-81-64 22z"/>
<path class="B36" d="M5435 5908l14-9-37-20-14 9z"/>
<path class="B35" d="M5313 5943l14-10-36-20-15 10zM5825 5947l13-4-38-35-14 4z"/>
<path class="B34" d="M5982 6002l65-21-39-48-65 21z"/>
<path class="B36" d="M5731 5929l14-4-39-34-14 4zM5637 5913l14-5-38-32-14 4z"/>
<path class="B30" d="M6141 6172l64-22-8-2-64 22z"/>
<path class="B36" d="M5420 5917l15-9-37-20-14 9z"/>
<path class="B35" d="M5299 5953l14-10-37-20-14 11z"/>
<path class="B36" d="M5528 5905l14-5-37-22-14 5z"/>
<path class="B35" d="M5811 5951l14-4-39-35-14 5z"/>
<path class="B36" d="M5717 5933l14-4-39-34-14 5z"/>
<path class="B35" d="M5877 5975l66-21-39-32-66 21z"/>
<path class="B36" d="M5622 5917l15-4-38-33-14 5z"/>
<path class="B35" d="M5284 5963l15-10-37-19-14 10z"/>
<path class="B36" d="M5406 5926l14-9-36-20-15 10z"/>
<path class="B30" d="M6149 6181l64-21-8-10-64 22z"/>
<path class="B29" d="M6156 6217l64-22-7-35-64 21z"/>
<path class="B30" d="M6036 6173l65-21-8-36-64 21z"/>
<path class="B24" d="M6122 6426l64-24-8-22-64 23z"/>
<path class="B30" d="M6044 6183l65-21-8-10-65 21z"/>
<path class="B36" d="M5514 5909l14-4-37-22-14 4z"/>
<path class="B25" d="M6114 6403l64-23-7-32-65 22z"/>
<path class="B34" d="M5990 6019l65-21-8-17-65 21z"/>
<path class="B35" d="M5797 5956l14-5-39-34-14 4z"/>
<path class="B24" d="M6130 6431l64-23-8-6-64 24z"/>
<path class="B36" d="M5703 5938l14-5-39-33-14 4zM5608 5922l14-5-37-32-14 5z"/>
<path class="B34" d="M5998 6035l64-21-7-16-65 21z"/>
<path class="B31" d="M6029 6137l64-21-7-36-65 21z"/>
<path class="B36" d="M5392 5935l14-9-37-19-14 9z"/>
<path class="B33" d="M6005 6052l65-21-8-17-64 21z"/>
<path class="B30" d="M6052 6186l65-21-8-3-65 21z"/>
<path class="B22" d="M6161 6523l64-24-8-20-64 24z"/>
<path class="B26" d="M6106 6370l65-22-8-50-64 22z"/>
<path class="B22" d="M6169 6543l64-25-8-19-64 24z"/>
<path class="B32" d="M6021 6101l65-21-8-32-65 21z"/>
<path class="B36" d="M5500 5914l14-5-37-22-14 5z"/>
<path class="B33" d="M6013 6069l65-21-8-17-65 21z"/>
<path class="B23" d="M6153 6503l64-24-7-40-65 24z"/>
<path class="B35" d="M5783 5967l14-11-39-35-13 4z"/>
<path class="B24" d="M6138 6437l64-24-8-5-64 23z"/>
<path class="B36" d="M5378 5943l14-8-37-19-14 8zM5594 5927l14-5-37-32-14 5zM5689 5942l14-4-39-34-13 4z"/>
<path class="B24" d="M6145 6463l65-24-8-26-64 24z"/>
<path class="B30" d="M6060 6189l65-22-8-2-65 21z"/>
<path class="B36" d="M5486 5921l14-7-37-22-14 7z"/>
<path class="B35" d="M5769 5972l14-5-38-42-14 4z"/>
<path class="B36" d="M5364 5952l14-9-37-19-14 9z"/>
<path class="B35" d="M5864 5979l13-4-39-32-13 4z"/>
<path class="B36" d="M5580 5932l14-5-37-32-15 5zM5675 5946l14-4-38-34-14 5z"/>
<path class="B30" d="M6068 6191l65-21-8-3-65 22z"/>
<path class="B36" d="M5472 5929l14-8-37-22-14 9z"/>
<path class="B35" d="M5349 5961l15-9-37-19-14 10z"/>
<path class="B28" d="M6099 6320l64-22-7-81-64 22z"/>
<path class="B34" d="M5916 6023l66-21-39-48-66 21z"/>
<path class="B35" d="M5755 5977l14-5-38-43-14 4zM5850 5983l14-4-39-32-14 4z"/>
<path class="B36" d="M5566 5936l14-4-38-32-14 5zM5661 5951l14-5-38-33-15 4zM5458 5938l14-9-37-21-15 9z"/>
<path class="B35" d="M5335 5971l14-10-36-18-14 10z"/>
<path class="B30" d="M6076 6194l65-22-8-2-65 21z"/>
<path class="B35" d="M5741 5982l14-5-38-44-14 5zM5836 5988l14-5-39-32-14 5z"/>
<path class="B36" d="M5552 5941l14-5-38-31-14 4zM5443 5947l15-9-38-21-14 9zM5647 5956l14-5-39-34-14 5z"/>
<path class="B35" d="M5321 5981l14-10-36-18-15 10z"/>
<path class="B30" d="M6084 6203l65-22-8-9-65 22z"/>
<path class="B29" d="M6092 6239l64-22-7-36-65 22z"/>
<path class="B24" d="M6057 6449l65-23-8-23-65 23z"/>
<path class="B30" d="M5971 6195l65-22-7-36-66 22zM5979 6205l65-22-8-10-65 22z"/>
<path class="B25" d="M6049 6426l65-23-8-33-65 23z"/>
<path class="B34" d="M5924 6040l66-21-8-17-66 21z"/>
<path class="B24" d="M6065 6455l65-24-8-5-65 23z"/>
<path class="B35" d="M5727 5987l14-5-38-44-14 4zM5822 5998l14-10-39-32-14 11z"/>
<path class="B36" d="M5429 5956l14-9-37-21-14 9z"/>
<path class="B34" d="M5932 6057l66-22-8-16-66 21z"/>
<path class="B31" d="M5963 6159l66-22-8-36-65 21z"/>
<path class="B36" d="M5538 5946l14-5-38-32-14 5zM5633 5961l14-5-39-34-14 5z"/>
<path class="B33" d="M5940 6073l65-21-7-17-66 22z"/>
<path class="B30" d="M5987 6208l65-22-8-3-65 22z"/>
<path class="B22" d="M6096 6548l65-25-8-20-65 25z"/>
<path class="B21" d="M6104 6568l65-25-8-20-65 25z"/>
<path class="B26" d="M6041 6393l65-23-7-50-65 23z"/>
<path class="B32" d="M5956 6122l65-21-8-32-65 21z"/>
<path class="B33" d="M5948 6090l65-21-8-17-65 21z"/>
<path class="B23" d="M6088 6528l65-25-8-40-64 24z"/>
<path class="B34" d="M5903 6028l13-5-39-48-13 4z"/>
<path class="B24" d="M6073 6461l65-24-8-6-65 24z"/>
<path class="B36" d="M5415 5964l14-8-37-21-14 8z"/>
<path class="B35" d="M5808 6003l14-5-39-31-14 5zM5713 5992l14-5-38-45-14 4z"/>
<path class="B36" d="M5524 5952l14-6-38-32-14 7z"/>
<path class="B24" d="M6081 6487l64-24-7-26-65 24z"/>
<path class="B36" d="M5618 5967l15-6-39-34-14 5z"/>
<path class="B30" d="M5995 6211l65-22-8-3-65 22z"/>
<path class="B36" d="M5401 5972l14-8-37-21-14 9z"/>
<path class="B34" d="M5889 6032l14-4-39-49-14 4z"/>
<path class="B35" d="M5794 6008l14-5-39-31-14 5zM5699 5997l14-5-38-46-14 5z"/>
<path class="B36" d="M5509 5961l15-9-38-31-14 8zM5604 5972l14-5-38-35-14 4z"/>
<path class="B30" d="M6003 6213l65-22-8-2-65 22z"/>
<path class="B24" d="M6043 6454l14-5-8-23-14 5z"/>
<path class="B30" d="M5957 6199l14-4-8-36-13 4z"/>
<path class="B35" d="M5386 5981l15-9-37-20-15 9z"/>
<path class="B30" d="M5965 6209l14-4-8-10-14 4z"/>
<path class="B25" d="M6035 6431l14-5-8-33-13 5z"/>
<path class="B34" d="M5910 6044l14-4-8-17-13 5z"/>
<path class="B28" d="M6034 6343l65-23-7-81-66 22z"/>
<path class="B36" d="M5495 5970l14-9-37-32-14 9z"/>
<path class="B35" d="M5780 6013l14-5-39-31-14 5z"/>
<path class="B34" d="M5875 6037l14-5-39-49-14 5z"/>
<path class="B24" d="M6051 6460l14-5-8-6-14 5z"/>
<path class="B35" d="M5685 6005l14-8-38-46-14 5z"/>
<path class="B34" d="M5918 6061l14-4-8-17-14 4z"/>
<path class="B31" d="M5950 6163l13-4-7-37-14 5z"/>
<path class="B36" d="M5590 5977l14-5-38-36-14 5z"/>
<path class="B35" d="M5372 5991l14-10-37-20-14 10z"/>
<path class="B22" d="M6082 6553l14-5-8-20-13 5z"/>
<path class="B33" d="M5926 6078l14-5-8-16-14 4z"/>
<path class="B30" d="M5973 6212l14-4-8-3-14 4zM6011 6216l65-22-8-3-65 22z"/>
<path class="B24" d="M6029 6459l14-5-8-23-13 5z"/>
<path class="B21" d="M6090 6573l14-5-8-20-14 5z"/>
<path class="B30" d="M5943 6204l14-5-7-36-14 5z"/>
<path class="B26" d="M6028 6398l13-5-7-50-14 5z"/>
<path class="B30" d="M5951 6214l14-5-8-10-14 5z"/>
<path class="B32" d="M5942 6127l14-5-8-32-14 5z"/>
<path class="B36" d="M5481 5979l14-9-37-32-15 9z"/>
<path class="B23" d="M6075 6533l13-5-7-41-14 5z"/>
<path class="B33" d="M5934 6095l14-5-8-17-14 5z"/>
<path class="B25" d="M6022 6436l13-5-7-33-14 5z"/>
<path class="B34" d="M5897 6049l13-5-7-16-14 4z"/>
<path class="B24" d="M6059 6466l14-5-8-6-14 5z"/>
<path class="B34" d="M5861 6043l14-6-39-49-14 10z"/>
<path class="B35" d="M5766 6018l14-5-39-31-14 5zM5671 6015l14-10-38-49-14 5z"/>
<path class="B24" d="M6037 6465l14-5-8-6-14 5z"/>
<path class="B34" d="M5904 6066l14-5-8-17-13 5z"/>
<path class="B35" d="M5358 6001l14-10-37-20-14 10z"/>
<path class="B24" d="M6067 6492l14-5-8-26-14 5z"/>
<path class="B31" d="M5936 6168l14-5-8-36-14 4z"/>
<path class="B36" d="M5576 5982l14-5-38-36-14 5z"/>
<path class="B30" d="M6019 6225l65-22-8-9-65 22z"/>
<path class="B22" d="M6069 6558l13-5-7-20-14 5z"/>
<path class="B33" d="M5912 6082l14-4-8-17-14 5z"/>
<path class="B30" d="M5981 6215l14-4-8-3-14 4z"/>
<path class="B29" d="M6026 6261l66-22-8-36-65 22z"/>
<path class="B30" d="M5959 6217l14-5-8-3-14 5z"/>
<path class="B36" d="M5467 5987l14-8-38-32-14 9z"/>
<path class="B24" d="M6016 6464l13-5-7-23-14 5z"/>
<path class="B21" d="M6077 6578l13-5-8-20-13 5z"/>
<path class="B30" d="M5930 6208l13-4-7-36-14 4z"/>
<path class="B26" d="M6014 6403l14-5-8-50-14 4z"/>
<path class="B30" d="M5938 6218l13-4-8-10-13 4z"/>
<path class="B32" d="M5928 6131l14-4-8-32-14 4z"/>
<path class="B23" d="M6061 6538l14-5-8-41-14 6z"/>
<path class="B33" d="M5920 6099l14-4-8-17-14 4z"/>
<path class="B25" d="M6008 6441l14-5-8-33-14 5z"/>
<path class="B34" d="M5883 6053l14-4-8-17-14 5zM5847 6048l14-5-39-45-14 5z"/>
<path class="B35" d="M5657 6025l14-10-38-54-15 6z"/>
<path class="B24" d="M6045 6471l14-5-8-6-14 5z"/>
<path class="B35" d="M5752 6023l14-5-39-31-14 5z"/>
<path class="B20" d="M6027 6629l14-10-8-25-14 9zM6035 6651l14-10-8-22-14 10z"/>
<path class="B24" d="M6024 6470l13-5-8-6-13 5z"/>
<path class="B34" d="M5891 6070l13-4-7-17-14 4z"/>
<path class="B24" d="M6002 6489l14-25-8-23-14 16zM6053 6498l14-6-8-26-14 5z"/>
<path class="B31" d="M5922 6172l14-4-8-37-14 5z"/>
<path class="B21" d="M6041 6619l14-55-8-21-14 51z"/>
<path class="B36" d="M5562 5989l14-7-38-36-14 6z"/>
<path class="B21" d="M6049 6641l14-57-8-20-14 55z"/>
<path class="B36" d="M5453 5995l14-8-38-31-14 8z"/>
<path class="B24" d="M6010 6505l14-35-8-6-14 25z"/>
<path class="B22" d="M6055 6564l14-6-8-20-14 5z"/>
<path class="B30" d="M5989 6218l14-5-8-2-14 4z"/>
<path class="B33" d="M5898 6087l14-5-8-16-13 4z"/>
<path class="B30" d="M5967 6220l14-5-8-3-14 5zM5945 6222l14-5-8-3-13 4z"/>
<path class="B21" d="M6019 6603l14-9-8-45-13 9zM6063 6584l14-6-8-20-14 6z"/>
<path class="B25" d="M5994 6457l14-16-8-33-14 9z"/>
<path class="B26" d="M6000 6408l14-5-8-51-14 5z"/>
<path class="B28" d="M6020 6348l14-5-8-82-13 4z"/>
<path class="B22" d="M6033 6594l14-51-8-40-14 46z"/>
<path class="B35" d="M5643 6031l14-6-39-58-14 5z"/>
<path class="B32" d="M5914 6136l14-5-8-32-14 5z"/>
<path class="B23" d="M6047 6543l14-5-8-40-14 5z"/>
<path class="B34" d="M5869 6059l14-6-8-16-14 6z"/>
<path class="B23" d="M5996 6512l14-7-8-16-14 6z"/>
<path class="B33" d="M5906 6104l14-5-8-17-14 5z"/>
<path class="B20" d="M6021 6660l14-9-8-22-14 9z"/>
<path class="B34" d="M5833 6053l14-5-39-45-14 5z"/>
<path class="B20" d="M6013 6638l14-9-8-26-14 9z"/>
<path class="B24" d="M5988 6495l14-6-8-32-14 5z"/>
<path class="B31" d="M5916 6203l14 5-8-36-14-3z"/>
<path class="B24" d="M6032 6476l13-5-8-6-13 5z"/>
<path class="B30" d="M5924 6217l14 1-8-10-14-5z"/>
<path class="B35" d="M5738 6028l14-5-39-31-14 5z"/>
<path class="B23" d="M6018 6518l14-42-8-6-14 35z"/>
<path class="B36" d="M5548 5998l14-9-38-37-15 9z"/>
<path class="B34" d="M5877 6075l14-5-8-17-14 6z"/>
<path class="B35" d="M5438 6003l15-8-38-31-14 8z"/>
<path class="B23" d="M6004 6526l14-8-8-13-14 7zM6039 6503l14-5-8-27-13 5z"/>
<path class="B22" d="M6012 6558l13-9-7-31-14 8z"/>
<path class="B23" d="M6025 6549l14-46-7-27-14 42z"/>
<path class="B21" d="M6005 6612l14-9-7-45-14 8z"/>
<path class="B31" d="M5908 6169l14 3-8-36-14 0z"/>
<path class="B25" d="M5980 6462l14-5-8-40-14 5z"/>
<path class="B30" d="M5997 6221l14-5-8-3-14 5zM5975 6223l14-5-8-3-14 5zM5953 6224l14-4-8-3-14 5z"/>
<path class="B33" d="M5885 6090l13-3-7-17-14 5z"/>
<path class="B20" d="M6007 6670l14-10-8-22-14 10z"/>
<path class="B30" d="M5932 6225l13-3-7-4-14-1z"/>
<path class="B20" d="M5999 6648l14-10-8-26-13 10z"/>
<path class="B26" d="M5986 6417l14-9-8-51-13 4z"/>
<path class="B28" d="M6006 6352l14-4-7-83-14 5z"/>
<path class="B35" d="M5629 6036l14-5-39-59-14 5z"/>
<path class="B23" d="M5982 6519l14-7-8-17-14 6z"/>
<path class="B34" d="M5855 6064l14-5-8-16-14 5z"/>
<path class="B24" d="M5974 6501l14-6-8-33-14 6z"/>
<path class="B34" d="M5819 6058l14-5-39-45-14 5z"/>
<path class="B33" d="M5892 6106l14-2-8-17-13 3z"/>
<path class="B32" d="M5900 6136l14 0-8-32-14 2z"/>
<path class="B35" d="M5724 6035l14-7-39-31-14 8z"/>
<path class="B36" d="M5533 6006l15-8-39-37-14 9z"/>
<path class="B35" d="M5424 6012l14-9-37-31-15 9z"/>
<path class="B23" d="M5990 6534l14-8-8-14-14 7z"/>
<path class="B31" d="M5902 6207l14-4-8-34-14 4z"/>
<path class="B30" d="M5910 6221l14-4-8-14-14 4z"/>
<path class="B34" d="M5863 6079l14-4-8-16-14 5z"/>
<path class="B22" d="M5998 6566l14-8-8-32-14 8z"/>
<path class="B21" d="M5992 6622l13-10-7-46-14 9z"/>
<path class="B30" d="M6005 6230l14-5-8-9-14 5z"/>
<path class="B19" d="M5993 6681l14-11-8-22-14 10z"/>
<path class="B29" d="M6013 6265l13-4-7-36-14 5z"/>
<path class="B20" d="M5985 6658l14-10-7-26-14 9z"/>
<path class="B25" d="M5966 6468l14-6-8-40-13 5z"/>
<path class="B30" d="M5983 6225l14-4-8-3-14 5zM5961 6227l14-4-8-3-14 4z"/>
<path class="B33" d="M5871 6095l14-5-8-15-14 4z"/>
<path class="B30" d="M5939 6230l14-6-8-2-13 3z"/>
<path class="B32" d="M5894 6173l14-4-8-33-14 4z"/>
<path class="B26" d="M5972 6422l14-5-7-56-14 5z"/>
<path class="B23" d="M5968 6527l14-8-8-18-14 7z"/>
<path class="B35" d="M5615 6042l14-6-39-59-14 5zM5710 6045l14-10-39-30-14 10z"/>
<path class="B28" d="M5992 6357l14-5-7-82-14 5z"/>
<path class="B30" d="M5918 6229l14-4-8-8-14 4z"/>
<path class="B35" d="M5519 6016l14-10-38-36-14 9z"/>
<path class="B34" d="M5841 6068l14-4-8-16-14 5z"/>
<path class="B24" d="M5960 6508l14-7-8-33-14 5z"/>
<path class="B34" d="M5805 6062l14-4-39-45-14 5z"/>
<path class="B35" d="M5410 6023l14-11-38-31-14 10z"/>
<path class="B33" d="M5878 6110l14-4-7-16-14 5z"/>
<path class="B32" d="M5886 6140l14-4-8-30-14 4z"/>
<path class="B22" d="M5984 6575l14-9-8-32-14 8z"/>
<path class="B23" d="M5976 6542l14-8-8-15-14 8z"/>
<path class="B21" d="M5978 6631l14-9-8-47-14 10z"/>
<path class="B19" d="M5979 6691l14-10-8-23-13 10z"/>
<path class="B34" d="M5849 6084l14-5-8-15-14 4z"/>
<path class="B31" d="M5888 6211l14-4-8-34-14 4z"/>
<path class="B30" d="M5896 6225l14-4-8-14-14 4z"/>
<path class="B20" d="M5972 6668l13-10-7-27-14 10z"/>
<path class="B30" d="M5991 6235l14-5-8-9-14 4z"/>
<path class="B29" d="M5999 6270l14-5-8-35-14 5z"/>
<path class="B25" d="M5952 6473l14-5-7-41-14 5z"/>
<path class="B34" d="M5696 6054l14-9-39-30-14 10z"/>
<path class="B30" d="M5947 6235l14-8-8-3-14 6zM5969 6230l14-5-8-2-14 4z"/>
<path class="B33" d="M5857 6099l14-4-8-16-14 5z"/>
<path class="B35" d="M5395 6034l15-11-38-32-14 10zM5505 6025l14-9-38-37-14 8z"/>
<path class="B23" d="M5954 6535l14-8-8-19-14 6z"/>
<path class="B30" d="M5926 6234l13-4-7-5-14 4z"/>
<path class="B35" d="M5600 6050l15-8-39-60-14 7z"/>
<path class="B32" d="M5880 6177l14-4-8-33-14 4z"/>
<path class="B26" d="M5959 6427l13-5-7-56-14 4z"/>
<path class="B17" d="M5923 6799l15-40-8-24-14 40zM5910 6808l13-9-7-24-14 9z"/>
<path class="B24" d="M5946 6514l14-6-8-35-13 6z"/>
<path class="B28" d="M5979 6361l13-4-7-82-14 6z"/>
<path class="B34" d="M5827 6073l14-5-8-15-14 5z"/>
<path class="B30" d="M5904 6234l14-5-8-8-14 4z"/>
<path class="B34" d="M5791 6067l14-5-39-44-14 5z"/>
<path class="B22" d="M5970 6585l14-10-8-33-14 9z"/>
<path class="B21" d="M5964 6641l14-10-8-46-14 9z"/>
<path class="B23" d="M5962 6551l14-9-8-15-14 8z"/>
<path class="B18" d="M5916 6775l14-40-8-31-14 37z"/>
<path class="B19" d="M5966 6702l13-11-7-23-14 10z"/>
<path class="B33" d="M5864 6115l14-5-7-15-14 4z"/>
<path class="B20" d="M5958 6678l14-10-8-27-14 10z"/>
<path class="B17" d="M5902 6784l14-9-8-34-14 9z"/>
<path class="B32" d="M5872 6144l14-4-8-30-14 5z"/>
<path class="B33" d="M5835 6088l14-4-8-16-14 5z"/>
<path class="B30" d="M5882 6229l14-4-8-14-14 4z"/>
<path class="B31" d="M5874 6215l14-4-8-34-14 4z"/>
<path class="B18" d="M5938 6759l14-38-8-24-14 38z"/>
<path class="B34" d="M5681 6060l15-6-39-29-14 6z"/>
<path class="B30" d="M5977 6239l14-4-8-10-14 5z"/>
<path class="B35" d="M5491 6033l14-8-38-38-14 8z"/>
<path class="B29" d="M5985 6275l14-5-8-35-14 4z"/>
<path class="B19" d="M5952 6721l14-19-8-24-14 19z"/>
<path class="B30" d="M5955 6240l14-10-8-3-14 8z"/>
<path class="B19" d="M5930 6735l14-38-8-28-14 35z"/>
<path class="B35" d="M5586 6059l14-9-38-61-14 9z"/>
<path class="B25" d="M5939 6479l13-6-7-41-14 4z"/>
<path class="B30" d="M5934 6240l13-5-8-5-13 4z"/>
<path class="B23" d="M5940 6543l14-8-8-21-14 7z"/>
<path class="B16" d="M5896 6818l14-10-8-24-14 10z"/>
<path class="B19" d="M5944 6697l14-19-8-27-14 18z"/>
<path class="B33" d="M5843 6104l14-5-8-15-14 4z"/>
<path class="B30" d="M5912 6239l14-5-8-5-14 5z"/>
<path class="B21" d="M5950 6651l14-10-8-47-14 9z"/>
<path class="B22" d="M5956 6594l14-9-8-34-14 9z"/>
<path class="B26" d="M5945 6432l14-5-8-57-14 5z"/>
<path class="B32" d="M5866 6181l14-4-8-33-14 5z"/>
<path class="B19" d="M5908 6741l14-37-8-48-14 37z"/>
<path class="B24" d="M5932 6521l14-7-7-35-14 5z"/>
<path class="B22" d="M5948 6560l14-9-8-16-14 8z"/>
<path class="B28" d="M5965 6366l14-5-8-80-14 5z"/>
<path class="B34" d="M5813 6078l14-5-8-15-14 4z"/>
<path class="B17" d="M5888 6794l14-10-8-34-14 10z"/>
<path class="B34" d="M5777 6072l14-5-39-44-14 5z"/>
<path class="B30" d="M5890 6238l14-4-8-9-14 4z"/>
<path class="B18" d="M5894 6750l14-9-8-48-14 9z"/>
<path class="B33" d="M5850 6119l14-4-7-16-14 5z"/>
<path class="B32" d="M5858 6149l14-5-8-29-14 4z"/>
<path class="B20" d="M5922 6704l14-35-8-48-14 35z"/>
<path class="B33" d="M5821 6093l14-5-8-15-14 5z"/>
<path class="B20" d="M5936 6669l14-18-8-48-14 18z"/>
<path class="B35" d="M5476 6041l15-8-38-38-15 8z"/>
<path class="B30" d="M5963 6250l14-11-8-9-14 10z"/>
<path class="B35" d="M5572 6068l14-9-38-61-15 8z"/>
<path class="B30" d="M5868 6233l14-4-8-14-14 3z"/>
<path class="B34" d="M5667 6065l14-5-38-29-14 5z"/>
<path class="B31" d="M5860 6218l14-3-8-34-14 4z"/>
<path class="B16" d="M5882 6827l14-9-8-24-14 10z"/>
<path class="B29" d="M5971 6281l14-6-8-36-14 11z"/>
<path class="B30" d="M5941 6245l14-5-8-5-13 5z"/>
<path class="B23" d="M5926 6550l14-7-8-22-13 7z"/>
<path class="B22" d="M5942 6603l14-9-8-34-14 8z"/>
<path class="B25" d="M5925 6484l14-5-8-43-14 5z"/>
<path class="B30" d="M5920 6244l14-4-8-6-14 5z"/>
<path class="B22" d="M5934 6568l14-8-8-17-14 7z"/>
<path class="B33" d="M5829 6108l14-4-8-16-14 5z"/>
<path class="B17" d="M5874 6804l14-10-8-34-14 9z"/>
<path class="B30" d="M5898 6244l14-5-8-5-14 4z"/>
<path class="B18" d="M5880 6760l14-10-8-48-14 10z"/>
<path class="B24" d="M5919 6528l13-7-7-37-14 5z"/>
<path class="B26" d="M5931 6436l14-4-8-57-14 4z"/>
<path class="B32" d="M5852 6185l14-4-8-32-14 4z"/>
<path class="B20" d="M5900 6693l14-37-8-40-14 33z"/>
<path class="B34" d="M5763 6079l14-7-39-44-14 7z"/>
<path class="B28" d="M5951 6370l14-4-8-80-14 5z"/>
<path class="B34" d="M5799 6082l14-4-8-16-14 5z"/>
<path class="B30" d="M5876 6243l14-5-8-9-14 4z"/>
<path class="B20" d="M5886 6702l14-9-8-44-14 9z"/>
<path class="B33" d="M5836 6123l14-4-7-15-14 4z"/>
<path class="B35" d="M5462 6054l14-13-38-38-14 9z"/>
<path class="B16" d="M5868 6841l14-14-8-23-14 13z"/>
<path class="B32" d="M5844 6153l14-4-8-30-14 4z"/>
<path class="B35" d="M5558 6077l14-9-39-62-14 10z"/>
<path class="B22" d="M5928 6621l14-18-8-35-14 17z"/>
<path class="B21" d="M5914 6656l14-35-8-36-14 31z"/>
<path class="B30" d="M5949 6255l14-5-8-10-14 5z"/>
<path class="B23" d="M5912 6564l14-14-7-22-14 10z"/>
<path class="B33" d="M5807 6097l14-4-8-15-14 4z"/>
<path class="B34" d="M5653 6071l14-6-38-29-14 6z"/>
<path class="B22" d="M5920 6585l14-17-8-18-14 14z"/>
<path class="B29" d="M5957 6286l14-5-8-31-14 5z"/>
<path class="B17" d="M5860 6817l14-13-8-35-14 14z"/>
<path class="B21" d="M5892 6649l14-33-8-26-14 27z"/>
<path class="B30" d="M5854 6237l14-4-8-15-14 4z"/>
<path class="B31" d="M5846 6222l14-4-8-33-14 4z"/>
<path class="B30" d="M5928 6250l13-5-7-5-14 4z"/>
<path class="B18" d="M5866 6769l14-9-8-48-14 10z"/>
<path class="B22" d="M5906 6616l14-31-8-21-14 26z"/>
<path class="B25" d="M5911 6489l14-5-8-43-14 5z"/>
<path class="B30" d="M5906 6249l14-5-8-5-14 5z"/>
<path class="B23" d="M5905 6538l14-10-8-39-14 9z"/>
<path class="B22" d="M5898 6590l14-26-7-26-14 17z"/>
<path class="B33" d="M5815 6113l14-5-8-15-14 4z"/>
<path class="B21" d="M5878 6658l14-9-8-32-14 8z"/>
<path class="B34" d="M5749 6087l14-8-39-44-14 10z"/>
<path class="B30" d="M5884 6249l14-5-8-6-14 5z"/>
<path class="B35" d="M5448 6073l14-19-38-42-14 11z"/>
<path class="B16" d="M5854 6854l14-13-8-24-14 14z"/>
<path class="B19" d="M5872 6712l14-10-8-44-14 9z"/>
<path class="B26" d="M5917 6441l14-5-8-57-14 4z"/>
<path class="B32" d="M5838 6189l14-4-8-32-14 4z"/>
<path class="B28" d="M5937 6375l14-5-8-79-14 5z"/>
<path class="B34" d="M5785 6087l14-5-8-15-14 5z"/>
<path class="B22" d="M5884 6617l14-27-7-35-14 17z"/>
<path class="B34" d="M5543 6087l15-10-39-61-14 9z"/>
<path class="B30" d="M5862 6247l14-4-8-10-14 4z"/>
<path class="B17" d="M5846 6831l14-14-8-34-14 12z"/>
<path class="B33" d="M5822 6128l14-5-7-15-14 5z"/>
<path class="B32" d="M5830 6157l14-4-8-30-14 5z"/>
<path class="B18" d="M5852 6783l14-14-8-47-14 14z"/>
<path class="B30" d="M5935 6260l14-5-8-10-13 5z"/>
<path class="B34" d="M5434 6094l14-21-38-50-15 11zM5639 6079l14-8-38-29-15 8z"/>
<path class="B33" d="M5793 6102l14-5-8-15-14 5z"/>
<path class="B23" d="M5891 6555l14-17-8-40-14 12z"/>
<path class="B16" d="M5840 6868l14-14-8-23-14 14z"/>
<path class="B29" d="M5943 6291l14-5-8-31-14 5z"/>
<path class="B22" d="M5870 6625l14-8-7-45-14 7z"/>
<path class="B30" d="M5914 6255l14-5-8-6-14 5zM5840 6241l14-4-8-15-14 4z"/>
<path class="B31" d="M5832 6226l14-4-8-33-14 4z"/>
<path class="B25" d="M5897 6498l14-9-8-43-14 7z"/>
<path class="B34" d="M5735 6095l14-8-39-42-14 9z"/>
<path class="B20" d="M5864 6667l14-9-8-33-14 9z"/>
<path class="B30" d="M5892 6254l14-5-8-5-14 5z"/>
<path class="B19" d="M5858 6722l14-10-8-45-14 10z"/>
<path class="B16" d="M5832 6845l14-14-8-36-14 13z"/>
<path class="B33" d="M5800 6117l15-4-8-16-14 5z"/>
<path class="B30" d="M5870 6253l14-4-8-6-14 4z"/>
<path class="B34" d="M5529 6094l14-7-38-62-14 8z"/>
<path class="B18" d="M5838 6795l14-12-8-47-14 12z"/>
<path class="B34" d="M5771 6093l14-6-8-15-14 7z"/>
<path class="B26" d="M5903 6446l14-5-8-58-14 5z"/>
<path class="B32" d="M5824 6193l14-4-8-32-14 4z"/>
<path class="B28" d="M5923 6379l14-4-8-79-14 5z"/>
<path class="B23" d="M5877 6572l14-17-8-45-14 9z"/>
<path class="B30" d="M5848 6252l14-5-8-10-14 4z"/>
<path class="B15" d="M5826 6878l14-10-8-23-14 10z"/>
<path class="B34" d="M5625 6088l14-9-39-29-14 9z"/>
<path class="B33" d="M5808 6132l14-4-7-15-15 4z"/>
<path class="B32" d="M5816 6161l14-4-8-29-14 4z"/>
<path class="B30" d="M5922 6265l13-5-7-10-14 5z"/>
<path class="B33" d="M5779 6108l14-6-8-15-14 6z"/>
<path class="B19" d="M5844 6736l14-14-8-45-14 13z"/>
<path class="B16" d="M5818 6855l14-10-8-37-14 11z"/>
<path class="B21" d="M5856 6634l14-9-7-46-15 8z"/>
<path class="B24" d="M5883 6510l14-12-8-45-14 8z"/>
<path class="B20" d="M5850 6677l14-10-8-33-14 10z"/>
<path class="B29" d="M5929 6296l14-5-8-31-13 5z"/>
<path class="B34" d="M5720 6101l15-6-39-41-15 6z"/>
<path class="B30" d="M5900 6260l14-5-8-6-14 5z"/>
<path class="B17" d="M5824 6808l14-13-8-47-14 13z"/>
<path class="B30" d="M5826 6246l14-5-8-15-14 5z"/>
<path class="B31" d="M5818 6231l14-5-8-33-14 6z"/>
<path class="B30" d="M5878 6259l14-5-8-5-14 4z"/>
<path class="B34" d="M5515 6103l14-9-38-61-15 8z"/>
<path class="B23" d="M5863 6579l14-7-8-53-14 7z"/>
<path class="B33" d="M5786 6123l14-6-7-15-14 6z"/>
<path class="B34" d="M5757 6101l14-8-8-14-14 8z"/>
<path class="B30" d="M5856 6258l14-5-8-6-14 5z"/>
<path class="B26" d="M5889 6453l14-7-8-58-14 11z"/>
<path class="B15" d="M5811 6888l15-10-8-23-14 10z"/>
<path class="B34" d="M5610 6097l15-9-39-29-14 9z"/>
<path class="B32" d="M5810 6199l14-6-8-32-14 7z"/>
<path class="B28" d="M5909 6383l14-4-8-78-14 5z"/>
<path class="B19" d="M5830 6748l14-12-8-46-14 12z"/>
<path class="B30" d="M5834 6258l14-6-8-11-14 5z"/>
<path class="B20" d="M5836 6690l14-13-8-33-14 13z"/>
<path class="B16" d="M5804 6865l14-10-8-36-14 10z"/>
<path class="B33" d="M5794 6138l14-6-8-15-14 6z"/>
<path class="B21" d="M5842 6644l14-10-8-47-14 9z"/>
<path class="B24" d="M5869 6519l14-9-8-49-14 5z"/>
<path class="B33" d="M5764 6116l15-8-8-15-14 8z"/>
<path class="B17" d="M5810 6819l14-11-8-47-14 11z"/>
<path class="B32" d="M5802 6168l14-7-8-29-14 6z"/>
<path class="B30" d="M5908 6271l14-6-8-10-14 5z"/>
<path class="B34" d="M5501 6117l14-14-39-62-14 13zM5706 6107l14-6-39-41-14 5z"/>
<path class="B29" d="M5915 6301l14-5-7-31-14 6z"/>
<path class="B30" d="M5886 6265l14-5-8-6-14 5z"/>
<path class="B31" d="M5804 6235l14-4-8-32-14 4z"/>
<path class="B30" d="M5812 6251l14-5-8-15-14 4z"/>
<path class="B26" d="M5875 6461l14-8-8-54-14 11z"/>
<path class="B34" d="M5742 6109l15-8-8-14-14 8z"/>
<path class="B23" d="M5848 6587l15-8-8-53-14 7z"/>
<path class="B30" d="M5864 6264l14-5-8-6-14 5z"/>
<path class="B15" d="M5797 6897l14-9-7-23-15 10z"/>
<path class="B33" d="M5772 6130l14-7-7-15-15 8z"/>
<path class="B19" d="M5816 6761l14-13-8-46-14 12z"/>
<path class="B34" d="M5596 6106l14-9-38-29-14 9z"/>
<path class="B30" d="M5842 6265l14-7-8-6-14 6z"/>
<path class="B20" d="M5822 6702l14-12-8-33-14 9z"/>
<path class="B34" d="M5486 6133l15-16-39-63-14 19z"/>
<path class="B32" d="M5796 6203l14-4-8-31-14 6z"/>
<path class="B16" d="M5789 6875l15-10-8-36-14 9z"/>
<path class="B21" d="M5828 6657l14-13-8-48-14 10z"/>
<path class="B17" d="M5796 6829l14-10-8-47-14 11z"/>
<path class="B28" d="M5895 6388l14-5-8-77-14 5z"/>
<path class="B30" d="M5820 6266l14-8-8-12-14 5z"/>
<path class="B33" d="M5750 6123l14-7-7-15-15 8zM5780 6145l14-7-8-15-14 7z"/>
<path class="B24" d="M5855 6526l14-7-8-53-14 6z"/>
<path class="B32" d="M5788 6174l14-6-8-30-14 7z"/>
<path class="B30" d="M5893 6276l15-5-8-11-14 5z"/>
<path class="B15" d="M5783 6916l14-19-8-22-14 18z"/>
<path class="B33" d="M5472 6148l14-15-38-60-14 21z"/>
<path class="B18" d="M5802 6772l14-11-8-47-14 11z"/>
<path class="B34" d="M5692 6113l14-6-39-42-14 6z"/>
<path class="B29" d="M5901 6306l14-5-7-30-15 5z"/>
<path class="B14" d="M5769 6940l14-24-8-23-14 26z"/>
<path class="B30" d="M5872 6270l14-5-8-6-14 5z"/>
<path class="B23" d="M5834 6596l14-9-7-54-14 9z"/>
<path class="B14" d="M5755 6964l14-24-8-21-14 27z"/>
<path class="B34" d="M5582 6115l14-9-38-29-15 10z"/>
<path class="B20" d="M5808 6714l14-12-8-36-14 11z"/>
<path class="B26" d="M5861 6466l14-5-8-51-14 4z"/>
<path class="B34" d="M5728 6115l14-6-7-14-15 6z"/>
<path class="B16" d="M5775 6893l14-18-7-37-15 17z"/>
<path class="B33" d="M5758 6136l14-6-8-14-14 7z"/>
<path class="B30" d="M5850 6272l14-8-8-6-14 7zM5798 6256l14-5-8-16-14 3z"/>
<path class="B31" d="M5790 6238l14-3-8-32-14 4z"/>
<path class="B30" d="M5828 6274l14-9-8-7-14 8z"/>
<path class="B15" d="M5747 6946l14-27-8-38-14 29z"/>
<path class="B13" d="M5741 6980l14-16-8-18-14 19z"/>
<path class="B21" d="M5814 6666l14-9-8-51-14 7z"/>
<path class="B15" d="M5761 6919l14-26-8-38-14 26z"/>
<path class="B17" d="M5782 6838l14-9-8-46-14 9z"/>
<path class="B14" d="M5733 6965l14-19-8-36-14 22z"/>
<path class="B28" d="M5881 6399l14-11-8-77-14 9z"/>
<path class="B32" d="M5782 6207l14-4-8-29-14 5z"/>
<path class="B30" d="M5806 6273l14-7-8-15-14 5z"/>
<path class="B33" d="M5766 6151l14-6-8-15-14 6zM5736 6128l14-5-8-14-14 6z"/>
<path class="B24" d="M5841 6533l14-7-8-54-14 7z"/>
<path class="B18" d="M5788 6783l14-11-8-47-14 11z"/>
<path class="B32" d="M5774 6179l14-5-8-29-14 6z"/>
<path class="B30" d="M5879 6281l14-5-7-11-14 5z"/>
<path class="B20" d="M5794 6725l14-11-8-37-14 11z"/>
<path class="B34" d="M5678 6121l14-8-39-42-14 8z"/>
<path class="B23" d="M5820 6606l14-10-7-54-15 10z"/>
<path class="B34" d="M5567 6123l15-8-39-28-14 7z"/>
<path class="B15" d="M5725 6932l14-22-8-38-14 26z"/>
<path class="B29" d="M5887 6311l14-5-8-30-14 5z"/>
<path class="B30" d="M5857 6279l15-9-8-6-14 8z"/>
<path class="B17" d="M5767 6855l15-17-8-46-15 16z"/>
<path class="B16" d="M5739 6910l14-29-8-43-14 34z"/>
<path class="B30" d="M5835 6282l15-10-8-7-14 9zM5813 6283l15-9-8-8-14 7z"/>
<path class="B33" d="M5714 6120l14-5-8-14-14 6zM5744 6142l14-6-8-13-14 5z"/>
<path class="B26" d="M5847 6472l14-6-8-52-14 6z"/>
<path class="B21" d="M5800 6677l14-11-8-53-14 7z"/>
<path class="B16" d="M5753 6881l14-26-8-47-14 30z"/>
<path class="B30" d="M5784 6262l14-6-8-18-14 5z"/>
<path class="B28" d="M5867 6410l14-11-8-79-14 11z"/>
<path class="B31" d="M5776 6243l14-5-8-31-14 6z"/>
<path class="B18" d="M5774 6792l14-9-8-47-14 9z"/>
<path class="B32" d="M5768 6213l14-6-8-28-14 6z"/>
<path class="B30" d="M5791 6279l15-6-8-17-14 6z"/>
<path class="B24" d="M5827 6542l14-9-8-54-14 8z"/>
<path class="B33" d="M5752 6157l14-6-8-15-14 6z"/>
<path class="B19" d="M5780 6736l14-11-8-37-14 11z"/>
<path class="B33" d="M5722 6134l14-6-8-13-14 5z"/>
<path class="B16" d="M5717 6898l14-26-8-43-14 30z"/>
<path class="B32" d="M5760 6185l14-6-8-28-14 6z"/>
<path class="B34" d="M5663 6129l15-8-39-42-14 9z"/>
<path class="B30" d="M5865 6291l14-10-7-11-15 9z"/>
<path class="B22" d="M5806 6613l14-7-8-54-14 4z"/>
<path class="B34" d="M5553 6132l14-9-38-29-14 9z"/>
<path class="B30" d="M5821 6293l14-11-7-8-15 9zM5843 6290l14-11-7-7-15 10z"/>
<path class="B29" d="M5873 6320l14-9-8-30-14 10z"/>
<path class="B17" d="M5731 6872l14-34-8-47-14 38z"/>
<path class="B21" d="M5786 6688l14-11-8-57-14 10z"/>
<path class="B30" d="M5799 6289l14-6-7-10-15 6z"/>
<path class="B27" d="M5853 6414l14-4-8-79-14 11z"/>
<path class="B33" d="M5700 6126l14-6-8-13-14 6z"/>
<path class="B26" d="M5833 6479l14-7-8-52-14 6z"/>
<path class="B33" d="M5730 6147l14-5-8-14-14 6z"/>
<path class="B18" d="M5759 6808l15-16-8-47-15 15z"/>
<path class="B30" d="M5769 6268l15-6-8-19-15 5z"/>
<path class="B31" d="M5761 6248l15-5-8-30-14 5z"/>
<path class="B17" d="M5745 6838l14-30-8-48-14 31z"/>
<path class="B19" d="M5766 6745l14-9-8-37-14 8z"/>
<path class="B24" d="M5812 6552l15-10-8-55-15 8z"/>
<path class="B29" d="M5851 6305l14-14-8-12-14 11z"/>
<path class="B31" d="M5754 6218l14-5-8-28-14 6z"/>
<path class="B17" d="M5709 6859l14-30-8-41-14 32z"/>
<path class="B30" d="M5777 6285l14-6-7-17-15 6z"/>
<path class="B33" d="M5539 6145l14-13-38-29-14 14z"/>
<path class="B29" d="M5829 6303l14-13-8-8-14 11z"/>
<path class="B33" d="M5738 6163l14-6-8-15-14 5zM5708 6140l14-6-8-14-14 6z"/>
<path class="B34" d="M5649 6136l14-7-38-41-15 9z"/>
<path class="B29" d="M5859 6331l14-11-8-29-14 14z"/>
<path class="B32" d="M5746 6191l14-6-8-28-14 6z"/>
<path class="B29" d="M5807 6299l14-6-8-10-14 6z"/>
<path class="B21" d="M5772 6699l14-11-8-58-14 11z"/>
<path class="B22" d="M5792 6620l14-7-8-57-14 5z"/>
<path class="B18" d="M5723 6829l14-38-8-41-14 38z"/>
<path class="B27" d="M5839 6420l14-6-8-72-14 7z"/>
<path class="B33" d="M5686 6134l14-8-8-13-14 8z"/>
<path class="B30" d="M5785 6295l14-6-8-10-14 6z"/>
<path class="B26" d="M5819 6487l14-8-8-53-14 8z"/>
<path class="B33" d="M5525 6161l14-16-38-28-15 16zM5716 6153l14-6-8-13-14 6z"/>
<path class="B29" d="M5837 6319l14-14-8-15-14 13z"/>
<path class="B19" d="M5751 6760l15-15-8-38-15 13z"/>
<path class="B30" d="M5755 6275l14-7-8-20-14 7z"/>
<path class="B31" d="M5747 6255l14-7-7-30-15 7z"/>
<path class="B29" d="M5845 6342l14-11-8-26-14 14z"/>
<path class="B19" d="M5737 6791l14-31-8-40-14 30z"/>
<path class="B24" d="M5798 6556l14-4-8-57-14 3z"/>
<path class="B29" d="M5815 6309l14-6-8-10-14 6z"/>
<path class="B33" d="M5635 6146l14-10-39-39-14 9z"/>
<path class="B18" d="M5701 6820l14-32-8-52-14 45z"/>
<path class="B31" d="M5739 6225l15-7-8-27-15 7z"/>
<path class="B30" d="M5763 6292l14-7-8-17-14 7z"/>
<path class="B33" d="M5693 6147l15-7-8-14-14 8zM5723 6170l15-7-8-16-14 6zM5510 6177l15-16-39-28-14 15z"/>
<path class="B21" d="M5758 6707l14-8-8-58-14 6z"/>
<path class="B32" d="M5731 6198l15-7-8-28-15 7z"/>
<path class="B29" d="M5793 6305l14-6-8-10-14 6z"/>
<path class="B22" d="M5778 6630l14-10-8-59-14 9z"/>
<path class="B33" d="M5671 6142l15-8-8-13-15 8z"/>
<path class="B25" d="M5804 6495l15-8-8-53-15 8z"/>
<path class="B29" d="M5823 6326l14-7-8-16-14 6z"/>
<path class="B27" d="M5825 6426l14-6-8-71-14 7z"/>
<path class="B29" d="M5771 6302l14-7-8-10-14 7z"/>
<path class="B33" d="M5701 6161l15-8-8-13-15 7z"/>
<path class="B30" d="M5741 6283l14-8-8-20-14 7z"/>
<path class="B29" d="M5831 6349l14-7-8-23-14 7z"/>
<path class="B31" d="M5733 6262l14-7-8-30-14 8z"/>
<path class="B19" d="M5715 6788l14-38-8-63-14 49z"/>
<path class="B33" d="M5621 6155l14-9-39-40-14 9z"/>
<path class="B31" d="M5725 6233l14-8-8-27-14 8z"/>
<path class="B30" d="M5749 6300l14-8-8-17-14 8z"/>
<path class="B29" d="M5801 6316l14-7-8-10-14 6z"/>
<path class="B33" d="M5679 6155l14-8-7-13-15 8zM5709 6178l14-8-7-17-15 8z"/>
<path class="B20" d="M5743 6720l15-13-8-60-15 8z"/>
<path class="B22" d="M5764 6641l14-11-8-60-14 12z"/>
<path class="B24" d="M5784 6561l14-5-8-58-14 4z"/>
<path class="B32" d="M5717 6206l14-8-8-28-14 8z"/>
<path class="B29" d="M5779 6313l14-8-8-10-14 7z"/>
<path class="B20" d="M5729 6750l14-30-8-65-14 32z"/>
<path class="B33" d="M5657 6149l14-7-8-13-14 7z"/>
<path class="B29" d="M5757 6311l14-9-8-10-14 8z"/>
<path class="B27" d="M5811 6434l14-8-8-70-14 8z"/>
<path class="B29" d="M5809 6333l14-7-8-17-14 7z"/>
<path class="B25" d="M5790 6498l14-3-8-53-14 2z"/>
<path class="B33" d="M5687 6168l14-7-8-14-14 8z"/>
<path class="B19" d="M5693 6781l14-45-8-67-14 48z"/>
<path class="B29" d="M5817 6356l14-7-8-23-14 7z"/>
<path class="B30" d="M5727 6288l14-5-8-21-14 5z"/>
<path class="B33" d="M5606 6163l15-8-39-40-15 8z"/>
<path class="B31" d="M5719 6267l14-5-8-29-14 5z"/>
<path class="B29" d="M5787 6323l14-7-8-11-14 8z"/>
<path class="B31" d="M5711 6238l14-5-8-27-14 5z"/>
<path class="B30" d="M5735 6305l14-5-8-17-14 5z"/>
<path class="B33" d="M5665 6162l14-7-8-13-14 7z"/>
<path class="B22" d="M5750 6647l14-6-8-59-15 4z"/>
<path class="B32" d="M5695 6185l14-7-8-17-14 7zM5703 6211l14-5-8-28-14 7z"/>
<path class="B24" d="M5770 6570l14-9-8-59-14 8z"/>
<path class="B29" d="M5765 6322l14-9-8-11-14 9z"/>
<path class="B33" d="M5643 6159l14-10-8-13-14 10z"/>
<path class="B27" d="M5796 6442l15-8-8-70-15 12z"/>
<path class="B29" d="M5795 6341l14-8-8-17-14 7zM5743 6316l14-5-8-11-14 5z"/>
<path class="B33" d="M5673 6175l14-7-8-13-14 7z"/>
<path class="B28" d="M5803 6364l14-8-8-23-14 8z"/>
<path class="B33" d="M5592 6170l14-7-39-40-14 9z"/>
<path class="B21" d="M5707 6736l14-49-8-67-14 49z"/>
<path class="B26" d="M5776 6502l14-4-8-54-14 2z"/>
<path class="B30" d="M5712 6293l15-5-8-21-14 4z"/>
<path class="B31" d="M5705 6271l14-4-8-29-14 5z"/>
<path class="B29" d="M5773 6333l14-10-8-10-14 9z"/>
<path class="B33" d="M5651 6171l14-9-8-13-14 10z"/>
<path class="B24" d="M5756 6582l14-12-8-60-14 11z"/>
<path class="B32" d="M5681 6192l14-7-8-17-14 7z"/>
<path class="B31" d="M5697 6243l14-5-8-27-14 6z"/>
<path class="B30" d="M5720 6311l15-6-8-17-15 5z"/>
<path class="B22" d="M5735 6655l15-8-9-61-14 4z"/>
<path class="B32" d="M5689 6217l14-6-8-26-14 7z"/>
<path class="B29" d="M5750 6328l15-6-8-11-14 5z"/>
<path class="B33" d="M5628 6168l15-9-8-13-14 9z"/>
<path class="B29" d="M5780 6351l15-10-8-18-14 10z"/>
<path class="B27" d="M5782 6444l14-2-8-66-14 4z"/>
<path class="B33" d="M5578 6185l14-15-39-38-14 13zM5658 6184l15-9-8-13-14 9z"/>
<path class="B22" d="M5721 6687l14-32-8-65-14 30z"/>
<path class="B28" d="M5788 6376l15-12-8-23-15 10z"/>
<path class="B29" d="M5728 6322l15-6-8-11-15 6z"/>
<path class="B33" d="M5636 6180l15-9-8-12-15 9z"/>
<path class="B30" d="M5698 6302l14-9-7-22-15 9z"/>
<path class="B21" d="M5685 6717l14-48-8-68-14 52z"/>
<path class="B29" d="M5758 6339l15-6-8-11-15 6z"/>
<path class="B26" d="M5762 6510l14-8-8-56-14 9z"/>
<path class="B31" d="M5690 6280l15-9-8-28-15 9z"/>
<path class="B24" d="M5741 6586l15-4-8-61-15 4z"/>
<path class="B32" d="M5666 6201l15-9-8-17-15 9z"/>
<path class="B33" d="M5563 6205l15-20-39-40-14 16z"/>
<path class="B31" d="M5682 6252l15-9-8-26-15 10z"/>
<path class="B30" d="M5706 6319l14-8-8-18-14 9z"/>
<path class="B32" d="M5674 6227l15-10-8-25-15 9z"/>
<path class="B33" d="M5614 6175l14-7-7-13-15 8z"/>
<path class="B29" d="M5736 6334l14-6-7-12-15 6zM5766 6357l14-6-7-18-15 6z"/>
<path class="B32" d="M5644 6193l14-9-7-13-15 9zM5549 6225l14-20-38-44-15 16z"/>
<path class="B28" d="M5774 6380l14-4-8-25-14 6z"/>
<path class="B29" d="M5714 6331l14-9-8-11-14 8z"/>
<path class="B27" d="M5768 6446l14-2-8-64-14 6z"/>
<path class="B33" d="M5622 6187l14-7-8-12-14 7z"/>
<path class="B30" d="M5684 6312l14-10-8-22-14 9z"/>
<path class="B25" d="M5748 6521l14-11-8-55-14 11z"/>
<path class="B30" d="M5676 6289l14-9-8-28-14 10z"/>
<path class="B32" d="M5652 6211l14-10-8-17-14 9z"/>
<path class="B29" d="M5744 6345l14-6-8-11-14 6z"/>
<path class="B31" d="M5668 6262l14-10-8-25-14 9z"/>
<path class="B29" d="M5692 6328l14-9-8-17-14 10z"/>
<path class="B32" d="M5660 6236l14-9-8-26-14 10z"/>
<path class="B33" d="M5600 6182l14-7-8-12-14 7z"/>
<path class="B23" d="M5699 6669l14-49-8-68-14 49z"/>
<path class="B24" d="M5727 6590l14-4-8-61-14 1z"/>
<path class="B29" d="M5722 6343l14-9-8-12-14 9z"/>
<path class="B32" d="M5630 6200l14-7-8-13-14 7z"/>
<path class="B29" d="M5752 6363l14-6-8-18-14 6zM5700 6340l14-9-8-12-14 9z"/>
<path class="B28" d="M5760 6386l14-6-8-23-14 6z"/>
<path class="B27" d="M5754 6455l14-9-8-60-14 11z"/>
<path class="B30" d="M5670 6317l14-5-8-23-14 5z"/>
<path class="B33" d="M5608 6194l14-7-8-12-14 7z"/>
<path class="B25" d="M5733 6525l15-4-8-55-15 3z"/>
<path class="B24" d="M5713 6620l14-30-8-64-14 26z"/>
<path class="B30" d="M5662 6294l14-5-8-27-14 5z"/>
<path class="B32" d="M5638 6218l14-7-8-18-14 7z"/>
<path class="B31" d="M5654 6267l14-5-8-26-14 6z"/>
<path class="B29" d="M5730 6354l14-9-8-11-14 9z"/>
<path class="B33" d="M5585 6197l15-15-8-12-14 15z"/>
<path class="B32" d="M5646 6242l14-6-8-25-14 7z"/>
<path class="B29" d="M5677 6334l15-6-8-16-14 5z"/>
<path class="B23" d="M5677 6653l14-52-8-58-14 46z"/>
<path class="B29" d="M5708 6352l14-9-8-12-14 9z"/>
<path class="B32" d="M5615 6206l15-6-8-13-14 7zM5571 6217l14-20-7-12-15 20z"/>
<path class="B29" d="M5738 6372l14-9-8-18-14 9z"/>
<path class="B27" d="M5740 6466l14-11-8-58-15 14z"/>
<path class="B29" d="M5685 6346l15-6-8-12-15 6z"/>
<path class="B32" d="M5593 6208l15-14-8-12-15 15z"/>
<path class="B28" d="M5746 6397l14-11-8-23-14 9z"/>
<path class="B32" d="M5557 6237l14-20-8-12-14 20z"/>
<path class="B29" d="M5716 6364l14-10-8-11-14 9z"/>
<path class="B32" d="M5623 6224l15-6-8-18-15 6z"/>
<path class="B30" d="M5655 6322l15-5-8-23-15 4zM5647 6298l15-4-8-27-15 4z"/>
<path class="B31" d="M5639 6271l15-4-8-25-15 5z"/>
<path class="B32" d="M5631 6247l15-5-8-24-15 6zM5579 6229l14-21-8-11-14 20z"/>
<path class="B25" d="M5719 6526l14-1-8-56-14 0z"/>
<path class="B29" d="M5663 6339l14-5-7-17-15 5zM5605 6388l14-33-8-30-14 40zM5693 6358l15-6-8-12-15 6z"/>
<path class="B24" d="M5691 6601l14-49-8-56-14 47z"/>
<path class="B32" d="M5601 6220l14-14-7-12-15 14z"/>
<path class="B28" d="M5613 6404l14-31-8-18-14 33z"/>
<path class="B32" d="M5565 6254l14-25-8-12-14 20z"/>
<path class="B28" d="M5723 6383l15-11-8-18-14 10z"/>
<path class="B29" d="M5597 6365l14-40-8-30-14 38z"/>
<path class="B28" d="M5731 6411l15-14-8-25-15 11z"/>
<path class="B27" d="M5725 6469l15-3-9-55-14 4z"/>
<path class="B29" d="M5627 6373l14-28-8-27-14 37z"/>
<path class="B30" d="M5641 6345l14-23-8-24-14 20z"/>
<path class="B32" d="M5587 6247l14-27-8-12-14 21z"/>
<path class="B29" d="M5671 6352l14-6-8-12-14 5z"/>
<path class="B30" d="M5619 6355l14-37-8-26-14 33z"/>
<path class="B31" d="M5573 6278l14-31-8-18-14 25z"/>
<path class="B30" d="M5589 6333l14-38-8-24-14 30z"/>
<path class="B32" d="M5609 6242l14-18-8-18-14 14z"/>
<path class="B24" d="M5669 6589l14-46-9-52-14 50z"/>
<path class="B28" d="M5621 6420l14-32-8-15-14 31z"/>
<path class="B30" d="M5633 6318l14-20-8-27-14 21z"/>
<path class="B31" d="M5581 6301l14-30-8-24-14 31z"/>
<path class="B25" d="M5705 6552l14-26-8-57-14 27z"/>
<path class="B31" d="M5625 6292l14-21-8-24-14 18zM5617 6265l14-18-8-23-14 18z"/>
<path class="B29" d="M5649 6358l14-19-8-17-14 23zM5701 6370l15-6-8-12-15 6z"/>
<path class="B30" d="M5611 6325l14-33-8-27-14 30z"/>
<path class="B31" d="M5595 6271l14-29-8-22-14 27z"/>
<path class="B29" d="M5635 6388l14-30-8-13-14 28z"/>
<path class="B31" d="M5603 6295l14-30-8-23-14 29z"/>
<path class="B28" d="M5628 6436l15-33-8-15-14 32z"/>
<path class="B29" d="M5679 6364l14-6-8-12-14 6z"/>
<path class="B28" d="M5709 6388l14-5-7-19-15 6z"/>
<path class="B29" d="M5657 6371l14-19-8-13-14 19z"/>
<path class="B28" d="M5717 6415l14-4-8-28-14 5zM5643 6403l14-32-8-13-14 30z"/>
<path class="B27" d="M5636 6452l14-34-7-15-15 33zM5711 6469l14 0-8-54-14 3z"/>
<path class="B26" d="M5683 6543l14-47-8-51-15 46z"/>
<path class="B29" d="M5687 6376l14-6-8-12-14 6z"/>
<path class="B26" d="M5660 6541l14-50-8-39-14 41z"/>
<path class="B29" d="M5665 6385l14-21-8-12-14 19z"/>
<path class="B28" d="M5650 6418l15-33-8-14-14 32z"/>
<path class="B27" d="M5644 6466l14-32-8-16-14 34zM5697 6496l14-27-8-51-14 27z"/>
<path class="B26" d="M5652 6493l14-41-8-18-14 32z"/>
<path class="B28" d="M5695 6394l14-6-8-18-14 6zM5658 6434l15-35-8-14-15 33zM5703 6418l14-3-8-27-14 6zM5673 6399l14-23-8-12-14 21z"/>
<path class="B27" d="M5674 6491l15-46-9-28-14 35zM5666 6452l14-35-7-18-15 35z"/>
<path class="B28" d="M5680 6417l15-23-8-18-14 23zM5689 6445l14-27-8-24-15 23z"/>
<path class="v13" d="M5863 6289l99-34-35-12-99 33z"/>
<path class="v13" d="M5898 6301l100-34-36-12-99 34z"/>
<path class="v13" d="M5762 6323l101-34-35-13-101 34z"/>
<path class="v14" d="M5934 6312l100-34-36-11-100 34z"/>
<path class="v13" d="M5797 6335l101-34-35-12-101 34z"/>
<path class="v14" d="M5970 6323l100-34-36-11-100 34z"/>
<path class="v13" d="M5660 6357l102-34-35-13-102 34z"/>
<path class="v14" d="M5833 6347l101-35-36-11-101 34z"/>
<path class="v15" d="M6006 6333l100-34-36-10-100 34z"/>
<path class="v13" d="M5695 6369l102-34-35-12-102 34z"/>
<path class="v14" d="M5869 6358l101-35-36-11-101 35z"/>
<path class="v13" d="M5556 6392l104-35-35-13-103 34z"/>
<path class="v15" d="M6043 6342l100-35-37-8-100 34z"/>
<path class="v14" d="M5730 6381l103-34-36-12-102 34z"/>
<path class="v15" d="M5905 6368l101-35-36-10-101 35z"/>
<path class="v13" d="M5591 6404l104-35-35-12-104 35z"/>
<path class="v16" d="M6080 6349l101-35-38-7-100 35z"/>
<path class="v14" d="M5766 6393l103-35-36-11-103 34z"/>
<path class="v13" d="M5451 6427l105-35-34-14-105 35z"/>
<path class="v15" d="M5941 6377l102-35-37-9-101 35z"/>
<path class="v14" d="M5626 6417l104-36-35-12-104 35z"/>
<path class="v16" d="M6117 6355l101-35-37-6-101 35z"/>
<path class="v15" d="M5802 6403l103-35-36-10-103 35z"/>
<path class="v13" d="M5486 6440l105-36-35-12-105 35z"/>
<path class="v16" d="M5978 6384l102-35-37-7-102 35z"/>
<path class="v14" d="M5662 6428l104-35-36-12-104 36z"/>
<path class="v13" d="M5345 6463l106-36-34-14-106 36z"/>
<path class="v17" d="M6155 6358l101-35-38-3-101 35z"/>
<path class="v15" d="M5838 6412l103-35-36-9-103 35z"/>
<path class="v14" d="M5521 6452l105-35-35-13-105 36z"/>
<path class="v16" d="M6015 6390l102-35-37-6-102 35z"/>
<path class="v15" d="M5697 6439l105-36-36-10-104 35z"/>
<path class="v13" d="M5379 6476l107-36-35-13-106 36z"/>
<path class="v16" d="M5875 6420l103-36-37-7-103 35z"/>
<path class="v18" d="M6193 6359l101-36-38 0-101 35z"/>
<path class="v14" d="M5556 6464l106-36-36-11-105 35z"/>
<path class="v13" d="M5237 6499l108-36-34-14-108 36z"/>
<path class="v17" d="M6053 6394l102-36-38-3-102 35z"/>
<path class="v15" d="M5733 6448l105-36-36-9-105 36z"/>
<path class="v14" d="M5414 6489l107-37-35-12-107 36z"/>
<path class="v16" d="M5912 6426l103-36-37-6-103 36z"/>
<path class="v15" d="M5592 6475l105-36-35-11-106 36z"/>
<path class="v19" d="M6232 6356l101-36-39 3-101 36z"/>
<path class="v13" d="M5271 6513l108-37-34-13-108 36z"/>
<path class="v16" d="M5770 6456l105-36-37-8-105 36z"/>
<path class="v18" d="M6091 6395l102-36-38-1-102 36z"/>
<path class="v14" d="M5449 6501l107-37-35-12-107 37z"/>
<path class="v13" d="M5127 6536l110-37-34-14-109 36z"/>
<path class="v17" d="M5949 6430l104-36-38-4-103 36z"/>
<path class="v15" d="M5627 6485l106-37-36-9-105 36z"/>
<path class="v14" d="M5306 6526l108-37-35-13-108 37z"/>
<path class="v20" d="M6271 6347l102-36-40 9-101 36z"/>
<path class="v16" d="M5807 6463l105-37-37-6-105 36z"/>
<path class="v15" d="M5484 6512l108-37-36-11-107 37z"/>
<path class="v19" d="M6129 6391l103-35-39 3-102 36z"/>
<path class="v13" d="M5161 6550l110-37-34-14-110 37z"/>
<path class="v16" d="M5664 6493l106-37-37-8-106 37z"/>
<path class="v18" d="M5987 6431l104-36-38-1-104 36z"/>
<path class="v14" d="M5340 6538l109-37-35-12-108 37z"/>
<path class="v21" d="M6311 6329l102-35-40 17-102 36z"/>
<path class="v17" d="M5844 6466l105-36-37-4-105 37z"/>
<path class="v15" d="M5520 6522l107-37-35-10-108 37z"/>
<path class="v14" d="M5196 6563l110-37-35-13-110 37z"/>
<path class="v20" d="M6168 6383l103-36-39 9-103 35z"/>
<path class="v16" d="M5700 6499l107-36-37-7-106 37z"/>
<path class="v15" d="M5375 6549l109-37-35-11-109 37z"/>
<path class="v19" d="M6025 6428l104-37-38 4-104 36z"/>
<path class="v22" d="M6318 6324l102-35-7 5-102 35z"/>
<path class="v22" d="M6326 6318l102-35-8 6-102 35z"/>
<path class="v16" d="M5556 6530l108-37-37-8-107 37z"/>
<path class="v18" d="M5881 6468l106-37-38-1-105 36z"/>
<path class="v14" d="M5230 6575l110-37-34-12-110 37z"/>
<path class="v23" d="M6333 6312l102-36-7 7-102 35z"/>
<path class="v23" d="M6341 6305l102-36-8 7-102 36z"/>
<path class="v21" d="M6207 6365l104-36-40 18-103 36z"/>
<path class="v17" d="M5737 6504l107-38-37-3-107 36z"/>
<path class="v15" d="M5411 6559l109-37-36-10-109 37z"/>
<path class="v24" d="M6348 6297l103-36-8 8-102 36z"/>
<path class="v20" d="M6063 6419l105-36-39 8-104 37z"/>
<path class="v24" d="M6356 6288l102-35-7 8-103 36z"/>
<path class="v16" d="M5592 6537l108-38-36-6-108 37z"/>
<path class="v15" d="M5265 6587l110-38-35-11-110 37z"/>
<path class="v19" d="M5919 6465l106-37-38 3-106 37z"/>
<path class="v22" d="M6215 6360l103-36-7 5-104 36z"/>
<path class="v25" d="M6364 6279l102-36-8 10-102 35z"/>
<path class="v22" d="M6222 6355l104-37-8 6-103 36z"/>
<path class="v25" d="M6371 6268l103-36-8 11-102 36z"/>
<path class="v16" d="M5446 6568l110-38-36-8-109 37z"/>
<path class="v18" d="M5774 6505l107-37-37-2-107 38z"/>
<path class="v23" d="M6230 6348l103-36-7 6-104 37z"/>
<path class="v26" d="M6379 6256l103-36-8 12-103 36z"/>
<path class="v23" d="M6237 6341l104-36-8 7-103 36z"/>
<path class="v21" d="M6102 6402l105-37-39 18-105 36z"/>
<path class="v17" d="M5628 6541l109-37-37-5-108 38z"/>
<path class="v15" d="M5300 6597l111-38-36-10-110 38z"/>
<path class="v27" d="M6387 6242l103-36-8 14-103 36z"/>
<path class="v24" d="M6245 6333l103-36-7 8-104 36z"/>
<path class="v20" d="M5957 6456l106-37-38 9-106 37z"/>
<path class="v24" d="M6252 6325l104-37-8 9-103 36z"/>
<path class="v28" d="M6395 6226l103-35-8 15-103 36z"/>
<path class="v16" d="M5482 6575l110-38-36-7-110 38z"/>
<path class="v19" d="M5811 6502l108-37-38 3-107 37z"/>
<path class="v22" d="M6110 6397l105-37-8 5-105 37z"/>
<path class="v25" d="M6260 6315l104-36-8 9-104 37z"/>
<path class="v28" d="M6403 6209l103-35-8 17-103 35z"/>
<path class="v22" d="M6117 6391l105-36-7 5-105 37z"/>
<path class="v25" d="M6267 6304l104-36-7 11-104 36z"/>
<path class="v16" d="M5335 6606l111-38-35-9-111 38z"/>
<path class="v18" d="M5665 6543l109-38-37-1-109 37z"/>
<path class="v23" d="M6124 6385l106-37-8 7-105 36z"/>
<path class="v29" d="M6411 6192l103-35-8 17-103 35z"/>
<path class="v26" d="M6275 6292l104-36-8 12-104 36z"/>
<path class="v23" d="M6132 6378l105-37-7 7-106 37z"/>
<path class="v21" d="M5996 6439l106-37-39 17-106 37z"/>
<path class="v30" d="M6419 6177l103-36-8 16-103 35z"/>
<path class="v17" d="M5518 6579l110-38-36-4-110 38z"/>
<path class="v27" d="M6283 6278l104-36-8 14-104 36z"/>
<path class="v24" d="M6139 6370l106-37-8 8-105 37z"/>
<path class="v20" d="M5849 6494l108-38-38 9-108 37z"/>
<path class="v31" d="M6427 6158l103-35-8 18-103 36z"/>
<path class="v24" d="M6147 6361l105-36-7 8-106 37z"/>
<path class="v28" d="M6290 6262l105-36-8 16-104 36z"/>
<path class="v16" d="M5371 6613l111-38-36-7-111 38z"/>
<path class="v19" d="M5703 6541l108-39-37 3-109 38z"/>
<path class="v22" d="M6003 6434l107-37-8 5-106 37z"/>
<path class="v25" d="M6154 6351l106-36-8 10-105 36z"/>
<path class="v32" d="M6435 6128l104-35-9 30-103 35z"/>
<path class="v28" d="M6298 6245l105-36-8 17-105 36z"/>
<path class="v22" d="M6010 6429l107-38-7 6-107 37z"/>
<path class="v25" d="M6162 6340l105-36-7 11-106 36z"/>
<path class="v18" d="M5555 6581l110-38-37-2-110 38z"/>
<path class="v23" d="M6018 6422l106-37-7 6-107 38z"/>
<path class="v29" d="M6306 6228l105-36-8 17-105 36z"/>
<path class="v34" d="M6444 6094l103-35-8 34-104 35z"/>
<path class="v26" d="M6169 6328l106-36-8 12-105 36z"/>
<path class="v23" d="M6025 6415l107-37-8 7-106 37z"/>
<path class="v21" d="M5888 6477l108-38-39 17-108 38z"/>
<path class="v30" d="M6314 6212l105-35-8 15-105 36z"/>
<path class="v17" d="M5407 6618l111-39-36-4-111 38z"/>
<path class="v27" d="M6177 6314l106-36-8 14-106 36z"/>
<path class="v24" d="M6032 6407l107-37-7 8-107 37z"/>
<path class="v20" d="M5740 6532l109-38-38 8-108 39z"/>
<path class="v35" d="M6452 6053l104-35-9 41-103 35z"/>
<path class="v31" d="M6322 6193l105-35-8 19-105 35z"/>
<path class="v24" d="M6040 6398l107-37-8 9-107 37z"/>
<path class="v28" d="M6184 6299l106-37-7 16-106 36z"/>
<path class="v19" d="M5592 6579l111-38-38 2-110 38z"/>
<path class="v22" d="M5895 6472l108-38-7 5-108 38z"/>
<path class="v25" d="M6047 6389l107-38-7 10-107 37z"/>
<path class="v32" d="M6330 6164l105-36-8 30-105 35z"/>
<path class="v28" d="M6192 6281l106-36-8 17-106 37z"/>
<path class="v36" d="M6462 6002l104-34-10 50-104 35z"/>
<path class="v22" d="M5902 6466l108-37-7 5-108 38z"/>
<path class="v25" d="M6054 6378l108-38-8 11-107 38z"/>
<path class="v18" d="M5443 6620l112-39-37-2-111 39z"/>
<path class="v23" d="M5909 6460l109-38-8 7-108 37z"/>
<path class="v29" d="M6200 6264l106-36-8 17-106 36z"/>
<path class="v34" d="M6338 6130l106-36-9 34-105 36z"/>
<path class="v26" d="M6062 6365l107-37-7 12-108 38z"/>
<path class="v23" d="M5917 6453l108-38-7 7-109 38z"/>
<path class="v21" d="M5778 6515l110-38-39 17-109 38z"/>
<path class="v30" d="M6208 6249l106-37-8 16-106 36z"/>
<path class="v36" d="M6471 5939l105-34-10 63-104 34z"/>
<path class="v27" d="M6069 6352l108-38-8 14-107 37z"/>
<path class="v24" d="M5924 6445l108-38-7 8-108 38z"/>
<path class="v20" d="M5629 6571l111-39-37 9-111 38z"/>
<path class="v35" d="M6347 6088l105-35-8 41-106 36z"/>
<path class="v31" d="M6215 6230l107-37-8 19-106 37z"/>
<path class="v24" d="M5931 6436l109-38-8 9-108 38z"/>
<path class="v28" d="M6077 6336l107-37-7 15-108 38z"/>
<path class="v19" d="M5480 6618l112-39-37 2-112 39z"/>
<path class="v22" d="M5785 6510l110-38-7 5-110 38z"/>
<path class="v25" d="M5938 6426l109-37-7 9-109 38z"/>
<path class="v32" d="M6223 6200l107-36-8 29-107 37z"/>
<path class="v28" d="M6085 6318l107-37-8 18-107 37z"/>
<path class="v36" d="M6356 6037l106-35-10 51-105 35z"/>
<path class="v22" d="M5792 6505l110-39-7 6-110 38z"/>
<path class="v36" d="M6481 5855l105-34-10 84-105 34z"/>
<path class="v25" d="M5946 6415l108-37-7 11-109 37z"/>
<path class="v23" d="M5799 6498l110-38-7 6-110 39z"/>
<path class="v29" d="M6092 6301l108-37-8 17-107 37z"/>
<path class="v34" d="M6232 6165l106-35-8 34-107 36z"/>
<path class="v26" d="M5953 6403l109-38-8 13-108 37z"/>
<path class="v23" d="M5807 6491l110-38-8 7-110 38z"/>
<path class="v21" d="M5667 6554l111-39-38 17-111 39z"/>
<path class="v30" d="M6100 6286l108-37-8 15-108 37z"/>
<path class="v36" d="M6365 5973l106-34-9 63-106 35z"/>
<path class="v27" d="M5960 6389l109-37-7 13-109 38z"/>
<path class="v24" d="M5814 6483l110-38-7 8-110 38z"/>
<path class="v20" d="M5517 6610l112-39-37 8-112 39z"/>
<path class="v35" d="M6240 6124l107-36-9 42-106 35z"/>
<path class="v31" d="M6107 6266l108-36-7 19-108 37z"/>
<path class="v24" d="M5821 6474l110-38-7 9-110 38z"/>
<path class="v28" d="M5968 6373l109-37-8 16-109 37z"/>
<path class="v22" d="M5674 6549l111-39-7 5-111 39z"/>
<path class="v25" d="M5828 6465l110-39-7 10-110 38z"/>
<path class="v32" d="M6115 6237l108-37-8 30-108 36z"/>
<path class="v28" d="M5975 6356l110-38-8 18-109 37z"/>
<path class="v36" d="M6248 6073l108-36-9 51-107 36z"/>
<path class="v22" d="M5681 6544l111-39-7 5-111 39z"/>
<path class="v36" d="M6375 5889l106-34-10 84-106 34z"/>
<path class="v25" d="M5835 6454l111-39-8 11-110 39z"/>
<path class="v23" d="M5688 6537l111-39-7 7-111 39z"/>
<path class="v29" d="M5983 6339l109-38-7 17-110 38z"/>
<path class="v34" d="M6123 6202l109-37-9 35-108 37z"/>
<path class="v26" d="M5842 6441l111-38-7 12-111 39z"/>
<path class="v23" d="M5695 6530l112-39-8 7-111 39z"/>
<path class="v21" d="M5554 6594l113-40-38 17-112 39z"/>
<path class="v30" d="M5990 6323l110-37-8 15-109 38z"/>
<path class="v36" d="M6257 6008l108-35-9 64-108 36z"/>
<path class="v27" d="M5850 6427l110-38-7 14-111 38z"/>
<path class="v24" d="M5702 6522l112-39-7 8-112 39z"/>
<path class="v35" d="M6131 6160l109-36-8 41-109 37z"/>
<path class="v31" d="M5998 6304l109-38-7 20-110 37z"/>
<path class="v24" d="M5709 6513l112-39-7 9-112 39z"/>
<path class="v28" d="M5857 6412l111-39-8 16-110 38z"/>
<path class="v22" d="M5561 6589l113-40-7 5-113 40z"/>
<path class="v25" d="M5716 6503l112-38-7 9-112 39z"/>
<path class="v32" d="M6005 6274l110-37-8 29-109 38z"/>
<path class="v28" d="M5864 6394l111-38-7 17-111 39z"/>
<path class="v36" d="M6139 6109l109-36-8 51-109 36z"/>
<path class="v22" d="M5568 6583l113-39-7 5-113 40z"/>
<path class="v36" d="M6267 5924l108-35-10 84-108 35z"/>
<path class="v25" d="M5723 6492l112-38-7 11-112 38z"/>
<path class="v23" d="M5575 6577l113-40-7 7-113 39z"/>
<path class="v29" d="M5872 6377l111-38-8 17-111 38z"/>
<path class="v34" d="M6013 6239l110-37-8 35-110 37z"/>
<path class="v26" d="M5730 6480l112-39-7 13-112 38z"/>
<path class="v23" d="M5581 6570l114-40-7 7-113 40z"/>
<path class="v30" d="M5879 6361l111-38-7 16-111 38z"/>
<path class="v36" d="M6148 6044l109-36-9 65-109 36z"/>
<path class="v27" d="M5737 6466l113-39-8 14-112 39z"/>
<path class="v24" d="M5588 6562l114-40-7 8-114 40z"/>
<path class="v35" d="M6021 6197l110-37-8 42-110 37z"/>
<path class="v31" d="M5886 6342l112-38-8 19-111 38z"/>
<path class="v24" d="M5595 6553l114-40-7 9-114 40z"/>
<path class="v28" d="M5745 6450l112-38-7 15-113 39z"/>
<path class="v25" d="M5602 6543l114-40-7 10-114 40z"/>
<path class="v32" d="M5894 6311l111-37-7 30-112 38z"/>
<path class="v28" d="M5752 6432l112-38-7 18-112 38z"/>
<path class="v36" d="M6029 6145l110-36-8 51-110 37z"/>
<path class="v36" d="M6157 5959l110-35-10 84-109 36z"/>
<path class="v25" d="M5609 6532l114-40-7 11-114 40z"/>
<path class="v29" d="M5759 6415l113-38-8 17-112 38z"/>
<path class="v34" d="M5901 6276l112-37-8 35-111 37z"/>
<path class="v26" d="M5616 6519l114-39-7 12-114 40z"/>
<path class="v30" d="M5766 6399l113-38-7 16-113 38z"/>
<path class="v36" d="M6037 6080l111-36-9 65-110 36z"/>
<path class="v27" d="M5623 6505l114-39-7 14-114 39z"/>
<path class="v35" d="M5909 6234l112-37-8 42-112 37z"/>
<path class="v31" d="M5773 6380l113-38-7 19-113 38z"/>
<path class="v28" d="M5630 6490l115-40-8 16-114 39z"/>
<path class="v32" d="M5781 6350l113-39-8 31-113 38z"/>
<path class="v28" d="M5637 6472l115-40-7 18-115 40z"/>
<path class="v36" d="M5916 6182l113-37-8 52-112 37z"/>
<path class="v36" d="M6045 5995l112-36-9 85-111 36z"/>
<path class="v29" d="M5644 6454l115-39-7 17-115 40z"/>
<path class="v34" d="M5788 6315l113-39-7 35-113 39z"/>
<path class="v30" d="M5651 6439l115-40-7 16-115 39z"/>
<path class="v36" d="M5924 6117l113-37-8 65-113 37z"/>
<path class="v35" d="M5795 6272l114-38-8 42-113 39z"/>
<path class="v31" d="M5659 6419l114-39-7 19-115 40z"/>
<path class="v32" d="M5666 6389l115-39-8 30-114 39z"/>
<path class="v36" d="M5802 6220l114-38-7 52-114 38z"/>
<path class="v36" d="M5932 6031l113-36-8 85-113 37z"/>
<path class="v34" d="M5673 6353l115-38-7 35-115 39z"/>
<path class="v36" d="M5810 6154l114-37-8 65-114 38z"/>
<path class="v35" d="M5680 6311l115-39-7 43-115 38z"/>
<path class="v36" d="M5687 6258l115-38-7 52-115 39z"/>
<path class="v36" d="M5817 6068l115-37-8 86-114 37z"/>
<path class="v36" d="M5693 6192l117-38-8 66-115 38z"/>
<path class="v36" d="M5700 6105l117-37-7 86-117 38z"/><path class="eq" style="stroke:#24123e" d="M5641 6461l29-26 25-25 37-13 22-12 9-4 28-9 19-11 37-14 39-22 649-220"/><circle cx="5754" cy="6385" r="32" style="fill:#3b2a60"/>
</g>
<text class="tl" x="584.7" y="718.2">0</text>
<text class="tl" x="612.6" y="707.3">10</text>
<text class="tl" x="639.4" y="696.8">20</text>
<text class="tl" x="665.3" y="686.7">30</text>
<text class="al" x="642.2" y="718" transform="rotate(-21 642.2 718)">Copper price ($/kg)</text>
<text class="tl" x="560.4" y="716.7">0</text>
<text class="tl" x="545.2" y="706.7">100</text>
<text class="tl" x="530.5" y="697.1">200</text>
<text class="tl" x="516.3" y="687.7">300</text>
<text class="tl" x="502.5" y="678.7">400</text>
<text class="al" x="509.8" y="709.8" transform="rotate(-327.3 509.8 709.8)">Cobalt price ($/kg)</text>
<text class="tl" x="488" y="656.2">20</text>
<text class="tl" x="487.4" y="641.9">30</text>
<text class="tl" x="486.8" y="627.4">40</text>
<text class="tl" x="486.1" y="612.7">50</text>
<text class="tl" x="485.5" y="597.9">60</text>
<text class="tl" x="484.9" y="582.8">70</text>
<text class="al" x="461.7" y="614.9" transform="rotate(-272.2 461.7 614.9)">Supply (kt)</text>
<text x="204.5" y="8" style="font-size:11.6px;text-anchor:middle">Copper supply surface</text>
<text x="507.8" y="8" style="font-size:11.6px;text-anchor:middle">Cobalt supply surface</text>
<text x="204.5" y="262.5" style="font-size:11.6px;text-anchor:middle">Copper supply &amp; demand surfaces</text>
<text x="507.8" y="262.5" style="font-size:11.6px;text-anchor:middle">Cobalt supply &amp; demand surfaces</text>
<text x="126.4" y="526.4" style="font-size:11.6px;text-anchor:middle">Supply-demand surface</text>
<text x="126.5" y="538.6" style="font-size:11.6px;text-anchor:middle">intersection lines</text>
<text x="356.2" y="528.3" style="font-size:11.6px;text-anchor:middle">Copper supply &amp; demand</text>
<text x="356.2" y="540.7" style="font-size:11.6px;text-anchor:middle">surfaces with equilibrium point</text>
<text x="581.2" y="528.3" style="font-size:11.6px;text-anchor:middle">Cobalt supply &amp; demand</text>
<text x="581.2" y="540.7" style="font-size:11.6px;text-anchor:middle">surfaces with equilibrium point</text>
<text x="56.3" y="8" style="font-size:10.4px;text-anchor:start">a)</text>
<text x="359.7" y="8" style="font-size:10.4px;text-anchor:start">b)</text>
<text x="56.6" y="262.5" style="font-size:10.4px;text-anchor:start">c)</text>
<text x="359.9" y="262.5" style="font-size:10.4px;text-anchor:start">d)</text>
<text x="5.3" y="526.2" style="font-size:10.4px;text-anchor:start">e)</text>
<text x="240.2" y="528.6" style="font-size:10.4px;text-anchor:start">f)</text>
<text x="465" y="528.6" style="font-size:10.4px;text-anchor:start">g)</text>
<path d="M34.5 542.6V710.5M72.8 542.6V710.5M111.1 542.6V710.5M149.4 542.6V710.5M187.7 542.6V710.5M34.5 691.8H218.3M34.5 668.5H218.3M34.5 645.2H218.3M34.5 621.9H218.3M34.5 598.6H218.3M34.5 575.2H218.3M34.5 551.9H218.3" fill="none" stroke="#d2d2d2" stroke-width=".45"/>
<path d="M34.5 710.5v-3.5M72.8 710.5v-3.5M111.1 710.5v-3.5M149.4 710.5v-3.5M187.7 710.5v-3.5M34.5 691.8h3.5M34.5 668.5h3.5M34.5 645.2h3.5M34.5 621.9h3.5M34.5 598.6h3.5M34.5 575.2h3.5M34.5 551.9h3.5" fill="none" stroke="#000" stroke-width="1.2"/>
<clipPath id="ce"><rect x="34.5" y="542.6" width="183.8" height="167.9"/></clipPath>
<g clip-path="url(#ce)"><path d="M42.2 531.4L44.8 542.9L54.3 588.1L74 588.1L85 596.1L90.1 596.8L104.8 596.8L114.9 603L134.1 607L154.3 619.3L221.4 619.3" fill="none" stroke="#7570b3" stroke-width="2.4" stroke-linejoin="round"/>
<path d="M84.9 542.6V710.5" stroke="#d95f02" stroke-width="2.4"/></g>
<circle cx="84.9" cy="596.1" r="3.9" fill="#000"/>
<rect x="34.5" y="542.6" width="183.8" height="167.9" fill="none" stroke="#000" stroke-width="1.8"/>
<path d="M142 556.1H164.8" stroke="#d95f02" stroke-width="2.4"/><path d="M142 570.4H164.8" stroke="#7570b3" stroke-width="2.4"/>
<text x="172.3" y="559.8" style="font-size:10.6px;text-anchor:start">Copper</text>
<text x="172.4" y="574.1" style="font-size:10.5px;text-anchor:start">Cobalt</text>
<text x="91.8" y="589.9" style="font-size:10.65px;text-anchor:start">Eq. price comb.</text>
<text class="tl" x="34.5" y="720.6">0.0</text>
<text class="tl" x="72.8" y="720.6">2.5</text>
<text class="tl" x="111.1" y="720.6">5.0</text>
<text class="tl" x="149.4" y="720.6">7.5</text>
<text class="tl" x="187.7" y="720.6">10.0</text>
<text class="tl" x="32.2" y="695.5" style="text-anchor:end">40.0</text>
<text class="tl" x="32.2" y="672.2" style="text-anchor:end">42.5</text>
<text class="tl" x="32.2" y="648.9" style="text-anchor:end">45.0</text>
<text class="tl" x="32.2" y="625.5" style="text-anchor:end">47.5</text>
<text class="tl" x="32.2" y="602.2" style="text-anchor:end">50.0</text>
<text class="tl" x="32.2" y="578.9" style="text-anchor:end">52.5</text>
<text class="tl" x="32.2" y="555.6" style="text-anchor:end">55.0</text>
<text class="al" x="127" y="732.7" style="font-size:10.6px">Copper price ($/kg)</text>
<text class="al" x="8" y="626.7" transform="rotate(-90 8 626.7)">Cobalt price ($/kg)</text>
</svg></body></html>
